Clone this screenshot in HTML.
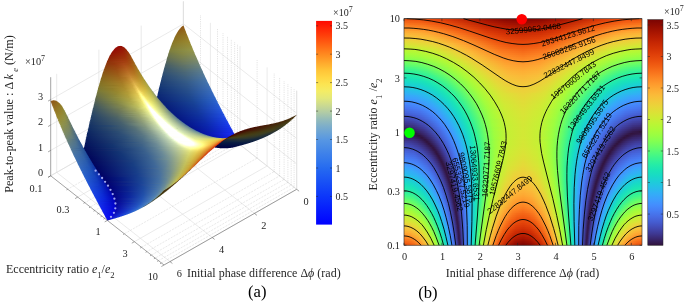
<!DOCTYPE html>
<html><head><meta charset="utf-8"><title>figure</title>
<style>html,body{margin:0;padding:0;background:#fff}svg{display:block}text{font-family:"Liberation Serif",serif}.ss text{font-family:"Liberation Sans",sans-serif}</style>
</head><body>
<svg width="685" height="303" viewBox="0 0 685 303">
<rect width="685" height="303" fill="#fff"/>
<path d="M183.4,100.1L296.7,189.3M183.4,100.1L183.4,1.5M141.2,124.2L254.5,213.4M141.2,124.2L141.2,25.6M98.9,148.3L212.2,237.5M98.9,148.3L98.9,49.7M56.7,172.4L170.0,261.6M56.7,172.4L56.7,73.8M183.4,100.1L50.7,175.8M183.4,100.1L183.4,1.5M210.4,121.4L77.7,197.1M210.4,121.4L210.4,22.8M240.0,144.7L107.3,220.4M240.0,144.7L240.0,46.1M267.1,166.0L134.4,241.7M267.1,166.0L267.1,67.4M296.7,189.3L164.0,265.0M296.7,189.3L296.7,90.7M50.7,175.8L183.4,100.1L296.7,189.3M50.7,150.4L183.4,74.7L296.7,163.9M50.7,125.0L183.4,49.3L296.7,138.5M50.7,99.6L183.4,23.9L296.7,113.1M183.4,100.1L183.4,1.5M296.7,189.3L296.7,90.7" fill="none" stroke="#dcdcdc" stroke-width="0.6"/><path d="M200.5,113.5L67.8,189.2M200.5,113.5L200.5,15.0M217.5,127.0L84.8,202.7M217.5,127.0L217.5,28.4M223.0,131.3L90.3,207.0M223.0,131.3L223.0,32.7M227.5,134.8L94.8,210.5M227.5,134.8L227.5,36.3M231.3,137.8L98.6,213.5M231.3,137.8L231.3,39.2M234.6,140.4L101.9,216.1M234.6,140.4L234.6,41.8M237.5,142.7L104.8,218.4M237.5,142.7L237.5,44.1M257.1,158.1L124.4,233.8M257.1,158.1L257.1,59.6M274.2,171.6L141.5,247.3M274.2,171.6L274.2,73.0M279.6,175.9L146.9,251.6M279.6,175.9L279.6,77.3M284.1,179.4L151.4,255.1M284.1,179.4L284.1,80.9M287.9,182.4L155.2,258.1M287.9,182.4L287.9,83.8M291.2,185.0L158.5,260.7M291.2,185.0L291.2,86.4M294.1,187.3L161.4,263.0M294.1,187.3L294.1,88.7" fill="none" stroke="#bcbcbc" stroke-width="0.55" stroke-dasharray="0.7 1.1"/><defs><linearGradient id="s7"><stop offset=".125" stop-color="#905817" stop-opacity="0"/><stop offset=".375" stop-color="#905817" stop-opacity="0.06"/><stop offset=".625" stop-color="#905817" stop-opacity="0.19"/><stop offset=".875" stop-color="#905817" stop-opacity="0"/></linearGradient><linearGradient id="s8"><stop offset=".1" stop-color="#8f5817" stop-opacity="0"/><stop offset=".3" stop-color="#8f5817" stop-opacity="0.19"/><stop offset=".5" stop-color="#905817" stop-opacity="0.88"/><stop offset=".7" stop-color="#905917" stop-opacity="0.88"/><stop offset=".9" stop-color="#905917" stop-opacity="0"/></linearGradient><linearGradient id="s9"><stop offset=".071" stop-color="#8f5a18" stop-opacity="0"/><stop offset=".214" stop-color="#8f5a18" stop-opacity="0.19"/><stop offset=".357" stop-color="#8f5918" stop-opacity="0.94"/><stop offset=".5" stop-color="#905a18"/><stop offset=".643" stop-color="#905c18"/><stop offset=".786" stop-color="#905c18" stop-opacity="0.25"/><stop offset=".929" stop-color="#905c18" stop-opacity="0"/></linearGradient><linearGradient id="s10"><stop offset=".062" stop-color="#8f5c19" stop-opacity="0"/><stop offset=".188" stop-color="#8f5c19" stop-opacity="0.12"/><stop offset=".312" stop-color="#8f5a18" stop-opacity="0.81"/><stop offset=".438" stop-color="#8f5b18"/><stop offset=".688" stop-color="#905e1a"/><stop offset=".812" stop-color="#915f1a" stop-opacity="0.56"/><stop offset=".938" stop-color="#915f1a" stop-opacity="0"/></linearGradient><linearGradient id="s11"><stop offset=".056" stop-color="#8e5d19" stop-opacity="0"/><stop offset=".167" stop-color="#8e5d19" stop-opacity="0.75"/><stop offset=".278" stop-color="#8f5d19"/><stop offset=".611" stop-color="#91621b"/><stop offset=".722" stop-color="#91631b" stop-opacity="0.94"/><stop offset=".833" stop-color="#92651c" stop-opacity="0.06"/><stop offset=".944" stop-color="#92651c" stop-opacity="0"/></linearGradient><linearGradient id="s12"><stop offset=".05" stop-color="#8e5f1a" stop-opacity="0"/><stop offset=".15" stop-color="#8e5f1a" stop-opacity="0.56"/><stop offset=".25" stop-color="#8e5f1a"/><stop offset=".75" stop-color="#92661c"/><stop offset=".85" stop-color="#92681d" stop-opacity="0.38"/><stop offset=".95" stop-color="#92681d" stop-opacity="0"/></linearGradient><linearGradient id="s13"><stop offset=".045" stop-color="#8d621b" stop-opacity="0"/><stop offset=".136" stop-color="#8d621b" stop-opacity="0.19"/><stop offset=".227" stop-color="#8d611b"/><stop offset=".773" stop-color="#92691e"/><stop offset=".864" stop-color="#926a1e" stop-opacity="0.81"/><stop offset=".955" stop-color="#926a1e" stop-opacity="0"/></linearGradient><linearGradient id="s14"><stop offset=".042" stop-color="#8d641c" stop-opacity="0"/><stop offset=".125" stop-color="#8d641c" stop-opacity="0.81"/><stop offset=".208" stop-color="#8e641c"/><stop offset=".792" stop-color="#936e20"/><stop offset=".875" stop-color="#936f20" stop-opacity="0.12"/><stop offset=".958" stop-color="#936f20" stop-opacity="0"/></linearGradient><linearGradient id="s15"><stop offset=".038" stop-color="#8c671d" stop-opacity="0"/><stop offset=".115" stop-color="#8c671d" stop-opacity="0.38"/><stop offset=".192" stop-color="#8d661d"/><stop offset=".808" stop-color="#937021"/><stop offset=".962" stop-color="#937222" stop-opacity="0"/></linearGradient><linearGradient id="s16"><stop offset=".036" stop-color="#8c6a1e" stop-opacity="0"/><stop offset=".107" stop-color="#8c6a1e" stop-opacity="0.06"/><stop offset=".179" stop-color="#8c691e" stop-opacity="0.88"/><stop offset=".25" stop-color="#8d691e"/><stop offset=".821" stop-color="#937322"/><stop offset=".893" stop-color="#947423" stop-opacity="0.94"/><stop offset=".964" stop-color="#947423" stop-opacity="0"/></linearGradient><linearGradient id="s17"><stop offset=".033" stop-color="#8c6d20" stop-opacity="0"/><stop offset=".167" stop-color="#8c6c1f"/><stop offset=".833" stop-color="#947624"/><stop offset=".9" stop-color="#947725" stop-opacity="0.38"/><stop offset=".967" stop-color="#947725" stop-opacity="0"/></linearGradient><linearGradient id="s18"><stop offset=".031" stop-color="#8b6f21" stop-opacity="0"/><stop offset=".094" stop-color="#8b6f21" stop-opacity="0.06"/><stop offset=".156" stop-color="#8c6e20" stop-opacity="0.94"/><stop offset=".219" stop-color="#8c6e20"/><stop offset=".844" stop-color="#957826"/><stop offset=".906" stop-color="#957a26" stop-opacity="0.75"/><stop offset=".969" stop-color="#957a26" stop-opacity="0"/></linearGradient><linearGradient id="s19"><stop offset=".029" stop-color="#8b7022" stop-opacity="0"/><stop offset=".147" stop-color="#8b6f21"/><stop offset=".853" stop-color="#957c28"/><stop offset=".912" stop-color="#967d28" stop-opacity="0.19"/><stop offset=".971" stop-color="#967d28" stop-opacity="0"/></linearGradient><linearGradient id="s20"><stop offset=".029" stop-color="#8b7123" stop-opacity="0"/><stop offset=".088" stop-color="#8b7123" stop-opacity="0.88"/><stop offset=".147" stop-color="#8b7123"/><stop offset=".853" stop-color="#967e29"/><stop offset=".912" stop-color="#977f2a" stop-opacity="0.56"/><stop offset=".971" stop-color="#977f2a" stop-opacity="0"/></linearGradient><linearGradient id="s21"><stop offset=".028" stop-color="#8a7425" stop-opacity="0"/><stop offset=".083" stop-color="#8a7425" stop-opacity="0.25"/><stop offset=".139" stop-color="#8b7224"/><stop offset=".861" stop-color="#96802b"/><stop offset=".917" stop-color="#97812b" stop-opacity="0.88"/><stop offset=".972" stop-color="#97812b" stop-opacity="0"/></linearGradient><linearGradient id="s22"><stop offset=".026" stop-color="#8a7526" stop-opacity="0"/><stop offset=".079" stop-color="#8a7526" stop-opacity="0.75"/><stop offset=".132" stop-color="#8b7525"/><stop offset=".868" stop-color="#98842d"/><stop offset=".921" stop-color="#98842d" stop-opacity="0.38"/><stop offset=".974" stop-color="#98842d" stop-opacity="0"/></linearGradient><linearGradient id="s23"><stop offset=".025" stop-color="#8a7727" stop-opacity="0"/><stop offset=".075" stop-color="#8a7727" stop-opacity="0.19"/><stop offset=".125" stop-color="#8a7727"/><stop offset=".875" stop-color="#98862e"/><stop offset=".925" stop-color="#98872f" stop-opacity="0.75"/><stop offset=".975" stop-color="#98872f" stop-opacity="0"/></linearGradient><linearGradient id="s24"><stop offset=".024" stop-color="#897a2a" stop-opacity="0"/><stop offset=".071" stop-color="#897a2a" stop-opacity="0.62"/><stop offset=".119" stop-color="#8a7928"/><stop offset=".881" stop-color="#988831"/><stop offset=".929" stop-color="#988932" stop-opacity="0.19"/><stop offset=".976" stop-color="#988932" stop-opacity="0"/></linearGradient><linearGradient id="s25"><stop offset=".023" stop-color="#877b2e" stop-opacity="0"/><stop offset=".068" stop-color="#877b2e" stop-opacity="0.06"/><stop offset=".114" stop-color="#897a2b"/><stop offset=".886" stop-color="#978a34"/><stop offset=".977" stop-color="#978a35" stop-opacity="0"/></linearGradient><linearGradient id="s26"><stop offset=".023" stop-color="#877b2e" stop-opacity="0"/><stop offset=".068" stop-color="#877b2e" stop-opacity="0.38"/><stop offset=".114" stop-color="#887b2e"/><stop offset=".886" stop-color="#968b36"/><stop offset=".932" stop-color="#978c37" stop-opacity="0.94"/><stop offset=".977" stop-color="#978c37" stop-opacity="0"/></linearGradient><linearGradient id="s27"><stop offset=".007" stop-color="#950b02" stop-opacity="0"/><stop offset=".02" stop-color="#950b02" stop-opacity="0.06"/><stop offset=".034" stop-color="#950b02" stop-opacity="0"/><stop offset=".696" stop-color="#867c31" stop-opacity="0"/><stop offset=".709" stop-color="#867c31" stop-opacity="0.75"/><stop offset=".723" stop-color="#867c30"/><stop offset=".966" stop-color="#968d3a"/><stop offset=".98" stop-color="#968e3a" stop-opacity="0.38"/><stop offset=".993" stop-color="#968e3a" stop-opacity="0"/></linearGradient><linearGradient id="s28"><stop offset=".006" stop-color="#960903" stop-opacity="0"/><stop offset=".019" stop-color="#960903" stop-opacity="0.5"/><stop offset=".032" stop-color="#960903" stop-opacity="0.88"/><stop offset=".045" stop-color="#950a02"/><stop offset=".071" stop-color="#950e02"/><stop offset=".097" stop-color="#961704" stop-opacity="0.12"/><stop offset=".11" stop-color="#961704" stop-opacity="0"/><stop offset=".695" stop-color="#847d33" stop-opacity="0"/><stop offset=".708" stop-color="#847d33" stop-opacity="0.19"/><stop offset=".721" stop-color="#857d32"/><stop offset=".968" stop-color="#968e3c"/><stop offset=".981" stop-color="#96903d" stop-opacity="0.88"/><stop offset=".994" stop-color="#96903d" stop-opacity="0"/></linearGradient><linearGradient id="s29"><stop offset=".006" stop-color="#960b04" stop-opacity="0"/><stop offset=".019" stop-color="#960b04" stop-opacity="0.25"/><stop offset=".031" stop-color="#960a04" stop-opacity="0.81"/><stop offset=".044" stop-color="#960a04"/><stop offset=".106" stop-color="#961303"/><stop offset=".119" stop-color="#961704" stop-opacity="0.94"/><stop offset=".131" stop-color="#961c05" stop-opacity="0.44"/><stop offset=".144" stop-color="#961c05" stop-opacity="0"/><stop offset=".256" stop-color="#961c05" stop-opacity="0"/><stop offset=".694" stop-color="#827e36" stop-opacity="0"/><stop offset=".719" stop-color="#847e34"/><stop offset=".969" stop-color="#959140"/><stop offset=".981" stop-color="#959140" stop-opacity="0.25"/><stop offset=".994" stop-color="#959140" stop-opacity="0"/></linearGradient><linearGradient id="s30"><stop offset=".006" stop-color="#950c04" stop-opacity="0"/><stop offset=".019" stop-color="#950c04" stop-opacity="0.25"/><stop offset=".031" stop-color="#960b04" stop-opacity="0.94"/><stop offset=".043" stop-color="#970c05"/><stop offset=".142" stop-color="#961d05"/><stop offset=".154" stop-color="#962306" stop-opacity="0.44"/><stop offset=".167" stop-color="#962306" stop-opacity="0"/><stop offset=".29" stop-color="#962306" stop-opacity="0"/><stop offset=".698" stop-color="#827e37" stop-opacity="0"/><stop offset=".71" stop-color="#827e37" stop-opacity="0.81"/><stop offset=".722" stop-color="#827f38"/><stop offset=".969" stop-color="#959242"/><stop offset=".981" stop-color="#959343" stop-opacity="0.69"/><stop offset=".994" stop-color="#959343" stop-opacity="0"/></linearGradient><linearGradient id="s31"><stop offset=".006" stop-color="#940e05" stop-opacity="0"/><stop offset=".018" stop-color="#940e05" stop-opacity="0.12"/><stop offset=".03" stop-color="#950d04" stop-opacity="0.94"/><stop offset=".042" stop-color="#960e05"/><stop offset=".114" stop-color="#981504"/><stop offset=".163" stop-color="#972406"/><stop offset=".175" stop-color="#962907" stop-opacity="0.44"/><stop offset=".187" stop-color="#962907" stop-opacity="0"/><stop offset=".199" stop-color="#962907" stop-opacity="0"/><stop offset=".681" stop-color="#80803b" stop-opacity="0"/><stop offset=".693" stop-color="#80803b" stop-opacity="0.25"/><stop offset=".705" stop-color="#80803a"/><stop offset=".958" stop-color="#949445"/><stop offset=".97" stop-color="#959446" stop-opacity="0.94"/><stop offset=".982" stop-color="#939448" stop-opacity="0.06"/><stop offset=".994" stop-color="#939448" stop-opacity="0"/></linearGradient><linearGradient id="s32"><stop offset=".006" stop-color="#931005" stop-opacity="0"/><stop offset=".018" stop-color="#931005" stop-opacity="0.06"/><stop offset=".03" stop-color="#940f05" stop-opacity="0.81"/><stop offset=".042" stop-color="#950f05"/><stop offset=".149" stop-color="#981c05"/><stop offset=".185" stop-color="#972b08"/><stop offset=".196" stop-color="#973209" stop-opacity="0.19"/><stop offset=".208" stop-color="#973209" stop-opacity="0"/><stop offset=".351" stop-color="#973209" stop-opacity="0"/><stop offset=".685" stop-color="#7c7e3e" stop-opacity="0"/><stop offset=".696" stop-color="#7c7e3e" stop-opacity="0.62"/><stop offset=".708" stop-color="#7f7f3c"/><stop offset=".97" stop-color="#939448"/><stop offset=".994" stop-color="#92934a" stop-opacity="0"/></linearGradient><linearGradient id="s33"><stop offset=".006" stop-color="#931105" stop-opacity="0"/><stop offset=".018" stop-color="#931105" stop-opacity="0.69"/><stop offset=".03" stop-color="#941105"/><stop offset=".137" stop-color="#991c06"/><stop offset=".185" stop-color="#982b08"/><stop offset=".196" stop-color="#98330a" stop-opacity="0.94"/><stop offset=".208" stop-color="#973a0c" stop-opacity="0.12"/><stop offset=".22" stop-color="#973a0c" stop-opacity="0"/><stop offset=".494" stop-color="#797c40" stop-opacity="0"/><stop offset=".685" stop-color="#797c40" stop-opacity="0"/><stop offset=".696" stop-color="#797c40" stop-opacity="0.88"/><stop offset=".708" stop-color="#7c7e3f"/><stop offset=".97" stop-color="#90934b"/><stop offset=".982" stop-color="#90924c" stop-opacity="0.88"/><stop offset=".994" stop-color="#90924c" stop-opacity="0"/></linearGradient><linearGradient id="s34"><stop offset=".006" stop-color="#921405" stop-opacity="0"/><stop offset=".017" stop-color="#921405" stop-opacity="0.38"/><stop offset=".029" stop-color="#921305"/><stop offset=".145" stop-color="#9a1e06"/><stop offset=".203" stop-color="#99330a"/><stop offset=".215" stop-color="#973d0c" stop-opacity="0.81"/><stop offset=".227" stop-color="#973d0c" stop-opacity="0"/><stop offset=".343" stop-color="#973d0c" stop-opacity="0"/><stop offset=".669" stop-color="#737845" stop-opacity="0"/><stop offset=".68" stop-color="#737845" stop-opacity="0.19"/><stop offset=".692" stop-color="#777b42"/><stop offset=".831" stop-color="#878842"/><stop offset=".971" stop-color="#8e914f"/><stop offset=".983" stop-color="#8d9150" stop-opacity="0.38"/><stop offset=".994" stop-color="#8d9150" stop-opacity="0"/></linearGradient><linearGradient id="s35"><stop offset=".006" stop-color="#911805" stop-opacity="0"/><stop offset=".017" stop-color="#911805" stop-opacity="0.06"/><stop offset=".029" stop-color="#911605" stop-opacity="0.94"/><stop offset=".04" stop-color="#931605"/><stop offset=".178" stop-color="#9b2507"/><stop offset=".224" stop-color="#993b0c"/><stop offset=".236" stop-color="#98450f" stop-opacity="0.44"/><stop offset=".247" stop-color="#98450f" stop-opacity="0"/><stop offset=".351" stop-color="#98450f" stop-opacity="0"/><stop offset=".672" stop-color="#737845" stop-opacity="0"/><stop offset=".684" stop-color="#737845" stop-opacity="0.62"/><stop offset=".695" stop-color="#737846"/><stop offset=".833" stop-color="#848645"/><stop offset=".971" stop-color="#8c9052"/><stop offset=".983" stop-color="#8b9053" stop-opacity="0.69"/><stop offset=".994" stop-color="#8b9053" stop-opacity="0"/></linearGradient><linearGradient id="s36"><stop offset=".006" stop-color="#911a05" stop-opacity="0"/><stop offset=".028" stop-color="#921905"/><stop offset=".165" stop-color="#9c2608"/><stop offset=".222" stop-color="#9a3a0c"/><stop offset=".233" stop-color="#99450f" stop-opacity="0.94"/><stop offset=".244" stop-color="#984e11" stop-opacity="0.06"/><stop offset=".256" stop-color="#984e11" stop-opacity="0"/><stop offset=".46" stop-color="#984e11" stop-opacity="0"/><stop offset=".665" stop-color="#6f7649" stop-opacity="0"/><stop offset=".676" stop-color="#6f7649" stop-opacity="0.88"/><stop offset=".688" stop-color="#707748"/><stop offset=".847" stop-color="#848748"/><stop offset=".972" stop-color="#899056"/><stop offset=".983" stop-color="#889057" stop-opacity="0.12"/><stop offset=".994" stop-color="#889057" stop-opacity="0"/></linearGradient><linearGradient id="s37"><stop offset=".006" stop-color="#901e06" stop-opacity="0"/><stop offset=".017" stop-color="#901e06" stop-opacity="0.25"/><stop offset=".028" stop-color="#901b06"/><stop offset=".185" stop-color="#9d2a09"/><stop offset=".242" stop-color="#9a430e"/><stop offset=".253" stop-color="#985012" stop-opacity="0.75"/><stop offset=".264" stop-color="#985012" stop-opacity="0"/><stop offset=".331" stop-color="#985012" stop-opacity="0"/><stop offset=".657" stop-color="#6c744b" stop-opacity="0"/><stop offset=".669" stop-color="#6c744b" stop-opacity="0.12"/><stop offset=".68" stop-color="#6b744c"/><stop offset=".837" stop-color="#7f844b"/><stop offset=".972" stop-color="#878e59"/><stop offset=".983" stop-color="#868e5a" stop-opacity="0.62"/><stop offset=".994" stop-color="#868e5a" stop-opacity="0"/></linearGradient><linearGradient id="s38"><stop offset=".006" stop-color="#901f06" stop-opacity="0"/><stop offset=".017" stop-color="#901f06" stop-opacity="0.75"/><stop offset=".028" stop-color="#911e06"/><stop offset=".194" stop-color="#9e2f0a"/><stop offset=".25" stop-color="#9a4c11"/><stop offset=".261" stop-color="#985815" stop-opacity="0.25"/><stop offset=".272" stop-color="#985815" stop-opacity="0"/><stop offset=".283" stop-color="#985815" stop-opacity="0"/><stop offset=".65" stop-color="#66714f" stop-opacity="0"/><stop offset=".661" stop-color="#66714f" stop-opacity="0.44"/><stop offset=".672" stop-color="#6a734d"/><stop offset=".839" stop-color="#7d834e"/><stop offset=".972" stop-color="#848d5d"/><stop offset=".983" stop-color="#838d5e" stop-opacity="0.12"/><stop offset=".994" stop-color="#838d5e" stop-opacity="0"/></linearGradient><linearGradient id="s39"><stop offset=".005" stop-color="#8f2307" stop-opacity="0"/><stop offset=".016" stop-color="#8f2307" stop-opacity="0.12"/><stop offset=".027" stop-color="#8f2106"/><stop offset=".203" stop-color="#9f320a"/><stop offset=".258" stop-color="#9c4a10"/><stop offset=".269" stop-color="#9a5614" stop-opacity="0.75"/><stop offset=".28" stop-color="#9a5614" stop-opacity="0"/><stop offset=".346" stop-color="#9a5614" stop-opacity="0"/><stop offset=".654" stop-color="#657050" stop-opacity="0"/><stop offset=".665" stop-color="#657050" stop-opacity="0.88"/><stop offset=".676" stop-color="#677150"/><stop offset=".819" stop-color="#79804f"/><stop offset=".973" stop-color="#828c60"/><stop offset=".995" stop-color="#818c61" stop-opacity="0"/></linearGradient><linearGradient id="s40"><stop offset=".005" stop-color="#8e2507" stop-opacity="0"/><stop offset=".016" stop-color="#8e2507" stop-opacity="0.62"/><stop offset=".027" stop-color="#8f2407"/><stop offset=".203" stop-color="#a0350c"/><stop offset=".236" stop-color="#9f3e0d"/><stop offset=".269" stop-color="#9c5413"/><stop offset=".28" stop-color="#996119" stop-opacity="0.31"/><stop offset=".291" stop-color="#996119" stop-opacity="0"/><stop offset=".346" stop-color="#996119" stop-opacity="0"/><stop offset=".643" stop-color="#5e6b56" stop-opacity="0"/><stop offset=".654" stop-color="#5e6b56" stop-opacity="0.12"/><stop offset=".665" stop-color="#626e53"/><stop offset=".819" stop-color="#757e52"/><stop offset=".973" stop-color="#808b62"/><stop offset=".984" stop-color="#7f8b64" stop-opacity="0.94"/><stop offset=".995" stop-color="#7f8b64" stop-opacity="0"/></linearGradient><linearGradient id="s41"><stop offset=".005" stop-color="#8e2b08" stop-opacity="0"/><stop offset=".016" stop-color="#8e2b08" stop-opacity="0.06"/><stop offset=".027" stop-color="#8e2807"/><stop offset=".167" stop-color="#a2340f"/><stop offset=".22" stop-color="#a13a0d"/><stop offset=".274" stop-color="#9d5212"/><stop offset=".285" stop-color="#9b5e18" stop-opacity="0.88"/><stop offset=".296" stop-color="#9b5e18" stop-opacity="0"/><stop offset=".64" stop-color="#5e6b56" stop-opacity="0"/><stop offset=".651" stop-color="#5e6b56" stop-opacity="0.38"/><stop offset=".661" stop-color="#5e6b57"/><stop offset=".812" stop-color="#737c55"/><stop offset=".973" stop-color="#7d8a66"/><stop offset=".984" stop-color="#7c8a68" stop-opacity="0.38"/><stop offset=".995" stop-color="#7c8a68" stop-opacity="0"/></linearGradient><linearGradient id="s42"><stop offset=".005" stop-color="#8e2c08" stop-opacity="0"/><stop offset=".016" stop-color="#8e2c08" stop-opacity="0.56"/><stop offset=".027" stop-color="#8f2c08"/><stop offset=".22" stop-color="#a33d0e"/><stop offset=".253" stop-color="#a1460f"/><stop offset=".285" stop-color="#9d5b16"/><stop offset=".296" stop-color="#9b671b" stop-opacity="0.38"/><stop offset=".306" stop-color="#9b671b" stop-opacity="0"/><stop offset=".64" stop-color="#596859" stop-opacity="0"/><stop offset=".651" stop-color="#596859" stop-opacity="0.62"/><stop offset=".661" stop-color="#5c6a58"/><stop offset=".833" stop-color="#727d59"/><stop offset=".973" stop-color="#7a896a"/><stop offset=".984" stop-color="#7a896b" stop-opacity="0.81"/><stop offset=".995" stop-color="#7a896b" stop-opacity="0"/></linearGradient><linearGradient id="s43"><stop offset=".005" stop-color="#8d310a" stop-opacity="0"/><stop offset=".016" stop-color="#8d310a" stop-opacity="0.06"/><stop offset=".026" stop-color="#8d2f09"/><stop offset=".184" stop-color="#a53c12"/><stop offset=".237" stop-color="#a4420f"/><stop offset=".289" stop-color="#a05915"/><stop offset=".3" stop-color="#9d651a" stop-opacity="0.88"/><stop offset=".311" stop-color="#9d651a" stop-opacity="0"/><stop offset=".342" stop-color="#9d651a" stop-opacity="0"/><stop offset=".637" stop-color="#54665c" stop-opacity="0"/><stop offset=".647" stop-color="#54665c" stop-opacity="0.88"/><stop offset=".658" stop-color="#58685a"/><stop offset=".837" stop-color="#707c5b"/><stop offset=".974" stop-color="#77886e"/><stop offset=".984" stop-color="#77886e" stop-opacity="0.25"/><stop offset=".995" stop-color="#77886e" stop-opacity="0"/></linearGradient><linearGradient id="s44"><stop offset=".005" stop-color="#8d340b" stop-opacity="0"/><stop offset=".016" stop-color="#8d340b" stop-opacity="0.38"/><stop offset=".026" stop-color="#8d320a"/><stop offset=".226" stop-color="#a64311"/><stop offset=".268" stop-color="#a34d11"/><stop offset=".3" stop-color="#9f6118"/><stop offset=".311" stop-color="#875e19" stop-opacity="0.5"/><stop offset=".321" stop-color="#875e19" stop-opacity="0"/><stop offset=".342" stop-color="#875e19" stop-opacity="0"/><stop offset=".626" stop-color="#4c6161" stop-opacity="0"/><stop offset=".637" stop-color="#4c6161" stop-opacity="0.12"/><stop offset=".647" stop-color="#52645d"/><stop offset=".816" stop-color="#6a785d"/><stop offset=".974" stop-color="#758670"/><stop offset=".984" stop-color="#748672" stop-opacity="0.69"/><stop offset=".995" stop-color="#748672" stop-opacity="0"/></linearGradient><linearGradient id="s45"><stop offset=".005" stop-color="#8d360b" stop-opacity="0"/><stop offset=".016" stop-color="#8d360b" stop-opacity="0.81"/><stop offset=".026" stop-color="#8d360b"/><stop offset=".099" stop-color="#97360c"/><stop offset=".193" stop-color="#a84515"/><stop offset=".255" stop-color="#a64c12"/><stop offset=".297" stop-color="#a26017"/><stop offset=".307" stop-color="#9e6b1c" stop-opacity="0.94"/><stop offset=".318" stop-color="#9b7a24" stop-opacity="0.06"/><stop offset=".328" stop-color="#9b7a24" stop-opacity="0"/><stop offset=".401" stop-color="#9b7a24" stop-opacity="0"/><stop offset=".62" stop-color="#4c6161" stop-opacity="0"/><stop offset=".641" stop-color="#4e6260"/><stop offset=".839" stop-color="#6b7a62"/><stop offset=".974" stop-color="#718575"/><stop offset=".984" stop-color="#6f8477" stop-opacity="0.12"/><stop offset=".995" stop-color="#6f8477" stop-opacity="0"/></linearGradient><linearGradient id="s46"><stop offset=".005" stop-color="#8c3c0d" stop-opacity="0"/><stop offset=".015" stop-color="#8c3c0d" stop-opacity="0.12"/><stop offset=".026" stop-color="#8c390c"/><stop offset=".108" stop-color="#97390d"/><stop offset=".201" stop-color="#a94816"/><stop offset=".253" stop-color="#a84d13"/><stop offset=".314" stop-color="#a1681b"/><stop offset=".335" stop-color="#9e721f" stop-opacity="0"/><stop offset=".624" stop-color="#495f63" stop-opacity="0"/><stop offset=".634" stop-color="#495f63" stop-opacity="0.81"/><stop offset=".644" stop-color="#4a6063"/><stop offset=".809" stop-color="#647462"/><stop offset=".974" stop-color="#6e8478"/><stop offset=".985" stop-color="#6e8378" stop-opacity="0.62"/><stop offset=".995" stop-color="#6e8378" stop-opacity="0"/></linearGradient><linearGradient id="s47"><stop offset=".005" stop-color="#8b3e0e" stop-opacity="0"/><stop offset=".015" stop-color="#8b3e0e" stop-opacity="0.56"/><stop offset=".026" stop-color="#8c3c0d"/><stop offset=".128" stop-color="#9a3f0f"/><stop offset=".209" stop-color="#ab4e18"/><stop offset=".27" stop-color="#a85514"/><stop offset=".321" stop-color="#9b6d1e"/><stop offset=".332" stop-color="#72591a" stop-opacity="0.12"/><stop offset=".342" stop-color="#72591a" stop-opacity="0"/><stop offset=".607" stop-color="#445c66" stop-opacity="0"/><stop offset=".617" stop-color="#445c66" stop-opacity="0.06"/><stop offset=".628" stop-color="#445c66"/><stop offset=".781" stop-color="#5d6f64"/><stop offset=".964" stop-color="#6b837b"/><stop offset=".974" stop-color="#6a827c" stop-opacity="0.94"/><stop offset=".985" stop-color="#6a827c" stop-opacity="0.06"/><stop offset=".995" stop-color="#6a827c" stop-opacity="0"/></linearGradient><linearGradient id="s48"><stop offset=".005" stop-color="#8b410e" stop-opacity="0"/><stop offset=".015" stop-color="#8b410e" stop-opacity="0.88"/><stop offset=".026" stop-color="#8c400e"/><stop offset=".128" stop-color="#9a4210"/><stop offset=".219" stop-color="#ae531a"/><stop offset=".281" stop-color="#a95a15"/><stop offset=".321" stop-color="#a46e1d"/><stop offset=".332" stop-color="#987321" stop-opacity="0.69"/><stop offset=".342" stop-color="#987321" stop-opacity="0"/><stop offset=".607" stop-color="#415a67" stop-opacity="0"/><stop offset=".617" stop-color="#415a67" stop-opacity="0.31"/><stop offset=".628" stop-color="#435b67"/><stop offset=".811" stop-color="#5d7168"/><stop offset=".974" stop-color="#68817e"/><stop offset=".985" stop-color="#668180" stop-opacity="0.44"/><stop offset=".995" stop-color="#668180" stop-opacity="0"/></linearGradient><linearGradient id="s49"><stop offset=".005" stop-color="#8b4510" stop-opacity="0"/><stop offset=".015" stop-color="#8b4510" stop-opacity="0.31"/><stop offset=".025" stop-color="#8b440f"/><stop offset=".146" stop-color="#9c4611"/><stop offset=".237" stop-color="#b0581b"/><stop offset=".298" stop-color="#aa6017"/><stop offset=".338" stop-color="#a27721"/><stop offset=".348" stop-color="#735c1c" stop-opacity="0.25"/><stop offset=".359" stop-color="#735c1c" stop-opacity="0"/><stop offset=".369" stop-color="#735c1c" stop-opacity="0"/><stop offset=".611" stop-color="#3d5869" stop-opacity="0"/><stop offset=".621" stop-color="#3d5869" stop-opacity="0.62"/><stop offset=".631" stop-color="#415a68"/><stop offset=".854" stop-color="#5f746d"/><stop offset=".975" stop-color="#658081"/><stop offset=".985" stop-color="#648084" stop-opacity="0.88"/><stop offset=".995" stop-color="#648084" stop-opacity="0"/></linearGradient><linearGradient id="s50"><stop offset=".005" stop-color="#8b4910" stop-opacity="0"/><stop offset=".015" stop-color="#8b4910" stop-opacity="0.62"/><stop offset=".025" stop-color="#8b4710"/><stop offset=".135" stop-color="#9a4811"/><stop offset=".235" stop-color="#b25d1d"/><stop offset=".295" stop-color="#ac6218"/><stop offset=".335" stop-color="#a67520"/><stop offset=".345" stop-color="#a27e25" stop-opacity="0.75"/><stop offset=".355" stop-color="#a27e25" stop-opacity="0"/><stop offset=".475" stop-color="#a27e25" stop-opacity="0"/><stop offset=".605" stop-color="#3d5869" stop-opacity="0"/><stop offset=".615" stop-color="#3d5869" stop-opacity="0.94"/><stop offset=".625" stop-color="#3c586a"/><stop offset=".825" stop-color="#59706e"/><stop offset=".975" stop-color="#617e86"/><stop offset=".985" stop-color="#607e87" stop-opacity="0.38"/><stop offset=".995" stop-color="#607e87" stop-opacity="0"/></linearGradient><linearGradient id="s51"><stop offset=".005" stop-color="#8a4e13" stop-opacity="0"/><stop offset=".015" stop-color="#8a4e13" stop-opacity="0.06"/><stop offset=".025" stop-color="#8a4c11"/><stop offset=".134" stop-color="#984a12"/><stop offset=".243" stop-color="#b3611f"/><stop offset=".312" stop-color="#ad681a"/><stop offset=".351" stop-color="#a57d23"/><stop offset=".361" stop-color="#927724" stop-opacity="0.38"/><stop offset=".371" stop-color="#927724" stop-opacity="0"/><stop offset=".599" stop-color="#37546d" stop-opacity="0"/><stop offset=".609" stop-color="#37546d" stop-opacity="0.19"/><stop offset=".619" stop-color="#39556c"/><stop offset=".817" stop-color="#546d70"/><stop offset=".975" stop-color="#5f7d89"/><stop offset=".985" stop-color="#5e7d8a" stop-opacity="0.88"/><stop offset=".995" stop-color="#5e7d8a" stop-opacity="0"/></linearGradient><linearGradient id="s52"><stop offset=".005" stop-color="#8a4f13" stop-opacity="0"/><stop offset=".015" stop-color="#8a4f13" stop-opacity="0.44"/><stop offset=".025" stop-color="#8a4e12"/><stop offset=".152" stop-color="#9c5014"/><stop offset=".25" stop-color="#b66621"/><stop offset=".309" stop-color="#af6a1c"/><stop offset=".348" stop-color="#a87c22"/><stop offset=".358" stop-color="#9e7e26" stop-opacity="0.94"/><stop offset=".368" stop-color="#a1892c" stop-opacity="0.06"/><stop offset=".377" stop-color="#a1892c" stop-opacity="0"/><stop offset=".456" stop-color="#a1892c" stop-opacity="0"/><stop offset=".593" stop-color="#37546d" stop-opacity="0"/><stop offset=".603" stop-color="#37546d" stop-opacity="0.44"/><stop offset=".613" stop-color="#36536e"/><stop offset=".809" stop-color="#506b72"/><stop offset=".975" stop-color="#5c7c8c"/><stop offset=".985" stop-color="#5b7c8d" stop-opacity="0.38"/><stop offset=".995" stop-color="#5b7c8d" stop-opacity="0"/></linearGradient><linearGradient id="s53"><stop offset=".005" stop-color="#895214" stop-opacity="0"/><stop offset=".015" stop-color="#895214" stop-opacity="0.75"/><stop offset=".025" stop-color="#8a5114"/><stop offset=".152" stop-color="#9c5314"/><stop offset=".25" stop-color="#b76b23"/><stop offset=".319" stop-color="#b0701e"/><stop offset=".358" stop-color="#a88226"/><stop offset=".368" stop-color="#998028" stop-opacity="0.56"/><stop offset=".377" stop-color="#998028" stop-opacity="0"/><stop offset=".456" stop-color="#998028" stop-opacity="0"/><stop offset=".593" stop-color="#335170" stop-opacity="0"/><stop offset=".603" stop-color="#335170" stop-opacity="0.69"/><stop offset=".613" stop-color="#36536e"/><stop offset=".799" stop-color="#4d6873"/><stop offset=".975" stop-color="#5a7c8e"/><stop offset=".985" stop-color="#5a7b8f" stop-opacity="0.88"/><stop offset=".995" stop-color="#5a7b8f" stop-opacity="0"/></linearGradient><linearGradient id="s54"><stop offset=".005" stop-color="#885816" stop-opacity="0"/><stop offset=".014" stop-color="#885816" stop-opacity="0.12"/><stop offset=".024" stop-color="#895516"/><stop offset=".159" stop-color="#9c5615"/><stop offset=".264" stop-color="#ba7026"/><stop offset=".322" stop-color="#b2721f"/><stop offset=".37" stop-color="#a6882a"/><stop offset=".38" stop-color="#837326" stop-opacity="0.19"/><stop offset=".389" stop-color="#837326" stop-opacity="0"/><stop offset=".409" stop-color="#837326" stop-opacity="0"/><stop offset=".591" stop-color="#304f71" stop-opacity="0"/><stop offset=".601" stop-color="#304f71" stop-opacity="0.94"/><stop offset=".611" stop-color="#335170"/><stop offset=".803" stop-color="#4a6676"/><stop offset=".976" stop-color="#587a91"/><stop offset=".986" stop-color="#577a92" stop-opacity="0.12"/><stop offset=".995" stop-color="#577a92" stop-opacity="0"/></linearGradient><linearGradient id="s55"><stop offset=".005" stop-color="#885a17" stop-opacity="0"/><stop offset=".014" stop-color="#885a17" stop-opacity="0.44"/><stop offset=".024" stop-color="#895817"/><stop offset=".159" stop-color="#9c5917"/><stop offset=".264" stop-color="#bc7528"/><stop offset=".322" stop-color="#b47621"/><stop offset=".37" stop-color="#aa8828"/><stop offset=".38" stop-color="#a68d2d" stop-opacity="0.75"/><stop offset=".389" stop-color="#a68d2d" stop-opacity="0"/><stop offset=".409" stop-color="#a68d2d" stop-opacity="0"/><stop offset=".582" stop-color="#2e4d72" stop-opacity="0"/><stop offset=".591" stop-color="#2e4d72" stop-opacity="0.25"/><stop offset=".601" stop-color="#2f4f72"/><stop offset=".803" stop-color="#486677"/><stop offset=".976" stop-color="#567a94"/><stop offset=".986" stop-color="#567a94" stop-opacity="0.62"/><stop offset=".995" stop-color="#567a94" stop-opacity="0"/></linearGradient><linearGradient id="s56"><stop offset=".005" stop-color="#885c18" stop-opacity="0"/><stop offset=".014" stop-color="#885c18" stop-opacity="0.75"/><stop offset=".024" stop-color="#895b18"/><stop offset=".157" stop-color="#9c5c18"/><stop offset=".271" stop-color="#bf7a2b"/><stop offset=".319" stop-color="#b77923"/><stop offset=".376" stop-color="#a98c2c"/><stop offset=".386" stop-color="#94832d" stop-opacity="0.38"/><stop offset=".395" stop-color="#94832d" stop-opacity="0"/><stop offset=".462" stop-color="#94832d" stop-opacity="0"/><stop offset=".576" stop-color="#2b4b73" stop-opacity="0"/><stop offset=".595" stop-color="#2d4d73"/><stop offset=".805" stop-color="#47657a"/><stop offset=".976" stop-color="#537997"/><stop offset=".986" stop-color="#527899" stop-opacity="0.12"/><stop offset=".995" stop-color="#527899" stop-opacity="0"/></linearGradient><linearGradient id="s57"><stop offset=".005" stop-color="#88621b" stop-opacity="0"/><stop offset=".014" stop-color="#88621b" stop-opacity="0.06"/><stop offset=".024" stop-color="#885f1a"/><stop offset=".175" stop-color="#9e601a"/><stop offset=".278" stop-color="#c17f2e"/><stop offset=".335" stop-color="#b87f25"/><stop offset=".382" stop-color="#ad8c2b"/><stop offset=".392" stop-color="#a18c2e" stop-opacity="0.94"/><stop offset=".401" stop-color="#a09438" stop-opacity="0.06"/><stop offset=".41" stop-color="#a09438" stop-opacity="0"/><stop offset=".458" stop-color="#a09438" stop-opacity="0"/><stop offset=".58" stop-color="#2b4b73" stop-opacity="0"/><stop offset=".59" stop-color="#2b4b73" stop-opacity="0.75"/><stop offset=".599" stop-color="#2a4b73"/><stop offset=".816" stop-color="#45657c"/><stop offset=".976" stop-color="#51789a"/><stop offset=".986" stop-color="#50789b" stop-opacity="0.62"/><stop offset=".995" stop-color="#50789b" stop-opacity="0"/></linearGradient><linearGradient id="s58"><stop offset=".005" stop-color="#88641c" stop-opacity="0"/><stop offset=".014" stop-color="#88641c" stop-opacity="0.31"/><stop offset=".023" stop-color="#88621b"/><stop offset=".173" stop-color="#9e631b"/><stop offset=".285" stop-color="#c58531"/><stop offset=".341" stop-color="#b98426"/><stop offset=".388" stop-color="#ac912e"/><stop offset=".397" stop-color="#9b8b31" stop-opacity="0.56"/><stop offset=".407" stop-color="#9b8b31" stop-opacity="0"/><stop offset=".453" stop-color="#9b8b31" stop-opacity="0"/><stop offset=".575" stop-color="#274873" stop-opacity="0"/><stop offset=".584" stop-color="#274873"/><stop offset=".799" stop-color="#41627e"/><stop offset=".967" stop-color="#50779c"/><stop offset=".977" stop-color="#4f779d" stop-opacity="0.94"/><stop offset=".986" stop-color="#4d769f" stop-opacity="0.06"/><stop offset=".995" stop-color="#4d769f" stop-opacity="0"/></linearGradient><linearGradient id="s59"><stop offset=".005" stop-color="#87661d" stop-opacity="0"/><stop offset=".014" stop-color="#87661d" stop-opacity="0.69"/><stop offset=".023" stop-color="#88651c"/><stop offset=".182" stop-color="#a0681d"/><stop offset=".238" stop-color="#b17424"/><stop offset=".285" stop-color="#c78933"/><stop offset=".35" stop-color="#ba8928"/><stop offset=".397" stop-color="#aa9532"/><stop offset=".407" stop-color="#a2973a" stop-opacity="0.25"/><stop offset=".416" stop-color="#a2973a" stop-opacity="0"/><stop offset=".463" stop-color="#a2973a" stop-opacity="0"/><stop offset=".565" stop-color="#264773" stop-opacity="0"/><stop offset=".575" stop-color="#264773" stop-opacity="0.31"/><stop offset=".584" stop-color="#264774"/><stop offset=".799" stop-color="#3f607f"/><stop offset=".977" stop-color="#4d769f"/><stop offset=".995" stop-color="#4c76a0" stop-opacity="0"/></linearGradient><linearGradient id="s60"><stop offset=".005" stop-color="#87691e" stop-opacity="0"/><stop offset=".014" stop-color="#87691e" stop-opacity="0.12"/><stop offset=".023" stop-color="#87681e"/><stop offset=".188" stop-color="#a06a1e"/><stop offset=".243" stop-color="#b17725"/><stop offset=".298" stop-color="#cb9137"/><stop offset=".344" stop-color="#bf8c2b"/><stop offset=".399" stop-color="#af9630"/><stop offset=".408" stop-color="#a79837" stop-opacity="0.81"/><stop offset=".417" stop-color="#a79837" stop-opacity="0"/><stop offset=".564" stop-color="#234474" stop-opacity="0"/><stop offset=".573" stop-color="#234474" stop-opacity="0.56"/><stop offset=".583" stop-color="#254674"/><stop offset=".812" stop-color="#3f6182"/><stop offset=".968" stop-color="#4b76a2"/><stop offset=".977" stop-color="#4a75a3" stop-opacity="0.94"/><stop offset=".986" stop-color="#4975a4" stop-opacity="0.06"/><stop offset=".995" stop-color="#4975a4" stop-opacity="0"/></linearGradient><linearGradient id="s61"><stop offset=".005" stop-color="#866c20" stop-opacity="0"/><stop offset=".014" stop-color="#866c20" stop-opacity="0.38"/><stop offset=".023" stop-color="#876a1f"/><stop offset=".188" stop-color="#a06e1f"/><stop offset=".252" stop-color="#b47d28"/><stop offset=".298" stop-color="#cd9539"/><stop offset=".362" stop-color="#be922c"/><stop offset=".408" stop-color="#ae9a35"/><stop offset=".427" stop-color="#a49a3d" stop-opacity="0"/><stop offset=".564" stop-color="#224374" stop-opacity="0"/><stop offset=".573" stop-color="#224374" stop-opacity="0.75"/><stop offset=".583" stop-color="#234474"/><stop offset=".812" stop-color="#3b6084"/><stop offset=".977" stop-color="#4874a6"/><stop offset=".995" stop-color="#4774a7" stop-opacity="0"/></linearGradient><linearGradient id="s62"><stop offset=".005" stop-color="#866d21" stop-opacity="0"/><stop offset=".014" stop-color="#866d21" stop-opacity="0.62"/><stop offset=".023" stop-color="#866c20"/><stop offset=".195" stop-color="#a27221"/><stop offset=".259" stop-color="#b8822b"/><stop offset=".305" stop-color="#d19c3d"/><stop offset=".359" stop-color="#c2962e"/><stop offset=".405" stop-color="#b39b33"/><stop offset=".414" stop-color="#a39638"/><stop offset=".423" stop-color="#9f9b43" stop-opacity="0.19"/><stop offset=".432" stop-color="#9f9b43" stop-opacity="0"/><stop offset=".559" stop-color="#214374" stop-opacity="0"/><stop offset=".568" stop-color="#214374"/><stop offset=".814" stop-color="#3a5f87"/><stop offset=".968" stop-color="#4774a7"/><stop offset=".977" stop-color="#4674a9" stop-opacity="0.94"/><stop offset=".986" stop-color="#4573aa" stop-opacity="0.06"/><stop offset=".995" stop-color="#4573aa" stop-opacity="0"/></linearGradient><linearGradient id="s63"><stop offset=".005" stop-color="#856e22" stop-opacity="0"/><stop offset=".014" stop-color="#856e22" stop-opacity="0.94"/><stop offset=".023" stop-color="#866e22"/><stop offset=".214" stop-color="#a77824"/><stop offset=".277" stop-color="#c08d30"/><stop offset=".314" stop-color="#d5a340"/><stop offset=".359" stop-color="#c59a31"/><stop offset=".414" stop-color="#b19e37"/><stop offset=".423" stop-color="#9e963e" stop-opacity="0.81"/><stop offset=".432" stop-color="#9e963e" stop-opacity="0"/><stop offset=".441" stop-color="#9e963e" stop-opacity="0"/><stop offset=".55" stop-color="#1e3f74" stop-opacity="0"/><stop offset=".559" stop-color="#1e3f74" stop-opacity="0.25"/><stop offset=".568" stop-color="#1f4074"/><stop offset=".795" stop-color="#355b86"/><stop offset=".977" stop-color="#4573aa"/><stop offset=".986" stop-color="#4472ab" stop-opacity="0.38"/><stop offset=".995" stop-color="#4472ab" stop-opacity="0"/></linearGradient><linearGradient id="s64"><stop offset=".005" stop-color="#857124" stop-opacity="0"/><stop offset=".014" stop-color="#857124" stop-opacity="0.19"/><stop offset=".023" stop-color="#857124"/><stop offset=".212" stop-color="#a47924"/><stop offset=".293" stop-color="#c39334"/><stop offset=".32" stop-color="#d9a945"/><stop offset=".383" stop-color="#c39e32"/><stop offset=".428" stop-color="#ada03d"/><stop offset=".437" stop-color="#969240" stop-opacity="0.5"/><stop offset=".446" stop-color="#969240" stop-opacity="0"/><stop offset=".554" stop-color="#1e3f74" stop-opacity="0"/><stop offset=".563" stop-color="#1e3f74" stop-opacity="0.56"/><stop offset=".572" stop-color="#1d3f74"/><stop offset=".797" stop-color="#335a86"/><stop offset=".977" stop-color="#4372ac"/><stop offset=".986" stop-color="#4372ac" stop-opacity="0.88"/><stop offset=".995" stop-color="#4372ac" stop-opacity="0"/></linearGradient><linearGradient id="s65"><stop offset=".004" stop-color="#847426" stop-opacity="0"/><stop offset=".022" stop-color="#857225"/><stop offset=".219" stop-color="#a67e26"/><stop offset=".281" stop-color="#c09232"/><stop offset=".326" stop-color="#ddb149"/><stop offset=".371" stop-color="#caa335"/><stop offset=".424" stop-color="#b3a23b"/><stop offset=".433" stop-color="#a9a142" stop-opacity="0.94"/><stop offset=".442" stop-color="#5e5f2e" stop-opacity="0.19"/><stop offset=".451" stop-color="#5e5f2e" stop-opacity="0"/><stop offset=".549" stop-color="#1b3d74" stop-opacity="0"/><stop offset=".558" stop-color="#1b3d74" stop-opacity="0.81"/><stop offset=".567" stop-color="#1d3e75"/><stop offset=".781" stop-color="#315686"/><stop offset=".978" stop-color="#4272ad"/><stop offset=".987" stop-color="#4171ae" stop-opacity="0.38"/><stop offset=".996" stop-color="#4171ae" stop-opacity="0"/></linearGradient><linearGradient id="s66"><stop offset=".004" stop-color="#847427" stop-opacity="0"/><stop offset=".013" stop-color="#847427" stop-opacity="0.75"/><stop offset=".022" stop-color="#847427"/><stop offset=".219" stop-color="#a68027"/><stop offset=".299" stop-color="#c89d38"/><stop offset=".326" stop-color="#e0b54d"/><stop offset=".379" stop-color="#cba637"/><stop offset=".433" stop-color="#b0a440"/><stop offset=".442" stop-color="#a3a049" stop-opacity="0.81"/><stop offset=".451" stop-color="#8e9454" stop-opacity="0.06"/><stop offset=".46" stop-color="#8e9454" stop-opacity="0"/><stop offset=".549" stop-color="#193b74" stop-opacity="0"/><stop offset=".558" stop-color="#193b74"/><stop offset=".799" stop-color="#315788"/><stop offset=".978" stop-color="#4171af"/><stop offset=".987" stop-color="#4070b0" stop-opacity="0.88"/><stop offset=".996" stop-color="#4070b0" stop-opacity="0"/></linearGradient><linearGradient id="s67"><stop offset=".004" stop-color="#837529" stop-opacity="0"/><stop offset=".013" stop-color="#837529"/><stop offset=".137" stop-color="#937825"/><stop offset=".226" stop-color="#a88429"/><stop offset=".305" stop-color="#cca33c"/><stop offset=".332" stop-color="#e6bd52"/><stop offset=".35" stop-color="#d8b042"/><stop offset=".385" stop-color="#ccaa39"/><stop offset=".42" stop-color="#bda83a"/><stop offset=".438" stop-color="#aca545"/><stop offset=".447" stop-color="#9fa04d" stop-opacity="0.5"/><stop offset=".456" stop-color="#9fa04d" stop-opacity="0"/><stop offset=".535" stop-color="#183a74" stop-opacity="0"/><stop offset=".544" stop-color="#183a74" stop-opacity="0.25"/><stop offset=".553" stop-color="#193b75"/><stop offset=".783" stop-color="#2f5588"/><stop offset=".978" stop-color="#3f70b1"/><stop offset=".987" stop-color="#3e6fb2" stop-opacity="0.31"/><stop offset=".996" stop-color="#3e6fb2" stop-opacity="0"/></linearGradient><linearGradient id="s68"><stop offset=".004" stop-color="#80762d" stop-opacity="0"/><stop offset=".013" stop-color="#80762d" stop-opacity="0.38"/><stop offset=".022" stop-color="#81762b"/><stop offset=".224" stop-color="#a58429"/><stop offset=".311" stop-color="#cca43d"/><stop offset=".338" stop-color="#e8c155"/><stop offset=".346" stop-color="#e9c255"/><stop offset=".364" stop-color="#d9b343"/><stop offset=".408" stop-color="#c9ac3a"/><stop offset=".434" stop-color="#bbaa3e"/><stop offset=".452" stop-color="#a6a44b"/><stop offset=".461" stop-color="#969a53" stop-opacity="0.19"/><stop offset=".469" stop-color="#969a53" stop-opacity="0"/><stop offset=".539" stop-color="#153775" stop-opacity="0"/><stop offset=".557" stop-color="#173975"/><stop offset=".803" stop-color="#2e558a"/><stop offset=".978" stop-color="#3f6fb2"/><stop offset=".987" stop-color="#3e6eb3" stop-opacity="0.88"/><stop offset=".996" stop-color="#3e6eb3" stop-opacity="0"/></linearGradient><linearGradient id="s69"><stop offset=".004" stop-color="#7f772f" stop-opacity="0"/><stop offset=".013" stop-color="#7f772f" stop-opacity="0.69"/><stop offset=".022" stop-color="#80772e"/><stop offset=".23" stop-color="#a8882b"/><stop offset=".309" stop-color="#cca63e"/><stop offset=".343" stop-color="#efca5b"/><stop offset=".37" stop-color="#dab744"/><stop offset=".396" stop-color="#d1b33e"/><stop offset=".422" stop-color="#c6af3d"/><stop offset=".448" stop-color="#b0a948"/><stop offset=".457" stop-color="#a0a250" stop-opacity="0.88"/><stop offset=".465" stop-color="#8b935a" stop-opacity="0.06"/><stop offset=".474" stop-color="#8b935a" stop-opacity="0"/><stop offset=".535" stop-color="#153775" stop-opacity="0"/><stop offset=".543" stop-color="#153775" stop-opacity="0.81"/><stop offset=".552" stop-color="#143775"/><stop offset=".778" stop-color="#2b5288"/><stop offset=".978" stop-color="#3d6eb5"/><stop offset=".987" stop-color="#3c6eb5" stop-opacity="0.38"/><stop offset=".996" stop-color="#3c6eb5" stop-opacity="0"/></linearGradient><linearGradient id="s70"><stop offset=".004" stop-color="#7e7731" stop-opacity="0"/><stop offset=".013" stop-color="#7e7731"/><stop offset=".135" stop-color="#917d29"/><stop offset=".248" stop-color="#ae8e2e"/><stop offset=".317" stop-color="#d0ac41"/><stop offset=".352" stop-color="#f4d160"/><stop offset=".37" stop-color="#dfbd4a"/><stop offset=".396" stop-color="#d5b842"/><stop offset=".422" stop-color="#cab33e"/><stop offset=".457" stop-color="#aba94c"/><stop offset=".465" stop-color="#969c56" stop-opacity="0.69"/><stop offset=".474" stop-color="#969c56" stop-opacity="0"/><stop offset=".526" stop-color="#113275" stop-opacity="0"/><stop offset=".535" stop-color="#113275" stop-opacity="0.06"/><stop offset=".543" stop-color="#133575"/><stop offset=".787" stop-color="#2a518a"/><stop offset=".978" stop-color="#3c6db6"/><stop offset=".987" stop-color="#3b6db6" stop-opacity="0.88"/><stop offset=".996" stop-color="#3b6db6" stop-opacity="0"/></linearGradient><linearGradient id="s71"><stop offset=".004" stop-color="#7c7834" stop-opacity="0"/><stop offset=".013" stop-color="#7c7834" stop-opacity="0.19"/><stop offset=".021" stop-color="#7c7833"/><stop offset=".141" stop-color="#917f2a"/><stop offset=".252" stop-color="#ad9030"/><stop offset=".329" stop-color="#d5b346"/><stop offset=".355" stop-color="#f9d765"/><stop offset=".38" stop-color="#e1c14b"/><stop offset=".415" stop-color="#d2b942"/><stop offset=".449" stop-color="#bcb047"/><stop offset=".466" stop-color="#a4a652"/><stop offset=".474" stop-color="#747a49" stop-opacity="0.38"/><stop offset=".483" stop-color="#747a49" stop-opacity="0"/><stop offset=".526" stop-color="#113275" stop-opacity="0"/><stop offset=".534" stop-color="#113275" stop-opacity="0.25"/><stop offset=".543" stop-color="#113275"/><stop offset=".782" stop-color="#28508a"/><stop offset=".979" stop-color="#3a6cb8"/><stop offset=".987" stop-color="#396cb8" stop-opacity="0.38"/><stop offset=".996" stop-color="#396cb8" stop-opacity="0"/></linearGradient><linearGradient id="s72"><stop offset=".004" stop-color="#7a7a38" stop-opacity="0"/><stop offset=".021" stop-color="#7b7935"/><stop offset=".15" stop-color="#92812c"/><stop offset=".244" stop-color="#aa8f30"/><stop offset=".329" stop-color="#d4b446"/><stop offset=".363" stop-color="#fee06c"/><stop offset=".38" stop-color="#e9ca53"/><stop offset=".397" stop-color="#dfc24a"/><stop offset=".432" stop-color="#cdba45"/><stop offset=".466" stop-color="#afae4f"/><stop offset=".474" stop-color="#9ca057" stop-opacity="0.94"/><stop offset=".483" stop-color="#636a43" stop-opacity="0.12"/><stop offset=".491" stop-color="#636a43" stop-opacity="0"/><stop offset=".5" stop-color="#636a43" stop-opacity="0"/><stop offset=".526" stop-color="#113175" stop-opacity="0"/><stop offset=".543" stop-color="#113275"/><stop offset=".791" stop-color="#284f8b"/><stop offset=".979" stop-color="#3a6cb9"/><stop offset=".987" stop-color="#386bba" stop-opacity="0.75"/><stop offset=".996" stop-color="#386bba" stop-opacity="0"/></linearGradient><linearGradient id="s73"><stop offset=".004" stop-color="#787939" stop-opacity="0"/><stop offset=".013" stop-color="#787939" stop-opacity="0.75"/><stop offset=".021" stop-color="#797938"/><stop offset=".174" stop-color="#96852e"/><stop offset=".267" stop-color="#b39835"/><stop offset=".335" stop-color="#d9bb4a"/><stop offset=".36" stop-color="#ffe46f"/><stop offset=".369" stop-color="#fee56f"/><stop offset=".386" stop-color="#e8cc53"/><stop offset=".411" stop-color="#dcc449"/><stop offset=".453" stop-color="#beb64c"/><stop offset=".47" stop-color="#aaab54"/><stop offset=".479" stop-color="#8e9558" stop-opacity="0.81"/><stop offset=".487" stop-color="#33392a" stop-opacity="0.06"/><stop offset=".496" stop-color="#33392a" stop-opacity="0"/><stop offset=".521" stop-color="#0f2d75" stop-opacity="0"/><stop offset=".53" stop-color="#0f2d75" stop-opacity="0.75"/><stop offset=".538" stop-color="#113175"/><stop offset=".775" stop-color="#254d8a"/><stop offset=".979" stop-color="#376bbb"/><stop offset=".987" stop-color="#366abc" stop-opacity="0.25"/><stop offset=".996" stop-color="#366abc" stop-opacity="0"/></linearGradient><linearGradient id="s74"><stop offset=".004" stop-color="#74763c" stop-opacity="0"/><stop offset=".013" stop-color="#74763c"/><stop offset=".182" stop-color="#97882f"/><stop offset=".267" stop-color="#b19a36"/><stop offset=".335" stop-color="#d8bb4a"/><stop offset=".36" stop-color="#fbe26c"/><stop offset=".369" stop-color="#ffef78"/><stop offset=".403" stop-color="#e5cc50"/><stop offset=".462" stop-color="#bcb74f"/><stop offset=".479" stop-color="#a2a658"/><stop offset=".487" stop-color="#7d8555" stop-opacity="0.62"/><stop offset=".496" stop-color="#7d8555" stop-opacity="0"/><stop offset=".521" stop-color="#0f2d75" stop-opacity="0"/><stop offset=".53" stop-color="#0f2d75"/><stop offset=".784" stop-color="#254d8c"/><stop offset=".979" stop-color="#376abc"/><stop offset=".987" stop-color="#3569bd" stop-opacity="0.81"/><stop offset=".996" stop-color="#3569bd" stop-opacity="0"/></linearGradient><linearGradient id="s75"><stop offset=".004" stop-color="#6f7340" stop-opacity="0"/><stop offset=".013" stop-color="#6f7340" stop-opacity="0.31"/><stop offset=".021" stop-color="#71743e"/><stop offset=".179" stop-color="#948732"/><stop offset=".279" stop-color="#b59e38"/><stop offset=".346" stop-color="#dcc24f"/><stop offset=".354" stop-color="#e5cb56"/><stop offset=".371" stop-color="#fff077"/><stop offset=".379" stop-color="#fff87e"/><stop offset=".396" stop-color="#f3da5f"/><stop offset=".412" stop-color="#e5cf53"/><stop offset=".471" stop-color="#bab852"/><stop offset=".487" stop-color="#9aa15d"/><stop offset=".496" stop-color="#869265" stop-opacity="0.38"/><stop offset=".504" stop-color="#869265" stop-opacity="0"/><stop offset=".512" stop-color="#0e2b75" stop-opacity="0"/><stop offset=".521" stop-color="#0e2b75" stop-opacity="0.25"/><stop offset=".529" stop-color="#0f2d75"/><stop offset=".771" stop-color="#224a8a"/><stop offset=".979" stop-color="#3569bf"/><stop offset=".988" stop-color="#3368bf" stop-opacity="0.31"/><stop offset=".996" stop-color="#3368bf" stop-opacity="0"/></linearGradient><linearGradient id="s76"><stop offset=".004" stop-color="#6e7241" stop-opacity="0"/><stop offset=".021" stop-color="#6e7241"/><stop offset=".171" stop-color="#908634"/><stop offset=".271" stop-color="#af9c38"/><stop offset=".354" stop-color="#e2c954"/><stop offset=".371" stop-color="#fdec73"/><stop offset=".379" stop-color="#fffd84"/><stop offset=".388" stop-color="#fffb81"/><stop offset=".404" stop-color="#f0da5e"/><stop offset=".412" stop-color="#e9d55a"/><stop offset=".471" stop-color="#c0bc54"/><stop offset=".487" stop-color="#a6ab5b"/><stop offset=".496" stop-color="#939c62" stop-opacity="0.94"/><stop offset=".504" stop-color="#7e8d6b" stop-opacity="0.19"/><stop offset=".512" stop-color="#7e8d6b" stop-opacity="0"/><stop offset=".529" stop-color="#0d2975"/><stop offset=".787" stop-color="#224a8d"/><stop offset=".979" stop-color="#3468c0"/><stop offset=".988" stop-color="#3267c1" stop-opacity="0.75"/><stop offset=".996" stop-color="#3267c1" stop-opacity="0"/></linearGradient><linearGradient id="s77"><stop offset=".004" stop-color="#696f44" stop-opacity="0"/><stop offset=".012" stop-color="#696f44" stop-opacity="0.75"/><stop offset=".021" stop-color="#6b7143"/><stop offset=".153" stop-color="#8a8538"/><stop offset=".269" stop-color="#ae9c3a"/><stop offset=".351" stop-color="#e0c954"/><stop offset=".36" stop-color="#e8d15b"/><stop offset=".376" stop-color="#fff881"/><stop offset=".384" stop-color="#ffff8e"/><stop offset=".401" stop-color="#fae86d"/><stop offset=".409" stop-color="#efdc60"/><stop offset=".426" stop-color="#e4d359"/><stop offset=".475" stop-color="#bebd57"/><stop offset=".492" stop-color="#a0a65f"/><stop offset=".5" stop-color="#8c9866" stop-opacity="0.81"/><stop offset=".508" stop-color="#798a6d" stop-opacity="0.06"/><stop offset=".517" stop-color="#0d2975" stop-opacity="0.62"/><stop offset=".525" stop-color="#0c2875"/><stop offset=".773" stop-color="#20488c"/><stop offset=".979" stop-color="#3267c2"/><stop offset=".988" stop-color="#3066c2" stop-opacity="0.25"/><stop offset=".996" stop-color="#3066c2" stop-opacity="0"/></linearGradient><linearGradient id="s78"><stop offset=".004" stop-color="#646c47" stop-opacity="0"/><stop offset=".012" stop-color="#646c47" stop-opacity="0.06"/><stop offset=".02" stop-color="#666d46"/><stop offset=".176" stop-color="#8d8739"/><stop offset=".283" stop-color="#b09f3d"/><stop offset=".365" stop-color="#e4cf5b"/><stop offset=".381" stop-color="#fef27a"/><stop offset=".389" stop-color="#ffff91"/><stop offset=".398" stop-color="#ffff95"/><stop offset=".406" stop-color="#fff981"/><stop offset=".422" stop-color="#eedd62"/><stop offset=".447" stop-color="#ded15a"/><stop offset=".488" stop-color="#b9bb5a"/><stop offset=".504" stop-color="#9ba363"/><stop offset=".512" stop-color="#7e8b64" stop-opacity="0.69"/><stop offset=".52" stop-color="#0b2674" stop-opacity="0.88"/><stop offset=".529" stop-color="#0c2875"/><stop offset=".783" stop-color="#1f478e"/><stop offset=".98" stop-color="#3166c3"/><stop offset=".988" stop-color="#3066c4" stop-opacity="0.75"/><stop offset=".996" stop-color="#3066c4" stop-opacity="0"/></linearGradient><linearGradient id="s79"><stop offset=".004" stop-color="#61694a" stop-opacity="0"/><stop offset=".012" stop-color="#61694a" stop-opacity="0.38"/><stop offset=".02" stop-color="#636b48"/><stop offset=".134" stop-color="#82823d"/><stop offset=".28" stop-color="#ae9f3f"/><stop offset=".362" stop-color="#e0ce5b"/><stop offset=".378" stop-color="#f8e771"/><stop offset=".386" stop-color="#fffc8a"/><stop offset=".394" stop-color="#ffff9e"/><stop offset=".402" stop-color="#ffff9a"/><stop offset=".411" stop-color="#fff981"/><stop offset=".419" stop-color="#f7e86e"/><stop offset=".435" stop-color="#e9db62"/><stop offset=".476" stop-color="#c8c65b"/><stop offset=".5" stop-color="#a6ad61"/><stop offset=".508" stop-color="#949e67"/><stop offset=".516" stop-color="#445871"/><stop offset=".524" stop-color="#0b2575"/><stop offset=".785" stop-color="#1e478f"/><stop offset=".98" stop-color="#2f65c5"/><stop offset=".988" stop-color="#2e64c6" stop-opacity="0.38"/><stop offset=".996" stop-color="#2e64c6" stop-opacity="0"/></linearGradient><linearGradient id="s80"><stop offset=".004" stop-color="#5e684b" stop-opacity="0"/><stop offset=".012" stop-color="#5e684b" stop-opacity="0.69"/><stop offset=".02" stop-color="#60694b"/><stop offset=".191" stop-color="#8e8b3d"/><stop offset=".297" stop-color="#b3a644"/><stop offset=".37" stop-color="#e5d461"/><stop offset=".386" stop-color="#fef47e"/><stop offset=".394" stop-color="#ffff9b"/><stop offset=".402" stop-color="#ffa"/><stop offset=".411" stop-color="#ffff9b"/><stop offset=".427" stop-color="#f5e76e"/><stop offset=".435" stop-color="#eee169"/><stop offset=".484" stop-color="#c6c65e"/><stop offset=".508" stop-color="#a1a965"/><stop offset=".516" stop-color="#8c996b"/><stop offset=".524" stop-color="#283e70"/><stop offset=".533" stop-color="#0b2575"/><stop offset=".785" stop-color="#1c4690"/><stop offset=".98" stop-color="#2e65c7"/><stop offset=".988" stop-color="#2d64c7" stop-opacity="0.81"/><stop offset=".996" stop-color="#2d64c7" stop-opacity="0"/></linearGradient><linearGradient id="s81"><stop offset=".004" stop-color="#5a664e" stop-opacity="0"/><stop offset=".012" stop-color="#5a664e" stop-opacity="0.88"/><stop offset=".02" stop-color="#5d674d"/><stop offset=".181" stop-color="#8a893f"/><stop offset=".294" stop-color="#b0a645"/><stop offset=".375" stop-color="#e9db68"/><stop offset=".391" stop-color="#fffd8f"/><stop offset=".399" stop-color="#ffffad"/><stop offset=".407" stop-color="#ffffae"/><stop offset=".415" stop-color="#fffe9b"/><stop offset=".431" stop-color="#f3e86f"/><stop offset=".48" stop-color="#cbcc61"/><stop offset=".512" stop-color="#9ba568"/><stop offset=".52" stop-color="#7e8e6f"/><stop offset=".528" stop-color="#193071"/><stop offset=".536" stop-color="#0b2576"/><stop offset=".786" stop-color="#1b4591"/><stop offset=".98" stop-color="#2b63c9"/><stop offset=".988" stop-color="#2a62c9" stop-opacity="0.25"/><stop offset=".996" stop-color="#2a62c9" stop-opacity="0"/></linearGradient><linearGradient id="s82"><stop offset=".003" stop-color="#905816" stop-opacity="0"/><stop offset=".021" stop-color="#905a17" stop-opacity="0.75"/><stop offset=".027" stop-color="#905d18" stop-opacity="0.62"/><stop offset=".033" stop-color="#91611a" stop-opacity="0.44"/><stop offset=".039" stop-color="#91641b" stop-opacity="0.12"/><stop offset=".045" stop-color="#91641b" stop-opacity="0"/><stop offset=".259" stop-color="#526153" stop-opacity="0"/><stop offset=".265" stop-color="#526153" stop-opacity="0.06"/><stop offset=".271" stop-color="#576450"/><stop offset=".414" stop-color="#8f8f41"/><stop offset=".473" stop-color="#aba346"/><stop offset=".539" stop-color="#e5d967"/><stop offset=".551" stop-color="#fdf784"/><stop offset=".562" stop-color="#ffffba"/><stop offset=".568" stop-color="#ffffb3"/><stop offset=".574" stop-color="#ff9"/><stop offset=".58" stop-color="#fcf47d"/><stop offset=".592" stop-color="#ede56e"/><stop offset=".622" stop-color="#c8c964"/><stop offset=".646" stop-color="#96a26c"/><stop offset=".652" stop-color="#718372"/><stop offset=".658" stop-color="#0f2876"/><stop offset=".664" stop-color="#0a2477"/><stop offset=".836" stop-color="#194390"/><stop offset=".985" stop-color="#2b62ca"/><stop offset=".991" stop-color="#2962cb" stop-opacity="0.81"/><stop offset=".997" stop-color="#2962cb" stop-opacity="0"/></linearGradient><linearGradient id="s83"><stop offset=".003" stop-color="#905816" stop-opacity="0"/><stop offset=".009" stop-color="#905816" stop-opacity="0.25"/><stop offset=".015" stop-color="#905816"/><stop offset=".038" stop-color="#91611a"/><stop offset=".044" stop-color="#91651b" stop-opacity="0.94"/><stop offset=".05" stop-color="#916a1d" stop-opacity="0.44"/><stop offset=".056" stop-color="#916a1d" stop-opacity="0"/><stop offset=".062" stop-color="#916a1d" stop-opacity="0"/><stop offset=".262" stop-color="#526153" stop-opacity="0"/><stop offset=".268" stop-color="#526153" stop-opacity="0.38"/><stop offset=".274" stop-color="#536153"/><stop offset=".385" stop-color="#7e8245"/><stop offset=".474" stop-color="#a9a348"/><stop offset=".509" stop-color="#c3ba54"/><stop offset=".544" stop-color="#eadf6e"/><stop offset=".55" stop-color="#f7ec7a"/><stop offset=".556" stop-color="#fffd94"/><stop offset=".562" stop-color="#ffffb7"/><stop offset=".568" stop-color="#ffffc6"/><stop offset=".574" stop-color="#ffffb6"/><stop offset=".579" stop-color="#fffe94"/><stop offset=".591" stop-color="#f2ec75"/><stop offset=".603" stop-color="#e6e26e"/><stop offset=".632" stop-color="#b9bf67"/><stop offset=".65" stop-color="#909e6f"/><stop offset=".656" stop-color="#647976"/><stop offset=".662" stop-color="#0b2272"/><stop offset=".838" stop-color="#184291"/><stop offset=".985" stop-color="#2961cc"/><stop offset=".991" stop-color="#2860cc" stop-opacity="0.38"/><stop offset=".997" stop-color="#2860cc" stop-opacity="0"/></linearGradient><linearGradient id="s84"><stop offset=".003" stop-color="#905b18" stop-opacity="0"/><stop offset=".009" stop-color="#905b18" stop-opacity="0.88"/><stop offset=".015" stop-color="#905c18"/><stop offset=".044" stop-color="#916a1d"/><stop offset=".05" stop-color="#917020" stop-opacity="0.69"/><stop offset=".056" stop-color="#927423" stop-opacity="0.06"/><stop offset=".062" stop-color="#927423" stop-opacity="0"/><stop offset=".092" stop-color="#927423" stop-opacity="0"/><stop offset=".257" stop-color="#4d5d56" stop-opacity="0"/><stop offset=".263" stop-color="#4d5d56" stop-opacity="0.56"/><stop offset=".269" stop-color="#505f55"/><stop offset=".417" stop-color="#8b8d46"/><stop offset=".494" stop-color="#b7b050"/><stop offset=".53" stop-color="#d7cf63"/><stop offset=".547" stop-color="#efe776"/><stop offset=".553" stop-color="#fdf886"/><stop offset=".565" stop-color="#ffffc8"/><stop offset=".571" stop-color="#ffffcd"/><stop offset=".577" stop-color="#ffffb7"/><stop offset=".583" stop-color="#fffe93"/><stop offset=".595" stop-color="#f2ed78"/><stop offset=".612" stop-color="#dddd6e"/><stop offset=".636" stop-color="#b6bc6a"/><stop offset=".654" stop-color="#8c9b72"/><stop offset=".66" stop-color="#4d6477"/><stop offset=".666" stop-color="#092077"/><stop offset=".855" stop-color="#194496"/><stop offset=".985" stop-color="#2960ce"/><stop offset=".991" stop-color="#275fce" stop-opacity="0.75"/><stop offset=".997" stop-color="#275fce" stop-opacity="0"/></linearGradient><linearGradient id="s85"><stop offset=".003" stop-color="#915e19" stop-opacity="0"/><stop offset=".015" stop-color="#915e19"/><stop offset=".05" stop-color="#927020"/><stop offset=".056" stop-color="#927423" stop-opacity="0.81"/><stop offset=".062" stop-color="#927725" stop-opacity="0.06"/><stop offset=".068" stop-color="#927725" stop-opacity="0"/><stop offset=".074" stop-color="#927725" stop-opacity="0"/><stop offset=".256" stop-color="#4a5c57" stop-opacity="0"/><stop offset=".262" stop-color="#4a5c57" stop-opacity="0.81"/><stop offset=".268" stop-color="#4d5d56"/><stop offset=".391" stop-color="#7d8248"/><stop offset=".479" stop-color="#aca94e"/><stop offset=".521" stop-color="#cec860"/><stop offset=".544" stop-color="#eae374"/><stop offset=".556" stop-color="#ffff97"/><stop offset=".568" stop-color="#ffffd8"/><stop offset=".574" stop-color="#ffffd7"/><stop offset=".579" stop-color="#ffffb3"/><stop offset=".585" stop-color="#fffe91"/><stop offset=".597" stop-color="#f1f07b"/><stop offset=".626" stop-color="#c6cb6e"/><stop offset=".65" stop-color="#98a571"/><stop offset=".656" stop-color="#869775"/><stop offset=".668" stop-color="#082078"/><stop offset=".844" stop-color="#174195"/><stop offset=".985" stop-color="#275ecf"/><stop offset=".991" stop-color="#265dcf" stop-opacity="0.25"/><stop offset=".997" stop-color="#265dcf" stop-opacity="0"/></linearGradient><linearGradient id="s86"><stop offset=".003" stop-color="#91601a" stop-opacity="0"/><stop offset=".009" stop-color="#91601a" stop-opacity="0.12"/><stop offset=".015" stop-color="#91621b"/><stop offset=".056" stop-color="#927523"/><stop offset=".062" stop-color="#927926" stop-opacity="0.69"/><stop offset=".068" stop-color="#927926" stop-opacity="0"/><stop offset=".074" stop-color="#927926" stop-opacity="0"/><stop offset=".25" stop-color="#45595a" stop-opacity="0"/><stop offset=".256" stop-color="#45595a" stop-opacity="0.12"/><stop offset=".262" stop-color="#465a5a"/><stop offset=".397" stop-color="#7c814b"/><stop offset=".485" stop-color="#adac51"/><stop offset=".521" stop-color="#cbc760"/><stop offset=".55" stop-color="#eee97a"/><stop offset=".556" stop-color="#fbf98a"/><stop offset=".568" stop-color="#ffffd0"/><stop offset=".574" stop-color="#ffffe8"/><stop offset=".579" stop-color="#ffffda"/><stop offset=".585" stop-color="#ffffaf"/><stop offset=".591" stop-color="#fefe90"/><stop offset=".597" stop-color="#f8f883"/><stop offset=".632" stop-color="#c3c970"/><stop offset=".656" stop-color="#94a274"/><stop offset=".662" stop-color="#819478"/><stop offset=".668" stop-color="#2e467a"/><stop offset=".674" stop-color="#082078"/><stop offset=".844" stop-color="#163f94"/><stop offset=".985" stop-color="#275dd0"/><stop offset=".991" stop-color="#265cd0" stop-opacity="0.88"/><stop offset=".997" stop-color="#265cd0" stop-opacity="0"/></linearGradient><linearGradient id="s87"><stop offset=".003" stop-color="#92651c" stop-opacity="0"/><stop offset=".009" stop-color="#92651c" stop-opacity="0.81"/><stop offset=".015" stop-color="#92671c"/><stop offset=".056" stop-color="#927a26"/><stop offset=".062" stop-color="#927e29" stop-opacity="0.56"/><stop offset=".068" stop-color="#927e29" stop-opacity="0"/><stop offset=".074" stop-color="#927e29" stop-opacity="0"/><stop offset=".244" stop-color="#40565c" stop-opacity="0"/><stop offset=".25" stop-color="#40565c" stop-opacity="0.31"/><stop offset=".256" stop-color="#44585b"/><stop offset=".415" stop-color="#84884c"/><stop offset=".503" stop-color="#bdbc5b"/><stop offset=".532" stop-color="#dbd86d"/><stop offset=".55" stop-color="#f4f283"/><stop offset=".556" stop-color="#fefd98"/><stop offset=".568" stop-color="#ffffe8"/><stop offset=".574" stop-color="#fffff3"/><stop offset=".579" stop-color="#ffffd7"/><stop offset=".585" stop-color="#ffffab"/><stop offset=".591" stop-color="#fefe92"/><stop offset=".603" stop-color="#edef81"/><stop offset=".632" stop-color="#bfc773"/><stop offset=".656" stop-color="#8f9f77"/><stop offset=".662" stop-color="#7c917b"/><stop offset=".668" stop-color="#2b447b"/><stop offset=".674" stop-color="#081f79"/><stop offset=".844" stop-color="#163e96"/><stop offset=".985" stop-color="#265bd2"/><stop offset=".991" stop-color="#255ad2" stop-opacity="0.38"/><stop offset=".997" stop-color="#255ad2" stop-opacity="0"/></linearGradient><linearGradient id="s88"><stop offset=".003" stop-color="#92681d" stop-opacity="0"/><stop offset=".009" stop-color="#92681d" stop-opacity="0.38"/><stop offset=".015" stop-color="#92691e"/><stop offset=".062" stop-color="#937f2a"/><stop offset=".068" stop-color="#908430" stop-opacity="0.25"/><stop offset=".074" stop-color="#908430" stop-opacity="0"/><stop offset=".244" stop-color="#3e555d" stop-opacity="0"/><stop offset=".256" stop-color="#3f555d"/><stop offset=".426" stop-color="#868b4f"/><stop offset=".509" stop-color="#bebe5f"/><stop offset=".538" stop-color="#dddc73"/><stop offset=".556" stop-color="#fafa8d"/><stop offset=".562" stop-color="#ffffa8"/><stop offset=".574" stop-color="#fffffa"/><stop offset=".579" stop-color="#fffff8"/><stop offset=".591" stop-color="#ffffaf"/><stop offset=".597" stop-color="#fdfe93"/><stop offset=".609" stop-color="#eaee84"/><stop offset=".632" stop-color="#c5cc77"/><stop offset=".662" stop-color="#8c9d79"/><stop offset=".668" stop-color="#768e7e"/><stop offset=".674" stop-color="#263d78"/><stop offset=".679" stop-color="#081e79"/><stop offset=".856" stop-color="#163f99"/><stop offset=".985" stop-color="#265ad3"/><stop offset=".991" stop-color="#2559d3" stop-opacity="0.88"/><stop offset=".997" stop-color="#2559d3" stop-opacity="0"/></linearGradient><linearGradient id="s89"><stop offset=".003" stop-color="#936b1f" stop-opacity="0"/><stop offset=".009" stop-color="#936b1f" stop-opacity="0.06"/><stop offset=".015" stop-color="#936d1f" stop-opacity="0.94"/><stop offset=".02" stop-color="#936f20"/><stop offset=".061" stop-color="#93802a"/><stop offset=".067" stop-color="#91832f" stop-opacity="0.88"/><stop offset=".073" stop-color="#91832f" stop-opacity="0"/><stop offset=".079" stop-color="#91832f" stop-opacity="0"/><stop offset=".243" stop-color="#3b525f" stop-opacity="0"/><stop offset=".249" stop-color="#3b525f" stop-opacity="0.81"/><stop offset=".254" stop-color="#3e545e"/><stop offset=".43" stop-color="#858b51"/><stop offset=".512" stop-color="#bfc063"/><stop offset=".553" stop-color="#f2f388"/><stop offset=".558" stop-color="#fefe98"/><stop offset=".564" stop-color="#ffffba"/><stop offset=".57" stop-color="#ffffe9"/><stop offset=".576" stop-color="#fff"/><stop offset=".582" stop-color="#fffff9"/><stop offset=".594" stop-color="#ffffa7"/><stop offset=".605" stop-color="#f0f38b"/><stop offset=".623" stop-color="#d6dc7f"/><stop offset=".664" stop-color="#889b7c"/><stop offset=".67" stop-color="#6d8580"/><stop offset=".675" stop-color="#18307c"/><stop offset=".681" stop-color="#071e7a"/><stop offset=".839" stop-color="#143b96"/><stop offset=".985" stop-color="#2558d5"/><stop offset=".991" stop-color="#2356d5" stop-opacity="0.38"/><stop offset=".997" stop-color="#2356d5" stop-opacity="0"/></linearGradient><linearGradient id="s90"><stop offset=".003" stop-color="#937020" stop-opacity="0"/><stop offset=".009" stop-color="#937020" stop-opacity="0.56"/><stop offset=".015" stop-color="#947121"/><stop offset=".062" stop-color="#92832f"/><stop offset=".068" stop-color="#8f8634" stop-opacity="0.38"/><stop offset=".074" stop-color="#8f8634" stop-opacity="0"/><stop offset=".232" stop-color="#364f61" stop-opacity="0"/><stop offset=".238" stop-color="#364f61" stop-opacity="0.12"/><stop offset=".244" stop-color="#395160"/><stop offset=".409" stop-color="#798153"/><stop offset=".491" stop-color="#abae5d"/><stop offset=".55" stop-color="#e8ea84"/><stop offset=".562" stop-color="#ffffa8"/><stop offset=".574" stop-color="#fffff9"/><stop offset=".579" stop-color="#fff"/><stop offset=".585" stop-color="#fffff6"/><stop offset=".591" stop-color="#ffffcf"/><stop offset=".597" stop-color="#ffffab"/><stop offset=".603" stop-color="#f8fb96"/><stop offset=".609" stop-color="#eef28e"/><stop offset=".638" stop-color="#bfc97c"/><stop offset=".668" stop-color="#84997e"/><stop offset=".674" stop-color="#698382"/><stop offset=".679" stop-color="#182f7c"/><stop offset=".685" stop-color="#071d7b"/><stop offset=".844" stop-color="#143a98"/><stop offset=".985" stop-color="#2558d6"/><stop offset=".991" stop-color="#2356d6" stop-opacity="0.88"/><stop offset=".997" stop-color="#2356d6" stop-opacity="0"/></linearGradient><linearGradient id="s91"><stop offset=".003" stop-color="#947222" stop-opacity="0"/><stop offset=".009" stop-color="#947222" stop-opacity="0.25"/><stop offset=".015" stop-color="#947422"/><stop offset=".056" stop-color="#94822b"/><stop offset=".061" stop-color="#93842f"/><stop offset=".067" stop-color="#8f8636" stop-opacity="0.94"/><stop offset=".073" stop-color="#8c883a" stop-opacity="0.06"/><stop offset=".079" stop-color="#8c883a" stop-opacity="0"/><stop offset=".096" stop-color="#8c883a" stop-opacity="0"/><stop offset=".231" stop-color="#364f61" stop-opacity="0"/><stop offset=".237" stop-color="#364f61" stop-opacity="0.38"/><stop offset=".243" stop-color="#364f61"/><stop offset=".389" stop-color="#6e7856"/><stop offset=".488" stop-color="#a6aa5e"/><stop offset=".529" stop-color="#cdd074"/><stop offset=".553" stop-color="#eaed8a"/><stop offset=".558" stop-color="#f8fa99"/><stop offset=".57" stop-color="#ffffe4"/><stop offset=".576" stop-color="#fff"/><stop offset=".588" stop-color="#fffff7"/><stop offset=".594" stop-color="#ffffcf"/><stop offset=".599" stop-color="#feffa7"/><stop offset=".611" stop-color="#ebf090"/><stop offset=".646" stop-color="#b3bf7d"/><stop offset=".67" stop-color="#819780"/><stop offset=".675" stop-color="#668184"/><stop offset=".681" stop-color="#172f7e"/><stop offset=".687" stop-color="#071d7c"/><stop offset=".851" stop-color="#143b9b"/><stop offset=".985" stop-color="#2355d8"/><stop offset=".997" stop-color="#2253d8" stop-opacity="0"/></linearGradient><linearGradient id="s92"><stop offset=".003" stop-color="#957524" stop-opacity="0"/><stop offset=".009" stop-color="#957524" stop-opacity="0.88"/><stop offset=".015" stop-color="#957724"/><stop offset=".062" stop-color="#908735"/><stop offset=".068" stop-color="#8b893e" stop-opacity="0.62"/><stop offset=".074" stop-color="#8b893e" stop-opacity="0"/><stop offset=".226" stop-color="#324b63" stop-opacity="0"/><stop offset=".232" stop-color="#324b63" stop-opacity="0.56"/><stop offset=".238" stop-color="#344e62"/><stop offset=".391" stop-color="#6d7857"/><stop offset=".479" stop-color="#9ea25e"/><stop offset=".521" stop-color="#c1c470"/><stop offset=".556" stop-color="#eef292"/><stop offset=".562" stop-color="#fcfda4"/><stop offset=".574" stop-color="#fffff6"/><stop offset=".579" stop-color="#fff"/><stop offset=".591" stop-color="#fffff4"/><stop offset=".597" stop-color="#ffffcd"/><stop offset=".603" stop-color="#fdffab"/><stop offset=".615" stop-color="#e8ef92"/><stop offset=".65" stop-color="#b0bd7f"/><stop offset=".674" stop-color="#7f9682"/><stop offset=".679" stop-color="#638085"/><stop offset=".685" stop-color="#172e7e"/><stop offset=".691" stop-color="#061c7c"/><stop offset=".844" stop-color="#133799"/><stop offset=".985" stop-color="#2454d9"/><stop offset=".991" stop-color="#2253d9" stop-opacity="0.88"/><stop offset=".997" stop-color="#2253d9" stop-opacity="0"/></linearGradient><linearGradient id="s93"><stop offset=".003" stop-color="#957825" stop-opacity="0"/><stop offset=".009" stop-color="#957825" stop-opacity="0.44"/><stop offset=".015" stop-color="#957926"/><stop offset=".05" stop-color="#95842c"/><stop offset=".067" stop-color="#8c8a3d"/><stop offset=".073" stop-color="#868844" stop-opacity="0.12"/><stop offset=".079" stop-color="#868844" stop-opacity="0"/><stop offset=".096" stop-color="#868844" stop-opacity="0"/><stop offset=".225" stop-color="#304a63" stop-opacity="0"/><stop offset=".231" stop-color="#304a63" stop-opacity="0.81"/><stop offset=".237" stop-color="#314c63"/><stop offset=".401" stop-color="#6f7a59"/><stop offset=".482" stop-color="#9da361"/><stop offset=".523" stop-color="#c2c774"/><stop offset=".553" stop-color="#e6eb8f"/><stop offset=".564" stop-color="#fefeb2"/><stop offset=".57" stop-color="#ffffe0"/><stop offset=".576" stop-color="#fffffe"/><stop offset=".588" stop-color="#fff"/><stop offset=".594" stop-color="#fffff6"/><stop offset=".599" stop-color="#ffffce"/><stop offset=".605" stop-color="#fcffac"/><stop offset=".617" stop-color="#e6ee95"/><stop offset=".646" stop-color="#b7c483"/><stop offset=".675" stop-color="#7c9484"/><stop offset=".681" stop-color="#617e87"/><stop offset=".687" stop-color="#1f3981"/><stop offset=".693" stop-color="#061c7d"/><stop offset=".839" stop-color="#123699"/><stop offset=".985" stop-color="#2252da"/><stop offset=".991" stop-color="#2151da" stop-opacity="0.38"/><stop offset=".997" stop-color="#2151da" stop-opacity="0"/></linearGradient><linearGradient id="s94"><stop offset=".003" stop-color="#957926" stop-opacity="0"/><stop offset=".009" stop-color="#957926" stop-opacity="0.06"/><stop offset=".015" stop-color="#967b27" stop-opacity="0.94"/><stop offset=".02" stop-color="#967c28"/><stop offset=".067" stop-color="#8f8a3b"/><stop offset=".073" stop-color="#878944" stop-opacity="0.62"/><stop offset=".078" stop-color="#878944" stop-opacity="0"/><stop offset=".218" stop-color="#2d4865" stop-opacity="0"/><stop offset=".224" stop-color="#2d4865" stop-opacity="0.06"/><stop offset=".23" stop-color="#2d4865"/><stop offset=".392" stop-color="#69765b"/><stop offset=".497" stop-color="#a6ad69"/><stop offset=".532" stop-color="#c9cf7d"/><stop offset=".555" stop-color="#e8ed95"/><stop offset=".567" stop-color="#ffffc2"/><stop offset=".573" stop-color="#fffff2"/><stop offset=".578" stop-color="#fff"/><stop offset=".59" stop-color="#fff"/><stop offset=".596" stop-color="#fffff5"/><stop offset=".602" stop-color="#ffffc8"/><stop offset=".608" stop-color="#fafeac"/><stop offset=".613" stop-color="#eef69f"/><stop offset=".642" stop-color="#bfcb88"/><stop offset=".677" stop-color="#7a9385"/><stop offset=".683" stop-color="#617e88"/><stop offset=".689" stop-color="#1a3381"/><stop offset=".695" stop-color="#061b7e"/><stop offset=".84" stop-color="#12359b"/><stop offset=".98" stop-color="#2251db"/><stop offset=".985" stop-color="#214fdb" stop-opacity="0.94"/><stop offset=".991" stop-color="#204edb" stop-opacity="0.06"/><stop offset=".997" stop-color="#204edb" stop-opacity="0"/></linearGradient><linearGradient id="s95"><stop offset=".003" stop-color="#967e29" stop-opacity="0"/><stop offset=".009" stop-color="#967e29" stop-opacity="0.62"/><stop offset=".015" stop-color="#967f29"/><stop offset=".044" stop-color="#96862f"/><stop offset=".067" stop-color="#888a44"/><stop offset=".073" stop-color="#7f844b" stop-opacity="0.12"/><stop offset=".079" stop-color="#7f844b" stop-opacity="0"/><stop offset=".096" stop-color="#7f844b" stop-opacity="0"/><stop offset=".213" stop-color="#294666" stop-opacity="0"/><stop offset=".219" stop-color="#294666" stop-opacity="0.25"/><stop offset=".225" stop-color="#2c4765"/><stop offset=".371" stop-color="#5e6d5e"/><stop offset=".453" stop-color="#858f5f"/><stop offset=".494" stop-color="#a1aa69"/><stop offset=".553" stop-color="#e1e793"/><stop offset=".564" stop-color="#fafdb0"/><stop offset=".576" stop-color="#fffff9"/><stop offset=".594" stop-color="#fff"/><stop offset=".599" stop-color="#fffff4"/><stop offset=".605" stop-color="#ffffc9"/><stop offset=".611" stop-color="#f9feae"/><stop offset=".617" stop-color="#edf6a2"/><stop offset=".652" stop-color="#b4c387"/><stop offset=".681" stop-color="#799387"/><stop offset=".687" stop-color="#65848b"/><stop offset=".693" stop-color="#243e84"/><stop offset=".699" stop-color="#061b7e"/><stop offset=".857" stop-color="#1237a0"/><stop offset=".985" stop-color="#204edd"/><stop offset=".997" stop-color="#1f4ddc" stop-opacity="0"/></linearGradient><linearGradient id="s96"><stop offset=".002" stop-color="#97802a" stop-opacity="0"/><stop offset=".006" stop-color="#97802a" stop-opacity="0.12"/><stop offset=".01" stop-color="#97812a"/><stop offset=".031" stop-color="#968831"/><stop offset=".047" stop-color="#8b8c43"/><stop offset=".051" stop-color="#80854b" stop-opacity="0.62"/><stop offset=".055" stop-color="#80854b" stop-opacity="0"/><stop offset=".15" stop-color="#284566" stop-opacity="0"/><stop offset=".158" stop-color="#294566"/><stop offset=".26" stop-color="#5a6b60"/><stop offset=".346" stop-color="#9ca56b"/><stop offset=".371" stop-color="#bdc57c"/><stop offset=".391" stop-color="#e2ea98"/><stop offset=".395" stop-color="#edf5a2"/><stop offset=".4" stop-color="#fcfebd"/><stop offset=".404" stop-color="#ffffe9"/><stop offset=".408" stop-color="#fffffe"/><stop offset=".42" stop-color="#fff"/><stop offset=".424" stop-color="#fffff5"/><stop offset=".432" stop-color="#f7fdb0"/><stop offset=".436" stop-color="#e9f3a3"/><stop offset=".461" stop-color="#b1c189"/><stop offset=".482" stop-color="#789288"/><stop offset=".486" stop-color="#64848c"/><stop offset=".49" stop-color="#243e84"/><stop offset=".494" stop-color="#061a7f"/><stop offset=".592" stop-color="#10339c"/><stop offset=".695" stop-color="#1f4cde"/><stop offset=".699" stop-color="#1e4bde" stop-opacity="0.12"/><stop offset=".703" stop-color="#1e4bde" stop-opacity="0"/><stop offset=".99" stop-color="#452a0a" stop-opacity="0"/><stop offset=".994" stop-color="#452a0a" stop-opacity="0.06"/><stop offset=".998" stop-color="#452a0a" stop-opacity="0"/></linearGradient><linearGradient id="s97"><stop offset=".002" stop-color="#97832c" stop-opacity="0"/><stop offset=".006" stop-color="#97832c" stop-opacity="0.81"/><stop offset=".01" stop-color="#98852d"/><stop offset=".039" stop-color="#908d3d"/><stop offset=".047" stop-color="#81864b"/><stop offset=".051" stop-color="#767e54" stop-opacity="0.12"/><stop offset=".056" stop-color="#767e54" stop-opacity="0"/><stop offset=".146" stop-color="#264266" stop-opacity="0"/><stop offset=".15" stop-color="#264266" stop-opacity="0.75"/><stop offset=".154" stop-color="#274467"/><stop offset=".257" stop-color="#566961"/><stop offset=".319" stop-color="#818d64"/><stop offset=".348" stop-color="#9da66e"/><stop offset=".389" stop-color="#dae395"/><stop offset=".397" stop-color="#f2faac"/><stop offset=".405" stop-color="#fffff2"/><stop offset=".409" stop-color="#fff"/><stop offset=".422" stop-color="#fff"/><stop offset=".426" stop-color="#fffff0"/><stop offset=".434" stop-color="#f5fcb2"/><stop offset=".438" stop-color="#e7f2a5"/><stop offset=".463" stop-color="#b1c18c"/><stop offset=".484" stop-color="#78938a"/><stop offset=".488" stop-color="#66858d"/><stop offset=".492" stop-color="#2b4582"/><stop offset=".496" stop-color="#061980"/><stop offset=".591" stop-color="#0f319c"/><stop offset=".693" stop-color="#1f4bdf"/><stop offset=".702" stop-color="#1d4adf" stop-opacity="0"/><stop offset=".981" stop-color="#452a0a" stop-opacity="0"/><stop offset=".986" stop-color="#452a0a" stop-opacity="0.12"/><stop offset=".99" stop-color="#452b0a" stop-opacity="0.56"/><stop offset=".994" stop-color="#452a0a" stop-opacity="0.19"/><stop offset=".998" stop-color="#452a0a" stop-opacity="0"/></linearGradient><linearGradient id="s98"><stop offset=".002" stop-color="#98862e" stop-opacity="0"/><stop offset=".01" stop-color="#98862e"/><stop offset=".039" stop-color="#918e3d"/><stop offset=".048" stop-color="#868949"/><stop offset=".052" stop-color="#788053" stop-opacity="0.62"/><stop offset=".056" stop-color="#788053" stop-opacity="0"/><stop offset=".147" stop-color="#244166" stop-opacity="0"/><stop offset=".151" stop-color="#244166"/><stop offset=".258" stop-color="#526663"/><stop offset=".349" stop-color="#98a36f"/><stop offset=".395" stop-color="#dbe49a"/><stop offset=".403" stop-color="#f6fdb6"/><stop offset=".411" stop-color="#fffffc"/><stop offset=".428" stop-color="#fff"/><stop offset=".432" stop-color="#fffff4"/><stop offset=".44" stop-color="#f5fcb5"/><stop offset=".444" stop-color="#e7f3a9"/><stop offset=".473" stop-color="#a6b88b"/><stop offset=".494" stop-color="#66868e"/><stop offset=".502" stop-color="#061981"/><stop offset=".601" stop-color="#0f31a0"/><stop offset=".696" stop-color="#1f4ae0"/><stop offset=".7" stop-color="#1d48e0" stop-opacity="0.94"/><stop offset=".705" stop-color="#1c47e0" stop-opacity="0.06"/><stop offset=".709" stop-color="#1c47e0" stop-opacity="0"/><stop offset=".977" stop-color="#45290a" stop-opacity="0"/><stop offset=".981" stop-color="#45290a" stop-opacity="0.12"/><stop offset=".986" stop-color="#452a0a" stop-opacity="0.62"/><stop offset=".99" stop-color="#452c0b" stop-opacity="0.94"/><stop offset=".994" stop-color="#452e0c" stop-opacity="0.25"/><stop offset=".998" stop-color="#452e0c" stop-opacity="0"/></linearGradient><linearGradient id="s99"><stop offset=".002" stop-color="#98872f" stop-opacity="0"/><stop offset=".006" stop-color="#98872f" stop-opacity="0.06"/><stop offset=".01" stop-color="#988830"/><stop offset=".044" stop-color="#8f8f43"/><stop offset=".052" stop-color="#7a8253"/><stop offset=".056" stop-color="#4e5944" stop-opacity="0.12"/><stop offset=".06" stop-color="#4e5944" stop-opacity="0"/><stop offset=".068" stop-color="#4e5944" stop-opacity="0"/><stop offset=".143" stop-color="#223f66" stop-opacity="0"/><stop offset=".147" stop-color="#223f66" stop-opacity="0.19"/><stop offset=".151" stop-color="#223f66"/><stop offset=".255" stop-color="#4c6265"/><stop offset=".309" stop-color="#6f7f65"/><stop offset=".355" stop-color="#98a472"/><stop offset=".376" stop-color="#b3be80"/><stop offset=".4" stop-color="#dce69f"/><stop offset=".409" stop-color="#faffc2"/><stop offset=".413" stop-color="#ffffea"/><stop offset=".417" stop-color="#fff"/><stop offset=".434" stop-color="#fff"/><stop offset=".438" stop-color="#fffff6"/><stop offset=".446" stop-color="#f4fcb7"/><stop offset=".454" stop-color="#dce9a4"/><stop offset=".475" stop-color="#aec08f"/><stop offset=".5" stop-color="#68888f"/><stop offset=".504" stop-color="#42628d"/><stop offset=".508" stop-color="#091d83"/><stop offset=".512" stop-color="#051982"/><stop offset=".604" stop-color="#0f2fa0"/><stop offset=".703" stop-color="#1e48e2"/><stop offset=".707" stop-color="#1c46e1" stop-opacity="0.62"/><stop offset=".712" stop-color="#1c46e1" stop-opacity="0"/><stop offset=".973" stop-color="#45290a" stop-opacity="0"/><stop offset=".977" stop-color="#45290a" stop-opacity="0.12"/><stop offset=".981" stop-color="#452a0a" stop-opacity="0.62"/><stop offset=".985" stop-color="#452c0b"/><stop offset=".99" stop-color="#452f0d" stop-opacity="0.94"/><stop offset=".994" stop-color="#45300d" stop-opacity="0.19"/><stop offset=".998" stop-color="#45300d" stop-opacity="0"/></linearGradient><linearGradient id="s100"><stop offset=".002" stop-color="#978933" stop-opacity="0"/><stop offset=".006" stop-color="#978933" stop-opacity="0.62"/><stop offset=".01" stop-color="#978a34"/><stop offset=".036" stop-color="#929040"/><stop offset=".048" stop-color="#7f8650"/><stop offset=".056" stop-color="#747e59" stop-opacity="0"/><stop offset=".115" stop-color="#203c65" stop-opacity="0"/><stop offset=".14" stop-color="#203c65" stop-opacity="0"/><stop offset=".144" stop-color="#203c65" stop-opacity="0.38"/><stop offset=".149" stop-color="#223e66"/><stop offset=".253" stop-color="#496067"/><stop offset=".316" stop-color="#728268"/><stop offset=".358" stop-color="#98a475"/><stop offset=".383" stop-color="#b9c488"/><stop offset=".404" stop-color="#dee9a4"/><stop offset=".408" stop-color="#edf6b2"/><stop offset=".412" stop-color="#fcffce"/><stop offset=".416" stop-color="#fffff2"/><stop offset=".421" stop-color="#fff"/><stop offset=".441" stop-color="#fffff9"/><stop offset=".446" stop-color="#fdffd1"/><stop offset=".454" stop-color="#e4f1ad"/><stop offset=".483" stop-color="#a4b88f"/><stop offset=".504" stop-color="#698990"/><stop offset=".508" stop-color="#4a6a8f"/><stop offset=".513" stop-color="#0f2480"/><stop offset=".517" stop-color="#051983"/><stop offset=".613" stop-color="#0f30a4"/><stop offset=".709" stop-color="#1b45e2"/><stop offset=".713" stop-color="#1a44e2" stop-opacity="0.06"/><stop offset=".718" stop-color="#1a44e2" stop-opacity="0"/><stop offset=".969" stop-color="#45280a" stop-opacity="0"/><stop offset=".973" stop-color="#45280a" stop-opacity="0.25"/><stop offset=".981" stop-color="#452c0b"/><stop offset=".985" stop-color="#452f0d"/><stop offset=".99" stop-color="#45340e" stop-opacity="0.94"/><stop offset=".994" stop-color="#45350f" stop-opacity="0.25"/><stop offset=".998" stop-color="#45350f" stop-opacity="0"/></linearGradient><linearGradient id="s101"><stop offset=".002" stop-color="#978a35" stop-opacity="0"/><stop offset=".006" stop-color="#978a35" stop-opacity="0.12"/><stop offset=".011" stop-color="#978b36"/><stop offset=".04" stop-color="#8e9045"/><stop offset=".048" stop-color="#818750"/><stop offset=".053" stop-color="#747f5a" stop-opacity="0.94"/><stop offset=".057" stop-color="#687862" stop-opacity="0.06"/><stop offset=".061" stop-color="#687862" stop-opacity="0"/><stop offset=".065" stop-color="#687862" stop-opacity="0"/><stop offset=".141" stop-color="#1f3c65" stop-opacity="0"/><stop offset=".145" stop-color="#1f3c65" stop-opacity="0.62"/><stop offset=".149" stop-color="#203d66"/><stop offset=".258" stop-color="#486068"/><stop offset=".313" stop-color="#6a7c69"/><stop offset=".355" stop-color="#8f9d74"/><stop offset=".384" stop-color="#b4bf87"/><stop offset=".405" stop-color="#d6e2a1"/><stop offset=".414" stop-color="#f1f9ba"/><stop offset=".422" stop-color="#fffffa"/><stop offset=".447" stop-color="#fffffa"/><stop offset=".456" stop-color="#f1fbbb"/><stop offset=".46" stop-color="#e4f2af"/><stop offset=".485" stop-color="#aec094"/><stop offset=".511" stop-color="#6b8b90"/><stop offset=".515" stop-color="#557891"/><stop offset=".519" stop-color="#193083"/><stop offset=".523" stop-color="#051884"/><stop offset=".611" stop-color="#0d2ca1"/><stop offset=".712" stop-color="#1c44e4"/><stop offset=".716" stop-color="#1a42e3" stop-opacity="0.62"/><stop offset=".721" stop-color="#1a42e3" stop-opacity="0"/><stop offset=".96" stop-color="#452709" stop-opacity="0"/><stop offset=".964" stop-color="#452709" stop-opacity="0.06"/><stop offset=".973" stop-color="#45290a" stop-opacity="0.81"/><stop offset=".977" stop-color="#452c0b"/><stop offset=".985" stop-color="#45330e"/><stop offset=".989" stop-color="#453610" stop-opacity="0.81"/><stop offset=".994" stop-color="#453811" stop-opacity="0.19"/><stop offset=".998" stop-color="#453811" stop-opacity="0"/></linearGradient><linearGradient id="s102"><stop offset=".002" stop-color="#968d39" stop-opacity="0"/><stop offset=".006" stop-color="#968d39" stop-opacity="0.88"/><stop offset=".011" stop-color="#968e3a"/><stop offset=".032" stop-color="#919244"/><stop offset=".049" stop-color="#788257"/><stop offset=".053" stop-color="#6b7a60" stop-opacity="0.5"/><stop offset=".057" stop-color="#6b7a60" stop-opacity="0"/><stop offset=".138" stop-color="#1d3a65" stop-opacity="0"/><stop offset=".142" stop-color="#1d3a65" stop-opacity="0.94"/><stop offset=".146" stop-color="#1e3c66"/><stop offset=".261" stop-color="#476069"/><stop offset=".324" stop-color="#70816c"/><stop offset=".367" stop-color="#98a67a"/><stop offset=".409" stop-color="#d7e4a5"/><stop offset=".417" stop-color="#f6fcc2"/><stop offset=".422" stop-color="#ffffe8"/><stop offset=".426" stop-color="#fffffd"/><stop offset=".451" stop-color="#fffff8"/><stop offset=".46" stop-color="#f3fcc0"/><stop offset=".468" stop-color="#dae9ac"/><stop offset=".498" stop-color="#9bb191"/><stop offset=".519" stop-color="#5e8193"/><stop offset=".523" stop-color="#2b478c"/><stop offset=".528" stop-color="#051885"/><stop offset=".617" stop-color="#0d2ca3"/><stop offset=".718" stop-color="#1a42e5"/><stop offset=".722" stop-color="#1940e5" stop-opacity="0.19"/><stop offset=".727" stop-color="#1940e5" stop-opacity="0"/><stop offset=".951" stop-color="#452609" stop-opacity="0"/><stop offset=".956" stop-color="#452609" stop-opacity="0.06"/><stop offset=".96" stop-color="#452609" stop-opacity="0.31"/><stop offset=".964" stop-color="#452709" stop-opacity="0.75"/><stop offset=".968" stop-color="#45290a"/><stop offset=".985" stop-color="#453610"/><stop offset=".989" stop-color="#453912" stop-opacity="0.81"/><stop offset=".994" stop-color="#453a13" stop-opacity="0.19"/><stop offset=".998" stop-color="#453a13" stop-opacity="0"/></linearGradient><linearGradient id="s103"><stop offset=".002" stop-color="#968e3b" stop-opacity="0"/><stop offset=".006" stop-color="#968e3b" stop-opacity="0.38"/><stop offset=".011" stop-color="#968f3d"/><stop offset=".04" stop-color="#898d4c"/><stop offset=".049" stop-color="#7b8457"/><stop offset=".053" stop-color="#6c7b61" stop-opacity="0.94"/><stop offset=".057" stop-color="#596f6c" stop-opacity="0.06"/><stop offset=".062" stop-color="#596f6c" stop-opacity="0"/><stop offset=".126" stop-color="#1c3865" stop-opacity="0"/><stop offset=".134" stop-color="#1c3865" stop-opacity="0"/><stop offset=".138" stop-color="#1c3865" stop-opacity="0.25"/><stop offset=".143" stop-color="#1c3965"/><stop offset=".27" stop-color="#49616b"/><stop offset=".317" stop-color="#66796d"/><stop offset=".36" stop-color="#8c9a77"/><stop offset=".389" stop-color="#aebc8a"/><stop offset=".415" stop-color="#d8e5a9"/><stop offset=".423" stop-color="#f9fdcc"/><stop offset=".428" stop-color="#fffff1"/><stop offset=".432" stop-color="#fffffe"/><stop offset=".457" stop-color="#fffff9"/><stop offset=".466" stop-color="#f0fcc0"/><stop offset=".474" stop-color="#daeaae"/><stop offset=".504" stop-color="#9cb292"/><stop offset=".526" stop-color="#628494"/><stop offset=".53" stop-color="#3a5a90"/><stop offset=".534" stop-color="#0a1c87"/><stop offset=".538" stop-color="#061887"/><stop offset=".632" stop-color="#0e2da9"/><stop offset=".721" stop-color="#1a41e6"/><stop offset=".726" stop-color="#183fe6" stop-opacity="0.75"/><stop offset=".73" stop-color="#183fe6" stop-opacity="0"/><stop offset=".943" stop-color="#452408" stop-opacity="0"/><stop offset=".947" stop-color="#452408" stop-opacity="0.06"/><stop offset=".951" stop-color="#452508" stop-opacity="0.44"/><stop offset=".96" stop-color="#45280a" stop-opacity="0.94"/><stop offset=".964" stop-color="#452a0a"/><stop offset=".985" stop-color="#453912"/><stop offset=".989" stop-color="#453c14" stop-opacity="0.81"/><stop offset=".994" stop-color="#453d15" stop-opacity="0.06"/><stop offset=".998" stop-color="#453d15" stop-opacity="0"/></linearGradient><linearGradient id="s104"><stop offset=".002" stop-color="#96903e" stop-opacity="0"/><stop offset=".006" stop-color="#96903e" stop-opacity="0.06"/><stop offset=".011" stop-color="#96903f" stop-opacity="0.94"/><stop offset=".015" stop-color="#959240"/><stop offset=".036" stop-color="#8c8f4a"/><stop offset=".054" stop-color="#727f5e"/><stop offset=".058" stop-color="#627568" stop-opacity="0.5"/><stop offset=".062" stop-color="#627568" stop-opacity="0"/><stop offset=".079" stop-color="#627568" stop-opacity="0"/><stop offset=".135" stop-color="#1a3765" stop-opacity="0"/><stop offset=".139" stop-color="#1a3765" stop-opacity="0.44"/><stop offset=".144" stop-color="#1a3765"/><stop offset=".273" stop-color="#455f6c"/><stop offset=".333" stop-color="#6c7f70"/><stop offset=".371" stop-color="#8f9f7b"/><stop offset=".414" stop-color="#c8d6a0"/><stop offset=".423" stop-color="#d9e7ae"/><stop offset=".431" stop-color="#fdfed6"/><stop offset=".436" stop-color="#fffff6"/><stop offset=".44" stop-color="#fff"/><stop offset=".466" stop-color="#fffffc"/><stop offset=".474" stop-color="#f3fcc6"/><stop offset=".483" stop-color="#daeab0"/><stop offset=".513" stop-color="#9eb394"/><stop offset=".534" stop-color="#658794"/><stop offset=".539" stop-color="#4c6f94"/><stop offset=".543" stop-color="#172e8b"/><stop offset=".547" stop-color="#061788"/><stop offset=".637" stop-color="#0d2ba9"/><stop offset=".732" stop-color="#193ee7"/><stop offset=".736" stop-color="#173ce7" stop-opacity="0.25"/><stop offset=".74" stop-color="#173ce7" stop-opacity="0"/><stop offset=".933" stop-color="#452107" stop-opacity="0"/><stop offset=".938" stop-color="#452107" stop-opacity="0.06"/><stop offset=".951" stop-color="#452408" stop-opacity="0.81"/><stop offset=".955" stop-color="#452609"/><stop offset=".989" stop-color="#443c15"/><stop offset=".994" stop-color="#443e17" stop-opacity="0.62"/><stop offset=".998" stop-color="#443e17" stop-opacity="0"/></linearGradient><linearGradient id="s105"><stop offset=".002" stop-color="#959241" stop-opacity="0"/><stop offset=".006" stop-color="#959241" stop-opacity="0.56"/><stop offset=".011" stop-color="#959343"/><stop offset=".041" stop-color="#838a53"/><stop offset=".05" stop-color="#75815d"/><stop offset=".054" stop-color="#657767" stop-opacity="0.94"/><stop offset=".058" stop-color="#243035" stop-opacity="0.06"/><stop offset=".063" stop-color="#243035" stop-opacity="0"/><stop offset=".132" stop-color="#183564" stop-opacity="0"/><stop offset=".136" stop-color="#183564" stop-opacity="0.62"/><stop offset=".141" stop-color="#193665"/><stop offset=".275" stop-color="#455f6d"/><stop offset=".366" stop-color="#86977a"/><stop offset=".4" stop-color="#afbe91"/><stop offset=".422" stop-color="#d2e1aa"/><stop offset=".431" stop-color="#edf7c2"/><stop offset=".435" stop-color="#ffffe1"/><stop offset=".439" stop-color="#fffffd"/><stop offset=".47" stop-color="#fffffc"/><stop offset=".478" stop-color="#f3fdc9"/><stop offset=".487" stop-color="#dbebb2"/><stop offset=".509" stop-color="#b2c59b"/><stop offset=".53" stop-color="#829e92"/><stop offset=".543" stop-color="#5c8096"/><stop offset=".548" stop-color="#2a4690"/><stop offset=".552" stop-color="#051689"/><stop offset=".634" stop-color="#0b28a7"/><stop offset=".734" stop-color="#193de8"/><stop offset=".738" stop-color="#173be8" stop-opacity="0.75"/><stop offset=".742" stop-color="#173be8" stop-opacity="0"/><stop offset=".92" stop-color="#451d06" stop-opacity="0"/><stop offset=".924" stop-color="#451d06" stop-opacity="0.25"/><stop offset=".929" stop-color="#451e06" stop-opacity="0.38"/><stop offset=".933" stop-color="#452007" stop-opacity="0.62"/><stop offset=".942" stop-color="#452308"/><stop offset=".989" stop-color="#433e18"/><stop offset=".994" stop-color="#423f1a" stop-opacity="0.44"/><stop offset=".998" stop-color="#423f1a" stop-opacity="0"/></linearGradient><linearGradient id="s106"><stop offset=".002" stop-color="#959343" stop-opacity="0"/><stop offset=".007" stop-color="#959343" stop-opacity="0.12"/><stop offset=".011" stop-color="#959545"/><stop offset=".037" stop-color="#878d51"/><stop offset=".054" stop-color="#6b7b65"/><stop offset=".059" stop-color="#5a716e" stop-opacity="0.44"/><stop offset=".063" stop-color="#5a716e" stop-opacity="0"/><stop offset=".08" stop-color="#5a716e" stop-opacity="0"/><stop offset=".133" stop-color="#173464" stop-opacity="0"/><stop offset=".137" stop-color="#173464" stop-opacity="0.88"/><stop offset=".141" stop-color="#183564"/><stop offset=".285" stop-color="#46616e"/><stop offset=".376" stop-color="#8a9c7e"/><stop offset=".424" stop-color="#cadaa7"/><stop offset=".433" stop-color="#deeeb8"/><stop offset=".437" stop-color="#effac8"/><stop offset=".441" stop-color="#ffffe8"/><stop offset=".446" stop-color="#fff"/><stop offset=".476" stop-color="#fffffe"/><stop offset=".48" stop-color="#feffec"/><stop offset=".485" stop-color="#f6fecd"/><stop offset=".493" stop-color="#dbecb5"/><stop offset=".52" stop-color="#abbf9a"/><stop offset=".541" stop-color="#7b9894"/><stop offset=".55" stop-color="#628596"/><stop offset=".554" stop-color="#446695"/><stop offset=".559" stop-color="#0d218c"/><stop offset=".563" stop-color="#05178c"/><stop offset=".65" stop-color="#0c29ad"/><stop offset=".741" stop-color="#183ae9"/><stop offset=".746" stop-color="#1638e8" stop-opacity="0.25"/><stop offset=".75" stop-color="#1638e8" stop-opacity="0"/><stop offset=".902" stop-color="#451905" stop-opacity="0"/><stop offset=".907" stop-color="#451905" stop-opacity="0.25"/><stop offset=".915" stop-color="#451b05" stop-opacity="0.5"/><stop offset=".924" stop-color="#451e06"/><stop offset=".985" stop-color="#433e18"/><stop offset=".989" stop-color="#41401c" stop-opacity="0.94"/><stop offset=".993" stop-color="#40401e" stop-opacity="0.19"/><stop offset=".998" stop-color="#40401e" stop-opacity="0"/></linearGradient><linearGradient id="s107"><stop offset=".002" stop-color="#939448" stop-opacity="0"/><stop offset=".007" stop-color="#939448" stop-opacity="0.62"/><stop offset=".011" stop-color="#929449"/><stop offset=".042" stop-color="#7d875a"/><stop offset=".05" stop-color="#6e7e64"/><stop offset=".055" stop-color="#5d736d" stop-opacity="0.94"/><stop offset=".059" stop-color="#4b6877" stop-opacity="0.06"/><stop offset=".064" stop-color="#4b6877" stop-opacity="0"/><stop offset=".077" stop-color="#4b6877" stop-opacity="0"/><stop offset=".125" stop-color="#143164" stop-opacity="0"/><stop offset=".129" stop-color="#143164" stop-opacity="0.06"/><stop offset=".134" stop-color="#153264"/><stop offset=".221" stop-color="#2a496e"/><stop offset=".292" stop-color="#486370"/><stop offset=".375" stop-color="#86987f"/><stop offset=".428" stop-color="#cadaaa"/><stop offset=".436" stop-color="#e0f0bc"/><stop offset=".445" stop-color="#ffe"/><stop offset=".45" stop-color="#fff"/><stop offset=".48" stop-color="#fffffe"/><stop offset=".485" stop-color="#ffffef"/><stop offset=".493" stop-color="#e9f8c2"/><stop offset=".498" stop-color="#dcecb6"/><stop offset=".524" stop-color="#adc29c"/><stop offset=".546" stop-color="#809c94"/><stop offset=".559" stop-color="#557997"/><stop offset=".564" stop-color="#26408d"/><stop offset=".568" stop-color="#05168c"/><stop offset=".651" stop-color="#0b28ad"/><stop offset=".743" stop-color="#183aea"/><stop offset=".748" stop-color="#1637e9" stop-opacity="0.88"/><stop offset=".752" stop-color="#1637e9" stop-opacity="0"/><stop offset=".879" stop-color="#451303" stop-opacity="0"/><stop offset=".884" stop-color="#451303" stop-opacity="0.19"/><stop offset=".888" stop-color="#451404" stop-opacity="0.31"/><stop offset=".901" stop-color="#451805" stop-opacity="0.88"/><stop offset=".906" stop-color="#451a05"/><stop offset=".985" stop-color="#41401c"/><stop offset=".989" stop-color="#3e3f20" stop-opacity="0.81"/><stop offset=".993" stop-color="#3c3e22" stop-opacity="0.19"/><stop offset=".998" stop-color="#3c3e22" stop-opacity="0"/></linearGradient><linearGradient id="s108"><stop offset=".002" stop-color="#91934a" stop-opacity="0"/><stop offset=".007" stop-color="#91934a" stop-opacity="0.38"/><stop offset=".011" stop-color="#90934c"/><stop offset=".042" stop-color="#7d875b"/><stop offset=".055" stop-color="#63776b"/><stop offset=".06" stop-color="#546d74" stop-opacity="0.38"/><stop offset=".064" stop-color="#546d74" stop-opacity="0"/><stop offset=".113" stop-color="#143064" stop-opacity="0"/><stop offset=".126" stop-color="#143064" stop-opacity="0"/><stop offset=".131" stop-color="#143064" stop-opacity="0.25"/><stop offset=".135" stop-color="#143164"/><stop offset=".232" stop-color="#2b4b6f"/><stop offset=".29" stop-color="#445f70"/><stop offset=".325" stop-color="#566f74"/><stop offset=".383" stop-color="#869981"/><stop offset=".436" stop-color="#ccdcad"/><stop offset=".445" stop-color="#e1f1c0"/><stop offset=".449" stop-color="#f7fdd6"/><stop offset=".454" stop-color="#fffff2"/><stop offset=".458" stop-color="#fff"/><stop offset=".489" stop-color="#fffffe"/><stop offset=".493" stop-color="#fefff3"/><stop offset=".498" stop-color="#f9fedc"/><stop offset=".502" stop-color="#ebf9c5"/><stop offset=".511" stop-color="#d7e8b4"/><stop offset=".538" stop-color="#a7bd9a"/><stop offset=".555" stop-color="#85a195"/><stop offset=".569" stop-color="#628697"/><stop offset=".573" stop-color="#466896"/><stop offset=".577" stop-color="#0f228a"/><stop offset=".582" stop-color="#05168e"/><stop offset=".653" stop-color="#0b24aa"/><stop offset=".754" stop-color="#1736ea"/><stop offset=".759" stop-color="#1635ea" stop-opacity="0.31"/><stop offset=".763" stop-color="#1635ea" stop-opacity="0"/><stop offset=".865" stop-color="#450f02" stop-opacity="0"/><stop offset=".869" stop-color="#450f02" stop-opacity="0.19"/><stop offset=".874" stop-color="#451003" stop-opacity="0.31"/><stop offset=".878" stop-color="#451103" stop-opacity="0.56"/><stop offset=".887" stop-color="#451403" stop-opacity="0.94"/><stop offset=".892" stop-color="#451604"/><stop offset=".967" stop-color="#453a12"/><stop offset=".989" stop-color="#3d3e21"/><stop offset=".998" stop-color="#3a3d24" stop-opacity="0"/></linearGradient><linearGradient id="s109"><stop offset=".002" stop-color="#8e924e" stop-opacity="0"/><stop offset=".007" stop-color="#8e924e" stop-opacity="0.88"/><stop offset=".011" stop-color="#8d914f"/><stop offset=".038" stop-color="#7c875d"/><stop offset=".051" stop-color="#667a6b"/><stop offset=".056" stop-color="#567073" stop-opacity="0.88"/><stop offset=".06" stop-color="#567073" stop-opacity="0"/><stop offset=".069" stop-color="#567073" stop-opacity="0"/><stop offset=".123" stop-color="#122e63" stop-opacity="0"/><stop offset=".132" stop-color="#133064"/><stop offset=".283" stop-color="#3f5c71"/><stop offset=".333" stop-color="#597276"/><stop offset=".382" stop-color="#809581"/><stop offset=".44" stop-color="#ccddaf"/><stop offset=".449" stop-color="#e5f5c4"/><stop offset=".453" stop-color="#f9fedc"/><stop offset=".458" stop-color="#fffff7"/><stop offset=".462" stop-color="#fff"/><stop offset=".493" stop-color="#fff"/><stop offset=".502" stop-color="#fcffe3"/><stop offset=".507" stop-color="#effbca"/><stop offset=".52" stop-color="#cfe1af"/><stop offset=".547" stop-color="#a5ba9a"/><stop offset=".569" stop-color="#789696"/><stop offset=".578" stop-color="#5b8199"/><stop offset=".587" stop-color="#06168a"/><stop offset=".667" stop-color="#0b26b0"/><stop offset=".757" stop-color="#1836eb"/><stop offset=".761" stop-color="#1634ea" stop-opacity="0.88"/><stop offset=".766" stop-color="#1634ea" stop-opacity="0"/><stop offset=".85" stop-color="#450c02" stop-opacity="0"/><stop offset=".868" stop-color="#450f02"/><stop offset=".958" stop-color="#453912"/><stop offset=".984" stop-color="#3c3e22"/><stop offset=".989" stop-color="#373b27" stop-opacity="0.88"/><stop offset=".993" stop-color="#34392a" stop-opacity="0.25"/><stop offset=".998" stop-color="#34392a" stop-opacity="0"/></linearGradient><linearGradient id="s110"><stop offset=".002" stop-color="#8c9151" stop-opacity="0"/><stop offset=".007" stop-color="#8c9151" stop-opacity="0.44"/><stop offset=".011" stop-color="#8b9053"/><stop offset=".043" stop-color="#778562"/><stop offset=".056" stop-color="#5b7373"/><stop offset=".061" stop-color="#4d6a79" stop-opacity="0.38"/><stop offset=".065" stop-color="#4d6a79" stop-opacity="0"/><stop offset=".123" stop-color="#112e63" stop-opacity="0"/><stop offset=".128" stop-color="#112e63" stop-opacity="0.75"/><stop offset=".132" stop-color="#112e63"/><stop offset=".289" stop-color="#3f5c72"/><stop offset=".339" stop-color="#587278"/><stop offset=".392" stop-color="#869a86"/><stop offset=".446" stop-color="#cedfb3"/><stop offset=".455" stop-color="#e5f6c7"/><stop offset=".46" stop-color="#fbfee2"/><stop offset=".464" stop-color="#fffff9"/><stop offset=".5" stop-color="#fff"/><stop offset=".504" stop-color="#fffffb"/><stop offset=".509" stop-color="#fcffe8"/><stop offset=".518" stop-color="#e4f4c0"/><stop offset=".527" stop-color="#c7d8ac"/><stop offset=".531" stop-color="#cddead"/><stop offset=".554" stop-color="#a9be9b"/><stop offset=".576" stop-color="#7e9b96"/><stop offset=".585" stop-color="#678a98"/><stop offset=".59" stop-color="#517494"/><stop offset=".594" stop-color="#213a90"/><stop offset=".599" stop-color="#051592"/><stop offset=".661" stop-color="#0a22ab"/><stop offset=".765" stop-color="#1732eb"/><stop offset=".769" stop-color="#1530eb" stop-opacity="0.44"/><stop offset=".774" stop-color="#1530eb" stop-opacity="0"/><stop offset=".836" stop-color="#450901" stop-opacity="0"/><stop offset=".854" stop-color="#450d02"/><stop offset=".957" stop-color="#453c15"/><stop offset=".984" stop-color="#353a28"/><stop offset=".989" stop-color="#30372c" stop-opacity="0.69"/><stop offset=".993" stop-color="#2f362d" stop-opacity="0.06"/><stop offset=".998" stop-color="#2f362d" stop-opacity="0"/></linearGradient><linearGradient id="s111"><stop offset=".002" stop-color="#8b9053" stop-opacity="0"/><stop offset=".007" stop-color="#8b9053" stop-opacity="0.06"/><stop offset=".011" stop-color="#8a9054" stop-opacity="0.94"/><stop offset=".016" stop-color="#888f56"/><stop offset=".043" stop-color="#778564"/><stop offset=".057" stop-color="#607771"/><stop offset=".061" stop-color="#506d79" stop-opacity="0.88"/><stop offset=".066" stop-color="#506d79" stop-opacity="0"/><stop offset=".075" stop-color="#506d79" stop-opacity="0"/><stop offset=".124" stop-color="#0f2c63" stop-opacity="0"/><stop offset=".129" stop-color="#0f2c63" stop-opacity="0.94"/><stop offset=".133" stop-color="#102d63"/><stop offset=".278" stop-color="#365572"/><stop offset=".342" stop-color="#557079"/><stop offset=".391" stop-color="#7d9384"/><stop offset=".45" stop-color="#c6d8af"/><stop offset=".464" stop-color="#e8f8cc"/><stop offset=".468" stop-color="#fbfee3"/><stop offset=".473" stop-color="#fffffa"/><stop offset=".509" stop-color="#fff"/><stop offset=".514" stop-color="#fffffe"/><stop offset=".518" stop-color="#fefff0"/><stop offset=".527" stop-color="#eaf9c6"/><stop offset=".536" stop-color="#d5e6b4"/><stop offset=".563" stop-color="#adc29c"/><stop offset=".59" stop-color="#7c9a96"/><stop offset=".6" stop-color="#648899"/><stop offset=".604" stop-color="#486b94"/><stop offset=".609" stop-color="#172d96"/><stop offset=".613" stop-color="#061595"/><stop offset=".672" stop-color="#0a21ad"/><stop offset=".771" stop-color="#1732ec"/><stop offset=".776" stop-color="#152fec" stop-opacity="0.94"/><stop offset=".781" stop-color="#142dec" stop-opacity="0.06"/><stop offset=".785" stop-color="#142dec" stop-opacity="0"/><stop offset=".83" stop-color="#450701" stop-opacity="0"/><stop offset=".835" stop-color="#450701" stop-opacity="0.38"/><stop offset=".839" stop-color="#450801" stop-opacity="0.62"/><stop offset=".844" stop-color="#450a02" stop-opacity="0.88"/><stop offset=".848" stop-color="#450d02"/><stop offset=".939" stop-color="#453811"/><stop offset=".971" stop-color="#41401d"/><stop offset=".984" stop-color="#353a28"/><stop offset=".989" stop-color="#2e362d" stop-opacity="0.88"/><stop offset=".993" stop-color="#2b3430" stop-opacity="0.31"/><stop offset=".998" stop-color="#2b3430" stop-opacity="0"/></linearGradient><linearGradient id="s112"><stop offset=".002" stop-color="#878f58" stop-opacity="0"/><stop offset=".007" stop-color="#878f58" stop-opacity="0.62"/><stop offset=".011" stop-color="#868e59"/><stop offset=".039" stop-color="#768566"/><stop offset=".057" stop-color="#546f78"/><stop offset=".062" stop-color="#415f74" stop-opacity="0.44"/><stop offset=".067" stop-color="#415f74" stop-opacity="0"/><stop offset=".085" stop-color="#415f74" stop-opacity="0"/><stop offset=".117" stop-color="#0e2962" stop-opacity="0"/><stop offset=".122" stop-color="#0e2962" stop-opacity="0.12"/><stop offset=".126" stop-color="#0f2a63"/><stop offset=".282" stop-color="#365573"/><stop offset=".346" stop-color="#54707a"/><stop offset=".406" stop-color="#859b8a"/><stop offset=".456" stop-color="#c6d8b1"/><stop offset=".466" stop-color="#d8e9bf"/><stop offset=".475" stop-color="#fcfee5"/><stop offset=".479" stop-color="#fffffe"/><stop offset=".521" stop-color="#fff"/><stop offset=".525" stop-color="#fffffb"/><stop offset=".53" stop-color="#fdffe3"/><stop offset=".539" stop-color="#e1f2bc"/><stop offset=".553" stop-color="#ccddac"/><stop offset=".58" stop-color="#a4ba98"/><stop offset=".603" stop-color="#7c9a96"/><stop offset=".612" stop-color="#638899"/><stop offset=".617" stop-color="#3f5f94"/><stop offset=".622" stop-color="#112291"/><stop offset=".626" stop-color="#061598"/><stop offset=".686" stop-color="#0a21b1"/><stop offset=".782" stop-color="#162fed"/><stop offset=".787" stop-color="#142cec" stop-opacity="0.62"/><stop offset=".791" stop-color="#142cec" stop-opacity="0"/><stop offset=".823" stop-color="#450601" stop-opacity="0"/><stop offset=".828" stop-color="#450601" stop-opacity="0.25"/><stop offset=".833" stop-color="#450701" stop-opacity="0.69"/><stop offset=".837" stop-color="#450901" stop-opacity="0.88"/><stop offset=".842" stop-color="#450c02"/><stop offset=".943" stop-color="#453b14"/><stop offset=".97" stop-color="#3f3f1f"/><stop offset=".989" stop-color="#2d362f"/><stop offset=".998" stop-color="#2a3331" stop-opacity="0"/></linearGradient><linearGradient id="s113"><stop offset=".002" stop-color="#868e5a" stop-opacity="0"/><stop offset=".007" stop-color="#868e5a" stop-opacity="0.25"/><stop offset=".012" stop-color="#848e5c"/><stop offset=".039" stop-color="#758567"/><stop offset=".058" stop-color="#587278"/><stop offset=".062" stop-color="#486679" stop-opacity="0.94"/><stop offset=".067" stop-color="#192a3c" stop-opacity="0.06"/><stop offset=".071" stop-color="#192a3c" stop-opacity="0"/><stop offset=".118" stop-color="#0e2962" stop-opacity="0"/><stop offset=".122" stop-color="#0e2962" stop-opacity="0.38"/><stop offset=".127" stop-color="#0e2862"/><stop offset=".26" stop-color="#2b4c72"/><stop offset=".362" stop-color="#5a757e"/><stop offset=".408" stop-color="#81988a"/><stop offset=".454" stop-color="#b8cba9"/><stop offset=".472" stop-color="#daecc3"/><stop offset=".482" stop-color="#ffffe9"/><stop offset=".486" stop-color="#fffffd"/><stop offset=".532" stop-color="#fffffd"/><stop offset=".541" stop-color="#f3fdce"/><stop offset=".551" stop-color="#ddedb8"/><stop offset=".588" stop-color="#acc09a"/><stop offset=".615" stop-color="#7d9b95"/><stop offset=".624" stop-color="#648899"/><stop offset=".629" stop-color="#44659b"/><stop offset=".634" stop-color="#182e9a"/><stop offset=".638" stop-color="#06159b"/><stop offset=".694" stop-color="#0a20b3"/><stop offset=".786" stop-color="#172eee"/><stop offset=".79" stop-color="#152bed" stop-opacity="0.94"/><stop offset=".795" stop-color="#1329ed" stop-opacity="0.06"/><stop offset=".8" stop-color="#1329ed" stop-opacity="0"/><stop offset=".813" stop-color="#450400" stop-opacity="0"/><stop offset=".818" stop-color="#450400" stop-opacity="0.06"/><stop offset=".827" stop-color="#450701" stop-opacity="0.94"/><stop offset=".832" stop-color="#450b02"/><stop offset=".869" stop-color="#452408"/><stop offset=".929" stop-color="#453b13"/><stop offset=".961" stop-color="#3f401f"/><stop offset=".984" stop-color="#2d352e"/><stop offset=".988" stop-color="#273233" stop-opacity="0.75"/><stop offset=".993" stop-color="#243035" stop-opacity="0.12"/><stop offset=".998" stop-color="#243035" stop-opacity="0"/></linearGradient><linearGradient id="s114"><stop offset=".002" stop-color="#828d5f" stop-opacity="0"/><stop offset=".007" stop-color="#828d5f" stop-opacity="0.75"/><stop offset=".012" stop-color="#818c60"/><stop offset=".04" stop-color="#6f816d"/><stop offset=".058" stop-color="#4e6c7e"/><stop offset=".063" stop-color="#3d5c78" stop-opacity="0.44"/><stop offset=".068" stop-color="#3d5c78" stop-opacity="0"/><stop offset=".114" stop-color="#0c2561" stop-opacity="0"/><stop offset=".119" stop-color="#0c2561" stop-opacity="0.69"/><stop offset=".124" stop-color="#0d2762"/><stop offset=".269" stop-color="#2d4e74"/><stop offset=".362" stop-color="#57737e"/><stop offset=".418" stop-color="#869c8f"/><stop offset=".465" stop-color="#bfd2af"/><stop offset=".479" stop-color="#daedc4"/><stop offset=".488" stop-color="#fdffec"/><stop offset=".493" stop-color="#fffffd"/><stop offset=".498" stop-color="#fff"/><stop offset=".54" stop-color="#fff"/><stop offset=".544" stop-color="#fffff2"/><stop offset=".549" stop-color="#f8ffd5"/><stop offset=".554" stop-color="#ecfac4"/><stop offset=".563" stop-color="#daeab3"/><stop offset=".6" stop-color="#adc098"/><stop offset=".629" stop-color="#819d94"/><stop offset=".638" stop-color="#6a8c99"/><stop offset=".643" stop-color="#48689b"/><stop offset=".647" stop-color="#1a2f9c"/><stop offset=".652" stop-color="#06159e"/><stop offset=".797" stop-color="#152bee"/><stop offset=".801" stop-color="#1329ed" stop-opacity="0.62"/><stop offset=".806" stop-color="#1329ed" stop-opacity="0"/><stop offset=".811" stop-color="#450400" stop-opacity="0"/><stop offset=".815" stop-color="#450400" stop-opacity="0.25"/><stop offset=".82" stop-color="#450500" stop-opacity="0.69"/><stop offset=".825" stop-color="#450801"/><stop offset=".862" stop-color="#452709"/><stop offset=".904" stop-color="#453710"/><stop offset=".951" stop-color="#40401e"/><stop offset=".984" stop-color="#2a3431"/><stop offset=".988" stop-color="#243035" stop-opacity="0.81"/><stop offset=".993" stop-color="#212f37" stop-opacity="0.25"/><stop offset=".998" stop-color="#212f37" stop-opacity="0"/></linearGradient><linearGradient id="s115"><stop offset=".002" stop-color="#808c61" stop-opacity="0"/><stop offset=".007" stop-color="#808c61" stop-opacity="0.25"/><stop offset=".012" stop-color="#7f8b63"/><stop offset=".035" stop-color="#73846c"/><stop offset=".059" stop-color="#52707d"/><stop offset=".064" stop-color="#466782" stop-opacity="0.88"/><stop offset=".068" stop-color="#385e88" stop-opacity="0.06"/><stop offset=".073" stop-color="#385e88" stop-opacity="0"/><stop offset=".097" stop-color="#0c2461" stop-opacity="0"/><stop offset=".116" stop-color="#0c2461" stop-opacity="0"/><stop offset=".12" stop-color="#0c2461"/><stop offset=".267" stop-color="#2a4a73"/><stop offset=".375" stop-color="#5a7681"/><stop offset=".417" stop-color="#7c948c"/><stop offset=".469" stop-color="#b8ccac"/><stop offset=".488" stop-color="#dbeec6"/><stop offset=".502" stop-color="#fffffb"/><stop offset=".55" stop-color="#fff"/><stop offset=".554" stop-color="#fffff9"/><stop offset=".559" stop-color="#fdffe5"/><stop offset=".568" stop-color="#eaf8c0"/><stop offset=".578" stop-color="#d9e8b0"/><stop offset=".616" stop-color="#b0c296"/><stop offset=".644" stop-color="#87a293"/><stop offset=".653" stop-color="#719197"/><stop offset=".658" stop-color="#58799a"/><stop offset=".663" stop-color="#283f9e"/><stop offset=".667" stop-color="#0b1ca1"/><stop offset=".672" stop-color="#0616a3"/><stop offset=".79" stop-color="#162cea"/><stop offset=".809" stop-color="#1427ee"/><stop offset=".814" stop-color="#340f4f" stop-opacity="0.38"/><stop offset=".818" stop-color="#450601" stop-opacity="0.75"/><stop offset=".823" stop-color="#450a02"/><stop offset=".851" stop-color="#452609"/><stop offset=".894" stop-color="#453811"/><stop offset=".946" stop-color="#3f401f"/><stop offset=".983" stop-color="#263233"/><stop offset=".988" stop-color="#222f36" stop-opacity="0.88"/><stop offset=".993" stop-color="#1f2d38" stop-opacity="0.38"/><stop offset=".998" stop-color="#1f2d38" stop-opacity="0"/></linearGradient><linearGradient id="s116"><stop offset=".002" stop-color="#7d8a65" stop-opacity="0"/><stop offset=".007" stop-color="#7d8a65" stop-opacity="0.88"/><stop offset=".012" stop-color="#7c8a67"/><stop offset=".036" stop-color="#6d8170"/><stop offset=".06" stop-color="#496a82"/><stop offset=".065" stop-color="#385a7e" stop-opacity="0.5"/><stop offset=".069" stop-color="#385a7e" stop-opacity="0"/><stop offset=".108" stop-color="#0b2260" stop-opacity="0"/><stop offset=".112" stop-color="#0b2260" stop-opacity="0.19"/><stop offset=".117" stop-color="#0b2260"/><stop offset=".285" stop-color="#2e4f76"/><stop offset=".376" stop-color="#577481"/><stop offset=".433" stop-color="#869e92"/><stop offset=".486" stop-color="#c6d9b6"/><stop offset=".495" stop-color="#daecc5"/><stop offset=".505" stop-color="#fbffee"/><stop offset=".51" stop-color="#fffffe"/><stop offset=".562" stop-color="#fffffe"/><stop offset=".567" stop-color="#fffff2"/><stop offset=".572" stop-color="#fcffd7"/><stop offset=".581" stop-color="#e5f4b8"/><stop offset=".596" stop-color="#d4e2a8"/><stop offset=".629" stop-color="#b3c494"/><stop offset=".658" stop-color="#90a890"/><stop offset=".667" stop-color="#7d9a94"/><stop offset=".672" stop-color="#6a8997"/><stop offset=".682" stop-color="#2237a2"/><stop offset=".687" stop-color="#0716a6"/><stop offset=".806" stop-color="#172aee"/><stop offset=".811" stop-color="#2220b3"/><stop offset=".816" stop-color="#390f3c"/><stop offset=".821" stop-color="#450c02"/><stop offset=".849" stop-color="#452c0b"/><stop offset=".892" stop-color="#453c14"/><stop offset=".94" stop-color="#3d3f21"/><stop offset=".983" stop-color="#233035"/><stop offset=".988" stop-color="#1f2d38" stop-opacity="0.94"/><stop offset=".993" stop-color="#1c2b3a" stop-opacity="0.5"/><stop offset=".998" stop-color="#1c2b3a" stop-opacity="0"/></linearGradient><linearGradient id="s117"><stop offset=".002" stop-color="#7b8a68" stop-opacity="0"/><stop offset=".007" stop-color="#7b8a68" stop-opacity="0.38"/><stop offset=".012" stop-color="#7a896a"/><stop offset=".041" stop-color="#677e75"/><stop offset=".06" stop-color="#4d6d82"/><stop offset=".065" stop-color="#416587" stop-opacity="0.94"/><stop offset=".07" stop-color="#375e8b" stop-opacity="0.06"/><stop offset=".075" stop-color="#375e8b" stop-opacity="0"/><stop offset=".094" stop-color="#0a205f" stop-opacity="0"/><stop offset=".109" stop-color="#0a205f" stop-opacity="0"/><stop offset=".114" stop-color="#0a205f" stop-opacity="0.38"/><stop offset=".118" stop-color="#0b2260"/><stop offset=".297" stop-color="#2f5178"/><stop offset=".394" stop-color="#5d7a85"/><stop offset=".447" stop-color="#8ba396"/><stop offset=".49" stop-color="#c0d4b2"/><stop offset=".505" stop-color="#dbeec6"/><stop offset=".514" stop-color="#fdffeb"/><stop offset=".519" stop-color="#fffffe"/><stop offset=".572" stop-color="#fff"/><stop offset=".577" stop-color="#fffff8"/><stop offset=".582" stop-color="#feffe4"/><stop offset=".592" stop-color="#effbbe"/><stop offset=".606" stop-color="#dae7a8"/><stop offset=".64" stop-color="#bdcc93"/><stop offset=".679" stop-color="#96ab8d"/><stop offset=".693" stop-color="#708d95"/><stop offset=".698" stop-color="#435b9e"/><stop offset=".708" stop-color="#0816ac"/><stop offset=".804" stop-color="#1426e7"/><stop offset=".809" stop-color="#1c23cd"/><stop offset=".814" stop-color="#390f3c"/><stop offset=".819" stop-color="#450c02"/><stop offset=".843" stop-color="#45300d"/><stop offset=".882" stop-color="#443d16"/><stop offset=".94" stop-color="#393c25"/><stop offset=".983" stop-color="#202e38"/><stop offset=".988" stop-color="#1c2b3a" stop-opacity="0.94"/><stop offset=".993" stop-color="#20364f" stop-opacity="0.44"/><stop offset=".998" stop-color="#20364f" stop-opacity="0"/></linearGradient><linearGradient id="s118"><stop offset=".002" stop-color="#79896c" stop-opacity="0"/><stop offset=".007" stop-color="#79896c" stop-opacity="0.06"/><stop offset=".012" stop-color="#78886d" stop-opacity="0.94"/><stop offset=".017" stop-color="#76876e"/><stop offset=".046" stop-color="#627b7a"/><stop offset=".066" stop-color="#456886"/><stop offset=".071" stop-color="#385e8b" stop-opacity="0.5"/><stop offset=".076" stop-color="#385e8b" stop-opacity="0"/><stop offset=".11" stop-color="#0a205f" stop-opacity="0"/><stop offset=".115" stop-color="#0a205f" stop-opacity="0.62"/><stop offset=".12" stop-color="#0a2060"/><stop offset=".3" stop-color="#2d4f78"/><stop offset=".393" stop-color="#577584"/><stop offset=".441" stop-color="#7d9792"/><stop offset=".495" stop-color="#b9ceaf"/><stop offset=".515" stop-color="#dcefc7"/><stop offset=".524" stop-color="#fbffe7"/><stop offset=".529" stop-color="#fffff9"/><stop offset=".588" stop-color="#fffffe"/><stop offset=".598" stop-color="#fdffd6"/><stop offset=".607" stop-color="#eef9b8"/><stop offset=".622" stop-color="#dbe7a4"/><stop offset=".671" stop-color="#bac789"/><stop offset=".705" stop-color="#9aad88"/><stop offset=".715" stop-color="#7f978f"/><stop offset=".729" stop-color="#1c2ead"/><stop offset=".734" stop-color="#0918b6"/><stop offset=".802" stop-color="#1122df"/><stop offset=".807" stop-color="#181fc6"/><stop offset=".812" stop-color="#321156"/><stop offset=".817" stop-color="#450d02"/><stop offset=".832" stop-color="#45300d"/><stop offset=".866" stop-color="#443e18"/><stop offset=".939" stop-color="#343929"/><stop offset=".983" stop-color="#1d2c3a"/><stop offset=".988" stop-color="#18293c" stop-opacity="0.88"/><stop offset=".993" stop-color="#18283d" stop-opacity="0.38"/><stop offset=".998" stop-color="#18283d" stop-opacity="0"/></linearGradient><linearGradient id="s119"><stop offset=".002" stop-color="#76876f" stop-opacity="0"/><stop offset=".007" stop-color="#76876f" stop-opacity="0.56"/><stop offset=".012" stop-color="#748671"/><stop offset=".037" stop-color="#657e79"/><stop offset=".062" stop-color="#476a87"/><stop offset=".067" stop-color="#3c628a" stop-opacity="0.94"/><stop offset=".072" stop-color="#325a8c" stop-opacity="0.06"/><stop offset=".077" stop-color="#325a8c" stop-opacity="0"/><stop offset=".082" stop-color="#325a8c" stop-opacity="0"/><stop offset=".106" stop-color="#081e5f" stop-opacity="0"/><stop offset=".111" stop-color="#081e5f" stop-opacity="0.81"/><stop offset=".116" stop-color="#091f60"/><stop offset=".309" stop-color="#2e517a"/><stop offset=".394" stop-color="#547484"/><stop offset=".453" stop-color="#829c95"/><stop offset=".507" stop-color="#c0d4b3"/><stop offset=".522" stop-color="#daecc5"/><stop offset=".527" stop-color="#e9fad1"/><stop offset=".537" stop-color="#fffff8"/><stop offset=".597" stop-color="#fff"/><stop offset=".601" stop-color="#fffffa"/><stop offset=".616" stop-color="#f8febe"/><stop offset=".636" stop-color="#dee99f"/><stop offset=".691" stop-color="#c2cc82"/><stop offset=".735" stop-color="#a4b380"/><stop offset=".74" stop-color="#9aac83"/><stop offset=".755" stop-color="#4150a6"/><stop offset=".77" stop-color="#0c1bc6"/><stop offset=".8" stop-color="#101fd8"/><stop offset=".804" stop-color="#1d29d1"/><stop offset=".809" stop-color="#24168b"/><stop offset=".814" stop-color="#421212"/><stop offset=".819" stop-color="#44280c"/><stop offset=".829" stop-color="#443b16"/><stop offset=".854" stop-color="#403f1d"/><stop offset=".933" stop-color="#2f362d"/><stop offset=".983" stop-color="#18293c"/><stop offset=".988" stop-color="#16273d" stop-opacity="0.75"/><stop offset=".993" stop-color="#14263e" stop-opacity="0.31"/><stop offset=".998" stop-color="#14263e" stop-opacity="0"/></linearGradient><linearGradient id="s120"><stop offset=".003" stop-color="#748671" stop-opacity="0"/><stop offset=".007" stop-color="#748671" stop-opacity="0.12"/><stop offset=".013" stop-color="#718574"/><stop offset=".043" stop-color="#5f7b7e"/><stop offset=".068" stop-color="#40668b"/><stop offset=".077" stop-color="#355d8e" stop-opacity="0"/><stop offset=".107" stop-color="#081d5f" stop-opacity="0"/><stop offset=".113" stop-color="#081d5f"/><stop offset=".287" stop-color="#264875"/><stop offset=".393" stop-color="#4f6f84"/><stop offset=".463" stop-color="#829d97"/><stop offset=".517" stop-color="#c0d4b2"/><stop offset=".532" stop-color="#daecc4"/><stop offset=".542" stop-color="#f7fee0"/><stop offset=".552" stop-color="#fffffe"/><stop offset=".613" stop-color="#fff"/><stop offset=".618" stop-color="#fffff4"/><stop offset=".632" stop-color="#fafebb"/><stop offset=".652" stop-color="#e3eb9a"/><stop offset=".718" stop-color="#ced277"/><stop offset=".782" stop-color="#ccc65d"/><stop offset=".792" stop-color="#a8996b"/><stop offset=".797" stop-color="#ab9365"/><stop offset=".802" stop-color="#c59d4f"/><stop offset=".807" stop-color="#c3822a"/><stop offset=".812" stop-color="#5d2d14"/><stop offset=".818" stop-color="#432d1d"/><stop offset=".823" stop-color="#373b26"/><stop offset=".917" stop-color="#2c3530"/><stop offset=".978" stop-color="#17283d"/><stop offset=".983" stop-color="#15263e" stop-opacity="0.94"/><stop offset=".988" stop-color="#14253e" stop-opacity="0.62"/><stop offset=".993" stop-color="#12243f" stop-opacity="0.19"/><stop offset=".998" stop-color="#12243f" stop-opacity="0"/></linearGradient><linearGradient id="s121"><stop offset=".003" stop-color="#6f8477" stop-opacity="0"/><stop offset=".008" stop-color="#6f8477" stop-opacity="0.62"/><stop offset=".013" stop-color="#6d8478"/><stop offset=".063" stop-color="#43688b"/><stop offset=".069" stop-color="#38608e" stop-opacity="0.94"/><stop offset=".074" stop-color="#325b8f" stop-opacity="0.06"/><stop offset=".079" stop-color="#325b8f" stop-opacity="0"/><stop offset=".099" stop-color="#071a5e" stop-opacity="0"/><stop offset=".104" stop-color="#071a5e" stop-opacity="0.25"/><stop offset=".109" stop-color="#071b5e"/><stop offset=".307" stop-color="#2a4c78"/><stop offset=".393" stop-color="#4c6d84"/><stop offset=".449" stop-color="#708d92"/><stop offset=".52" stop-color="#b9cdaf"/><stop offset=".541" stop-color="#d5e7c0"/><stop offset=".556" stop-color="#ffe"/><stop offset=".561" stop-color="#fffffd"/><stop offset=".566" stop-color="#fff"/><stop offset=".627" stop-color="#fffffc"/><stop offset=".647" stop-color="#fcfeb5"/><stop offset=".662" stop-color="#ecf299"/><stop offset=".693" stop-color="#e2e581"/><stop offset=".774" stop-color="#e2cb50"/><stop offset=".794" stop-color="#e4b03a"/><stop offset=".805" stop-color="#e38427"/><stop offset=".81" stop-color="#913e13"/><stop offset=".815" stop-color="#2c1e24"/><stop offset=".82" stop-color="#212e37"/><stop offset=".891" stop-color="#263134"/><stop offset=".977" stop-color="#13253e"/><stop offset=".982" stop-color="#11233f" stop-opacity="0.88"/><stop offset=".987" stop-color="#11233f" stop-opacity="0.44"/><stop offset=".992" stop-color="#0e2040" stop-opacity="0.06"/><stop offset=".997" stop-color="#0e2040" stop-opacity="0"/></linearGradient><linearGradient id="s122"><stop offset=".003" stop-color="#6c8379" stop-opacity="0"/><stop offset=".008" stop-color="#6c8379" stop-opacity="0.25"/><stop offset=".013" stop-color="#6b827b"/><stop offset=".049" stop-color="#557586"/><stop offset=".07" stop-color="#3b638f"/><stop offset=".075" stop-color="#325b8f" stop-opacity="0.62"/><stop offset=".08" stop-color="#325b8f" stop-opacity="0"/><stop offset=".085" stop-color="#325b8f" stop-opacity="0"/><stop offset=".101" stop-color="#07195e" stop-opacity="0"/><stop offset=".111" stop-color="#071a5e"/><stop offset=".276" stop-color="#204173"/><stop offset=".399" stop-color="#4a6b85"/><stop offset=".482" stop-color="#839e99"/><stop offset=".544" stop-color="#c6d8b4"/><stop offset=".559" stop-color="#e3f4c9"/><stop offset=".564" stop-color="#f2fed6"/><stop offset=".575" stop-color="#fffff7"/><stop offset=".58" stop-color="#fff"/><stop offset=".642" stop-color="#fff"/><stop offset=".647" stop-color="#fffff6"/><stop offset=".662" stop-color="#ffffbd"/><stop offset=".678" stop-color="#f8fb9b"/><stop offset=".719" stop-color="#eae674"/><stop offset=".765" stop-color="#e9d153"/><stop offset=".786" stop-color="#e8bd42"/><stop offset=".796" stop-color="#e6a937"/><stop offset=".807" stop-color="#e48226"/><stop offset=".812" stop-color="#cf5918"/><stop offset=".817" stop-color="#5c2019"/><stop offset=".822" stop-color="#18243a"/><stop offset=".899" stop-color="#1d2c3a"/><stop offset=".977" stop-color="#11233f"/><stop offset=".982" stop-color="#0f213f" stop-opacity="0.94"/><stop offset=".987" stop-color="#0e2040" stop-opacity="0.62"/><stop offset=".992" stop-color="#132f64" stop-opacity="0.25"/><stop offset=".997" stop-color="#132f64" stop-opacity="0"/></linearGradient><linearGradient id="s123"><stop offset=".003" stop-color="#68817e" stop-opacity="0"/><stop offset=".008" stop-color="#68817e" stop-opacity="0.75"/><stop offset=".013" stop-color="#67817f"/><stop offset=".055" stop-color="#4c708b"/><stop offset=".071" stop-color="#345d91"/><stop offset=".076" stop-color="#2c5690" stop-opacity="0.12"/><stop offset=".082" stop-color="#2c5690" stop-opacity="0"/><stop offset=".097" stop-color="#06175d" stop-opacity="0"/><stop offset=".103" stop-color="#06175d" stop-opacity="0.62"/><stop offset=".108" stop-color="#07185e"/><stop offset=".266" stop-color="#1c3d71"/><stop offset=".403" stop-color="#486985"/><stop offset=".476" stop-color="#769396"/><stop offset=".55" stop-color="#bfd2af"/><stop offset=".571" stop-color="#dff0c3"/><stop offset=".582" stop-color="#faffde"/><stop offset=".592" stop-color="#fffffa"/><stop offset=".661" stop-color="#fffffc"/><stop offset=".682" stop-color="#ffffb6"/><stop offset=".697" stop-color="#fefe95"/><stop offset=".766" stop-color="#eed253"/><stop offset=".787" stop-color="#eabc42"/><stop offset=".803" stop-color="#e79830"/><stop offset=".813" stop-color="#e36a1e"/><stop offset=".818" stop-color="#ac3311"/><stop offset=".824" stop-color="#28182d"/><stop offset=".829" stop-color="#0e2140"/><stop offset=".924" stop-color="#15273e"/><stop offset=".982" stop-color="#0d1f40"/><stop offset=".997" stop-color="#0b1d41" stop-opacity="0"/></linearGradient><linearGradient id="s124"><stop offset=".003" stop-color="#668080" stop-opacity="0"/><stop offset=".008" stop-color="#668080" stop-opacity="0.38"/><stop offset=".013" stop-color="#648082"/><stop offset=".051" stop-color="#50738c"/><stop offset=".072" stop-color="#376192"/><stop offset=".077" stop-color="#2f5891" stop-opacity="0.75"/><stop offset=".082" stop-color="#2f5891" stop-opacity="0"/><stop offset=".098" stop-color="#06165d" stop-opacity="0"/><stop offset=".104" stop-color="#06165d" stop-opacity="0.81"/><stop offset=".109" stop-color="#06175d"/><stop offset=".285" stop-color="#1f4073"/><stop offset=".364" stop-color="#335781"/><stop offset=".434" stop-color="#53738a"/><stop offset=".497" stop-color="#809b9a"/><stop offset=".572" stop-color="#ccddb4"/><stop offset=".588" stop-color="#e9f7c7"/><stop offset=".598" stop-color="#ffffe2"/><stop offset=".604" stop-color="#fffff2"/><stop offset=".614" stop-color="#fff"/><stop offset=".673" stop-color="#fff"/><stop offset=".678" stop-color="#fffff6"/><stop offset=".699" stop-color="#ffffb0"/><stop offset=".721" stop-color="#fffb86"/><stop offset=".763" stop-color="#f3d657"/><stop offset=".79" stop-color="#ecb540"/><stop offset=".806" stop-color="#e78c2b"/><stop offset=".816" stop-color="#e05317"/><stop offset=".822" stop-color="#9a231c"/><stop offset=".827" stop-color="#161a3e"/><stop offset=".832" stop-color="#091b41"/><stop offset=".971" stop-color="#0b1e41"/><stop offset=".976" stop-color="#0b1e4a"/><stop offset=".981" stop-color="#091b41" stop-opacity="0.69"/><stop offset=".987" stop-color="#091b41" stop-opacity="0.31"/><stop offset=".992" stop-color="#081842" stop-opacity="0.06"/><stop offset=".997" stop-color="#081842" stop-opacity="0"/></linearGradient><linearGradient id="s125"><stop offset=".003" stop-color="#627f84" stop-opacity="0"/><stop offset=".008" stop-color="#627f84" stop-opacity="0.88"/><stop offset=".014" stop-color="#607e86"/><stop offset=".052" stop-color="#4b708f"/><stop offset=".074" stop-color="#325c93"/><stop offset=".079" stop-color="#23477d" stop-opacity="0.25"/><stop offset=".085" stop-color="#23477d" stop-opacity="0"/><stop offset=".09" stop-color="#05145c" stop-opacity="0"/><stop offset=".096" stop-color="#05145c" stop-opacity="0.06"/><stop offset=".101" stop-color="#05145c"/><stop offset=".254" stop-color="#17376f"/><stop offset=".418" stop-color="#466887"/><stop offset=".484" stop-color="#6b8994"/><stop offset=".577" stop-color="#bed1ac"/><stop offset=".598" stop-color="#d9e8b8"/><stop offset=".609" stop-color="#f2fcca"/><stop offset=".62" stop-color="#ffffe3"/><stop offset=".637" stop-color="#fff"/><stop offset=".691" stop-color="#fff"/><stop offset=".719" stop-color="#ffffb3"/><stop offset=".74" stop-color="#fffd86"/><stop offset=".784" stop-color="#f4cb50"/><stop offset=".801" stop-color="#edaf3e"/><stop offset=".817" stop-color="#e58027"/><stop offset=".822" stop-color="#e2671d"/><stop offset=".828" stop-color="#dd4011"/><stop offset=".833" stop-color="#621829"/><stop offset=".839" stop-color="#061542"/><stop offset=".975" stop-color="#081942"/><stop offset=".981" stop-color="#081842" stop-opacity="0.88"/><stop offset=".986" stop-color="#071742" stop-opacity="0.62"/><stop offset=".997" stop-color="#071742" stop-opacity="0"/></linearGradient><linearGradient id="s126"><stop offset=".003" stop-color="#607e87" stop-opacity="0"/><stop offset=".008" stop-color="#607e87" stop-opacity="0.38"/><stop offset=".014" stop-color="#5e7d88"/><stop offset=".047" stop-color="#4f748f"/><stop offset=".075" stop-color="#355f95"/><stop offset=".081" stop-color="#2c5693" stop-opacity="0.81"/><stop offset=".086" stop-color="#2c5693" stop-opacity="0"/><stop offset=".092" stop-color="#04125b" stop-opacity="0"/><stop offset=".097" stop-color="#04125b" stop-opacity="0.25"/><stop offset=".103" stop-color="#04145c"/><stop offset=".253" stop-color="#15356f"/><stop offset=".414" stop-color="#3e6286"/><stop offset=".497" stop-color="#6b8a95"/><stop offset=".603" stop-color="#cadaae"/><stop offset=".631" stop-color="#f6fdc9"/><stop offset=".647" stop-color="#ffffea"/><stop offset=".658" stop-color="#fffffc"/><stop offset=".703" stop-color="#fffffe"/><stop offset=".758" stop-color="#fffc7f"/><stop offset=".797" stop-color="#f5c24b"/><stop offset=".814" stop-color="#ea9b35"/><stop offset=".825" stop-color="#e37623"/><stop offset=".831" stop-color="#df5a19"/><stop offset=".836" stop-color="#cd3010"/><stop offset=".842" stop-color="#461231"/><stop offset=".847" stop-color="#041043"/><stop offset=".975" stop-color="#061443"/><stop offset=".981" stop-color="#051343" stop-opacity="0.75"/><stop offset=".986" stop-color="#051343" stop-opacity="0.44"/><stop offset=".992" stop-color="#041143" stop-opacity="0.19"/><stop offset=".997" stop-color="#041143" stop-opacity="0"/></linearGradient><linearGradient id="s127"><stop offset=".003" stop-color="#5d7c8b" stop-opacity="0"/><stop offset=".009" stop-color="#5d7c8b" stop-opacity="0.94"/><stop offset=".014" stop-color="#5b7c8c"/><stop offset=".048" stop-color="#4b7193"/><stop offset=".077" stop-color="#305a95"/><stop offset=".082" stop-color="#224986" stop-opacity="0.38"/><stop offset=".088" stop-color="#224986" stop-opacity="0"/><stop offset=".099" stop-color="#04125b"/><stop offset=".253" stop-color="#13346f"/><stop offset=".423" stop-color="#3f6387"/><stop offset=".509" stop-color="#6d8c96"/><stop offset=".622" stop-color="#cddcab"/><stop offset=".645" stop-color="#f2fbbe"/><stop offset=".656" stop-color="#feffcc"/><stop offset=".673" stop-color="#ffffe9"/><stop offset=".69" stop-color="#fffff6"/><stop offset=".713" stop-color="#ffffec"/><stop offset=".764" stop-color="#ffff87"/><stop offset=".787" stop-color="#ffdd62"/><stop offset=".815" stop-color="#eca43a"/><stop offset=".827" stop-color="#e48329"/><stop offset=".838" stop-color="#dd4f15"/><stop offset=".844" stop-color="#b02215"/><stop offset=".849" stop-color="#0f0b40"/><stop offset=".855" stop-color="#020b44"/><stop offset=".969" stop-color="#040f43"/><stop offset=".974" stop-color="#040f43" stop-opacity="0.81"/><stop offset=".991" stop-color="#030c44" stop-opacity="0.06"/><stop offset=".997" stop-color="#030c44" stop-opacity="0"/></linearGradient><linearGradient id="s128"><stop offset=".003" stop-color="#5a7c8e" stop-opacity="0"/><stop offset=".015" stop-color="#597b8f"/><stop offset=".055" stop-color="#466f96"/><stop offset=".078" stop-color="#325d97"/><stop offset=".084" stop-color="#2a5595" stop-opacity="0.81"/><stop offset=".09" stop-color="#2a5595" stop-opacity="0"/><stop offset=".096" stop-color="#030f5a" stop-opacity="0.69"/><stop offset=".102" stop-color="#04115b"/><stop offset=".27" stop-color="#143570"/><stop offset=".433" stop-color="#3d6188"/><stop offset=".532" stop-color="#729098"/><stop offset=".648" stop-color="#d3e0a8"/><stop offset=".677" stop-color="#fbffbc"/><stop offset=".712" stop-color="#ffffd5"/><stop offset=".741" stop-color="#ffffc3"/><stop offset=".776" stop-color="#ffff86"/><stop offset=".794" stop-color="#ffe56a"/><stop offset=".828" stop-color="#ea9e37"/><stop offset=".84" stop-color="#e27c25"/><stop offset=".852" stop-color="#da4512"/><stop offset=".858" stop-color="#871920"/><stop offset=".863" stop-color="#0e0640"/><stop offset=".869" stop-color="#010644"/><stop offset=".968" stop-color="#020a44"/><stop offset=".974" stop-color="#020944" stop-opacity="0.88"/><stop offset=".98" stop-color="#020944" stop-opacity="0.62"/><stop offset=".985" stop-color="#020944" stop-opacity="0.31"/><stop offset=".991" stop-color="#020744" stop-opacity="0.12"/><stop offset=".997" stop-color="#020744" stop-opacity="0"/></linearGradient><linearGradient id="s129"><stop offset=".003" stop-color="#597b90" stop-opacity="0"/><stop offset=".009" stop-color="#597b90" stop-opacity="0.06"/><stop offset=".015" stop-color="#587b91" stop-opacity="0.94"/><stop offset=".021" stop-color="#567a92"/><stop offset=".062" stop-color="#416c99"/><stop offset=".086" stop-color="#2d5897"/><stop offset=".092" stop-color="#255096" stop-opacity="0.38"/><stop offset=".098" stop-color="#030f5a" stop-opacity="0.94"/><stop offset=".104" stop-color="#030f5a"/><stop offset=".265" stop-color="#11316e"/><stop offset=".432" stop-color="#365c88"/><stop offset=".503" stop-color="#567890"/><stop offset=".545" stop-color="#6e8d98"/><stop offset=".67" stop-color="#d0dda2"/><stop offset=".705" stop-color="#fbfdae"/><stop offset=".735" stop-color="#ffffb6"/><stop offset=".759" stop-color="#ffffa8"/><stop offset=".783" stop-color="#fffd88"/><stop offset=".807" stop-color="#ffdf66"/><stop offset=".842" stop-color="#e69934"/><stop offset=".86" stop-color="#dc5f1a"/><stop offset=".866" stop-color="#d83e10"/><stop offset=".872" stop-color="#be1e0f" stop-opacity="0.56"/><stop offset=".878" stop-color="#000145" stop-opacity="0.69"/><stop offset=".884" stop-color="#000245" stop-opacity="0.75"/><stop offset=".89" stop-color="#000245" stop-opacity="0.94"/><stop offset=".896" stop-color="#000245"/><stop offset=".961" stop-color="#010544"/><stop offset=".967" stop-color="#010444" stop-opacity="0.94"/><stop offset=".973" stop-color="#010444" stop-opacity="0.75"/><stop offset=".979" stop-color="#010345" stop-opacity="0.69"/><stop offset=".985" stop-color="#010444" stop-opacity="0.38"/><stop offset=".991" stop-color="#000245" stop-opacity="0.12"/><stop offset=".997" stop-color="#000245" stop-opacity="0"/></linearGradient><linearGradient id="s130"><stop offset=".003" stop-color="#567a93" stop-opacity="0"/><stop offset=".016" stop-color="#557994"/><stop offset=".084" stop-color="#305b99"/><stop offset=".09" stop-color="#254e93"/><stop offset=".096" stop-color="#05115d"/><stop offset=".102" stop-color="#030f5a"/><stop offset=".363" stop-color="#21447a"/><stop offset=".457" stop-color="#395f8a"/><stop offset=".531" stop-color="#5a7c92"/><stop offset=".63" stop-color="#9eb49e"/><stop offset=".699" stop-color="#cfda9b"/><stop offset=".748" stop-color="#fdfea0"/><stop offset=".773" stop-color="#ff9"/><stop offset=".804" stop-color="#fff67d"/><stop offset=".829" stop-color="#fbd85f"/><stop offset=".86" stop-color="#e6a238"/><stop offset=".873" stop-color="#e08428"/><stop offset=".885" stop-color="#d95a18"/><stop offset=".891" stop-color="#d6390e" stop-opacity="0.94"/><stop offset=".898" stop-color="#d42108" stop-opacity="0.31"/><stop offset=".904" stop-color="#d42108" stop-opacity="0"/><stop offset=".929" stop-color="#000045" stop-opacity="0"/><stop offset=".941" stop-color="#000045" stop-opacity="0.25"/><stop offset=".984" stop-color="#000145" stop-opacity="0.25"/><stop offset=".997" stop-color="#000045" stop-opacity="0"/></linearGradient><linearGradient id="s131"><stop offset=".003" stop-color="#547a95" stop-opacity="0"/><stop offset=".01" stop-color="#547a95" stop-opacity="0.12"/><stop offset=".017" stop-color="#537996"/><stop offset=".066" stop-color="#416d9e"/><stop offset=".1" stop-color="#2a5699"/><stop offset=".107" stop-color="#163580"/><stop offset=".114" stop-color="#030d59"/><stop offset=".293" stop-color="#0f2d6e"/><stop offset=".417" stop-color="#23467c"/><stop offset=".521" stop-color="#3c618b"/><stop offset=".624" stop-color="#698997"/><stop offset=".728" stop-color="#adbf9c"/><stop offset=".838" stop-color="#f7f78e"/><stop offset=".886" stop-color="#fdea72"/><stop offset=".921" stop-color="#f0c852"/><stop offset=".955" stop-color="#e0902e"/><stop offset=".976" stop-color="#d85616"/><stop offset=".983" stop-color="#d5340c" stop-opacity="0.94"/><stop offset=".99" stop-color="#d32208" stop-opacity="0.19"/><stop offset=".997" stop-color="#d32208" stop-opacity="0"/></linearGradient><linearGradient id="s132"><stop offset=".003" stop-color="#527898" stop-opacity="0"/><stop offset=".01" stop-color="#527898" stop-opacity="0.62"/><stop offset=".017" stop-color="#50779a"/><stop offset=".094" stop-color="#2d5a9b"/><stop offset=".101" stop-color="#244e94"/><stop offset=".108" stop-color="#05115c"/><stop offset=".115" stop-color="#030d5a"/><stop offset=".402" stop-color="#1f427a"/><stop offset=".521" stop-color="#3a608c"/><stop offset=".612" stop-color="#608195"/><stop offset=".738" stop-color="#aebf99"/><stop offset=".843" stop-color="#eceb81"/><stop offset=".892" stop-color="#f3dc63"/><stop offset=".927" stop-color="#e8bb47"/><stop offset=".955" stop-color="#dd8d2c"/><stop offset=".969" stop-color="#d86b1d"/><stop offset=".976" stop-color="#d65114"/><stop offset=".983" stop-color="#d4340c" stop-opacity="0.81"/><stop offset=".99" stop-color="#d32408" stop-opacity="0.12"/><stop offset=".997" stop-color="#d32408" stop-opacity="0"/></linearGradient><linearGradient id="s133"><stop offset=".004" stop-color="#50779b" stop-opacity="0"/><stop offset=".011" stop-color="#50779b" stop-opacity="0.25"/><stop offset=".018" stop-color="#4e779c"/><stop offset=".067" stop-color="#3d6ba2"/><stop offset=".102" stop-color="#28559b"/><stop offset=".109" stop-color="#183c89"/><stop offset=".116" stop-color="#030c5a"/><stop offset=".123" stop-color="#030d5a"/><stop offset=".335" stop-color="#123373"/><stop offset=".518" stop-color="#365c8b"/><stop offset=".644" stop-color="#6b8b98"/><stop offset=".708" stop-color="#94ab99"/><stop offset=".764" stop-color="#b7c593"/><stop offset=".842" stop-color="#e3e27b"/><stop offset=".891" stop-color="#ebd55e"/><stop offset=".926" stop-color="#e3b744"/><stop offset=".954" stop-color="#db8c2b"/><stop offset=".975" stop-color="#d55115"/><stop offset=".982" stop-color="#d3310b" stop-opacity="0.81"/><stop offset=".989" stop-color="#d22408" stop-opacity="0.06"/><stop offset=".996" stop-color="#d22408" stop-opacity="0"/></linearGradient><linearGradient id="s134"><stop offset=".004" stop-color="#4d769e" stop-opacity="0"/><stop offset=".011" stop-color="#4d769e" stop-opacity="0.75"/><stop offset=".018" stop-color="#4b76a0"/><stop offset=".068" stop-color="#3a68a2"/><stop offset=".104" stop-color="#224f9b"/><stop offset=".111" stop-color="#081a69"/><stop offset=".118" stop-color="#030c5a"/><stop offset=".125" stop-color="#030d5b"/><stop offset=".339" stop-color="#123373"/><stop offset=".539" stop-color="#3b628e"/><stop offset=".646" stop-color="#698998"/><stop offset=".718" stop-color="#95ac97"/><stop offset=".789" stop-color="#c0ca8b"/><stop offset=".846" stop-color="#dddc74"/><stop offset=".896" stop-color="#e6cd55"/><stop offset=".932" stop-color="#deae3c"/><stop offset=".961" stop-color="#d77b23"/><stop offset=".975" stop-color="#d34d13"/><stop offset=".982" stop-color="#d2320c" stop-opacity="0.62"/><stop offset=".989" stop-color="#d12609" stop-opacity="0.06"/><stop offset=".996" stop-color="#d12609" stop-opacity="0"/></linearGradient><linearGradient id="s135"><stop offset=".004" stop-color="#4b75a0" stop-opacity="0"/><stop offset=".011" stop-color="#4b75a0" stop-opacity="0.25"/><stop offset=".018" stop-color="#4a75a2"/><stop offset=".069" stop-color="#3a69a4"/><stop offset=".105" stop-color="#26539d"/><stop offset=".112" stop-color="#183e8e"/><stop offset=".12" stop-color="#020b5a"/><stop offset=".359" stop-color="#133575"/><stop offset=".554" stop-color="#3c638f"/><stop offset=".656" stop-color="#678797"/><stop offset=".728" stop-color="#92a996"/><stop offset=".793" stop-color="#b9c58a"/><stop offset=".851" stop-color="#d8d873"/><stop offset=".902" stop-color="#e1ca53"/><stop offset=".938" stop-color="#dcac3b"/><stop offset=".967" stop-color="#d67b23"/><stop offset=".982" stop-color="#d24d13"/><stop offset=".989" stop-color="#d1310b" stop-opacity="0.62"/><stop offset=".996" stop-color="#d1310b" stop-opacity="0"/></linearGradient><linearGradient id="s136"><stop offset=".004" stop-color="#4875a5" stop-opacity="0"/><stop offset=".011" stop-color="#4875a5" stop-opacity="0.81"/><stop offset=".018" stop-color="#4774a6"/><stop offset=".077" stop-color="#3463a4"/><stop offset=".107" stop-color="#204e9d"/><stop offset=".114" stop-color="#0a2072"/><stop offset=".121" stop-color="#020b5a"/><stop offset=".371" stop-color="#143777"/><stop offset=".548" stop-color="#385f8e"/><stop offset=".665" stop-color="#688897"/><stop offset=".732" stop-color="#90a695"/><stop offset=".79" stop-color="#b2bf8a"/><stop offset=".857" stop-color="#d6d56e"/><stop offset=".901" stop-color="#ddc852"/><stop offset=".938" stop-color="#d9ac3b"/><stop offset=".967" stop-color="#d47b22"/><stop offset=".982" stop-color="#d14c12"/><stop offset=".989" stop-color="#d0320b" stop-opacity="0.62"/><stop offset=".996" stop-color="#d0320b" stop-opacity="0"/></linearGradient><linearGradient id="s137"><stop offset=".004" stop-color="#4674a7" stop-opacity="0"/><stop offset=".011" stop-color="#4674a7" stop-opacity="0.38"/><stop offset=".019" stop-color="#4573a8"/><stop offset=".07" stop-color="#3767a7"/><stop offset=".107" stop-color="#2352a0"/><stop offset=".115" stop-color="#1a4499"/><stop offset=".122" stop-color="#030d5e"/><stop offset=".13" stop-color="#030b5c"/><stop offset=".374" stop-color="#133677"/><stop offset=".567" stop-color="#3b6291"/><stop offset=".685" stop-color="#6d8d98"/><stop offset=".73" stop-color="#88a095"/><stop offset=".789" stop-color="#acba8a"/><stop offset=".863" stop-color="#d3d16a"/><stop offset=".907" stop-color="#dbc34d"/><stop offset=".944" stop-color="#d6a335"/><stop offset=".967" stop-color="#d37c23"/><stop offset=".981" stop-color="#d04d13"/><stop offset=".989" stop-color="#cf330b" stop-opacity="0.56"/><stop offset=".996" stop-color="#cf330b" stop-opacity="0"/></linearGradient><linearGradient id="s138"><stop offset=".004" stop-color="#4473a9" stop-opacity="0"/><stop offset=".011" stop-color="#4473a9" stop-opacity="0.88"/><stop offset=".019" stop-color="#4372aa"/><stop offset=".079" stop-color="#3161a7"/><stop offset=".109" stop-color="#1e4d9f"/><stop offset=".117" stop-color="#0f2d84"/><stop offset=".124" stop-color="#02095b"/><stop offset=".38" stop-color="#143678"/><stop offset=".568" stop-color="#3a6191"/><stop offset=".673" stop-color="#648597"/><stop offset=".733" stop-color="#869e94"/><stop offset=".801" stop-color="#aebb85"/><stop offset=".861" stop-color="#cfcf6a"/><stop offset=".906" stop-color="#d9c24d"/><stop offset=".944" stop-color="#d5a336"/><stop offset=".966" stop-color="#d27c23"/><stop offset=".981" stop-color="#cf4d12"/><stop offset=".989" stop-color="#cf360c" stop-opacity="0.38"/><stop offset=".996" stop-color="#cf360c" stop-opacity="0"/></linearGradient><linearGradient id="s139"><stop offset=".004" stop-color="#4372ab" stop-opacity="0"/><stop offset=".011" stop-color="#4372ab" stop-opacity="0.31"/><stop offset=".019" stop-color="#4272ac"/><stop offset=".08" stop-color="#3262a8"/><stop offset=".117" stop-color="#1a479f"/><stop offset=".125" stop-color="#040f63"/><stop offset=".133" stop-color="#02095c"/><stop offset=".39" stop-color="#143779"/><stop offset=".557" stop-color="#355c8e"/><stop offset=".655" stop-color="#587c96"/><stop offset=".731" stop-color="#7f9994"/><stop offset=".807" stop-color="#acb883"/><stop offset=".867" stop-color="#cdcc66"/><stop offset=".905" stop-color="#d6c14e"/><stop offset=".943" stop-color="#d3a536"/><stop offset=".966" stop-color="#d07e23"/><stop offset=".981" stop-color="#cf4c12"/><stop offset=".989" stop-color="#ce360c" stop-opacity="0.38"/><stop offset=".996" stop-color="#ce360c" stop-opacity="0"/></linearGradient><linearGradient id="s140"><stop offset=".004" stop-color="#4171ad" stop-opacity="0"/><stop offset=".012" stop-color="#4171ad" stop-opacity="0.88"/><stop offset=".019" stop-color="#4070ae"/><stop offset=".081" stop-color="#2e5faa"/><stop offset=".112" stop-color="#1c4ba2"/><stop offset=".119" stop-color="#123692"/><stop offset=".127" stop-color="#02085c"/><stop offset=".135" stop-color="#02095c"/><stop offset=".388" stop-color="#133679"/><stop offset=".573" stop-color="#385f90"/><stop offset=".727" stop-color="#789595"/><stop offset=".812" stop-color="#abb781"/><stop offset=".865" stop-color="#caca67"/><stop offset=".912" stop-color="#d4bd49"/><stop offset=".942" stop-color="#d2a536"/><stop offset=".965" stop-color="#d07f24"/><stop offset=".981" stop-color="#ce4d12"/><stop offset=".988" stop-color="#ce380c" stop-opacity="0.38"/><stop offset=".996" stop-color="#ce380c" stop-opacity="0"/></linearGradient><linearGradient id="s141"><stop offset=".004" stop-color="#4070ae" stop-opacity="0"/><stop offset=".012" stop-color="#4070ae" stop-opacity="0.38"/><stop offset=".019" stop-color="#3f70af"/><stop offset=".081" stop-color="#2f60ab"/><stop offset=".12" stop-color="#1845a1"/><stop offset=".128" stop-color="#081a74"/><stop offset=".136" stop-color="#02085c"/><stop offset=".415" stop-color="#15397c"/><stop offset=".593" stop-color="#3b6393"/><stop offset=".748" stop-color="#809a92"/><stop offset=".81" stop-color="#a5b282"/><stop offset=".872" stop-color="#c9c864"/><stop offset=".911" stop-color="#d2bc4a"/><stop offset=".942" stop-color="#d1a637"/><stop offset=".973" stop-color="#ce6d1c"/><stop offset=".981" stop-color="#ce5013" stop-opacity="0.94"/><stop offset=".988" stop-color="#ce3b0d" stop-opacity="0.31"/><stop offset=".996" stop-color="#ce3b0d" stop-opacity="0"/></linearGradient><linearGradient id="s142"><stop offset=".004" stop-color="#3f6fb0" stop-opacity="0"/><stop offset=".012" stop-color="#3f6fb0" stop-opacity="0.88"/><stop offset=".02" stop-color="#3e6eb0"/><stop offset=".083" stop-color="#2b5dac"/><stop offset=".114" stop-color="#1b4aa4"/><stop offset=".122" stop-color="#133998"/><stop offset=".13" stop-color="#030a60"/><stop offset=".138" stop-color="#02095d"/><stop offset=".469" stop-color="#1e4382"/><stop offset=".61" stop-color="#3e6695"/><stop offset=".72" stop-color="#6b8b96"/><stop offset=".807" stop-color="#9fae83"/><stop offset=".878" stop-color="#c8c561"/><stop offset=".917" stop-color="#d1b946"/><stop offset=".941" stop-color="#d0a638"/><stop offset=".957" stop-color="#cf912c"/><stop offset=".972" stop-color="#ce6e1d"/><stop offset=".98" stop-color="#cd5213" stop-opacity="0.94"/><stop offset=".988" stop-color="#cd400e" stop-opacity="0.19"/><stop offset=".996" stop-color="#cd400e" stop-opacity="0"/></linearGradient><linearGradient id="s143"><stop offset=".004" stop-color="#3e6fb2" stop-opacity="0"/><stop offset=".012" stop-color="#3e6fb2" stop-opacity="0.38"/><stop offset=".02" stop-color="#3d6eb2"/><stop offset=".083" stop-color="#2b5dae"/><stop offset=".123" stop-color="#1744a3"/><stop offset=".139" stop-color="#02075d"/><stop offset=".472" stop-color="#1d4282"/><stop offset=".623" stop-color="#3f6896"/><stop offset=".726" stop-color="#6a8a96"/><stop offset=".813" stop-color="#9fad82"/><stop offset=".885" stop-color="#c7c35e"/><stop offset=".917" stop-color="#cfb947"/><stop offset=".94" stop-color="#cea738"/><stop offset=".956" stop-color="#ce932d"/><stop offset=".972" stop-color="#cd701d"/><stop offset=".98" stop-color="#cd5313" stop-opacity="0.94"/><stop offset=".988" stop-color="#cd400e" stop-opacity="0.19"/><stop offset=".996" stop-color="#cd400e" stop-opacity="0"/></linearGradient><linearGradient id="s144"><stop offset=".004" stop-color="#3d6eb3" stop-opacity="0"/><stop offset=".012" stop-color="#3d6eb3" stop-opacity="0.88"/><stop offset=".02" stop-color="#3b6db4"/><stop offset=".085" stop-color="#285baf"/><stop offset=".125" stop-color="#143da2"/><stop offset=".133" stop-color="#030c65"/><stop offset=".141" stop-color="#02075d"/><stop offset=".464" stop-color="#1a4082"/><stop offset=".625" stop-color="#3e6796"/><stop offset=".73" stop-color="#698896"/><stop offset=".819" stop-color="#9dab80"/><stop offset=".883" stop-color="#c4c25f"/><stop offset=".94" stop-color="#cea93a"/><stop offset=".956" stop-color="#cd962e"/><stop offset=".972" stop-color="#cd731e"/><stop offset=".98" stop-color="#cd5514" stop-opacity="0.94"/><stop offset=".988" stop-color="#cd430f" stop-opacity="0.19"/><stop offset=".996" stop-color="#cd430f" stop-opacity="0"/></linearGradient><linearGradient id="s145"><stop offset=".004" stop-color="#3b6db5" stop-opacity="0"/><stop offset=".012" stop-color="#3b6db5" stop-opacity="0.44"/><stop offset=".02" stop-color="#3a6cb5"/><stop offset=".085" stop-color="#285bb1"/><stop offset=".126" stop-color="#1642a6"/><stop offset=".134" stop-color="#0e2e94"/><stop offset=".142" stop-color="#02075e"/><stop offset=".459" stop-color="#183d81"/><stop offset=".638" stop-color="#406897"/><stop offset=".728" stop-color="#648596"/><stop offset=".809" stop-color="#94a584"/><stop offset=".89" stop-color="#c3c05c"/><stop offset=".923" stop-color="#ccb645"/><stop offset=".947" stop-color="#cda335"/><stop offset=".972" stop-color="#cc751f"/><stop offset=".98" stop-color="#cc5614" stop-opacity="0.94"/><stop offset=".988" stop-color="#cd440f" stop-opacity="0.19"/><stop offset=".996" stop-color="#cd440f" stop-opacity="0"/></linearGradient><linearGradient id="s146"><stop offset=".004" stop-color="#3b6db5" stop-opacity="0"/><stop offset=".012" stop-color="#3b6db5" stop-opacity="0.06"/><stop offset=".02" stop-color="#3a6cb7" stop-opacity="0.94"/><stop offset=".029" stop-color="#386bb7"/><stop offset=".094" stop-color="#2559b2"/><stop offset=".135" stop-color="#133ca4"/><stop offset=".143" stop-color="#07187b"/><stop offset=".152" stop-color="#02075f"/><stop offset=".471" stop-color="#183e83"/><stop offset=".643" stop-color="#3f6897"/><stop offset=".734" stop-color="#638496"/><stop offset=".816" stop-color="#92a484"/><stop offset=".889" stop-color="#c1c05e"/><stop offset=".922" stop-color="#cab746"/><stop offset=".947" stop-color="#cca436"/><stop offset=".971" stop-color="#cc7720"/><stop offset=".98" stop-color="#cc5915" stop-opacity="0.94"/><stop offset=".988" stop-color="#cd470f" stop-opacity="0.19"/><stop offset=".996" stop-color="#cd470f" stop-opacity="0"/></linearGradient><linearGradient id="s147"><stop offset=".004" stop-color="#386bb8" stop-opacity="0"/><stop offset=".021" stop-color="#376ab9"/><stop offset=".087" stop-color="#2659b4"/><stop offset=".129" stop-color="#1541a8"/><stop offset=".138" stop-color="#0f329f"/><stop offset=".146" stop-color="#020762"/><stop offset=".154" stop-color="#020760"/><stop offset=".471" stop-color="#183e83"/><stop offset=".654" stop-color="#406999"/><stop offset=".738" stop-color="#628396"/><stop offset=".829" stop-color="#98a77f"/><stop offset=".896" stop-color="#c1be5b"/><stop offset=".946" stop-color="#cba637"/><stop offset=".971" stop-color="#cb7b22"/><stop offset=".979" stop-color="#cc5c16" stop-opacity="0.94"/><stop offset=".988" stop-color="#cd4910" stop-opacity="0.19"/><stop offset=".996" stop-color="#cd4910" stop-opacity="0"/></linearGradient><linearGradient id="s148"><stop offset=".004" stop-color="#376bb9" stop-opacity="0"/><stop offset=".013" stop-color="#376bb9" stop-opacity="0.06"/><stop offset=".021" stop-color="#366aba" stop-opacity="0.88"/><stop offset=".029" stop-color="#3569bb"/><stop offset=".097" stop-color="#2256b5"/><stop offset=".139" stop-color="#133ca7"/><stop offset=".147" stop-color="#09218a"/><stop offset=".155" stop-color="#01055f"/><stop offset=".483" stop-color="#183e84"/><stop offset=".66" stop-color="#3f6899"/><stop offset=".744" stop-color="#618296"/><stop offset=".828" stop-color="#92a381"/><stop offset=".895" stop-color="#bebe5d"/><stop offset=".937" stop-color="#caaf3e"/><stop offset=".954" stop-color="#cba032"/><stop offset=".971" stop-color="#cb7f23"/><stop offset=".979" stop-color="#cc5f17" stop-opacity="0.88"/><stop offset=".987" stop-color="#cd4b11" stop-opacity="0.19"/><stop offset=".996" stop-color="#cd4b11" stop-opacity="0"/></linearGradient><linearGradient id="s149"><stop offset=".004" stop-color="#3569bc" stop-opacity="0"/><stop offset=".021" stop-color="#3469bc"/><stop offset=".098" stop-color="#1f53b5"/><stop offset=".141" stop-color="#1035a6"/><stop offset=".15" stop-color="#041074"/><stop offset=".158" stop-color="#010660"/><stop offset=".483" stop-color="#173d85"/><stop offset=".671" stop-color="#416a9a"/><stop offset=".739" stop-color="#5d7f97"/><stop offset=".825" stop-color="#8da083"/><stop offset=".902" stop-color="#bebc5a"/><stop offset=".944" stop-color="#caaa3a"/><stop offset=".962" stop-color="#ca962d"/><stop offset=".97" stop-color="#cb8224"/><stop offset=".979" stop-color="#cc6218" stop-opacity="0.81"/><stop offset=".987" stop-color="#cd4f12" stop-opacity="0.06"/><stop offset=".996" stop-color="#cd4f12" stop-opacity="0"/></linearGradient><linearGradient id="s150"><stop offset=".004" stop-color="#3469bd" stop-opacity="0"/><stop offset=".013" stop-color="#3469bd" stop-opacity="0.06"/><stop offset=".022" stop-color="#3368be" stop-opacity="0.94"/><stop offset=".03" stop-color="#3267be"/><stop offset=".099" stop-color="#1f54b7"/><stop offset=".142" stop-color="#1239a9"/><stop offset=".151" stop-color="#0b289c"/><stop offset=".159" stop-color="#010560"/><stop offset=".496" stop-color="#183e86"/><stop offset=".72" stop-color="#517699"/><stop offset=".823" stop-color="#879c85"/><stop offset=".901" stop-color="#bbbc5d"/><stop offset=".944" stop-color="#c9ac3b"/><stop offset=".961" stop-color="#ca992e"/><stop offset=".97" stop-color="#cb8525"/><stop offset=".978" stop-color="#cc6318" stop-opacity="0.81"/><stop offset=".987" stop-color="#cd5212" stop-opacity="0.06"/><stop offset=".996" stop-color="#cd5212" stop-opacity="0"/></linearGradient><linearGradient id="s151"><stop offset=".004" stop-color="#3267bf" stop-opacity="0"/><stop offset=".022" stop-color="#3167bf"/><stop offset=".092" stop-color="#1f55b9"/><stop offset=".145" stop-color="#1034a8"/><stop offset=".162" stop-color="#010562"/><stop offset=".496" stop-color="#183d87"/><stop offset=".654" stop-color="#396298"/><stop offset=".732" stop-color="#537898"/><stop offset=".829" stop-color="#879b85"/><stop offset=".908" stop-color="#bdbb59"/><stop offset=".943" stop-color="#c9ae3d"/><stop offset=".961" stop-color="#ca9b30"/><stop offset=".969" stop-color="#cb8726"/><stop offset=".978" stop-color="#ad5715" stop-opacity="0.81"/><stop offset=".987" stop-color="#ce5513" stop-opacity="0.06"/><stop offset=".996" stop-color="#ce5513" stop-opacity="0"/></linearGradient><linearGradient id="s152"><stop offset=".004" stop-color="#3167c0" stop-opacity="0"/><stop offset=".013" stop-color="#3167c0" stop-opacity="0.06"/><stop offset=".022" stop-color="#3066c0" stop-opacity="0.94"/><stop offset=".031" stop-color="#2f65c1"/><stop offset=".111" stop-color="#1b4eb7"/><stop offset=".155" stop-color="#0c2ea7"/><stop offset=".164" stop-color="#030c72"/><stop offset=".173" stop-color="#010563"/><stop offset=".509" stop-color="#183f88"/><stop offset=".695" stop-color="#426b9b"/><stop offset=".792" stop-color="#6b8a92"/><stop offset=".854" stop-color="#94a37c"/><stop offset=".907" stop-color="#baba5c"/><stop offset=".942" stop-color="#c9b03f"/><stop offset=".96" stop-color="#ca9e31"/><stop offset=".969" stop-color="#cb8a27"/><stop offset=".978" stop-color="#834611" stop-opacity="0.81"/><stop offset=".987" stop-color="#451d06" stop-opacity="0.06"/><stop offset=".996" stop-color="#451d06" stop-opacity="0"/></linearGradient><linearGradient id="s153"><stop offset=".005" stop-color="#3066c2" stop-opacity="0"/><stop offset=".014" stop-color="#3066c2" stop-opacity="0.44"/><stop offset=".023" stop-color="#2e65c3"/><stop offset=".104" stop-color="#1b4fba"/><stop offset=".149" stop-color="#0e32aa"/><stop offset=".158" stop-color="#082099"/><stop offset=".167" stop-color="#010462"/><stop offset=".509" stop-color="#183e89"/><stop offset=".707" stop-color="#446d9c"/><stop offset=".806" stop-color="#708c90"/><stop offset=".851" stop-color="#8fa07f"/><stop offset=".914" stop-color="#bcba58"/><stop offset=".95" stop-color="#c9aa3a"/><stop offset=".968" stop-color="#cb8c28"/><stop offset=".977" stop-color="#8f5014" stop-opacity="0.69"/><stop offset=".986" stop-color="#451e06" stop-opacity="0.06"/><stop offset=".995" stop-color="#451e06" stop-opacity="0"/></linearGradient><linearGradient id="s154"><stop offset=".005" stop-color="#2e65c4" stop-opacity="0"/><stop offset=".014" stop-color="#2e65c4" stop-opacity="0.06"/><stop offset=".023" stop-color="#2d64c4" stop-opacity="0.94"/><stop offset=".032" stop-color="#2c63c4"/><stop offset=".106" stop-color="#1c4fbc"/><stop offset=".161" stop-color="#0c2daa"/><stop offset=".17" stop-color="#041080"/><stop offset=".179" stop-color="#010464"/><stop offset=".509" stop-color="#163c88"/><stop offset=".729" stop-color="#47709c"/><stop offset=".83" stop-color="#76918c"/><stop offset=".922" stop-color="#b9ba5c"/><stop offset=".959" stop-color="#c9ad3c"/><stop offset=".968" stop-color="#c9a234"/><stop offset=".977" stop-color="#c28a28"/><stop offset=".986" stop-color="#7b4512" stop-opacity="0.62"/><stop offset=".995" stop-color="#7b4512" stop-opacity="0"/></linearGradient><linearGradient id="s155"><stop offset=".005" stop-color="#2c64c6" stop-opacity="0"/><stop offset=".023" stop-color="#2b62c6"/><stop offset=".098" stop-color="#1c4fbe"/><stop offset=".154" stop-color="#0e31ad"/><stop offset=".164" stop-color="#0925a4"/><stop offset=".173" stop-color="#020870"/><stop offset=".182" stop-color="#010465"/><stop offset=".537" stop-color="#19418c"/><stop offset=".743" stop-color="#4a729c"/><stop offset=".836" stop-color="#77918b"/><stop offset=".93" stop-color="#bcba57"/><stop offset=".958" stop-color="#c8af3d"/><stop offset=".967" stop-color="#c9a536"/><stop offset=".977" stop-color="#c38c29"/><stop offset=".986" stop-color="#6e3e10" stop-opacity="0.62"/><stop offset=".995" stop-color="#6e3e10" stop-opacity="0"/></linearGradient><linearGradient id="s156"><stop offset=".005" stop-color="#2c63c6" stop-opacity="0"/><stop offset=".014" stop-color="#2c63c6" stop-opacity="0.06"/><stop offset=".024" stop-color="#2b62c7" stop-opacity="0.94"/><stop offset=".033" stop-color="#2961c8"/><stop offset=".108" stop-color="#1a4cbe"/><stop offset=".165" stop-color="#0b2cac"/><stop offset=".175" stop-color="#061d9f"/><stop offset=".184" stop-color="#010365"/><stop offset=".533" stop-color="#183e8b"/><stop offset=".75" stop-color="#4a729d"/><stop offset=".844" stop-color="#78928b"/><stop offset=".929" stop-color="#baba5a"/><stop offset=".958" stop-color="#c8b13f"/><stop offset=".967" stop-color="#c9a737"/><stop offset=".976" stop-color="#c38f2a"/><stop offset=".986" stop-color="#6e4010" stop-opacity="0.62"/><stop offset=".995" stop-color="#6e4010" stop-opacity="0"/></linearGradient><linearGradient id="s157"><stop offset=".005" stop-color="#2961c9" stop-opacity="0"/><stop offset=".014" stop-color="#2961c9" stop-opacity="0.44"/><stop offset=".024" stop-color="#2860c9"/><stop offset=".12" stop-color="#1645bc"/><stop offset=".168" stop-color="#0826ab"/><stop offset=".188" stop-color="#010366"/><stop offset=".524" stop-color="#163b8b"/><stop offset=".745" stop-color="#466f9e"/><stop offset=".841" stop-color="#738e8e"/><stop offset=".889" stop-color="#96a478"/><stop offset=".938" stop-color="#bdba55"/><stop offset=".966" stop-color="#caaa39"/><stop offset=".976" stop-color="#b28628"/><stop offset=".986" stop-color="#5c340d" stop-opacity="0.38"/><stop offset=".995" stop-color="#5c340d" stop-opacity="0"/></linearGradient><linearGradient id="s158"><stop offset=".005" stop-color="#2861ca" stop-opacity="0"/><stop offset=".015" stop-color="#2861ca" stop-opacity="0.06"/><stop offset=".024" stop-color="#2760cb" stop-opacity="0.94"/><stop offset=".034" stop-color="#265ecb"/><stop offset=".121" stop-color="#1746bf"/><stop offset=".17" stop-color="#0a2aaf"/><stop offset=".18" stop-color="#071ea5"/><stop offset=".189" stop-color="#01056e"/><stop offset=".199" stop-color="#010368"/><stop offset=".529" stop-color="#163b8c"/><stop offset=".752" stop-color="#466f9f"/><stop offset=".85" stop-color="#74908d"/><stop offset=".937" stop-color="#bbba58"/><stop offset=".966" stop-color="#caad3b"/><stop offset=".976" stop-color="#b2882a"/><stop offset=".985" stop-color="#5c350d" stop-opacity="0.38"/><stop offset=".995" stop-color="#5c350d" stop-opacity="0"/></linearGradient><linearGradient id="s159"><stop offset=".005" stop-color="#275fcc" stop-opacity="0"/><stop offset=".025" stop-color="#265ecc"/><stop offset=".114" stop-color="#1746c1"/><stop offset=".173" stop-color="#0825ad"/><stop offset=".183" stop-color="#041397"/><stop offset=".193" stop-color="#010268"/><stop offset=".381" stop-color="#081e7d"/><stop offset=".569" stop-color="#1a4390"/><stop offset=".757" stop-color="#46709f"/><stop offset=".856" stop-color="#76918c"/><stop offset=".936" stop-color="#b8b95c"/><stop offset=".965" stop-color="#caaf3c"/><stop offset=".975" stop-color="#aa8328"/><stop offset=".985" stop-color="#5c390f" stop-opacity="0.38"/><stop offset=".995" stop-color="#5c390f" stop-opacity="0"/></linearGradient><linearGradient id="s160"><stop offset=".005" stop-color="#265ecd" stop-opacity="0"/><stop offset=".015" stop-color="#265ecd" stop-opacity="0.06"/><stop offset=".025" stop-color="#265dce" stop-opacity="0.88"/><stop offset=".035" stop-color="#245bce"/><stop offset=".135" stop-color="#133ebe"/><stop offset=".185" stop-color="#0720ac"/><stop offset=".195" stop-color="#020a84"/><stop offset=".205" stop-color="#010369"/><stop offset=".385" stop-color="#071d7e"/><stop offset=".585" stop-color="#1c4592"/><stop offset=".755" stop-color="#426da0"/><stop offset=".835" stop-color="#648695"/><stop offset=".895" stop-color="#91a17c"/><stop offset=".935" stop-color="#b5b75f"/><stop offset=".965" stop-color="#cab13e"/><stop offset=".975" stop-color="#84621e" stop-opacity="0.94"/><stop offset=".985" stop-color="#452508" stop-opacity="0.19"/><stop offset=".995" stop-color="#452508" stop-opacity="0"/></linearGradient><linearGradient id="s161"><stop offset=".005" stop-color="#255ccf" stop-opacity="0"/><stop offset=".015" stop-color="#255ccf" stop-opacity="0.38"/><stop offset=".026" stop-color="#245bcf"/><stop offset=".128" stop-color="#133fc0"/><stop offset=".189" stop-color="#061bab"/><stop offset=".199" stop-color="#010579"/><stop offset=".209" stop-color="#01036b"/><stop offset=".393" stop-color="#081e80"/><stop offset=".587" stop-color="#1b4593"/><stop offset=".76" stop-color="#426da1"/><stop offset=".842" stop-color="#668695"/><stop offset=".903" stop-color="#95a47a"/><stop offset=".944" stop-color="#bcbb58"/><stop offset=".964" stop-color="#c9b240"/><stop offset=".974" stop-color="#7b5c1c" stop-opacity="0.94"/><stop offset=".985" stop-color="#452a0a" stop-opacity="0.19"/><stop offset=".995" stop-color="#452a0a" stop-opacity="0"/></linearGradient><linearGradient id="s162"><stop offset=".005" stop-color="#245ad1" stop-opacity="0"/><stop offset=".016" stop-color="#245ad1" stop-opacity="0.94"/><stop offset=".026" stop-color="#2358d0"/><stop offset=".12" stop-color="#143fc3"/><stop offset=".182" stop-color="#0720af"/><stop offset=".193" stop-color="#0413a1"/><stop offset=".203" stop-color="#01026f"/><stop offset=".214" stop-color="#01036c"/><stop offset=".391" stop-color="#071d80"/><stop offset=".589" stop-color="#1b4594"/><stop offset=".766" stop-color="#436ea1"/><stop offset=".849" stop-color="#678895"/><stop offset=".901" stop-color="#91a27d"/><stop offset=".943" stop-color="#baba5c"/><stop offset=".953" stop-color="#c2ba50"/><stop offset=".964" stop-color="#c1ac3f"/><stop offset=".974" stop-color="#644615" stop-opacity="0.81"/><stop offset=".984" stop-color="#452709" stop-opacity="0.06"/><stop offset=".995" stop-color="#452709" stop-opacity="0"/></linearGradient><linearGradient id="s163"><stop offset=".005" stop-color="#2459d2" stop-opacity="0"/><stop offset=".016" stop-color="#2459d2" stop-opacity="0.44"/><stop offset=".026" stop-color="#2358d2"/><stop offset=".142" stop-color="#1038c0"/><stop offset=".195" stop-color="#061aae"/><stop offset=".216" stop-color="#01026c"/><stop offset=".584" stop-color="#1a4294"/><stop offset=".784" stop-color="#4671a2"/><stop offset=".868" stop-color="#718e90"/><stop offset=".942" stop-color="#b6b95f"/><stop offset=".953" stop-color="#c0bb53"/><stop offset=".963" stop-color="#b09c3b"/><stop offset=".974" stop-color="#5a3f12" stop-opacity="0.81"/><stop offset=".984" stop-color="#452e0c" stop-opacity="0.06"/><stop offset=".995" stop-color="#452e0c" stop-opacity="0"/></linearGradient><linearGradient id="s164"><stop offset=".005" stop-color="#2357d4" stop-opacity="0"/><stop offset=".016" stop-color="#2357d4" stop-opacity="0.88"/><stop offset=".027" stop-color="#2155d3"/><stop offset=".134" stop-color="#1038c3"/><stop offset=".199" stop-color="#0515ac"/><stop offset=".21" stop-color="#01037c"/><stop offset=".22" stop-color="#01026e"/><stop offset=".597" stop-color="#1b4496"/><stop offset=".79" stop-color="#4772a3"/><stop offset=".855" stop-color="#658797"/><stop offset=".887" stop-color="#7d9689"/><stop offset=".952" stop-color="#c0bc56"/><stop offset=".962" stop-color="#8e792e"/><stop offset=".973" stop-color="#52350e" stop-opacity="0.69"/><stop offset=".984" stop-color="#d19e2e" stop-opacity="0.06"/><stop offset=".995" stop-color="#d19e2e" stop-opacity="0"/></linearGradient><linearGradient id="s165"><stop offset=".005" stop-color="#2255d5" stop-opacity="0"/><stop offset=".016" stop-color="#2255d5" stop-opacity="0.38"/><stop offset=".027" stop-color="#2155d5"/><stop offset=".126" stop-color="#123cc8"/><stop offset=".203" stop-color="#0619b0"/><stop offset=".214" stop-color="#030ea3"/><stop offset=".225" stop-color="#010272"/><stop offset=".445" stop-color="#0a2287"/><stop offset=".621" stop-color="#1c4798"/><stop offset=".83" stop-color="#527aa0"/><stop offset=".874" stop-color="#688996"/><stop offset=".907" stop-color="#839a87"/><stop offset=".951" stop-color="#b0b666"/><stop offset=".962" stop-color="#b6b354"/><stop offset=".973" stop-color="#6d5720"/><stop offset=".984" stop-color="#533910" stop-opacity="0.62"/><stop offset=".995" stop-color="#533910" stop-opacity="0"/></linearGradient><linearGradient id="s166"><stop offset=".006" stop-color="#2153d6" stop-opacity="0"/><stop offset=".017" stop-color="#2153d6" stop-opacity="0.88"/><stop offset=".028" stop-color="#2052d6"/><stop offset=".129" stop-color="#1139c8"/><stop offset=".208" stop-color="#0515af"/><stop offset=".23" stop-color="#010271"/><stop offset=".567" stop-color="#163a94"/><stop offset=".758" stop-color="#3966a3"/><stop offset=".815" stop-color="#4975a4"/><stop offset=".882" stop-color="#6b8c95"/><stop offset=".949" stop-color="#aeb568"/><stop offset=".961" stop-color="#a6a14d"/><stop offset=".972" stop-color="#553d14"/><stop offset=".983" stop-color="#45300d" stop-opacity="0.38"/><stop offset=".994" stop-color="#45300d" stop-opacity="0"/></linearGradient><linearGradient id="s167"><stop offset=".006" stop-color="#2152d7" stop-opacity="0"/><stop offset=".017" stop-color="#2152d7" stop-opacity="0.38"/><stop offset=".028" stop-color="#2051d7"/><stop offset=".119" stop-color="#133dcd"/><stop offset=".21" stop-color="#0518b3"/><stop offset=".222" stop-color="#0310ad"/><stop offset=".233" stop-color="#010383"/><stop offset=".244" stop-color="#010272"/><stop offset=".597" stop-color="#183f97"/><stop offset=".812" stop-color="#4673a6"/><stop offset=".881" stop-color="#678998"/><stop offset=".949" stop-color="#abb36c"/><stop offset=".96" stop-color="#857b3b"/><stop offset=".972" stop-color="#452d0c" stop-opacity="0.94"/><stop offset=".983" stop-color="#614a16" stop-opacity="0.31"/><stop offset=".994" stop-color="#614a16" stop-opacity="0"/></linearGradient><linearGradient id="s168"><stop offset=".006" stop-color="#2050d8" stop-opacity="0"/><stop offset=".017" stop-color="#2050d8" stop-opacity="0.81"/><stop offset=".029" stop-color="#1e4ed8"/><stop offset=".145" stop-color="#0d32c7"/><stop offset=".215" stop-color="#0413b0"/><stop offset=".227" stop-color="#0209a8"/><stop offset=".238" stop-color="#010176"/><stop offset=".448" stop-color="#09218a"/><stop offset=".634" stop-color="#1c479c"/><stop offset=".831" stop-color="#4d78a5"/><stop offset=".89" stop-color="#6c8c97"/><stop offset=".936" stop-color="#9aa97a"/><stop offset=".948" stop-color="#9ba063"/><stop offset=".959" stop-color="#675727"/><stop offset=".971" stop-color="#45300d" stop-opacity="0.88"/><stop offset=".983" stop-color="#45340f" stop-opacity="0.19"/><stop offset=".994" stop-color="#45340f" stop-opacity="0"/></linearGradient><linearGradient id="s169"><stop offset=".006" stop-color="#1f4fda" stop-opacity="0"/><stop offset=".018" stop-color="#1f4fda" stop-opacity="0.25"/><stop offset=".029" stop-color="#1e4eda"/><stop offset=".147" stop-color="#0d33ca"/><stop offset=".229" stop-color="#030eb0"/><stop offset=".241" stop-color="#01049d"/><stop offset=".253" stop-color="#010275"/><stop offset=".453" stop-color="#09208c"/><stop offset=".653" stop-color="#1e4a9e"/><stop offset=".794" stop-color="#3e6ca7"/><stop offset=".853" stop-color="#547da3"/><stop offset=".9" stop-color="#719095"/><stop offset=".935" stop-color="#98a87d"/><stop offset=".947" stop-color="#807d4d"/><stop offset=".959" stop-color="#4b3512"/><stop offset=".971" stop-color="#45330f" stop-opacity="0.81"/><stop offset=".982" stop-color="#453710" stop-opacity="0.06"/><stop offset=".994" stop-color="#453710" stop-opacity="0"/></linearGradient><linearGradient id="s170"><stop offset=".006" stop-color="#1f4ddb" stop-opacity="0"/><stop offset=".018" stop-color="#1f4ddb" stop-opacity="0.81"/><stop offset=".03" stop-color="#1d4bdb"/><stop offset=".151" stop-color="#0c2fca"/><stop offset=".235" stop-color="#0209ae"/><stop offset=".247" stop-color="#010180"/><stop offset=".259" stop-color="#010377"/><stop offset=".452" stop-color="#09208c"/><stop offset=".657" stop-color="#1e4aa0"/><stop offset=".849" stop-color="#517ba5"/><stop offset=".91" stop-color="#789592"/><stop offset=".922" stop-color="#869d8a"/><stop offset=".934" stop-color="#8a9672"/><stop offset=".946" stop-color="#5b4b26"/><stop offset=".958" stop-color="#45300d"/><stop offset=".97" stop-color="#453610" stop-opacity="0.62"/><stop offset=".982" stop-color="#453b13" stop-opacity="0.06"/><stop offset=".994" stop-color="#453b13" stop-opacity="0"/></linearGradient><linearGradient id="s171"><stop offset=".006" stop-color="#1e4cdc" stop-opacity="0"/><stop offset=".019" stop-color="#1e4cdc" stop-opacity="0.31"/><stop offset=".031" stop-color="#1d4adc"/><stop offset=".13" stop-color="#0f36d2"/><stop offset=".241" stop-color="#030fb3"/><stop offset=".253" stop-color="#0106a4"/><stop offset=".265" stop-color="#01027b"/><stop offset=".463" stop-color="#09208e"/><stop offset=".673" stop-color="#1f4ba1"/><stop offset=".821" stop-color="#416eaa"/><stop offset=".87" stop-color="#547ea5"/><stop offset=".907" stop-color="#6a8d9b"/><stop offset=".932" stop-color="#839c8d"/><stop offset=".944" stop-color="#696648"/><stop offset=".957" stop-color="#4a3513"/><stop offset=".969" stop-color="#45330f"/><stop offset=".994" stop-color="#453912" stop-opacity="0"/></linearGradient><linearGradient id="s172"><stop offset=".006" stop-color="#1d4add" stop-opacity="0"/><stop offset=".019" stop-color="#1d4add" stop-opacity="0.75"/><stop offset=".032" stop-color="#1b48dd"/><stop offset=".158" stop-color="#0b2ccb"/><stop offset=".247" stop-color="#0209b1"/><stop offset=".272" stop-color="#02037a"/><stop offset=".475" stop-color="#0a2290"/><stop offset=".677" stop-color="#1f4ca3"/><stop offset=".867" stop-color="#517da8"/><stop offset=".918" stop-color="#719299"/><stop offset=".93" stop-color="#738478"/><stop offset=".943" stop-color="#4d3a1b"/><stop offset=".956" stop-color="#45300d"/><stop offset=".968" stop-color="#453710" stop-opacity="0.94"/><stop offset=".981" stop-color="#453a13" stop-opacity="0.31"/><stop offset=".994" stop-color="#453a13" stop-opacity="0"/></linearGradient><linearGradient id="s173"><stop offset=".006" stop-color="#1c49de" stop-opacity="0"/><stop offset=".019" stop-color="#1c49de" stop-opacity="0.19"/><stop offset=".032" stop-color="#1b47df"/><stop offset=".135" stop-color="#0e33d3"/><stop offset=".25" stop-color="#030cb5"/><stop offset=".263" stop-color="#0105ad"/><stop offset=".276" stop-color="#01027e"/><stop offset=".673" stop-color="#1e49a4"/><stop offset=".865" stop-color="#4e7baa"/><stop offset=".917" stop-color="#6e909b"/><stop offset=".929" stop-color="#70847b"/><stop offset=".942" stop-color="#493615"/><stop offset=".955" stop-color="#45340f"/><stop offset=".968" stop-color="#453a12" stop-opacity="0.81"/><stop offset=".981" stop-color="#443c16" stop-opacity="0.19"/><stop offset=".994" stop-color="#443c16" stop-opacity="0"/></linearGradient><linearGradient id="s174"><stop offset=".007" stop-color="#1b46e0" stop-opacity="0"/><stop offset=".02" stop-color="#1b46e0" stop-opacity="0.75"/><stop offset=".033" stop-color="#1a44e0"/><stop offset=".138" stop-color="#0c30d3"/><stop offset=".257" stop-color="#0208b4"/><stop offset=".283" stop-color="#02037d"/><stop offset=".493" stop-color="#0b2494"/><stop offset=".691" stop-color="#204ea6"/><stop offset=".875" stop-color="#527eaa"/><stop offset=".914" stop-color="#6c8f9e"/><stop offset=".928" stop-color="#728a86"/><stop offset=".941" stop-color="#493916"/><stop offset=".954" stop-color="#453711"/><stop offset=".967" stop-color="#443c14" stop-opacity="0.62"/><stop offset=".98" stop-color="#433e18" stop-opacity="0.06"/><stop offset=".993" stop-color="#433e18" stop-opacity="0"/></linearGradient><linearGradient id="s175"><stop offset=".007" stop-color="#1b45e0" stop-opacity="0"/><stop offset=".02" stop-color="#1b45e0" stop-opacity="0.19"/><stop offset=".034" stop-color="#1a43e1"/><stop offset=".128" stop-color="#0e32d8"/><stop offset=".264" stop-color="#020bb7"/><stop offset=".277" stop-color="#0105b0"/><stop offset=".291" stop-color="#020285"/><stop offset=".507" stop-color="#0b2496"/><stop offset=".709" stop-color="#214ea8"/><stop offset=".885" stop-color="#507dad"/><stop offset=".926" stop-color="#6a8ea0"/><stop offset=".939" stop-color="#6c8480"/><stop offset=".953" stop-color="#493c18"/><stop offset=".966" stop-color="#453a13"/><stop offset=".98" stop-color="#443d17" stop-opacity="0.44"/><stop offset=".993" stop-color="#443d17" stop-opacity="0"/></linearGradient><linearGradient id="s176"><stop offset=".007" stop-color="#1943e2" stop-opacity="0"/><stop offset=".021" stop-color="#1943e2" stop-opacity="0.62"/><stop offset=".035" stop-color="#1841e2"/><stop offset=".146" stop-color="#0c2cd5"/><stop offset=".271" stop-color="#0107b6"/><stop offset=".299" stop-color="#020381"/><stop offset=".507" stop-color="#0b2597"/><stop offset=".715" stop-color="#2150aa"/><stop offset=".882" stop-color="#4c7caf"/><stop offset=".924" stop-color="#688ea3"/><stop offset=".938" stop-color="#6b8483"/><stop offset=".951" stop-color="#483f1a"/><stop offset=".965" stop-color="#443d16" stop-opacity="0.94"/><stop offset=".979" stop-color="#433f19" stop-opacity="0.19"/><stop offset=".993" stop-color="#433f19" stop-opacity="0"/></linearGradient><linearGradient id="s177"><stop offset=".007" stop-color="#1942e3" stop-opacity="0"/><stop offset=".021" stop-color="#1942e3" stop-opacity="0.12"/><stop offset=".035" stop-color="#1840e3"/><stop offset=".134" stop-color="#0d2fda"/><stop offset=".289" stop-color="#0104b6"/><stop offset=".303" stop-color="#020286"/><stop offset=".528" stop-color="#0c279b"/><stop offset=".725" stop-color="#2251ac"/><stop offset=".88" stop-color="#4b7bb2"/><stop offset=".923" stop-color="#668da5"/><stop offset=".937" stop-color="#637874"/><stop offset=".951" stop-color="#48421d"/><stop offset=".965" stop-color="#433f19" stop-opacity="0.75"/><stop offset=".979" stop-color="#42401c" stop-opacity="0.06"/><stop offset=".993" stop-color="#42401c" stop-opacity="0"/></linearGradient><linearGradient id="s178"><stop offset=".007" stop-color="#183fe4" stop-opacity="0"/><stop offset=".022" stop-color="#183fe4" stop-opacity="0.62"/><stop offset=".037" stop-color="#163de4"/><stop offset=".154" stop-color="#0b29d7"/><stop offset=".287" stop-color="#0106b9"/><stop offset=".301" stop-color="#01029a"/><stop offset=".316" stop-color="#030485"/><stop offset=".537" stop-color="#0d279d"/><stop offset=".728" stop-color="#2150ad"/><stop offset=".904" stop-color="#517fb1"/><stop offset=".934" stop-color="#658da7"/><stop offset=".949" stop-color="#5f736e"/><stop offset=".963" stop-color="#433e18"/><stop offset=".993" stop-color="#413f1c" stop-opacity="0"/></linearGradient><linearGradient id="s179"><stop offset=".007" stop-color="#173ee5" stop-opacity="0"/><stop offset=".022" stop-color="#173ee5" stop-opacity="0.12"/><stop offset=".037" stop-color="#173de5" stop-opacity="0.94"/><stop offset=".052" stop-color="#143ae4"/><stop offset=".157" stop-color="#0b28d9"/><stop offset=".291" stop-color="#0207bc"/><stop offset=".306" stop-color="#0102af"/><stop offset=".321" stop-color="#030387"/><stop offset=".545" stop-color="#0d279f"/><stop offset=".739" stop-color="#2251b0"/><stop offset=".903" stop-color="#4f7fb4"/><stop offset=".933" stop-color="#658eaa"/><stop offset=".948" stop-color="#59695f"/><stop offset=".963" stop-color="#413f1c" stop-opacity="0.88"/><stop offset=".978" stop-color="#3f401f" stop-opacity="0.19"/><stop offset=".993" stop-color="#3f401f" stop-opacity="0"/></linearGradient><linearGradient id="s180"><stop offset=".008" stop-color="#163be6" stop-opacity="0"/><stop offset=".038" stop-color="#1539e6"/><stop offset=".162" stop-color="#0b25d9"/><stop offset=".3" stop-color="#0104bb"/><stop offset=".315" stop-color="#020392"/><stop offset=".331" stop-color="#03058a"/><stop offset=".731" stop-color="#2150b1"/><stop offset=".9" stop-color="#4e7fb6"/><stop offset=".931" stop-color="#658eab"/><stop offset=".946" stop-color="#515f51"/><stop offset=".962" stop-color="#3f3f20" stop-opacity="0.62"/><stop offset=".977" stop-color="#3b3d23" stop-opacity="0.06"/><stop offset=".992" stop-color="#3b3d23" stop-opacity="0"/></linearGradient><linearGradient id="s181"><stop offset=".008" stop-color="#163ae6" stop-opacity="0"/><stop offset=".024" stop-color="#163ae6" stop-opacity="0.06"/><stop offset=".04" stop-color="#1639e6" stop-opacity="0.88"/><stop offset=".056" stop-color="#1436e6"/><stop offset=".135" stop-color="#0d2ae0"/><stop offset=".31" stop-color="#0105be"/><stop offset=".325" stop-color="#0202a6"/><stop offset=".341" stop-color="#03058c"/><stop offset=".754" stop-color="#2252b3"/><stop offset=".897" stop-color="#4678b9"/><stop offset=".929" stop-color="#5786b4"/><stop offset=".944" stop-color="#5c7f93"/><stop offset=".96" stop-color="#47503c" stop-opacity="0.94"/><stop offset=".976" stop-color="#3c3e22" stop-opacity="0.31"/><stop offset=".992" stop-color="#3c3e22" stop-opacity="0"/></linearGradient><linearGradient id="s182"><stop offset=".008" stop-color="#1537e7" stop-opacity="0"/><stop offset=".041" stop-color="#1435e7"/><stop offset=".221" stop-color="#0618d2"/><stop offset=".303" stop-color="#0206c1"/><stop offset=".32" stop-color="#0102b5"/><stop offset=".336" stop-color="#04058e"/><stop offset=".549" stop-color="#0e27a5"/><stop offset=".762" stop-color="#2455b6"/><stop offset=".91" stop-color="#4c7fba"/><stop offset=".926" stop-color="#5887b6"/><stop offset=".943" stop-color="#54707b"/><stop offset=".959" stop-color="#3d4430" stop-opacity="0.75"/><stop offset=".975" stop-color="#363a27" stop-opacity="0.12"/><stop offset=".992" stop-color="#363a27" stop-opacity="0"/></linearGradient><linearGradient id="s183"><stop offset=".008" stop-color="#1536e8" stop-opacity="0"/><stop offset=".025" stop-color="#1536e8" stop-opacity="0.06"/><stop offset=".042" stop-color="#1535e8" stop-opacity="0.88"/><stop offset=".059" stop-color="#1332e7"/><stop offset=".331" stop-color="#0102c0"/><stop offset=".347" stop-color="#040590"/><stop offset=".585" stop-color="#0f2ba9"/><stop offset=".788" stop-color="#2557b9"/><stop offset=".907" stop-color="#4579bd"/><stop offset=".941" stop-color="#5a89b6"/><stop offset=".958" stop-color="#506870" stop-opacity="0.94"/><stop offset=".975" stop-color="#363a28" stop-opacity="0.44"/><stop offset=".992" stop-color="#363a28" stop-opacity="0"/></linearGradient><linearGradient id="s184"><stop offset=".009" stop-color="#1533e9" stop-opacity="0"/><stop offset=".026" stop-color="#1533e9" stop-opacity="0.38"/><stop offset=".044" stop-color="#1431e8"/><stop offset=".149" stop-color="#0b23e1"/><stop offset=".325" stop-color="#0103c3"/><stop offset=".342" stop-color="#03049e"/><stop offset=".36" stop-color="#050794"/><stop offset=".781" stop-color="#2456bb"/><stop offset=".921" stop-color="#4e81bd"/><stop offset=".939" stop-color="#5680a6"/><stop offset=".956" stop-color="#4b5f60" stop-opacity="0.75"/><stop offset=".974" stop-color="#33382a" stop-opacity="0.12"/><stop offset=".991" stop-color="#33382a" stop-opacity="0"/></linearGradient><linearGradient id="s185"><stop offset=".009" stop-color="#1431ea" stop-opacity="0"/><stop offset=".028" stop-color="#1431ea" stop-opacity="0.88"/><stop offset=".046" stop-color="#122ee9"/><stop offset=".324" stop-color="#0104c6"/><stop offset=".343" stop-color="#0303a9"/><stop offset=".361" stop-color="#050797"/><stop offset=".62" stop-color="#1331b1"/><stop offset=".806" stop-color="#265abe"/><stop offset=".935" stop-color="#5184be"/><stop offset=".954" stop-color="#466378" stop-opacity="0.94"/><stop offset=".972" stop-color="#2e362e" stop-opacity="0.38"/><stop offset=".991" stop-color="#2e362e" stop-opacity="0"/></linearGradient><linearGradient id="s186"><stop offset=".009" stop-color="#142fea" stop-opacity="0"/><stop offset=".028" stop-color="#142fea" stop-opacity="0.38"/><stop offset=".047" stop-color="#132eea"/><stop offset=".33" stop-color="#0104c8"/><stop offset=".349" stop-color="#0303af"/><stop offset=".368" stop-color="#060799"/><stop offset=".745" stop-color="#1f4bbc"/><stop offset=".821" stop-color="#295ec1"/><stop offset=".896" stop-color="#3f74c2"/><stop offset=".915" stop-color="#487dc2"/><stop offset=".934" stop-color="#4a76a4"/><stop offset=".953" stop-color="#384e5a" stop-opacity="0.62"/><stop offset=".972" stop-color="#2c352f" stop-opacity="0.06"/><stop offset=".991" stop-color="#2c352f" stop-opacity="0"/></linearGradient><linearGradient id="s187"><stop offset=".01" stop-color="#132deb" stop-opacity="0"/><stop offset=".03" stop-color="#132deb" stop-opacity="0.81"/><stop offset=".05" stop-color="#122aea"/><stop offset=".33" stop-color="#0204cb"/><stop offset=".35" stop-color="#0303b7"/><stop offset=".37" stop-color="#06089d"/><stop offset=".79" stop-color="#2354c1"/><stop offset=".91" stop-color="#4177c4"/><stop offset=".93" stop-color="#477aba"/><stop offset=".95" stop-color="#406284" stop-opacity="0.88"/><stop offset=".97" stop-color="#253135" stop-opacity="0.25"/><stop offset=".99" stop-color="#253135" stop-opacity="0"/></linearGradient><linearGradient id="s188"><stop offset=".01" stop-color="#132beb" stop-opacity="0"/><stop offset=".031" stop-color="#132beb" stop-opacity="0.25"/><stop offset=".052" stop-color="#122aeb"/><stop offset=".26" stop-color="#0610da"/><stop offset=".344" stop-color="#0204ce"/><stop offset=".365" stop-color="#0203c0"/><stop offset=".385" stop-color="#0709a0"/><stop offset=".781" stop-color="#214ec2"/><stop offset=".844" stop-color="#285fc6"/><stop offset=".927" stop-color="#447ac6"/><stop offset=".948" stop-color="#426c9e" stop-opacity="0.94"/><stop offset=".969" stop-color="#31495d" stop-opacity="0.44"/><stop offset=".99" stop-color="#31495d" stop-opacity="0"/></linearGradient><linearGradient id="s189"><stop offset=".011" stop-color="#1329ec" stop-opacity="0"/><stop offset=".033" stop-color="#1329ec" stop-opacity="0.69"/><stop offset=".054" stop-color="#1126eb"/><stop offset=".337" stop-color="#0204d0"/><stop offset=".359" stop-color="#0303c0"/><stop offset=".38" stop-color="#0709a3"/><stop offset=".815" stop-color="#2659c7"/><stop offset=".88" stop-color="#356cc9"/><stop offset=".924" stop-color="#4a7fc5"/><stop offset=".946" stop-color="#5689bf" stop-opacity="0.62"/><stop offset=".967" stop-color="#6291b8" stop-opacity="0.06"/><stop offset=".989" stop-color="#6291b8" stop-opacity="0"/></linearGradient><linearGradient id="s190"><stop offset=".011" stop-color="#1227ed" stop-opacity="0"/><stop offset=".034" stop-color="#1227ed" stop-opacity="0.25"/><stop offset=".057" stop-color="#1226ec"/><stop offset=".352" stop-color="#0204d3"/><stop offset=".375" stop-color="#0405ba"/><stop offset=".398" stop-color="#080aa7"/><stop offset=".761" stop-color="#1e49c6"/><stop offset=".852" stop-color="#2a60cb"/><stop offset=".92" stop-color="#4279c8"/><stop offset=".943" stop-color="#4b82c5" stop-opacity="0.62"/><stop offset=".966" stop-color="#5488c1" stop-opacity="0.12"/><stop offset=".989" stop-color="#5488c1" stop-opacity="0"/></linearGradient><linearGradient id="s191"><stop offset=".012" stop-color="#1224ed" stop-opacity="0"/><stop offset=".037" stop-color="#1224ed" stop-opacity="0.62"/><stop offset=".061" stop-color="#1122ed"/><stop offset=".354" stop-color="#0204d5"/><stop offset=".378" stop-color="#0606bc"/><stop offset=".402" stop-color="#090cab"/><stop offset=".744" stop-color="#1c44c8"/><stop offset=".866" stop-color="#2b63cd"/><stop offset=".915" stop-color="#3b73ca"/><stop offset=".939" stop-color="#437ac8" stop-opacity="0.69"/><stop offset=".963" stop-color="#4b81c6" stop-opacity="0.12"/><stop offset=".988" stop-color="#4b81c6" stop-opacity="0"/></linearGradient><linearGradient id="s192"><stop offset=".013" stop-color="#1223ee" stop-opacity="0"/><stop offset=".038" stop-color="#1223ee" stop-opacity="0.12"/><stop offset=".064" stop-color="#1122ed" stop-opacity="0.94"/><stop offset=".09" stop-color="#0f1fec"/><stop offset=".372" stop-color="#0304d7"/><stop offset=".397" stop-color="#0809b5"/><stop offset=".423" stop-color="#0a0eb0"/><stop offset=".705" stop-color="#173ac8"/><stop offset=".91" stop-color="#366ecc"/><stop offset=".936" stop-color="#3d74ca" stop-opacity="0.62"/><stop offset=".962" stop-color="#427ac8" stop-opacity="0.12"/><stop offset=".987" stop-color="#427ac8" stop-opacity="0"/></linearGradient><linearGradient id="s193"><stop offset=".014" stop-color="#1120ee" stop-opacity="0"/><stop offset=".042" stop-color="#1120ee" stop-opacity="0.62"/><stop offset=".069" stop-color="#101eee"/><stop offset=".264" stop-color="#070ee4"/><stop offset=".375" stop-color="#0404d4"/><stop offset=".403" stop-color="#0a0cb1"/><stop offset=".681" stop-color="#1635c9"/><stop offset=".875" stop-color="#2961d0"/><stop offset=".903" stop-color="#2f68ce" stop-opacity="0.94"/><stop offset=".931" stop-color="#366ecc" stop-opacity="0.56"/><stop offset=".958" stop-color="#3a72cb" stop-opacity="0.12"/><stop offset=".986" stop-color="#3a72cb" stop-opacity="0"/></linearGradient><linearGradient id="s194"><stop offset=".015" stop-color="#111fef" stop-opacity="0"/><stop offset=".045" stop-color="#111fef" stop-opacity="0.12"/><stop offset=".076" stop-color="#101eee" stop-opacity="0.94"/><stop offset=".106" stop-color="#0e1bed"/><stop offset=".379" stop-color="#0405de"/><stop offset=".409" stop-color="#0708c6"/><stop offset=".439" stop-color="#0b0eb7"/><stop offset=".682" stop-color="#1530ca"/><stop offset=".894" stop-color="#275cd1"/><stop offset=".924" stop-color="#2a63d0" stop-opacity="0.81"/><stop offset=".955" stop-color="#2f69ce" stop-opacity="0.38"/><stop offset=".985" stop-color="#2f69ce" stop-opacity="0"/></linearGradient><linearGradient id="s195"><stop offset=".017" stop-color="#101cef" stop-opacity="0"/><stop offset=".083" stop-color="#0f1aee"/><stop offset=".383" stop-color="#0405e0"/><stop offset=".417" stop-color="#0b0cbe"/><stop offset=".45" stop-color="#0c11bb"/><stop offset=".85" stop-color="#2250d4"/><stop offset=".883" stop-color="#2457d3" stop-opacity="0.94"/><stop offset=".917" stop-color="#265dd1" stop-opacity="0.62"/><stop offset=".95" stop-color="#2861d0" stop-opacity="0.19"/><stop offset=".983" stop-color="#2861d0" stop-opacity="0"/></linearGradient><linearGradient id="s196"><stop offset=".019" stop-color="#1019ef" stop-opacity="0"/><stop offset=".058" stop-color="#1019ef" stop-opacity="0.88"/><stop offset=".096" stop-color="#0e17ee"/><stop offset=".365" stop-color="#0607e4"/><stop offset=".442" stop-color="#0d10bf"/><stop offset=".75" stop-color="#193ad5"/><stop offset=".865" stop-color="#1f4cd4"/><stop offset=".942" stop-color="#2357d2" stop-opacity="0.38"/><stop offset=".981" stop-color="#2357d2" stop-opacity="0"/></linearGradient><linearGradient id="s197"><stop offset=".021" stop-color="#0f18f0" stop-opacity="0"/><stop offset=".062" stop-color="#0f18f0" stop-opacity="0.38"/><stop offset=".104" stop-color="#0e16ef"/><stop offset=".354" stop-color="#0708e8"/><stop offset=".396" stop-color="#0708e0"/><stop offset=".438" stop-color="#0e0fc7"/><stop offset=".812" stop-color="#1b41d6"/><stop offset=".854" stop-color="#1c46d5" stop-opacity="0.75"/><stop offset=".896" stop-color="#1e4bd4" stop-opacity="0.38"/><stop offset=".938" stop-color="#204fd4" stop-opacity="0.06"/><stop offset=".979" stop-color="#204fd4" stop-opacity="0"/></linearGradient><linearGradient id="s198"><stop offset=".025" stop-color="#0f15f0" stop-opacity="0"/><stop offset=".075" stop-color="#0f15f0" stop-opacity="0.88"/><stop offset=".125" stop-color="#0d13ef"/><stop offset=".375" stop-color="#0808e8"/><stop offset=".425" stop-color="#0e0fcf"/><stop offset=".475" stop-color="#1115cb"/><stop offset=".775" stop-color="#1737d6"/><stop offset=".825" stop-color="#183cd6" stop-opacity="0.69"/><stop offset=".875" stop-color="#1940d5" stop-opacity="0.44"/><stop offset=".925" stop-color="#1b44d5" stop-opacity="0.06"/><stop offset=".975" stop-color="#1b44d5" stop-opacity="0"/></linearGradient><linearGradient id="s199"><stop offset=".029" stop-color="#0f13f1" stop-opacity="0"/><stop offset=".088" stop-color="#0f13f1" stop-opacity="0.38"/><stop offset=".147" stop-color="#0e12f0"/><stop offset=".382" stop-color="#0a0be7"/><stop offset=".441" stop-color="#1012d4"/><stop offset=".5" stop-color="#1318d0"/><stop offset=".676" stop-color="#1528d6"/><stop offset=".735" stop-color="#152dd6" stop-opacity="0.94"/><stop offset=".794" stop-color="#1531d6" stop-opacity="0.62"/><stop offset=".853" stop-color="#1636d6" stop-opacity="0.38"/><stop offset=".912" stop-color="#1639d6" stop-opacity="0.06"/><stop offset=".971" stop-color="#1639d6" stop-opacity="0"/></linearGradient><linearGradient id="s200"><stop offset=".042" stop-color="#0e11f1" stop-opacity="0"/><stop offset=".125" stop-color="#0e11f1" stop-opacity="0.75"/><stop offset=".208" stop-color="#0c0ff0"/><stop offset=".375" stop-color="#0b0bed"/><stop offset=".458" stop-color="#1113d7"/><stop offset=".625" stop-color="#131ed4"/><stop offset=".708" stop-color="#1322d5" stop-opacity="0.81"/><stop offset=".792" stop-color="#1327d5" stop-opacity="0.56"/><stop offset=".875" stop-color="#142bd5" stop-opacity="0.25"/><stop offset=".958" stop-color="#142bd5" stop-opacity="0"/></linearGradient><linearGradient id="s201"><stop offset=".056" stop-color="#0e10f1" stop-opacity="0"/><stop offset=".167" stop-color="#0e10f1" stop-opacity="0.25"/><stop offset=".278" stop-color="#0d0ef1"/><stop offset=".389" stop-color="#0d0ee5"/><stop offset=".5" stop-color="#1014d4" stop-opacity="0.94"/><stop offset=".611" stop-color="#1118d3" stop-opacity="0.69"/><stop offset=".722" stop-color="#111cd3" stop-opacity="0.38"/><stop offset=".833" stop-color="#1220d4" stop-opacity="0.12"/><stop offset=".944" stop-color="#1220d4" stop-opacity="0"/></linearGradient><linearGradient id="s202"><stop offset=".125" stop-color="#0e0fde" stop-opacity="0"/><stop offset=".375" stop-color="#0e0fde" stop-opacity="0.44"/><stop offset=".625" stop-color="#0f12d1" stop-opacity="0.25"/><stop offset=".875" stop-color="#0f12d1" stop-opacity="0"/></linearGradient></defs><g><rect x="181" y="25" width="4" height="1" fill="url(#s7)"/><rect x="180" y="26" width="5" height="1" fill="url(#s8)"/><rect x="179" y="27" width="7" height="1" fill="url(#s9)"/><rect x="178" y="28" width="8" height="1" fill="url(#s10)"/><rect x="178" y="29" width="9" height="1" fill="url(#s11)"/><rect x="177" y="30" width="10" height="1" fill="url(#s12)"/><rect x="176" y="31" width="11" height="1" fill="url(#s13)"/><rect x="176" y="32" width="12" height="1" fill="url(#s14)"/><rect x="175" y="33" width="13" height="1" fill="url(#s15)"/><rect x="174" y="34" width="14" height="1" fill="url(#s16)"/><rect x="174" y="35" width="15" height="1" fill="url(#s17)"/><rect x="173" y="36" width="16" height="1" fill="url(#s18)"/><rect x="173" y="37" width="17" height="1" fill="url(#s19)"/><rect x="173" y="38" width="17" height="1" fill="url(#s20)"/><rect x="172" y="39" width="18" height="1" fill="url(#s21)"/><rect x="172" y="40" width="19" height="1" fill="url(#s22)"/><rect x="171" y="41" width="20" height="1" fill="url(#s23)"/><rect x="171" y="42" width="21" height="1" fill="url(#s24)"/><rect x="170" y="43" width="22" height="1" fill="url(#s25)"/><rect x="170" y="44" width="22" height="1" fill="url(#s26)"/><rect x="119" y="45" width="74" height="1" fill="url(#s27)"/><rect x="116" y="46" width="77" height="1" fill="url(#s28)"/><rect x="114" y="47" width="80" height="1" fill="url(#s29)"/><rect x="113" y="48" width="81" height="1" fill="url(#s30)"/><rect x="112" y="49" width="83" height="1" fill="url(#s31)"/><rect x="111" y="50" width="84" height="1" fill="url(#s32)"/><rect x="111" y="51" width="84" height="1" fill="url(#s33)"/><rect x="110" y="52" width="86" height="1" fill="url(#s34)"/><rect x="109" y="53" width="87" height="1" fill="url(#s35)"/><rect x="109" y="54" width="88" height="1" fill="url(#s36)"/><rect x="108" y="55" width="89" height="1" fill="url(#s37)"/><rect x="108" y="56" width="90" height="1" fill="url(#s38)"/><rect x="107" y="57" width="91" height="1" fill="url(#s39)"/><rect x="107" y="58" width="91" height="1" fill="url(#s40)"/><rect x="106" y="59" width="93" height="1" fill="url(#s41)"/><rect x="106" y="60" width="93" height="1" fill="url(#s42)"/><rect x="105" y="61" width="95" height="1" fill="url(#s43)"/><rect x="105" y="62" width="95" height="1" fill="url(#s44)"/><rect x="105" y="63" width="96" height="1" fill="url(#s45)"/><rect x="104" y="64" width="97" height="1" fill="url(#s46)"/><rect x="104" y="65" width="98" height="1" fill="url(#s47)"/><rect x="104" y="66" width="98" height="1" fill="url(#s48)"/><rect x="103" y="67" width="99" height="1" fill="url(#s49)"/><rect x="103" y="68" width="100" height="1" fill="url(#s50)"/><rect x="102" y="69" width="101" height="1" fill="url(#s51)"/><rect x="102" y="70" width="102" height="1" fill="url(#s52)"/><rect x="102" y="71" width="102" height="1" fill="url(#s53)"/><rect x="101" y="72" width="104" height="1" fill="url(#s54)"/><rect x="101" y="73" width="104" height="1" fill="url(#s55)"/><rect x="101" y="74" width="105" height="1" fill="url(#s56)"/><rect x="100" y="75" width="106" height="1" fill="url(#s57)"/><rect x="100" y="76" width="107" height="1" fill="url(#s58)"/><rect x="100" y="77" width="107" height="1" fill="url(#s59)"/><rect x="99" y="78" width="109" height="1" fill="url(#s60)"/><rect x="99" y="79" width="109" height="1" fill="url(#s61)"/><rect x="99" y="80" width="110" height="1" fill="url(#s62)"/><rect x="99" y="81" width="110" height="1" fill="url(#s63)"/><rect x="98" y="82" width="111" height="1" fill="url(#s64)"/><rect x="98" y="83" width="112" height="1" fill="url(#s65)"/><rect x="98" y="84" width="112" height="1" fill="url(#s66)"/><rect x="98" y="85" width="113" height="1" fill="url(#s67)"/><rect x="97" y="86" width="114" height="1" fill="url(#s68)"/><rect x="97" y="87" width="115" height="1" fill="url(#s69)"/><rect x="97" y="88" width="115" height="1" fill="url(#s70)"/><rect x="96" y="89" width="117" height="1" fill="url(#s71)"/><rect x="96" y="90" width="117" height="1" fill="url(#s72)"/><rect x="96" y="91" width="118" height="1" fill="url(#s73)"/><rect x="96" y="92" width="118" height="1" fill="url(#s74)"/><rect x="95" y="93" width="120" height="1" fill="url(#s75)"/><rect x="95" y="94" width="120" height="1" fill="url(#s76)"/><rect x="95" y="95" width="121" height="1" fill="url(#s77)"/><rect x="94" y="96" width="122" height="1" fill="url(#s78)"/><rect x="94" y="97" width="123" height="1" fill="url(#s79)"/><rect x="94" y="98" width="123" height="1" fill="url(#s80)"/><rect x="94" y="99" width="124" height="1" fill="url(#s81)"/><rect x="50" y="100" width="168" height="1" fill="url(#s82)"/><rect x="49" y="101" width="170" height="1" fill="url(#s83)"/><rect x="50" y="102" width="169" height="1" fill="url(#s84)"/><rect x="50" y="103" width="170" height="1" fill="url(#s85)"/><rect x="50" y="104" width="170" height="1" fill="url(#s86)"/><rect x="51" y="105" width="170" height="1" fill="url(#s87)"/><rect x="51" y="106" width="170" height="1" fill="url(#s88)"/><rect x="51" y="107" width="171" height="1" fill="url(#s89)"/><rect x="52" y="108" width="170" height="1" fill="url(#s90)"/><rect x="52" y="109" width="171" height="1" fill="url(#s91)"/><rect x="53" y="110" width="170" height="1" fill="url(#s92)"/><rect x="53" y="111" width="171" height="1" fill="url(#s93)"/><rect x="53" y="112" width="172" height="1" fill="url(#s94)"/><rect x="54" y="113" width="171" height="1" fill="url(#s95)"/><rect x="54" y="114" width="244" height="1" fill="url(#s96)"/><rect x="55" y="115" width="243" height="1" fill="url(#s97)"/><rect x="55" y="116" width="242" height="1" fill="url(#s98)"/><rect x="55" y="117" width="241" height="1" fill="url(#s99)"/><rect x="56" y="118" width="239" height="1" fill="url(#s100)"/><rect x="56" y="119" width="238" height="1" fill="url(#s101)"/><rect x="57" y="120" width="236" height="1" fill="url(#s102)"/><rect x="57" y="121" width="235" height="1" fill="url(#s103)"/><rect x="57" y="122" width="233" height="1" fill="url(#s104)"/><rect x="58" y="123" width="231" height="1" fill="url(#s105)"/><rect x="58" y="124" width="230" height="1" fill="url(#s106)"/><rect x="59" y="125" width="228" height="1" fill="url(#s107)"/><rect x="59" y="126" width="226" height="1" fill="url(#s108)"/><rect x="60" y="127" width="224" height="1" fill="url(#s109)"/><rect x="60" y="128" width="223" height="1" fill="url(#s110)"/><rect x="60" y="129" width="221" height="1" fill="url(#s111)"/><rect x="61" y="130" width="218" height="1" fill="url(#s112)"/><rect x="61" y="131" width="217" height="1" fill="url(#s113)"/><rect x="62" y="132" width="214" height="1" fill="url(#s114)"/><rect x="62" y="133" width="212" height="1" fill="url(#s115)"/><rect x="63" y="134" width="209" height="1" fill="url(#s116)"/><rect x="63" y="135" width="207" height="1" fill="url(#s117)"/><rect x="63" y="136" width="205" height="1" fill="url(#s118)"/><rect x="64" y="137" width="202" height="1" fill="url(#s119)"/><rect x="64" y="138" width="200" height="1" fill="url(#s120)"/><rect x="65" y="139" width="197" height="1" fill="url(#s121)"/><rect x="65" y="140" width="194" height="1" fill="url(#s122)"/><rect x="66" y="141" width="190" height="1" fill="url(#s123)"/><rect x="66" y="142" width="188" height="1" fill="url(#s124)"/><rect x="67" y="143" width="183" height="1" fill="url(#s125)"/><rect x="67" y="144" width="180" height="1" fill="url(#s126)"/><rect x="68" y="145" width="176" height="1" fill="url(#s127)"/><rect x="68" y="146" width="172" height="1" fill="url(#s128)"/><rect x="68" y="147" width="168" height="1" fill="url(#s129)"/><rect x="69" y="148" width="161" height="1" fill="url(#s130)"/><rect x="69" y="149" width="145" height="1" fill="url(#s131)"/><rect x="70" y="150" width="143" height="1" fill="url(#s132)"/><rect x="70" y="151" width="142" height="1" fill="url(#s133)"/><rect x="71" y="152" width="140" height="1" fill="url(#s134)"/><rect x="71" y="153" width="138" height="1" fill="url(#s135)"/><rect x="72" y="154" width="136" height="1" fill="url(#s136)"/><rect x="72" y="155" width="135" height="1" fill="url(#s137)"/><rect x="73" y="156" width="133" height="1" fill="url(#s138)"/><rect x="73" y="157" width="132" height="1" fill="url(#s139)"/><rect x="74" y="158" width="130" height="1" fill="url(#s140)"/><rect x="74" y="159" width="129" height="1" fill="url(#s141)"/><rect x="75" y="160" width="127" height="1" fill="url(#s142)"/><rect x="75" y="161" width="126" height="1" fill="url(#s143)"/><rect x="76" y="162" width="124" height="1" fill="url(#s144)"/><rect x="76" y="163" width="123" height="1" fill="url(#s145)"/><rect x="76" y="164" width="122" height="1" fill="url(#s146)"/><rect x="77" y="165" width="120" height="1" fill="url(#s147)"/><rect x="77" y="166" width="119" height="1" fill="url(#s148)"/><rect x="78" y="167" width="117" height="1" fill="url(#s149)"/><rect x="78" y="168" width="116" height="1" fill="url(#s150)"/><rect x="79" y="169" width="114" height="1" fill="url(#s151)"/><rect x="79" y="170" width="113" height="1" fill="url(#s152)"/><rect x="80" y="171" width="111" height="1" fill="url(#s153)"/><rect x="80" y="172" width="109" height="1" fill="url(#s154)"/><rect x="81" y="173" width="107" height="1" fill="url(#s155)"/><rect x="81" y="174" width="106" height="1" fill="url(#s156)"/><rect x="82" y="175" width="104" height="1" fill="url(#s157)"/><rect x="82" y="176" width="103" height="1" fill="url(#s158)"/><rect x="83" y="177" width="101" height="1" fill="url(#s159)"/><rect x="83" y="178" width="100" height="1" fill="url(#s160)"/><rect x="84" y="179" width="98" height="1" fill="url(#s161)"/><rect x="85" y="180" width="96" height="1" fill="url(#s162)"/><rect x="85" y="181" width="95" height="1" fill="url(#s163)"/><rect x="86" y="182" width="93" height="1" fill="url(#s164)"/><rect x="86" y="183" width="91" height="1" fill="url(#s165)"/><rect x="87" y="184" width="89" height="1" fill="url(#s166)"/><rect x="87" y="185" width="88" height="1" fill="url(#s167)"/><rect x="88" y="186" width="86" height="1" fill="url(#s168)"/><rect x="88" y="187" width="85" height="1" fill="url(#s169)"/><rect x="89" y="188" width="83" height="1" fill="url(#s170)"/><rect x="89" y="189" width="81" height="1" fill="url(#s171)"/><rect x="90" y="190" width="79" height="1" fill="url(#s172)"/><rect x="90" y="191" width="78" height="1" fill="url(#s173)"/><rect x="91" y="192" width="76" height="1" fill="url(#s174)"/><rect x="91" y="193" width="74" height="1" fill="url(#s175)"/><rect x="92" y="194" width="72" height="1" fill="url(#s176)"/><rect x="92" y="195" width="71" height="1" fill="url(#s177)"/><rect x="93" y="196" width="68" height="1" fill="url(#s178)"/><rect x="93" y="197" width="67" height="1" fill="url(#s179)"/><rect x="94" y="198" width="65" height="1" fill="url(#s180)"/><rect x="94" y="199" width="63" height="1" fill="url(#s181)"/><rect x="95" y="200" width="61" height="1" fill="url(#s182)"/><rect x="95" y="201" width="59" height="1" fill="url(#s183)"/><rect x="96" y="202" width="57" height="1" fill="url(#s184)"/><rect x="97" y="203" width="54" height="1" fill="url(#s185)"/><rect x="97" y="204" width="53" height="1" fill="url(#s186)"/><rect x="98" y="205" width="50" height="1" fill="url(#s187)"/><rect x="98" y="206" width="48" height="1" fill="url(#s188)"/><rect x="99" y="207" width="46" height="1" fill="url(#s189)"/><rect x="99" y="208" width="44" height="1" fill="url(#s190)"/><rect x="100" y="209" width="41" height="1" fill="url(#s191)"/><rect x="100" y="210" width="39" height="1" fill="url(#s192)"/><rect x="101" y="211" width="36" height="1" fill="url(#s193)"/><rect x="101" y="212" width="33" height="1" fill="url(#s194)"/><rect x="102" y="213" width="30" height="1" fill="url(#s195)"/><rect x="103" y="214" width="26" height="1" fill="url(#s196)"/><rect x="103" y="215" width="24" height="1" fill="url(#s197)"/><rect x="104" y="216" width="20" height="1" fill="url(#s198)"/><rect x="104" y="217" width="17" height="1" fill="url(#s199)"/><rect x="105" y="218" width="12" height="1" fill="url(#s200)"/><rect x="105" y="219" width="9" height="1" fill="url(#s201)"/><rect x="106" y="220" width="4" height="1" fill="url(#s202)"/></g><g fill="#b9c1ff" fill-opacity="0.85"><circle cx="111.0" cy="216.8" r="1.15"/><circle cx="113.9" cy="212.8" r="1.15"/><circle cx="115.3" cy="208.3" r="1.15"/><circle cx="115.4" cy="203.5" r="1.15"/><circle cx="114.4" cy="198.7" r="1.15"/><circle cx="112.7" cy="194.1" r="1.15"/><circle cx="110.5" cy="189.8" r="1.15"/><circle cx="108.0" cy="185.7" r="1.15"/><circle cx="105.1" cy="181.8" r="1.15"/><circle cx="102.1" cy="178.0" r="1.15"/><circle cx="98.9" cy="174.3" r="1.15"/><circle cx="95.6" cy="170.7" r="1.15"/></g><path d="M50.7,77.2L50.7,175.8L164.0,265.0L296.7,189.3M296.7,189.3l2.4,1.9M254.5,213.4l2.4,1.9M212.2,237.5l2.4,1.9M170.0,261.6l2.4,1.9M50.7,175.8l-2.6,1.5M77.7,197.1l-2.6,1.5M107.3,220.4l-2.6,1.5M134.4,241.7l-2.6,1.5M164.0,265.0l-2.6,1.5M67.8,189.2l-1.3,0.7M84.8,202.7l-1.3,0.7M90.3,207.0l-1.3,0.7M94.8,210.5l-1.3,0.7M98.6,213.5l-1.3,0.7M101.9,216.1l-1.3,0.7M104.8,218.4l-1.3,0.7M124.4,233.8l-1.3,0.7M141.5,247.3l-1.3,0.7M146.9,251.6l-1.3,0.7M151.4,255.1l-1.3,0.7M155.2,258.1l-1.3,0.7M158.5,260.7l-1.3,0.7M161.4,263.0l-1.3,0.7M50.7,175.8l-2.6,1.5M50.7,150.4l-2.6,1.5M50.7,125.0l-2.6,1.5M50.7,99.6l-2.6,1.5" fill="none" stroke="#666" stroke-width="0.6"/><g font-size="10.3" fill="#262626"><text x="306.1" y="204.5" text-anchor="middle">0</text><text x="263.9" y="228.6" text-anchor="middle">2</text><text x="221.6" y="252.7" text-anchor="middle">4</text><text x="179.4" y="276.8" text-anchor="middle">6</text><text x="36.0" y="192.0" text-anchor="middle">0.1</text><text x="63.0" y="212.5" text-anchor="middle">0.3</text><text x="98.0" y="234.9" text-anchor="middle">1</text><text x="125.2" y="256.5" text-anchor="middle">3</text><text x="152.8" y="279.5" text-anchor="middle">10</text><text x="43.2" y="176.2" text-anchor="end">0</text><text x="43.2" y="150.8" text-anchor="end">1</text><text x="43.2" y="125.4" text-anchor="end">2</text><text x="43.2" y="100.0" text-anchor="end">3</text></g><text x="25" y="65" font-size="10.3" fill="#262626">×10<tspan font-size="8" dy="-4.5">7</tspan></text><text x="187" y="277" font-size="12" fill="#262626">Initial phase difference Δ<tspan font-style="italic">ϕ</tspan> (rad)</text><text x="6" y="272.6" font-size="12" fill="#262626">Eccentricity ratio <tspan font-style="italic">e</tspan><tspan font-size="8.6" dy="5">1</tspan><tspan dy="-5">/</tspan><tspan font-style="italic">e</tspan><tspan font-size="8.6" dy="5">2</tspan></text><text transform="translate(13.3 114) rotate(-90)" font-size="12.2" text-anchor="middle" fill="#262626">Peak-to-peak value : Δ <tspan font-style="italic">k</tspan><tspan font-size="8.6" dy="4.5" font-style="italic"> e</tspan><tspan dy="-4.5"> (N/m)</tspan></text><text x="257.3" y="297.3" font-size="16.6" text-anchor="middle" fill="#000">(a)</text><defs><linearGradient id="cbj" x1="0" y1="0" x2="0" y2="1"><stop offset="0" stop-color="#ff0800"/><stop offset="0.03448" stop-color="#ff2305"/><stop offset="0.06897" stop-color="#ff3d0a"/><stop offset="0.1034" stop-color="#ff5911"/><stop offset="0.1379" stop-color="#ff7519"/><stop offset="0.1724" stop-color="#ff9022"/><stop offset="0.2069" stop-color="#ffaa2d"/><stop offset="0.2414" stop-color="#ffc437"/><stop offset="0.2759" stop-color="#ffd543"/><stop offset="0.3103" stop-color="#fce451"/><stop offset="0.3448" stop-color="#f4ec65"/><stop offset="0.3793" stop-color="#e3e87a"/><stop offset="0.4138" stop-color="#cbda90"/><stop offset="0.4483" stop-color="#b2cca5"/><stop offset="0.4828" stop-color="#95bcb9"/><stop offset="0.5172" stop-color="#7daeca"/><stop offset="0.5517" stop-color="#69a2d7"/><stop offset="0.5862" stop-color="#5696e3"/><stop offset="0.6207" stop-color="#498be6"/><stop offset="0.6552" stop-color="#3d80ea"/><stop offset="0.6897" stop-color="#3176ed"/><stop offset="0.7241" stop-color="#256af0"/><stop offset="0.7586" stop-color="#1f5df3"/><stop offset="0.7931" stop-color="#1850f5"/><stop offset="0.8276" stop-color="#1243f8"/><stop offset="0.8621" stop-color="#0c36fa"/><stop offset="0.8966" stop-color="#0929fb"/><stop offset="0.931" stop-color="#061bfd"/><stop offset="0.9655" stop-color="#030efe"/><stop offset="1" stop-color="#00f"/></linearGradient></defs><rect x="316.1" y="20.9" width="15.9" height="203.7" fill="url(#cbj)"/><path d="M332.0,196.4h-2M316.1,196.4h2M332.0,168.0h-2M316.1,168.0h2M332.0,139.5h-2M316.1,139.5h2M332.0,111.1h-2M316.1,111.1h2M332.0,82.6h-2M316.1,82.6h2M332.0,54.2h-2M316.1,54.2h2M332.0,25.8h-2M316.1,25.8h2" stroke="#262626" stroke-width="0.5"/><g font-size="10" fill="#262626"><text x="335.5" y="199.9">0.5</text><text x="335.5" y="171.5">1</text><text x="335.5" y="143.0">1.5</text><text x="335.5" y="114.6">2</text><text x="335.5" y="86.1">2.5</text><text x="335.5" y="57.7">3</text><text x="335.5" y="29.3">3.5</text><text x="333" y="16">×10<tspan font-size="8" dy="-4.5">7</tspan></text></g>
<defs><linearGradient id="g0" x2=".5" spreadMethod="reflect"><stop offset="0" stop-color="#ed5510"/><stop offset=".143" stop-color="#ea500e"/><stop offset=".328" stop-color="#dd3c08"/><stop offset=".689" stop-color="#a21201"/><stop offset=".857" stop-color="#890902"/><stop offset="1" stop-color="#820602"/></linearGradient><linearGradient id="g1" x2=".5" spreadMethod="reflect"><stop offset="0" stop-color="#f36315"/><stop offset=".143" stop-color="#f15d13"/><stop offset=".336" stop-color="#e4450a"/><stop offset=".689" stop-color="#ae1801"/><stop offset=".857" stop-color="#970d01"/><stop offset="1" stop-color="#8f0b01"/></linearGradient><linearGradient id="g2" x2=".5" spreadMethod="reflect"><stop offset="0" stop-color="#f8721c"/><stop offset=".151" stop-color="#f66a18"/><stop offset=".345" stop-color="#ea4e0d"/><stop offset=".697" stop-color="#b81e02"/><stop offset=".866" stop-color="#a21201"/><stop offset="1" stop-color="#9c0f01"/></linearGradient><linearGradient id="g3" x2=".5" spreadMethod="reflect"><stop offset="0" stop-color="#fb8122"/><stop offset=".16" stop-color="#f9781e"/><stop offset=".353" stop-color="#ef5911"/><stop offset=".697" stop-color="#c22403"/><stop offset=".866" stop-color="#ad1701"/><stop offset="1" stop-color="#a71401"/></linearGradient><linearGradient id="g4" x2=".5" spreadMethod="reflect"><stop offset="0" stop-color="#fd9029"/><stop offset=".168" stop-color="#fc8524"/><stop offset=".353" stop-color="#f46516"/><stop offset=".689" stop-color="#cc2c04"/><stop offset=".857" stop-color="#b81e02"/><stop offset="1" stop-color="#b21a01"/></linearGradient><linearGradient id="g5" x2=".5" spreadMethod="reflect"><stop offset="0" stop-color="#fe9e2e"/><stop offset=".218" stop-color="#fd8c27"/><stop offset=".429" stop-color="#f36215"/><stop offset=".689" stop-color="#d53306"/><stop offset=".857" stop-color="#c22402"/><stop offset="1" stop-color="#bb2002"/></linearGradient><linearGradient id="g6" x2=".5" spreadMethod="reflect"><stop offset="0" stop-color="#fdaa33"/><stop offset=".118" stop-color="#fea632"/><stop offset=".235" stop-color="#fe972c"/><stop offset=".445" stop-color="#f66a18"/><stop offset=".697" stop-color="#db3a07"/><stop offset=".849" stop-color="#cb2a04"/><stop offset="1" stop-color="#c42503"/></linearGradient><linearGradient id="g7" x2=".5" spreadMethod="reflect"><stop offset="0" stop-color="#fbb637"/><stop offset=".126" stop-color="#fcb136"/><stop offset=".252" stop-color="#fea130"/><stop offset=".454" stop-color="#f9741d"/><stop offset=".706" stop-color="#e04009"/><stop offset=".849" stop-color="#d23105"/><stop offset="1" stop-color="#cc2b04"/></linearGradient><linearGradient id="g8" x2=".5" spreadMethod="reflect"><stop offset="0" stop-color="#f8c03a"/><stop offset=".218" stop-color="#fcb236"/><stop offset=".429" stop-color="#fc8725"/><stop offset=".714" stop-color="#e5470b"/><stop offset=".857" stop-color="#d83706"/><stop offset="1" stop-color="#d33205"/></linearGradient><linearGradient id="g9" x2=".5" spreadMethod="reflect"><stop offset="0" stop-color="#f2c93a"/><stop offset=".235" stop-color="#faba38"/><stop offset=".445" stop-color="#fd8f28"/><stop offset=".731" stop-color="#e94c0d"/><stop offset=".866" stop-color="#de3d08"/><stop offset="1" stop-color="#d93807"/></linearGradient><linearGradient id="g10" x2=".5" spreadMethod="reflect"><stop offset="0" stop-color="#ebd239"/><stop offset=".235" stop-color="#f6c33a"/><stop offset=".462" stop-color="#fe962b"/><stop offset=".748" stop-color="#ec520f"/><stop offset=".866" stop-color="#e3440a"/><stop offset="1" stop-color="#df3f08"/></linearGradient><linearGradient id="g11" x2=".5" spreadMethod="reflect"><stop offset="0" stop-color="#e3db38"/><stop offset=".235" stop-color="#f1cc3a"/><stop offset=".479" stop-color="#fe9d2e"/><stop offset=".765" stop-color="#ef5811"/><stop offset=".882" stop-color="#e74a0c"/><stop offset="1" stop-color="#e4450a"/></linearGradient><linearGradient id="g12" x2=".5" spreadMethod="reflect"><stop offset="0" stop-color="#dae236"/><stop offset=".244" stop-color="#ebd339"/><stop offset=".378" stop-color="#f9bd39"/><stop offset=".496" stop-color="#fea331"/><stop offset=".773" stop-color="#f25f14"/><stop offset=".882" stop-color="#eb510e"/><stop offset="1" stop-color="#e94c0d"/></linearGradient><linearGradient id="g13" x2=".5" spreadMethod="reflect"><stop offset="0" stop-color="#d1e935"/><stop offset=".244" stop-color="#e3db38"/><stop offset=".395" stop-color="#f6c23a"/><stop offset=".513" stop-color="#fea933"/><stop offset=".782" stop-color="#f56717"/><stop offset=".891" stop-color="#ef5811"/><stop offset="1" stop-color="#ed540f"/></linearGradient><linearGradient id="g14" x2=".5" spreadMethod="reflect"><stop offset="0" stop-color="#c7ef34"/><stop offset=".118" stop-color="#cced34"/><stop offset=".252" stop-color="#dce136"/><stop offset=".412" stop-color="#f4c73a"/><stop offset=".521" stop-color="#fdaf35"/><stop offset=".79" stop-color="#f76e1a"/><stop offset=".891" stop-color="#f26114"/><stop offset="1" stop-color="#f05c12"/></linearGradient><linearGradient id="g15" x2=".5" spreadMethod="reflect"><stop offset="0" stop-color="#bcf534"/><stop offset=".126" stop-color="#c3f234"/><stop offset=".261" stop-color="#d5e735"/><stop offset=".538" stop-color="#fcb437"/><stop offset=".807" stop-color="#f9741d"/><stop offset="1" stop-color="#f36315"/></linearGradient><linearGradient id="g16" x2=".5" spreadMethod="reflect"><stop offset="0" stop-color="#b2f936"/><stop offset=".126" stop-color="#b8f635"/><stop offset=".277" stop-color="#cfeb34"/><stop offset=".445" stop-color="#eecf3a"/><stop offset=".555" stop-color="#fbb838"/><stop offset=".815" stop-color="#fa7b20"/><stop offset="1" stop-color="#f66b19"/></linearGradient><linearGradient id="g17" x2=".5" spreadMethod="reflect"><stop offset="0" stop-color="#a7fc3a"/><stop offset=".134" stop-color="#affa37"/><stop offset=".286" stop-color="#c7ef34"/><stop offset=".462" stop-color="#ebd239"/><stop offset=".571" stop-color="#fabb39"/><stop offset=".824" stop-color="#fc8223"/><stop offset="1" stop-color="#f8731c"/></linearGradient><linearGradient id="g18" x2=".5" spreadMethod="reflect"><stop offset="0" stop-color="#9cfe40"/><stop offset=".143" stop-color="#a6fc3b"/><stop offset=".303" stop-color="#c2f234"/><stop offset=".479" stop-color="#e9d539"/><stop offset=".588" stop-color="#f8be39"/><stop offset=".832" stop-color="#fd8926"/><stop offset="1" stop-color="#fa7b20"/></linearGradient><linearGradient id="g19" x2=".5" spreadMethod="reflect"><stop offset="0" stop-color="#90ff48"/><stop offset=".134" stop-color="#9afe42"/><stop offset=".319" stop-color="#bcf534"/><stop offset=".496" stop-color="#e6d838"/><stop offset=".605" stop-color="#f7c13a"/><stop offset=".84" stop-color="#fd9028"/><stop offset="1" stop-color="#fc8323"/></linearGradient><linearGradient id="g20" x2=".5" spreadMethod="reflect"><stop offset="0" stop-color="#82ff52"/><stop offset=".134" stop-color="#8dff4a"/><stop offset=".328" stop-color="#b5f735"/><stop offset=".454" stop-color="#d6e635"/><stop offset=".613" stop-color="#f5c53a"/><stop offset=".84" stop-color="#fe972c"/><stop offset="1" stop-color="#fd8a26"/></linearGradient><linearGradient id="g21" x2=".5" spreadMethod="reflect"><stop offset="0" stop-color="#74fe5d"/><stop offset=".134" stop-color="#80ff54"/><stop offset=".345" stop-color="#b1f936"/><stop offset=".521" stop-color="#dfdf37"/><stop offset=".63" stop-color="#f4c73a"/><stop offset=".849" stop-color="#fe9d2e"/><stop offset="1" stop-color="#fe9129"/></linearGradient><linearGradient id="g22" x2=".5" spreadMethod="reflect"><stop offset="0" stop-color="#65fd69"/><stop offset=".143" stop-color="#73fe5e"/><stop offset=".361" stop-color="#acfa38"/><stop offset=".479" stop-color="#ceeb34"/><stop offset=".639" stop-color="#f1cb3a"/><stop offset=".857" stop-color="#fea230"/><stop offset="1" stop-color="#fe982c"/></linearGradient><linearGradient id="g23" x2=".5" spreadMethod="reflect"><stop offset="0" stop-color="#56fb75"/><stop offset=".151" stop-color="#67fd68"/><stop offset=".378" stop-color="#a8fb39"/><stop offset=".479" stop-color="#c6f034"/><stop offset=".647" stop-color="#eecf3a"/><stop offset=".857" stop-color="#fea833"/><stop offset="1" stop-color="#fe9e2f"/></linearGradient><linearGradient id="g24" x2=".5" spreadMethod="reflect"><stop offset="0" stop-color="#48f882"/><stop offset=".084" stop-color="#4df97d"/><stop offset=".168" stop-color="#5cfc70"/><stop offset=".42" stop-color="#adfa38"/><stop offset=".504" stop-color="#c6f034"/><stop offset=".655" stop-color="#ecd239"/><stop offset=".857" stop-color="#fdae35"/><stop offset="1" stop-color="#fea431"/></linearGradient><linearGradient id="g25" x2=".5" spreadMethod="reflect"><stop offset="0" stop-color="#3cf58e"/><stop offset=".092" stop-color="#41f689"/><stop offset=".185" stop-color="#53fa78"/><stop offset=".378" stop-color="#97fe44"/><stop offset=".462" stop-color="#b2f936"/><stop offset=".605" stop-color="#dce136"/><stop offset=".714" stop-color="#f1cb3a"/><stop offset=".874" stop-color="#fcb136"/><stop offset="1" stop-color="#feaa33"/></linearGradient><linearGradient id="g26" x2=".5" spreadMethod="reflect"><stop offset="0" stop-color="#30f19a"/><stop offset=".101" stop-color="#36f393"/><stop offset=".193" stop-color="#48f882"/><stop offset=".395" stop-color="#93fe46"/><stop offset=".479" stop-color="#b0f937"/><stop offset=".613" stop-color="#d9e436"/><stop offset=".723" stop-color="#efce3a"/><stop offset=".874" stop-color="#fbb637"/><stop offset="1" stop-color="#fdaf35"/></linearGradient><linearGradient id="g27" x2=".5" spreadMethod="reflect"><stop offset="0" stop-color="#27eda5"/><stop offset=".109" stop-color="#2df09d"/><stop offset=".21" stop-color="#40f689"/><stop offset=".412" stop-color="#90ff48"/><stop offset=".496" stop-color="#aefa37"/><stop offset=".622" stop-color="#d6e635"/><stop offset=".731" stop-color="#edd03a"/><stop offset=".874" stop-color="#faba39"/><stop offset="1" stop-color="#fcb336"/></linearGradient><linearGradient id="g28" x2=".5" spreadMethod="reflect"><stop offset="0" stop-color="#1fe9ae"/><stop offset=".118" stop-color="#25eca7"/><stop offset=".227" stop-color="#3af490"/><stop offset=".303" stop-color="#54fa77"/><stop offset=".429" stop-color="#8dff4a"/><stop offset=".513" stop-color="#adfa38"/><stop offset=".639" stop-color="#d5e735"/><stop offset=".739" stop-color="#ebd339"/><stop offset=".874" stop-color="#f8bf39"/><stop offset="1" stop-color="#fbb838"/></linearGradient><linearGradient id="g29" x2=".5" spreadMethod="reflect"><stop offset="0" stop-color="#1ae4b7"/><stop offset=".126" stop-color="#1fe9af"/><stop offset=".235" stop-color="#32f298"/><stop offset=".319" stop-color="#4ff97c"/><stop offset=".445" stop-color="#8bff4c"/><stop offset=".529" stop-color="#acfb38"/><stop offset=".655" stop-color="#d4e735"/><stop offset=".756" stop-color="#ead439"/><stop offset=".882" stop-color="#f7c23a"/><stop offset="1" stop-color="#f9bb39"/></linearGradient><linearGradient id="g30" x2=".5" spreadMethod="reflect"><stop offset="0" stop-color="#18dfbf"/><stop offset=".143" stop-color="#1be5b5"/><stop offset=".252" stop-color="#2df09d"/><stop offset=".336" stop-color="#4bf97f"/><stop offset=".462" stop-color="#89ff4d"/><stop offset=".546" stop-color="#abfb38"/><stop offset=".664" stop-color="#d1e935"/><stop offset=".765" stop-color="#e8d639"/><stop offset=".891" stop-color="#f5c43a"/><stop offset="1" stop-color="#f8bf3a"/></linearGradient><linearGradient id="g31" x2=".5" spreadMethod="reflect"><stop offset="0" stop-color="#18d9c8"/><stop offset=".168" stop-color="#19e3b9"/><stop offset=".269" stop-color="#29eea2"/><stop offset=".353" stop-color="#48f882"/><stop offset=".479" stop-color="#88ff4e"/><stop offset=".563" stop-color="#abfb38"/><stop offset=".672" stop-color="#cfeb34"/><stop offset=".773" stop-color="#e6d838"/><stop offset=".891" stop-color="#f3c83a"/><stop offset="1" stop-color="#f6c33a"/></linearGradient><linearGradient id="g32" x2=".5" spreadMethod="reflect"><stop offset="0" stop-color="#1ad3d1"/><stop offset=".126" stop-color="#18d9c7"/><stop offset=".21" stop-color="#19e3b8"/><stop offset=".277" stop-color="#24eca8"/><stop offset=".353" stop-color="#3ef58c"/><stop offset=".445" stop-color="#6dfd63"/><stop offset=".521" stop-color="#94fe46"/><stop offset=".58" stop-color="#abfb38"/><stop offset=".689" stop-color="#cfeb34"/><stop offset=".782" stop-color="#e4da38"/><stop offset=".899" stop-color="#f1cb3a"/><stop offset="1" stop-color="#f4c63a"/></linearGradient><linearGradient id="g33" x2=".5" spreadMethod="reflect"><stop offset="0" stop-color="#1dccd9"/><stop offset=".134" stop-color="#19d4cf"/><stop offset=".227" stop-color="#18e1bc"/><stop offset=".294" stop-color="#22eaab"/><stop offset=".37" stop-color="#3bf58e"/><stop offset=".462" stop-color="#6cfd63"/><stop offset=".529" stop-color="#90ff48"/><stop offset=".588" stop-color="#a9fb39"/><stop offset=".697" stop-color="#cdec34"/><stop offset=".79" stop-color="#e2dc38"/><stop offset=".891" stop-color="#eece3a"/><stop offset="1" stop-color="#f2c93a"/></linearGradient><linearGradient id="g34" x2=".5" spreadMethod="reflect"><stop offset="0" stop-color="#22c5e2"/><stop offset=".143" stop-color="#1ccfd6"/><stop offset=".244" stop-color="#18dec0"/><stop offset=".311" stop-color="#20e9ae"/><stop offset=".378" stop-color="#36f393"/><stop offset=".471" stop-color="#67fd67"/><stop offset=".546" stop-color="#91ff48"/><stop offset=".605" stop-color="#a9fb39"/><stop offset=".706" stop-color="#cbed34"/><stop offset=".798" stop-color="#e0de37"/><stop offset="1" stop-color="#f0cc3a"/></linearGradient><linearGradient id="g35" x2=".5" spreadMethod="reflect"><stop offset="0" stop-color="#27bdea"/><stop offset=".151" stop-color="#1fc9dd"/><stop offset=".252" stop-color="#18dbc5"/><stop offset=".319" stop-color="#1de7b2"/><stop offset=".403" stop-color="#39f490"/><stop offset=".529" stop-color="#80ff54"/><stop offset=".613" stop-color="#a7fc3a"/><stop offset=".681" stop-color="#bff434"/><stop offset=".798" stop-color="#dde037"/><stop offset=".891" stop-color="#ead439"/><stop offset="1" stop-color="#eecf3a"/></linearGradient><linearGradient id="g36" x2=".5" spreadMethod="reflect"><stop offset="0" stop-color="#2db5f1"/><stop offset=".16" stop-color="#23c4e3"/><stop offset=".269" stop-color="#18d9c8"/><stop offset=".336" stop-color="#1ce6b4"/><stop offset=".42" stop-color="#39f491"/><stop offset=".546" stop-color="#81ff53"/><stop offset=".622" stop-color="#a5fc3b"/><stop offset=".689" stop-color="#bdf434"/><stop offset=".807" stop-color="#dbe236"/><stop offset=".899" stop-color="#e8d639"/><stop offset="1" stop-color="#ecd13a"/></linearGradient><linearGradient id="g37" x2=".5" spreadMethod="reflect"><stop offset="0" stop-color="#33aef7"/><stop offset=".168" stop-color="#27bee9"/><stop offset=".286" stop-color="#18d7ca"/><stop offset=".353" stop-color="#1be6b4"/><stop offset=".429" stop-color="#35f395"/><stop offset=".555" stop-color="#7eff55"/><stop offset=".639" stop-color="#a7fc3a"/><stop offset=".706" stop-color="#bef434"/><stop offset=".815" stop-color="#dae336"/><stop offset="1" stop-color="#ead439"/></linearGradient><linearGradient id="g38" x2=".5" spreadMethod="reflect"><stop offset="0" stop-color="#38a6fb"/><stop offset=".092" stop-color="#35abf8"/><stop offset=".185" stop-color="#2abaed"/><stop offset=".303" stop-color="#19d6cc"/><stop offset=".37" stop-color="#1be5b5"/><stop offset=".445" stop-color="#36f394"/><stop offset=".571" stop-color="#81ff53"/><stop offset=".647" stop-color="#a5fc3b"/><stop offset=".714" stop-color="#bdf434"/><stop offset=".824" stop-color="#d9e436"/><stop offset="1" stop-color="#e8d639"/></linearGradient><linearGradient id="g39" x2=".5" spreadMethod="reflect"><stop offset="0" stop-color="#3d9efe"/><stop offset=".101" stop-color="#39a4fc"/><stop offset=".202" stop-color="#2cb7f0"/><stop offset=".319" stop-color="#19d5cd"/><stop offset=".387" stop-color="#1be5b5"/><stop offset=".462" stop-color="#37f493"/><stop offset=".58" stop-color="#7fff55"/><stop offset=".655" stop-color="#a4fc3c"/><stop offset=".723" stop-color="#bcf534"/><stop offset=".824" stop-color="#d6e635"/><stop offset="1" stop-color="#e6d838"/></linearGradient><linearGradient id="g40" x2=".5" spreadMethod="reflect"><stop offset="0" stop-color="#4196ff"/><stop offset=".101" stop-color="#3e9cfe"/><stop offset=".21" stop-color="#30b1f4"/><stop offset=".328" stop-color="#1ad2d1"/><stop offset=".395" stop-color="#1ae4b8"/><stop offset=".471" stop-color="#34f395"/><stop offset=".588" stop-color="#7dff56"/><stop offset=".664" stop-color="#a3fd3c"/><stop offset=".731" stop-color="#bbf534"/><stop offset=".832" stop-color="#d5e735"/><stop offset="1" stop-color="#e4da38"/></linearGradient><linearGradient id="g41" x2=".5" spreadMethod="reflect"><stop offset="0" stop-color="#448efe"/><stop offset=".109" stop-color="#4196ff"/><stop offset=".218" stop-color="#33acf7"/><stop offset=".345" stop-color="#1ad2d2"/><stop offset=".412" stop-color="#1ae4b7"/><stop offset=".479" stop-color="#32f298"/><stop offset=".597" stop-color="#7bfe57"/><stop offset=".672" stop-color="#a2fd3d"/><stop offset=".739" stop-color="#baf634"/><stop offset=".832" stop-color="#d2e835"/><stop offset="1" stop-color="#e2dc38"/></linearGradient><linearGradient id="g42" x2=".5" spreadMethod="reflect"><stop offset="0" stop-color="#4686fa"/><stop offset=".118" stop-color="#448ffe"/><stop offset=".235" stop-color="#35aaf9"/><stop offset=".353" stop-color="#1bcfd5"/><stop offset=".42" stop-color="#19e3b9"/><stop offset=".487" stop-color="#30f19a"/><stop offset=".605" stop-color="#7afe58"/><stop offset=".681" stop-color="#a2fd3d"/><stop offset=".748" stop-color="#baf635"/><stop offset=".84" stop-color="#d1e935"/><stop offset="1" stop-color="#e0dd37"/></linearGradient><linearGradient id="g43" x2=".5" spreadMethod="reflect"><stop offset="0" stop-color="#467ef5"/><stop offset=".118" stop-color="#4588fb"/><stop offset=".244" stop-color="#38a6fb"/><stop offset=".303" stop-color="#2ab9ee"/><stop offset=".37" stop-color="#1bd0d4"/><stop offset=".437" stop-color="#1ae4b7"/><stop offset=".504" stop-color="#33f297"/><stop offset=".613" stop-color="#79fe59"/><stop offset=".689" stop-color="#a1fd3d"/><stop offset=".748" stop-color="#b7f735"/><stop offset=".84" stop-color="#cfeb34"/><stop offset="1" stop-color="#dfdf37"/></linearGradient><linearGradient id="g44" x2=".5" spreadMethod="reflect"><stop offset="0" stop-color="#4776ef"/><stop offset=".126" stop-color="#4682f8"/><stop offset=".252" stop-color="#3ba1fd"/><stop offset=".328" stop-color="#28bceb"/><stop offset=".395" stop-color="#1ad4cf"/><stop offset=".445" stop-color="#19e3b9"/><stop offset=".513" stop-color="#32f298"/><stop offset=".622" stop-color="#79fe59"/><stop offset=".697" stop-color="#a1fd3d"/><stop offset=".756" stop-color="#b6f735"/><stop offset=".849" stop-color="#cfeb34"/><stop offset="1" stop-color="#dde037"/></linearGradient><linearGradient id="g45" x2=".5" spreadMethod="reflect"><stop offset="0" stop-color="#476ee7"/><stop offset=".126" stop-color="#477af2"/><stop offset=".21" stop-color="#448dfe"/><stop offset=".269" stop-color="#3ca0fd"/><stop offset=".345" stop-color="#28bceb"/><stop offset=".403" stop-color="#1ad2d2"/><stop offset=".454" stop-color="#19e2ba"/><stop offset=".521" stop-color="#31f299"/><stop offset=".63" stop-color="#79fe59"/><stop offset=".706" stop-color="#a1fd3d"/><stop offset=".849" stop-color="#cdec34"/><stop offset="1" stop-color="#dce236"/></linearGradient><linearGradient id="g46" x2=".5" spreadMethod="reflect"><stop offset="0" stop-color="#4667dd"/><stop offset=".134" stop-color="#4774ec"/><stop offset=".227" stop-color="#458bfd"/><stop offset=".277" stop-color="#3e9cfe"/><stop offset=".353" stop-color="#2abaed"/><stop offset=".42" stop-color="#1ad4cf"/><stop offset=".471" stop-color="#1ae4b8"/><stop offset=".529" stop-color="#30f19a"/><stop offset=".639" stop-color="#79fe59"/><stop offset=".706" stop-color="#9efd3f"/><stop offset=".765" stop-color="#b4f836"/><stop offset=".849" stop-color="#cbed34"/><stop offset="1" stop-color="#dae336"/></linearGradient><linearGradient id="g47" x2=".5" spreadMethod="reflect"><stop offset="0" stop-color="#455fd3"/><stop offset=".134" stop-color="#466de5"/><stop offset=".235" stop-color="#4687fb"/><stop offset=".286" stop-color="#4099ff"/><stop offset=".361" stop-color="#2bb8ef"/><stop offset=".429" stop-color="#1ad3d1"/><stop offset=".479" stop-color="#19e3b9"/><stop offset=".538" stop-color="#30f19a"/><stop offset=".639" stop-color="#74fe5d"/><stop offset=".714" stop-color="#9ffd3f"/><stop offset=".773" stop-color="#b4f836"/><stop offset=".857" stop-color="#cbed34"/><stop offset="1" stop-color="#d9e436"/></linearGradient><linearGradient id="g48" x2=".5" spreadMethod="reflect"><stop offset="0" stop-color="#4456c7"/><stop offset=".067" stop-color="#455acd"/><stop offset=".143" stop-color="#4667de"/><stop offset=".252" stop-color="#4686fa"/><stop offset=".303" stop-color="#3f99ff"/><stop offset=".378" stop-color="#2ab9ed"/><stop offset=".437" stop-color="#1ad2d2"/><stop offset=".487" stop-color="#19e3b9"/><stop offset=".546" stop-color="#30f19a"/><stop offset=".647" stop-color="#75fe5c"/><stop offset=".723" stop-color="#a0fd3e"/><stop offset=".782" stop-color="#b5f835"/><stop offset=".866" stop-color="#cbed34"/><stop offset="1" stop-color="#d8e536"/></linearGradient><linearGradient id="g49" x2=".5" spreadMethod="reflect"><stop offset="0" stop-color="#434eba"/><stop offset=".067" stop-color="#4452c0"/><stop offset=".143" stop-color="#465fd4"/><stop offset=".252" stop-color="#4680f6"/><stop offset=".311" stop-color="#4196ff"/><stop offset=".387" stop-color="#2bb8ef"/><stop offset=".445" stop-color="#1bd1d3"/><stop offset=".496" stop-color="#19e3b9"/><stop offset=".555" stop-color="#30f19a"/><stop offset=".655" stop-color="#76fe5b"/><stop offset=".723" stop-color="#9dfe40"/><stop offset=".782" stop-color="#b3f836"/><stop offset=".857" stop-color="#c8ef34"/><stop offset="1" stop-color="#d7e535"/></linearGradient><linearGradient id="g50" x2=".5" spreadMethod="reflect"><stop offset="0" stop-color="#4146ac"/><stop offset=".076" stop-color="#424bb5"/><stop offset=".16" stop-color="#455ccf"/><stop offset=".277" stop-color="#4683f8"/><stop offset=".345" stop-color="#3c9ffd"/><stop offset=".395" stop-color="#2cb6f0"/><stop offset=".454" stop-color="#1bd0d4"/><stop offset=".513" stop-color="#1be5b5"/><stop offset=".555" stop-color="#2cf09e"/><stop offset=".622" stop-color="#59fb73"/><stop offset=".681" stop-color="#83ff52"/><stop offset=".731" stop-color="#9efd3f"/><stop offset=".866" stop-color="#c8ef34"/><stop offset="1" stop-color="#d6e635"/></linearGradient><linearGradient id="g51" x2=".5" spreadMethod="reflect"><stop offset="0" stop-color="#3f3e9c"/><stop offset=".076" stop-color="#4143a6"/><stop offset=".16" stop-color="#4454c4"/><stop offset=".286" stop-color="#4680f6"/><stop offset=".353" stop-color="#3d9dfe"/><stop offset=".403" stop-color="#2db5f1"/><stop offset=".462" stop-color="#1bd0d4"/><stop offset=".521" stop-color="#1be5b5"/><stop offset=".571" stop-color="#32f298"/><stop offset=".664" stop-color="#74fe5d"/><stop offset=".739" stop-color="#a0fd3e"/><stop offset=".866" stop-color="#c7ef34"/><stop offset="1" stop-color="#d5e735"/></linearGradient><linearGradient id="g52" x2=".5" spreadMethod="reflect"><stop offset="0" stop-color="#3d358c"/><stop offset=".076" stop-color="#3f3b96"/><stop offset=".16" stop-color="#434cb7"/><stop offset=".286" stop-color="#4779f1"/><stop offset=".328" stop-color="#458cfd"/><stop offset=".361" stop-color="#3e9bfe"/><stop offset=".412" stop-color="#2eb4f2"/><stop offset=".471" stop-color="#1bd0d4"/><stop offset=".529" stop-color="#1be6b5"/><stop offset=".571" stop-color="#2ef09c"/><stop offset=".639" stop-color="#5dfc6f"/><stop offset=".689" stop-color="#81ff53"/><stop offset=".739" stop-color="#9efe3f"/><stop offset=".866" stop-color="#c6f034"/><stop offset="1" stop-color="#d4e735"/></linearGradient><linearGradient id="g53" x2=".5" spreadMethod="reflect"><stop offset="0" stop-color="#3a2d7a"/><stop offset=".076" stop-color="#3c3285"/><stop offset=".168" stop-color="#4247ae"/><stop offset=".294" stop-color="#4777ef"/><stop offset=".336" stop-color="#458afc"/><stop offset=".37" stop-color="#3f9afe"/><stop offset=".42" stop-color="#2eb4f2"/><stop offset=".479" stop-color="#1bd0d4"/><stop offset=".529" stop-color="#1ae3b8"/><stop offset=".571" stop-color="#2aefa0"/><stop offset=".639" stop-color="#59fb73"/><stop offset=".689" stop-color="#7eff55"/><stop offset=".739" stop-color="#9cfe41"/><stop offset=".79" stop-color="#b0f937"/><stop offset=".866" stop-color="#c5f034"/><stop offset="1" stop-color="#d4e735"/></linearGradient><linearGradient id="g54" x2=".5" spreadMethod="reflect"><stop offset="0" stop-color="#372466"/><stop offset=".076" stop-color="#392a73"/><stop offset=".168" stop-color="#403fa0"/><stop offset=".303" stop-color="#4774ed"/><stop offset=".345" stop-color="#4588fc"/><stop offset=".378" stop-color="#4099ff"/><stop offset=".429" stop-color="#2eb4f2"/><stop offset=".487" stop-color="#1bd1d3"/><stop offset=".538" stop-color="#1ae4b7"/><stop offset=".58" stop-color="#2cf09f"/><stop offset=".639" stop-color="#55fa76"/><stop offset=".697" stop-color="#81ff53"/><stop offset=".748" stop-color="#9efd3f"/><stop offset=".874" stop-color="#c6f034"/><stop offset="1" stop-color="#d3e835"/></linearGradient><linearGradient id="g55" x2=".5" spreadMethod="reflect"><stop offset="0" stop-color="#341b52"/><stop offset=".076" stop-color="#362160"/><stop offset=".168" stop-color="#3e3790"/><stop offset=".303" stop-color="#476ee6"/><stop offset=".353" stop-color="#4687fb"/><stop offset=".387" stop-color="#4098ff"/><stop offset=".437" stop-color="#2eb4f2"/><stop offset=".496" stop-color="#1bd1d3"/><stop offset=".546" stop-color="#1be5b6"/><stop offset=".588" stop-color="#2ef09d"/><stop offset=".647" stop-color="#58fb74"/><stop offset=".697" stop-color="#7fff55"/><stop offset=".748" stop-color="#9cfe40"/><stop offset=".798" stop-color="#b0f937"/><stop offset=".874" stop-color="#c6f034"/><stop offset="1" stop-color="#d3e835"/></linearGradient><linearGradient id="g56" x2=".5" spreadMethod="reflect"><stop offset="0" stop-color="#31133c"/><stop offset=".076" stop-color="#33194b"/><stop offset=".168" stop-color="#3b3080"/><stop offset=".311" stop-color="#466ce4"/><stop offset=".361" stop-color="#4686fa"/><stop offset=".395" stop-color="#4098ff"/><stop offset=".437" stop-color="#31aff5"/><stop offset=".496" stop-color="#1cced7"/><stop offset=".555" stop-color="#1be6b5"/><stop offset=".605" stop-color="#35f394"/><stop offset=".689" stop-color="#76fe5b"/><stop offset=".756" stop-color="#9ffd3f"/><stop offset=".874" stop-color="#c5f034"/><stop offset="1" stop-color="#d3e835"/></linearGradient><linearGradient id="g57" x2=".5" spreadMethod="reflect"><stop offset="0" stop-color="#33194c"/><stop offset=".092" stop-color="#31133d"/><stop offset=".193" stop-color="#3c3182"/><stop offset=".311" stop-color="#4666dd"/><stop offset=".361" stop-color="#4680f7"/><stop offset=".403" stop-color="#4098ff"/><stop offset=".445" stop-color="#31b0f5"/><stop offset=".504" stop-color="#1ccfd5"/><stop offset=".555" stop-color="#1ae4b7"/><stop offset=".597" stop-color="#2df09e"/><stop offset=".655" stop-color="#59fb73"/><stop offset=".706" stop-color="#80ff54"/><stop offset=".756" stop-color="#9efe3f"/><stop offset=".874" stop-color="#c5f034"/><stop offset="1" stop-color="#d3e835"/></linearGradient><linearGradient id="g58" x2=".5" spreadMethod="reflect"><stop offset="0" stop-color="#372261"/><stop offset=".059" stop-color="#351e58"/><stop offset=".126" stop-color="#30123b"/><stop offset=".218" stop-color="#3c3388"/><stop offset=".319" stop-color="#4665db"/><stop offset=".37" stop-color="#4680f6"/><stop offset=".412" stop-color="#4098ff"/><stop offset=".454" stop-color="#31b0f5"/><stop offset=".513" stop-color="#1bd0d4"/><stop offset=".563" stop-color="#1be5b6"/><stop offset=".605" stop-color="#2ff19b"/><stop offset=".655" stop-color="#56fb76"/><stop offset=".706" stop-color="#7eff55"/><stop offset=".756" stop-color="#9dfe40"/><stop offset=".874" stop-color="#c5f034"/><stop offset="1" stop-color="#d3e835"/></linearGradient><linearGradient id="g59" x2=".5" spreadMethod="reflect"><stop offset="0" stop-color="#3a2b75"/><stop offset=".076" stop-color="#372467"/><stop offset=".151" stop-color="#30123b"/><stop offset=".227" stop-color="#3b3080"/><stop offset=".328" stop-color="#4663d9"/><stop offset=".378" stop-color="#467ff6"/><stop offset=".42" stop-color="#4098ff"/><stop offset=".462" stop-color="#30b1f4"/><stop offset=".513" stop-color="#1ccdd8"/><stop offset=".563" stop-color="#1ae3b8"/><stop offset=".605" stop-color="#2df09d"/><stop offset=".655" stop-color="#53fa78"/><stop offset=".706" stop-color="#7cff57"/><stop offset=".756" stop-color="#9cfe40"/><stop offset=".807" stop-color="#b1f936"/><stop offset=".874" stop-color="#c5f034"/><stop offset="1" stop-color="#d4e835"/></linearGradient><linearGradient id="g60" x2=".5" spreadMethod="reflect"><stop offset="0" stop-color="#3c3387"/><stop offset=".084" stop-color="#3a2b76"/><stop offset=".126" stop-color="#362160"/><stop offset=".176" stop-color="#30123b"/><stop offset=".286" stop-color="#4146ac"/><stop offset=".336" stop-color="#4662d8"/><stop offset=".387" stop-color="#467ff6"/><stop offset=".429" stop-color="#4099ff"/><stop offset=".471" stop-color="#2fb2f3"/><stop offset=".521" stop-color="#1ccfd5"/><stop offset=".571" stop-color="#1be5b6"/><stop offset=".613" stop-color="#30f19a"/><stop offset=".697" stop-color="#74fe5d"/><stop offset=".765" stop-color="#9ffd3e"/><stop offset=".882" stop-color="#c7ef34"/><stop offset="1" stop-color="#d4e735"/></linearGradient><linearGradient id="g61" x2=".5" spreadMethod="reflect"><stop offset="0" stop-color="#3f3c98"/><stop offset=".05" stop-color="#3e3993"/><stop offset=".101" stop-color="#3b3081"/><stop offset=".143" stop-color="#382568"/><stop offset=".193" stop-color="#30123b"/><stop offset=".294" stop-color="#4144a8"/><stop offset=".345" stop-color="#4661d7"/><stop offset=".395" stop-color="#4680f6"/><stop offset=".437" stop-color="#3f99fe"/><stop offset=".479" stop-color="#2eb4f2"/><stop offset=".529" stop-color="#1bd1d3"/><stop offset=".58" stop-color="#1ce6b3"/><stop offset=".613" stop-color="#2ef09d"/><stop offset=".664" stop-color="#56fb76"/><stop offset=".714" stop-color="#7fff54"/><stop offset=".756" stop-color="#9bfe41"/><stop offset=".807" stop-color="#b1f937"/><stop offset=".874" stop-color="#c6f034"/><stop offset="1" stop-color="#d5e735"/></linearGradient><linearGradient id="g62" x2=".5" spreadMethod="reflect"><stop offset="0" stop-color="#4144a8"/><stop offset=".059" stop-color="#4040a1"/><stop offset=".109" stop-color="#3d368e"/><stop offset=".16" stop-color="#38276d"/><stop offset=".21" stop-color="#30123b"/><stop offset=".303" stop-color="#4142a6"/><stop offset=".353" stop-color="#4661d6"/><stop offset=".403" stop-color="#4680f7"/><stop offset=".445" stop-color="#3f9bfe"/><stop offset=".479" stop-color="#31b0f5"/><stop offset=".529" stop-color="#1cced6"/><stop offset=".58" stop-color="#1be5b6"/><stop offset=".613" stop-color="#2bef9f"/><stop offset=".664" stop-color="#54fa78"/><stop offset=".714" stop-color="#7eff55"/><stop offset=".756" stop-color="#9afe42"/><stop offset=".807" stop-color="#b1f936"/><stop offset=".874" stop-color="#c6f034"/><stop offset="1" stop-color="#d5e635"/></linearGradient><linearGradient id="g63" x2=".5" spreadMethod="reflect"><stop offset="0" stop-color="#434cb7"/><stop offset=".059" stop-color="#4248b0"/><stop offset=".118" stop-color="#3f3c9a"/><stop offset=".168" stop-color="#3a2c78"/><stop offset=".227" stop-color="#30123b"/><stop offset=".311" stop-color="#4041a3"/><stop offset=".361" stop-color="#4661d6"/><stop offset=".412" stop-color="#4681f7"/><stop offset=".454" stop-color="#3e9cfe"/><stop offset=".487" stop-color="#2fb2f3"/><stop offset=".538" stop-color="#1bd1d3"/><stop offset=".58" stop-color="#1ae4b8"/><stop offset=".613" stop-color="#2aefa1"/><stop offset=".664" stop-color="#52fa79"/><stop offset=".714" stop-color="#7dff56"/><stop offset=".756" stop-color="#9afe42"/><stop offset=".807" stop-color="#b1f936"/><stop offset=".874" stop-color="#c7ef34"/><stop offset="1" stop-color="#d6e635"/></linearGradient><linearGradient id="g64" x2=".5" spreadMethod="reflect"><stop offset="0" stop-color="#4454c4"/><stop offset=".067" stop-color="#434fbc"/><stop offset=".126" stop-color="#4042a5"/><stop offset=".176" stop-color="#3c3182"/><stop offset=".244" stop-color="#31133c"/><stop offset=".303" stop-color="#3d368c"/><stop offset=".345" stop-color="#4350be"/><stop offset=".387" stop-color="#466ce4"/><stop offset=".429" stop-color="#4687fb"/><stop offset=".454" stop-color="#4098ff"/><stop offset=".487" stop-color="#32aff6"/><stop offset=".538" stop-color="#1cced6"/><stop offset=".58" stop-color="#19e2ba"/><stop offset=".622" stop-color="#2df09d"/><stop offset=".672" stop-color="#58fb74"/><stop offset=".723" stop-color="#83ff51"/><stop offset=".765" stop-color="#9efd3f"/><stop offset=".815" stop-color="#b5f835"/><stop offset=".882" stop-color="#caee34"/><stop offset="1" stop-color="#d7e536"/></linearGradient><linearGradient id="g65" x2=".5" spreadMethod="reflect"><stop offset="0" stop-color="#455dd0"/><stop offset=".076" stop-color="#4456c6"/><stop offset=".143" stop-color="#4145aa"/><stop offset=".202" stop-color="#3b2d7b"/><stop offset=".252" stop-color="#31133d"/><stop offset=".261" stop-color="#321542"/><stop offset=".311" stop-color="#3d358a"/><stop offset=".353" stop-color="#4350be"/><stop offset=".395" stop-color="#476de5"/><stop offset=".429" stop-color="#4683f9"/><stop offset=".454" stop-color="#4294ff"/><stop offset=".487" stop-color="#34acf8"/><stop offset=".546" stop-color="#1bd1d3"/><stop offset=".58" stop-color="#19e1bb"/><stop offset=".622" stop-color="#2cf09f"/><stop offset=".672" stop-color="#56fb75"/><stop offset=".723" stop-color="#83ff52"/><stop offset=".765" stop-color="#9ffd3f"/><stop offset=".815" stop-color="#b5f835"/><stop offset=".882" stop-color="#cbed34"/><stop offset="1" stop-color="#d9e436"/></linearGradient><linearGradient id="g66" x2=".5" spreadMethod="reflect"><stop offset="0" stop-color="#4665db"/><stop offset=".084" stop-color="#455cd0"/><stop offset=".151" stop-color="#424ab3"/><stop offset=".202" stop-color="#3d358b"/><stop offset=".269" stop-color="#31133d"/><stop offset=".319" stop-color="#3d3489"/><stop offset=".361" stop-color="#4351be"/><stop offset=".403" stop-color="#476ee6"/><stop offset=".437" stop-color="#4685fa"/><stop offset=".462" stop-color="#4197ff"/><stop offset=".496" stop-color="#32aef6"/><stop offset=".546" stop-color="#1ccfd6"/><stop offset=".58" stop-color="#18e0bd"/><stop offset=".622" stop-color="#2aefa0"/><stop offset=".706" stop-color="#74fe5d"/><stop offset=".765" stop-color="#9ffd3f"/><stop offset=".815" stop-color="#b6f735"/><stop offset=".882" stop-color="#cced34"/><stop offset="1" stop-color="#dae336"/></linearGradient><linearGradient id="g67" x2=".5" spreadMethod="reflect"><stop offset="0" stop-color="#466de4"/><stop offset=".084" stop-color="#4664db"/><stop offset=".16" stop-color="#434fbb"/><stop offset=".218" stop-color="#3d348a"/><stop offset=".277" stop-color="#30123b"/><stop offset=".336" stop-color="#3e3994"/><stop offset=".37" stop-color="#4451bf"/><stop offset=".412" stop-color="#476fe7"/><stop offset=".445" stop-color="#4687fb"/><stop offset=".471" stop-color="#3f99ff"/><stop offset=".496" stop-color="#34abf8"/><stop offset=".555" stop-color="#1ad2d2"/><stop offset=".588" stop-color="#19e2ba"/><stop offset=".622" stop-color="#29eea2"/><stop offset=".672" stop-color="#54fa77"/><stop offset=".723" stop-color="#82ff52"/><stop offset=".765" stop-color="#9ffd3e"/><stop offset=".815" stop-color="#b7f735"/><stop offset=".882" stop-color="#cdec34"/><stop offset="1" stop-color="#dbe236"/></linearGradient><linearGradient id="g68" x2=".5" spreadMethod="reflect"><stop offset="0" stop-color="#4774ed"/><stop offset=".092" stop-color="#466ae2"/><stop offset=".168" stop-color="#4453c2"/><stop offset=".227" stop-color="#3e3790"/><stop offset=".261" stop-color="#372465"/><stop offset=".286" stop-color="#31133e"/><stop offset=".294" stop-color="#321543"/><stop offset=".336" stop-color="#3c3388"/><stop offset=".378" stop-color="#4452c0"/><stop offset=".412" stop-color="#466be3"/><stop offset=".445" stop-color="#4683f9"/><stop offset=".471" stop-color="#4196ff"/><stop offset=".496" stop-color="#36a8fa"/><stop offset=".555" stop-color="#1bd0d4"/><stop offset=".588" stop-color="#19e1bb"/><stop offset=".622" stop-color="#28eea3"/><stop offset=".672" stop-color="#53fa78"/><stop offset=".723" stop-color="#82ff52"/><stop offset=".765" stop-color="#a0fd3e"/><stop offset=".815" stop-color="#b8f735"/><stop offset=".882" stop-color="#ceeb34"/><stop offset="1" stop-color="#dde136"/></linearGradient><linearGradient id="g69" x2=".5" spreadMethod="reflect"><stop offset="0" stop-color="#467cf4"/><stop offset=".092" stop-color="#4772ea"/><stop offset=".168" stop-color="#455acd"/><stop offset=".227" stop-color="#403f9e"/><stop offset=".261" stop-color="#3a2b75"/><stop offset=".294" stop-color="#311440"/><stop offset=".303" stop-color="#311541"/><stop offset=".345" stop-color="#3d3488"/><stop offset=".387" stop-color="#4453c3"/><stop offset=".42" stop-color="#476de5"/><stop offset=".454" stop-color="#4686fa"/><stop offset=".479" stop-color="#4099ff"/><stop offset=".504" stop-color="#34acf8"/><stop offset=".555" stop-color="#1cced6"/><stop offset=".588" stop-color="#18e0bd"/><stop offset=".63" stop-color="#2df09e"/><stop offset=".706" stop-color="#74fe5d"/><stop offset=".765" stop-color="#a1fd3e"/><stop offset=".815" stop-color="#b9f635"/><stop offset=".882" stop-color="#d0ea34"/><stop offset="1" stop-color="#dedf37"/></linearGradient><linearGradient id="g70" x2=".5" spreadMethod="reflect"><stop offset="0" stop-color="#4684f9"/><stop offset=".101" stop-color="#4778f0"/><stop offset=".176" stop-color="#455fd3"/><stop offset=".235" stop-color="#4041a3"/><stop offset=".269" stop-color="#3a2c79"/><stop offset=".303" stop-color="#321542"/><stop offset=".311" stop-color="#311440"/><stop offset=".361" stop-color="#3f3b97"/><stop offset=".403" stop-color="#455ccf"/><stop offset=".445" stop-color="#467cf3"/><stop offset=".479" stop-color="#4195ff"/><stop offset=".521" stop-color="#2db6f1"/><stop offset=".563" stop-color="#1ad2d2"/><stop offset=".597" stop-color="#1ae3b8"/><stop offset=".63" stop-color="#2cf09f"/><stop offset=".672" stop-color="#52fa79"/><stop offset=".714" stop-color="#7cff57"/><stop offset=".756" stop-color="#9cfe40"/><stop offset=".807" stop-color="#b6f735"/><stop offset=".874" stop-color="#cfea34"/><stop offset="1" stop-color="#e0de37"/></linearGradient><linearGradient id="g71" x2=".5" spreadMethod="reflect"><stop offset="0" stop-color="#458cfd"/><stop offset=".109" stop-color="#467df4"/><stop offset=".185" stop-color="#4662d8"/><stop offset=".244" stop-color="#4143a7"/><stop offset=".277" stop-color="#3b2e7c"/><stop offset=".311" stop-color="#321543"/><stop offset=".319" stop-color="#31143f"/><stop offset=".37" stop-color="#3f3c99"/><stop offset=".412" stop-color="#455ed2"/><stop offset=".454" stop-color="#467ff6"/><stop offset=".487" stop-color="#4099ff"/><stop offset=".521" stop-color="#2fb3f3"/><stop offset=".563" stop-color="#1bd0d4"/><stop offset=".605" stop-color="#1ce6b4"/><stop offset=".639" stop-color="#32f298"/><stop offset=".681" stop-color="#5bfb72"/><stop offset=".723" stop-color="#84ff51"/><stop offset=".756" stop-color="#9dfe3f"/><stop offset=".807" stop-color="#b8f735"/><stop offset=".874" stop-color="#d1e935"/><stop offset="1" stop-color="#e2dc37"/></linearGradient><linearGradient id="g72" x2=".5" spreadMethod="reflect"><stop offset="0" stop-color="#4294ff"/><stop offset=".118" stop-color="#4682f8"/><stop offset=".193" stop-color="#4666dc"/><stop offset=".252" stop-color="#4145ab"/><stop offset=".286" stop-color="#3b2f7e"/><stop offset=".319" stop-color="#321543"/><stop offset=".328" stop-color="#311440"/><stop offset=".37" stop-color="#3d378e"/><stop offset=".412" stop-color="#4559cc"/><stop offset=".454" stop-color="#467bf3"/><stop offset=".487" stop-color="#4196ff"/><stop offset=".521" stop-color="#30b1f4"/><stop offset=".563" stop-color="#1ccfd5"/><stop offset=".605" stop-color="#1be5b5"/><stop offset=".639" stop-color="#31f299"/><stop offset=".681" stop-color="#5bfb72"/><stop offset=".723" stop-color="#85ff50"/><stop offset=".756" stop-color="#9efd3f"/><stop offset=".807" stop-color="#b9f635"/><stop offset=".874" stop-color="#d3e835"/><stop offset="1" stop-color="#e4da38"/></linearGradient><linearGradient id="g73" x2=".5" spreadMethod="reflect"><stop offset="0" stop-color="#3e9cfe"/><stop offset=".118" stop-color="#458afc"/><stop offset=".193" stop-color="#476de5"/><stop offset=".227" stop-color="#455bce"/><stop offset=".261" stop-color="#4247ad"/><stop offset=".294" stop-color="#3b2f7f"/><stop offset=".328" stop-color="#321542"/><stop offset=".336" stop-color="#321542"/><stop offset=".378" stop-color="#3e3892"/><stop offset=".42" stop-color="#455ccf"/><stop offset=".454" stop-color="#4778f0"/><stop offset=".487" stop-color="#4293ff"/><stop offset=".521" stop-color="#32aef6"/><stop offset=".563" stop-color="#1cced7"/><stop offset=".605" stop-color="#1be5b6"/><stop offset=".639" stop-color="#30f199"/><stop offset=".681" stop-color="#5bfb71"/><stop offset=".723" stop-color="#86ff50"/><stop offset=".756" stop-color="#a0fd3e"/><stop offset=".798" stop-color="#b7f735"/><stop offset=".874" stop-color="#d5e735"/><stop offset="1" stop-color="#e6d938"/></linearGradient><linearGradient id="g74" x2=".5" spreadMethod="reflect"><stop offset="0" stop-color="#39a4fc"/><stop offset=".067" stop-color="#3d9efe"/><stop offset=".134" stop-color="#458cfd"/><stop offset=".202" stop-color="#4770e8"/><stop offset=".235" stop-color="#455dd2"/><stop offset=".269" stop-color="#4248b0"/><stop offset=".303" stop-color="#3b3080"/><stop offset=".336" stop-color="#311440"/><stop offset=".345" stop-color="#321644"/><stop offset=".387" stop-color="#3e3a96"/><stop offset=".429" stop-color="#455fd4"/><stop offset=".462" stop-color="#467bf3"/><stop offset=".496" stop-color="#4097ff"/><stop offset=".521" stop-color="#34acf7"/><stop offset=".563" stop-color="#1dccd9"/><stop offset=".605" stop-color="#1ae4b6"/><stop offset=".639" stop-color="#30f19a"/><stop offset=".681" stop-color="#5bfb71"/><stop offset=".723" stop-color="#87ff4f"/><stop offset=".756" stop-color="#a1fd3d"/><stop offset=".798" stop-color="#b9f635"/><stop offset=".874" stop-color="#d7e535"/><stop offset="1" stop-color="#e8d639"/></linearGradient><linearGradient id="g75" x2=".5" spreadMethod="reflect"><stop offset="0" stop-color="#34acf8"/><stop offset=".067" stop-color="#38a6fb"/><stop offset=".143" stop-color="#4391fe"/><stop offset=".21" stop-color="#4773eb"/><stop offset=".244" stop-color="#465fd4"/><stop offset=".277" stop-color="#4249b1"/><stop offset=".311" stop-color="#3b2f7f"/><stop offset=".345" stop-color="#31133d"/><stop offset=".353" stop-color="#331748"/><stop offset=".395" stop-color="#3f3d9b"/><stop offset=".429" stop-color="#455bce"/><stop offset=".462" stop-color="#4778f0"/><stop offset=".496" stop-color="#4295ff"/><stop offset=".529" stop-color="#30b1f4"/><stop offset=".571" stop-color="#1bd1d3"/><stop offset=".605" stop-color="#1ae4b7"/><stop offset=".639" stop-color="#30f19a"/><stop offset=".681" stop-color="#5cfb71"/><stop offset=".723" stop-color="#88ff4e"/><stop offset=".756" stop-color="#a2fd3c"/><stop offset=".798" stop-color="#baf534"/><stop offset=".874" stop-color="#d9e436"/><stop offset="1" stop-color="#ead439"/></linearGradient><linearGradient id="g76" x2=".5" spreadMethod="reflect"><stop offset="0" stop-color="#2eb4f2"/><stop offset=".076" stop-color="#34acf8"/><stop offset=".151" stop-color="#4195ff"/><stop offset=".185" stop-color="#4686fb"/><stop offset=".218" stop-color="#4775ed"/><stop offset=".252" stop-color="#4661d6"/><stop offset=".286" stop-color="#4249b2"/><stop offset=".319" stop-color="#3b2f7e"/><stop offset=".353" stop-color="#30123b"/><stop offset=".395" stop-color="#3e3892"/><stop offset=".437" stop-color="#455ed3"/><stop offset=".471" stop-color="#467cf4"/><stop offset=".504" stop-color="#3f99ff"/><stop offset=".529" stop-color="#32aff6"/><stop offset=".571" stop-color="#1bd0d4"/><stop offset=".605" stop-color="#1ae4b8"/><stop offset=".63" stop-color="#28eea3"/><stop offset=".672" stop-color="#53fa78"/><stop offset=".714" stop-color="#81ff53"/><stop offset=".748" stop-color="#9efd3f"/><stop offset=".79" stop-color="#b8f635"/><stop offset=".866" stop-color="#d9e436"/><stop offset=".933" stop-color="#e7d739"/><stop offset="1" stop-color="#ecd239"/></linearGradient><linearGradient id="g77" x2=".5" spreadMethod="reflect"><stop offset="0" stop-color="#29bbec"/><stop offset=".109" stop-color="#34abf8"/><stop offset=".176" stop-color="#4391fe"/><stop offset=".218" stop-color="#467cf3"/><stop offset=".252" stop-color="#4668df"/><stop offset=".286" stop-color="#4350bd"/><stop offset=".319" stop-color="#3d358c"/><stop offset=".353" stop-color="#331748"/><stop offset=".361" stop-color="#31133e"/><stop offset=".403" stop-color="#3f3b98"/><stop offset=".437" stop-color="#455bce"/><stop offset=".471" stop-color="#4779f1"/><stop offset=".504" stop-color="#4197ff"/><stop offset=".529" stop-color="#33adf7"/><stop offset=".571" stop-color="#1ccfd6"/><stop offset=".605" stop-color="#19e3b8"/><stop offset=".639" stop-color="#2ff19b"/><stop offset=".681" stop-color="#5dfc6f"/><stop offset=".714" stop-color="#83ff52"/><stop offset=".748" stop-color="#a0fd3e"/><stop offset=".79" stop-color="#baf635"/><stop offset=".866" stop-color="#dbe236"/><stop offset=".933" stop-color="#ead439"/><stop offset="1" stop-color="#eecf3a"/></linearGradient><linearGradient id="g78" x2=".5" spreadMethod="reflect"><stop offset="0" stop-color="#23c3e4"/><stop offset=".109" stop-color="#2fb3f3"/><stop offset=".176" stop-color="#4099ff"/><stop offset=".227" stop-color="#467ef5"/><stop offset=".261" stop-color="#4669e0"/><stop offset=".294" stop-color="#4350bd"/><stop offset=".328" stop-color="#3d3489"/><stop offset=".361" stop-color="#321542"/><stop offset=".37" stop-color="#321644"/><stop offset=".412" stop-color="#403f9e"/><stop offset=".445" stop-color="#455fd3"/><stop offset=".479" stop-color="#467ef5"/><stop offset=".504" stop-color="#4294ff"/><stop offset=".529" stop-color="#34abf8"/><stop offset=".571" stop-color="#1cced7"/><stop offset=".597" stop-color="#18dec0"/><stop offset=".613" stop-color="#1de7b2"/><stop offset=".647" stop-color="#38f492"/><stop offset=".697" stop-color="#72fe5e"/><stop offset=".748" stop-color="#a2fd3d"/><stop offset=".79" stop-color="#bcf534"/><stop offset=".866" stop-color="#dde037"/><stop offset=".924" stop-color="#ebd339"/><stop offset="1" stop-color="#f0cd3a"/></linearGradient><linearGradient id="g79" x2=".5" spreadMethod="reflect"><stop offset="0" stop-color="#1ecadc"/><stop offset=".059" stop-color="#21c6e1"/><stop offset=".118" stop-color="#2bb8ee"/><stop offset=".193" stop-color="#4098ff"/><stop offset=".235" stop-color="#4680f6"/><stop offset=".269" stop-color="#4669e1"/><stop offset=".303" stop-color="#4350bc"/><stop offset=".336" stop-color="#3c3386"/><stop offset=".37" stop-color="#31133c"/><stop offset=".412" stop-color="#3e3a96"/><stop offset=".445" stop-color="#455bce"/><stop offset=".479" stop-color="#467bf3"/><stop offset=".504" stop-color="#4392ff"/><stop offset=".538" stop-color="#30b1f4"/><stop offset=".58" stop-color="#1ad3d0"/><stop offset=".613" stop-color="#1ce7b3"/><stop offset=".647" stop-color="#38f492"/><stop offset=".697" stop-color="#74fe5d"/><stop offset=".748" stop-color="#a4fd3c"/><stop offset=".79" stop-color="#bff434"/><stop offset=".866" stop-color="#e0de37"/><stop offset=".924" stop-color="#edd03a"/><stop offset="1" stop-color="#f2ca3a"/></linearGradient><linearGradient id="g80" x2=".5" spreadMethod="reflect"><stop offset="0" stop-color="#1bd1d3"/><stop offset=".059" stop-color="#1dcdd8"/><stop offset=".118" stop-color="#25c0e7"/><stop offset=".193" stop-color="#3c9ffd"/><stop offset=".235" stop-color="#4686fb"/><stop offset=".269" stop-color="#4770e8"/><stop offset=".303" stop-color="#4456c6"/><stop offset=".336" stop-color="#3e3993"/><stop offset=".37" stop-color="#33184a"/><stop offset=".378" stop-color="#31133e"/><stop offset=".412" stop-color="#3d368d"/><stop offset=".445" stop-color="#4558c9"/><stop offset=".479" stop-color="#4778f0"/><stop offset=".513" stop-color="#4098ff"/><stop offset=".538" stop-color="#31aff5"/><stop offset=".58" stop-color="#1ad2d1"/><stop offset=".613" stop-color="#1ce7b3"/><stop offset=".639" stop-color="#30f19a"/><stop offset=".681" stop-color="#61fc6c"/><stop offset=".739" stop-color="#a0fd3e"/><stop offset=".782" stop-color="#bcf534"/><stop offset=".857" stop-color="#e0de37"/><stop offset=".924" stop-color="#efce3a"/><stop offset="1" stop-color="#f4c73a"/></linearGradient><linearGradient id="g81" x2=".5" spreadMethod="reflect"><stop offset="0" stop-color="#18d8ca"/><stop offset=".059" stop-color="#1ad4cf"/><stop offset=".126" stop-color="#22c4e3"/><stop offset=".202" stop-color="#3ba2fc"/><stop offset=".244" stop-color="#4588fb"/><stop offset=".277" stop-color="#4770e8"/><stop offset=".311" stop-color="#4455c5"/><stop offset=".345" stop-color="#3d378f"/><stop offset=".378" stop-color="#321542"/><stop offset=".387" stop-color="#321746"/><stop offset=".42" stop-color="#3e3a95"/><stop offset=".454" stop-color="#455dd0"/><stop offset=".487" stop-color="#467ef5"/><stop offset=".513" stop-color="#4196ff"/><stop offset=".538" stop-color="#32aef6"/><stop offset=".58" stop-color="#1ad2d2"/><stop offset=".613" stop-color="#1ce6b3"/><stop offset=".647" stop-color="#39f490"/><stop offset=".697" stop-color="#78fe5a"/><stop offset=".739" stop-color="#a2fd3d"/><stop offset=".782" stop-color="#bff434"/><stop offset=".857" stop-color="#e2dc38"/><stop offset=".924" stop-color="#f1cb3a"/><stop offset="1" stop-color="#f6c33a"/></linearGradient><linearGradient id="g82" x2=".5" spreadMethod="reflect"><stop offset="0" stop-color="#18dec1"/><stop offset=".067" stop-color="#18d9c8"/><stop offset=".134" stop-color="#20c8de"/><stop offset=".21" stop-color="#39a4fc"/><stop offset=".252" stop-color="#4589fc"/><stop offset=".286" stop-color="#4770e8"/><stop offset=".319" stop-color="#4454c3"/><stop offset=".353" stop-color="#3d348a"/><stop offset=".387" stop-color="#30123b"/><stop offset=".42" stop-color="#3d368d"/><stop offset=".454" stop-color="#4559cb"/><stop offset=".487" stop-color="#467bf3"/><stop offset=".513" stop-color="#4294ff"/><stop offset=".538" stop-color="#33acf7"/><stop offset=".58" stop-color="#1bd1d2"/><stop offset=".613" stop-color="#1ce6b3"/><stop offset=".647" stop-color="#3af490"/><stop offset=".697" stop-color="#7afe58"/><stop offset=".739" stop-color="#a4fc3c"/><stop offset=".798" stop-color="#cbed34"/><stop offset=".857" stop-color="#e5d938"/><stop offset=".933" stop-color="#f4c63a"/><stop offset="1" stop-color="#f7c03a"/></linearGradient><linearGradient id="g83" x2=".5" spreadMethod="reflect"><stop offset="0" stop-color="#19e3b9"/><stop offset=".067" stop-color="#18dfbf"/><stop offset=".134" stop-color="#1ccfd5"/><stop offset=".218" stop-color="#38a6fb"/><stop offset=".261" stop-color="#4589fc"/><stop offset=".294" stop-color="#4770e8"/><stop offset=".319" stop-color="#455acc"/><stop offset=".353" stop-color="#3e3a95"/><stop offset=".387" stop-color="#321746"/><stop offset=".395" stop-color="#321644"/><stop offset=".429" stop-color="#3f3b97"/><stop offset=".462" stop-color="#455fd3"/><stop offset=".496" stop-color="#4681f7"/><stop offset=".521" stop-color="#3f9afe"/><stop offset=".546" stop-color="#2fb3f3"/><stop offset=".58" stop-color="#1bd1d3"/><stop offset=".613" stop-color="#1ce6b3"/><stop offset=".647" stop-color="#3bf58f"/><stop offset=".697" stop-color="#7cff57"/><stop offset=".739" stop-color="#a6fc3a"/><stop offset=".798" stop-color="#ceeb34"/><stop offset=".857" stop-color="#e8d639"/><stop offset=".933" stop-color="#f6c23a"/><stop offset="1" stop-color="#f9bc39"/></linearGradient><linearGradient id="g84" x2=".5" spreadMethod="reflect"><stop offset="0" stop-color="#1ee8b1"/><stop offset=".076" stop-color="#19e3b9"/><stop offset=".143" stop-color="#1ad3d1"/><stop offset=".227" stop-color="#37a8fa"/><stop offset=".269" stop-color="#458afc"/><stop offset=".303" stop-color="#476fe7"/><stop offset=".336" stop-color="#4350bd"/><stop offset=".37" stop-color="#3b2e7d"/><stop offset=".395" stop-color="#30123b"/><stop offset=".429" stop-color="#3d378f"/><stop offset=".462" stop-color="#455ccf"/><stop offset=".496" stop-color="#467ff6"/><stop offset=".521" stop-color="#4099ff"/><stop offset=".546" stop-color="#2fb2f3"/><stop offset=".58" stop-color="#1bd0d4"/><stop offset=".613" stop-color="#1ce7b3"/><stop offset=".639" stop-color="#32f298"/><stop offset=".672" stop-color="#5dfc6f"/><stop offset=".706" stop-color="#89ff4d"/><stop offset=".731" stop-color="#a2fd3d"/><stop offset=".773" stop-color="#c1f234"/><stop offset=".849" stop-color="#e8d639"/><stop offset=".924" stop-color="#f7c03a"/><stop offset="1" stop-color="#fab938"/></linearGradient><linearGradient id="g85" x2=".5" spreadMethod="reflect"><stop offset="0" stop-color="#25eca7"/><stop offset=".076" stop-color="#1de7b1"/><stop offset=".151" stop-color="#19d6cc"/><stop offset=".235" stop-color="#36a9f9"/><stop offset=".277" stop-color="#458afc"/><stop offset=".311" stop-color="#476de6"/><stop offset=".336" stop-color="#4456c7"/><stop offset=".37" stop-color="#3c3388"/><stop offset=".395" stop-color="#331748"/><stop offset=".403" stop-color="#321543"/><stop offset=".437" stop-color="#3f3c9a"/><stop offset=".462" stop-color="#4559ca"/><stop offset=".496" stop-color="#467df4"/><stop offset=".521" stop-color="#4197ff"/><stop offset=".546" stop-color="#30b1f4"/><stop offset=".58" stop-color="#1bd0d4"/><stop offset=".613" stop-color="#1ce7b3"/><stop offset=".639" stop-color="#33f297"/><stop offset=".689" stop-color="#76fe5b"/><stop offset=".731" stop-color="#a5fc3b"/><stop offset=".79" stop-color="#cfeb34"/><stop offset=".849" stop-color="#ead339"/><stop offset=".924" stop-color="#f9bd39"/><stop offset="1" stop-color="#fcb437"/></linearGradient><linearGradient id="g86" x2=".5" spreadMethod="reflect"><stop offset="0" stop-color="#2ef09d"/><stop offset=".076" stop-color="#24eca8"/><stop offset=".16" stop-color="#18d9c8"/><stop offset=".235" stop-color="#31b0f5"/><stop offset=".277" stop-color="#4390fe"/><stop offset=".311" stop-color="#4773ec"/><stop offset=".345" stop-color="#4453c3"/><stop offset=".378" stop-color="#3b3080"/><stop offset=".403" stop-color="#30123b"/><stop offset=".437" stop-color="#3e3892"/><stop offset=".462" stop-color="#4455c6"/><stop offset=".496" stop-color="#477bf2"/><stop offset=".521" stop-color="#4195ff"/><stop offset=".546" stop-color="#31b0f5"/><stop offset=".58" stop-color="#1bd0d5"/><stop offset=".613" stop-color="#1de7b2"/><stop offset=".639" stop-color="#34f396"/><stop offset=".689" stop-color="#79fe59"/><stop offset=".731" stop-color="#a7fc3a"/><stop offset=".79" stop-color="#d2e935"/><stop offset=".849" stop-color="#edd03a"/><stop offset=".924" stop-color="#fab938"/><stop offset="1" stop-color="#fdb035"/></linearGradient><linearGradient id="g87" x2=".5" spreadMethod="reflect"><stop offset="0" stop-color="#39f491"/><stop offset=".076" stop-color="#2df09d"/><stop offset=".168" stop-color="#18dbc4"/><stop offset=".202" stop-color="#1dccd9"/><stop offset=".252" stop-color="#35abf8"/><stop offset=".286" stop-color="#448ffe"/><stop offset=".319" stop-color="#4772ea"/><stop offset=".345" stop-color="#4559cb"/><stop offset=".378" stop-color="#3d358b"/><stop offset=".403" stop-color="#321747"/><stop offset=".412" stop-color="#321645"/><stop offset=".445" stop-color="#403f9e"/><stop offset=".471" stop-color="#455cd0"/><stop offset=".496" stop-color="#4778f0"/><stop offset=".521" stop-color="#4294ff"/><stop offset=".546" stop-color="#32aff6"/><stop offset=".58" stop-color="#1bd0d5"/><stop offset=".613" stop-color="#1de7b2"/><stop offset=".639" stop-color="#35f395"/><stop offset=".689" stop-color="#7cff57"/><stop offset=".723" stop-color="#a3fd3c"/><stop offset=".782" stop-color="#d0ea34"/><stop offset=".84" stop-color="#edd03a"/><stop offset=".924" stop-color="#fcb437"/><stop offset="1" stop-color="#fdab34"/></linearGradient><linearGradient id="g88" x2=".5" spreadMethod="reflect"><stop offset="0" stop-color="#45f785"/><stop offset=".076" stop-color="#37f492"/><stop offset=".176" stop-color="#18dec1"/><stop offset=".21" stop-color="#1cced7"/><stop offset=".261" stop-color="#34abf8"/><stop offset=".294" stop-color="#448efe"/><stop offset=".328" stop-color="#4770e8"/><stop offset=".353" stop-color="#4456c6"/><stop offset=".378" stop-color="#3e3a95"/><stop offset=".412" stop-color="#30123b"/><stop offset=".445" stop-color="#3f3b98"/><stop offset=".471" stop-color="#4559cc"/><stop offset=".496" stop-color="#4776ee"/><stop offset=".521" stop-color="#4392ff"/><stop offset=".546" stop-color="#32aef6"/><stop offset=".58" stop-color="#1bcfd5"/><stop offset=".597" stop-color="#18ddc2"/><stop offset=".613" stop-color="#1de7b1"/><stop offset=".639" stop-color="#36f393"/><stop offset=".689" stop-color="#7fff54"/><stop offset=".723" stop-color="#a5fc3b"/><stop offset=".782" stop-color="#d3e835"/><stop offset=".84" stop-color="#f0cd3a"/><stop offset=".924" stop-color="#fdb035"/><stop offset="1" stop-color="#fea631"/></linearGradient><linearGradient id="g89" x2=".5" spreadMethod="reflect"><stop offset="0" stop-color="#53fa79"/><stop offset=".076" stop-color="#44f786"/><stop offset=".185" stop-color="#18e0be"/><stop offset=".227" stop-color="#1ecadc"/><stop offset=".269" stop-color="#35abf8"/><stop offset=".294" stop-color="#4295ff"/><stop offset=".319" stop-color="#467df5"/><stop offset=".353" stop-color="#455bcf"/><stop offset=".387" stop-color="#3d358c"/><stop offset=".412" stop-color="#321645"/><stop offset=".42" stop-color="#331848"/><stop offset=".454" stop-color="#4042a5"/><stop offset=".479" stop-color="#4661d6"/><stop offset=".504" stop-color="#467ef5"/><stop offset=".529" stop-color="#3f9afe"/><stop offset=".555" stop-color="#2cb6f0"/><stop offset=".58" stop-color="#1ccfd5"/><stop offset=".597" stop-color="#18ddc2"/><stop offset=".613" stop-color="#1de8b1"/><stop offset=".639" stop-color="#38f492"/><stop offset=".681" stop-color="#76fe5b"/><stop offset=".723" stop-color="#a8fc3a"/><stop offset=".782" stop-color="#d7e535"/><stop offset=".84" stop-color="#f2c93a"/><stop offset=".933" stop-color="#fea833"/><stop offset="1" stop-color="#fea02f"/></linearGradient><linearGradient id="g90" x2=".5" spreadMethod="reflect"><stop offset="0" stop-color="#61fc6c"/><stop offset=".042" stop-color="#5cfc70"/><stop offset=".084" stop-color="#4ef97d"/><stop offset=".193" stop-color="#19e1bb"/><stop offset=".235" stop-color="#1ecbdb"/><stop offset=".277" stop-color="#35aaf9"/><stop offset=".303" stop-color="#4293ff"/><stop offset=".328" stop-color="#467bf3"/><stop offset=".361" stop-color="#4558c9"/><stop offset=".387" stop-color="#3e3a96"/><stop offset=".42" stop-color="#31133d"/><stop offset=".454" stop-color="#403f9f"/><stop offset=".479" stop-color="#455ed2"/><stop offset=".504" stop-color="#467cf3"/><stop offset=".529" stop-color="#4099ff"/><stop offset=".555" stop-color="#2db6f1"/><stop offset=".58" stop-color="#1ccfd5"/><stop offset=".605" stop-color="#19e3b9"/><stop offset=".63" stop-color="#2ef19c"/><stop offset=".664" stop-color="#5ffc6e"/><stop offset=".689" stop-color="#85ff50"/><stop offset=".714" stop-color="#a3fd3c"/><stop offset=".739" stop-color="#baf634"/><stop offset=".773" stop-color="#d5e735"/><stop offset=".832" stop-color="#f2c93a"/><stop offset=".924" stop-color="#fea531"/><stop offset="1" stop-color="#fe992d"/></linearGradient><linearGradient id="g91" x2=".5" spreadMethod="reflect"><stop offset="0" stop-color="#70fe60"/><stop offset=".042" stop-color="#6bfd64"/><stop offset=".092" stop-color="#57fb74"/><stop offset=".176" stop-color="#23eca9"/><stop offset=".21" stop-color="#18dfbf"/><stop offset=".244" stop-color="#1eccda"/><stop offset=".277" stop-color="#30b1f4"/><stop offset=".311" stop-color="#4391fe"/><stop offset=".336" stop-color="#4778f0"/><stop offset=".37" stop-color="#4453c3"/><stop offset=".395" stop-color="#3d358b"/><stop offset=".42" stop-color="#311440"/><stop offset=".429" stop-color="#341a4f"/><stop offset=".454" stop-color="#3f3b98"/><stop offset=".479" stop-color="#455ccf"/><stop offset=".504" stop-color="#477af2"/><stop offset=".529" stop-color="#4098ff"/><stop offset=".555" stop-color="#2db5f1"/><stop offset=".58" stop-color="#1ccfd5"/><stop offset=".605" stop-color="#1ae3b8"/><stop offset=".63" stop-color="#30f19a"/><stop offset=".664" stop-color="#62fc6b"/><stop offset=".689" stop-color="#89ff4d"/><stop offset=".714" stop-color="#a6fc3a"/><stop offset=".773" stop-color="#d8e436"/><stop offset=".832" stop-color="#f4c63a"/><stop offset=".924" stop-color="#fe9f2f"/><stop offset="1" stop-color="#fe932a"/></linearGradient><linearGradient id="g92" x2=".5" spreadMethod="reflect"><stop offset="0" stop-color="#7fff55"/><stop offset=".05" stop-color="#77fe5a"/><stop offset=".101" stop-color="#61fc6c"/><stop offset=".185" stop-color="#26eda5"/><stop offset=".218" stop-color="#18e0bd"/><stop offset=".252" stop-color="#1dccda"/><stop offset=".286" stop-color="#31b0f5"/><stop offset=".311" stop-color="#4098ff"/><stop offset=".336" stop-color="#467ef5"/><stop offset=".361" stop-color="#4662d8"/><stop offset=".395" stop-color="#3e3a95"/><stop offset=".42" stop-color="#33184b"/><stop offset=".429" stop-color="#321644"/><stop offset=".454" stop-color="#3e3892"/><stop offset=".479" stop-color="#4559cb"/><stop offset=".504" stop-color="#4778f0"/><stop offset=".529" stop-color="#4197ff"/><stop offset=".555" stop-color="#2eb5f1"/><stop offset=".58" stop-color="#1ccfd5"/><stop offset=".605" stop-color="#1ae4b8"/><stop offset=".63" stop-color="#31f299"/><stop offset=".681" stop-color="#80ff54"/><stop offset=".714" stop-color="#a9fb39"/><stop offset=".773" stop-color="#dbe236"/><stop offset=".824" stop-color="#f4c63a"/><stop offset=".924" stop-color="#fe992c"/><stop offset="1" stop-color="#fd8c27"/></linearGradient><linearGradient id="g93" x2=".5" spreadMethod="reflect"><stop offset="0" stop-color="#8dff4b"/><stop offset=".05" stop-color="#86ff50"/><stop offset=".101" stop-color="#70fe60"/><stop offset=".143" stop-color="#52fa7a"/><stop offset=".193" stop-color="#29eea2"/><stop offset=".227" stop-color="#18e1bc"/><stop offset=".261" stop-color="#1dccda"/><stop offset=".294" stop-color="#32aff6"/><stop offset=".319" stop-color="#4195ff"/><stop offset=".345" stop-color="#477bf2"/><stop offset=".378" stop-color="#4454c3"/><stop offset=".403" stop-color="#3d3488"/><stop offset=".429" stop-color="#30123b"/><stop offset=".454" stop-color="#3d358b"/><stop offset=".479" stop-color="#4457c8"/><stop offset=".504" stop-color="#4777ef"/><stop offset=".529" stop-color="#4196ff"/><stop offset=".555" stop-color="#2eb4f2"/><stop offset=".58" stop-color="#1bcfd5"/><stop offset=".605" stop-color="#1ae4b7"/><stop offset=".63" stop-color="#33f297"/><stop offset=".655" stop-color="#5afb72"/><stop offset=".681" stop-color="#84ff51"/><stop offset=".706" stop-color="#a4fc3c"/><stop offset=".731" stop-color="#bdf434"/><stop offset=".765" stop-color="#d9e336"/><stop offset=".824" stop-color="#f7c23a"/><stop offset=".924" stop-color="#fe9229"/><stop offset="1" stop-color="#fc8524"/></linearGradient><linearGradient id="g94" x2=".5" spreadMethod="reflect"><stop offset="0" stop-color="#99fe42"/><stop offset=".059" stop-color="#91ff48"/><stop offset=".109" stop-color="#79fe59"/><stop offset=".176" stop-color="#41f689"/><stop offset=".21" stop-color="#25eca7"/><stop offset=".235" stop-color="#19e1bb"/><stop offset=".261" stop-color="#1ad2d2"/><stop offset=".294" stop-color="#2db5f1"/><stop offset=".328" stop-color="#4392ff"/><stop offset=".353" stop-color="#4777ef"/><stop offset=".378" stop-color="#4559cb"/><stop offset=".403" stop-color="#3e3892"/><stop offset=".429" stop-color="#321543"/><stop offset=".437" stop-color="#331a4e"/><stop offset=".462" stop-color="#3f3d9c"/><stop offset=".487" stop-color="#465fd4"/><stop offset=".513" stop-color="#4680f6"/><stop offset=".529" stop-color="#4295ff"/><stop offset=".555" stop-color="#2eb4f2"/><stop offset=".58" stop-color="#1bd0d5"/><stop offset=".605" stop-color="#1ae5b6"/><stop offset=".63" stop-color="#34f395"/><stop offset=".664" stop-color="#6cfd63"/><stop offset=".689" stop-color="#94fe46"/><stop offset=".714" stop-color="#b0f937"/><stop offset=".756" stop-color="#d6e635"/><stop offset=".815" stop-color="#f6c23a"/><stop offset=".916" stop-color="#fd8e28"/><stop offset="1" stop-color="#fb7d20"/></linearGradient><linearGradient id="g95" x2=".5" spreadMethod="reflect"><stop offset="0" stop-color="#a5fc3b"/><stop offset=".067" stop-color="#9bfe41"/><stop offset=".118" stop-color="#81ff53"/><stop offset=".185" stop-color="#45f785"/><stop offset=".218" stop-color="#26eda5"/><stop offset=".244" stop-color="#19e2bb"/><stop offset=".277" stop-color="#1ecadb"/><stop offset=".303" stop-color="#2fb3f3"/><stop offset=".328" stop-color="#4098ff"/><stop offset=".353" stop-color="#467cf3"/><stop offset=".378" stop-color="#455ed2"/><stop offset=".403" stop-color="#3f3d9b"/><stop offset=".429" stop-color="#33194d"/><stop offset=".437" stop-color="#321644"/><stop offset=".462" stop-color="#3e3a96"/><stop offset=".487" stop-color="#455dd1"/><stop offset=".513" stop-color="#467ef5"/><stop offset=".529" stop-color="#4294ff"/><stop offset=".555" stop-color="#2eb3f2"/><stop offset=".58" stop-color="#1bd0d4"/><stop offset=".605" stop-color="#1be5b5"/><stop offset=".63" stop-color="#36f393"/><stop offset=".681" stop-color="#8bff4c"/><stop offset=".697" stop-color="#a2fd3d"/><stop offset=".723" stop-color="#bcf534"/><stop offset=".765" stop-color="#e0de37"/><stop offset=".807" stop-color="#f6c33a"/><stop offset=".849" stop-color="#feaa33"/><stop offset=".916" stop-color="#fc8624"/><stop offset="1" stop-color="#f9751d"/></linearGradient><linearGradient id="g96" x2=".5" spreadMethod="reflect"><stop offset="0" stop-color="#affa37"/><stop offset=".067" stop-color="#a5fc3b"/><stop offset=".126" stop-color="#89ff4d"/><stop offset=".193" stop-color="#49f881"/><stop offset=".227" stop-color="#27eea4"/><stop offset=".252" stop-color="#19e2bb"/><stop offset=".277" stop-color="#1bd0d4"/><stop offset=".311" stop-color="#30b1f4"/><stop offset=".336" stop-color="#4295ff"/><stop offset=".361" stop-color="#4778f0"/><stop offset=".387" stop-color="#4558ca"/><stop offset=".412" stop-color="#3d368d"/><stop offset=".437" stop-color="#30123b"/><stop offset=".462" stop-color="#3e3790"/><stop offset=".487" stop-color="#455bce"/><stop offset=".513" stop-color="#467df4"/><stop offset=".529" stop-color="#4293ff"/><stop offset=".555" stop-color="#2fb3f3"/><stop offset=".58" stop-color="#1bd0d4"/><stop offset=".605" stop-color="#1be6b4"/><stop offset=".63" stop-color="#39f491"/><stop offset=".681" stop-color="#8fff49"/><stop offset=".714" stop-color="#b7f735"/><stop offset=".756" stop-color="#dee037"/><stop offset=".798" stop-color="#f5c43a"/><stop offset=".849" stop-color="#fea431"/><stop offset=".916" stop-color="#fb7f21"/><stop offset="1" stop-color="#f76d1a"/></linearGradient><linearGradient id="g97" x2=".5" spreadMethod="reflect"><stop offset="0" stop-color="#baf635"/><stop offset=".067" stop-color="#b0f937"/><stop offset=".134" stop-color="#90ff48"/><stop offset=".168" stop-color="#72fe5e"/><stop offset=".202" stop-color="#4cf97f"/><stop offset=".235" stop-color="#28eea3"/><stop offset=".261" stop-color="#19e1bb"/><stop offset=".286" stop-color="#1ccfd5"/><stop offset=".319" stop-color="#32aef6"/><stop offset=".336" stop-color="#3f9bfe"/><stop offset=".361" stop-color="#467df4"/><stop offset=".387" stop-color="#455dd1"/><stop offset=".412" stop-color="#3e3a96"/><stop offset=".437" stop-color="#321542"/><stop offset=".445" stop-color="#341b50"/><stop offset=".471" stop-color="#4041a2"/><stop offset=".487" stop-color="#4559cb"/><stop offset=".513" stop-color="#467cf3"/><stop offset=".529" stop-color="#4392fe"/><stop offset=".555" stop-color="#2fb3f3"/><stop offset=".58" stop-color="#1bd1d4"/><stop offset=".605" stop-color="#1ce6b3"/><stop offset=".63" stop-color="#3bf58f"/><stop offset=".681" stop-color="#93fe46"/><stop offset=".706" stop-color="#b2f936"/><stop offset=".739" stop-color="#d4e735"/><stop offset=".798" stop-color="#f8c03a"/><stop offset=".84" stop-color="#fea330"/><stop offset=".908" stop-color="#fa7a1f"/><stop offset=".95" stop-color="#f66c19"/><stop offset="1" stop-color="#f46516"/></linearGradient><linearGradient id="g98" x2=".5" spreadMethod="reflect"><stop offset="0" stop-color="#c4f134"/><stop offset=".076" stop-color="#b8f735"/><stop offset=".143" stop-color="#97fe44"/><stop offset=".185" stop-color="#6efe62"/><stop offset=".235" stop-color="#31f199"/><stop offset=".261" stop-color="#1be6b4"/><stop offset=".294" stop-color="#1ccdd8"/><stop offset=".319" stop-color="#2eb4f2"/><stop offset=".345" stop-color="#4196ff"/><stop offset=".361" stop-color="#4682f8"/><stop offset=".387" stop-color="#4662d8"/><stop offset=".412" stop-color="#403f9f"/><stop offset=".437" stop-color="#33194b"/><stop offset=".445" stop-color="#321748"/><stop offset=".471" stop-color="#3f3e9d"/><stop offset=".487" stop-color="#4457c8"/><stop offset=".513" stop-color="#477af2"/><stop offset=".529" stop-color="#4391fe"/><stop offset=".555" stop-color="#2fb3f3"/><stop offset=".58" stop-color="#1bd1d3"/><stop offset=".605" stop-color="#1de7b2"/><stop offset=".63" stop-color="#3df58c"/><stop offset=".664" stop-color="#7bff57"/><stop offset=".681" stop-color="#97fe43"/><stop offset=".706" stop-color="#b6f735"/><stop offset=".748" stop-color="#dfdf37"/><stop offset=".798" stop-color="#fabb39"/><stop offset=".84" stop-color="#fe9c2e"/><stop offset=".908" stop-color="#f8721c"/><stop offset=".95" stop-color="#f36416"/><stop offset="1" stop-color="#f15d13"/></linearGradient><linearGradient id="g99" x2=".5" spreadMethod="reflect"><stop offset="0" stop-color="#ceeb34"/><stop offset=".084" stop-color="#bff334"/><stop offset=".126" stop-color="#acfb38"/><stop offset=".16" stop-color="#95fe45"/><stop offset=".185" stop-color="#7cff57"/><stop offset=".218" stop-color="#51fa7a"/><stop offset=".252" stop-color="#28eea3"/><stop offset=".269" stop-color="#1be5b5"/><stop offset=".286" stop-color="#18dac6"/><stop offset=".303" stop-color="#1ecbda"/><stop offset=".328" stop-color="#31b0f5"/><stop offset=".353" stop-color="#4392fe"/><stop offset=".37" stop-color="#467df4"/><stop offset=".395" stop-color="#455bce"/><stop offset=".412" stop-color="#4143a7"/><stop offset=".445" stop-color="#31143e"/><stop offset=".471" stop-color="#3f3b98"/><stop offset=".496" stop-color="#4661d7"/><stop offset=".521" stop-color="#4685fa"/><stop offset=".538" stop-color="#3e9cfe"/><stop offset=".555" stop-color="#2fb3f3"/><stop offset=".58" stop-color="#1ad1d2"/><stop offset=".605" stop-color="#1de8b1"/><stop offset=".622" stop-color="#32f298"/><stop offset=".647" stop-color="#60fc6d"/><stop offset=".681" stop-color="#9bfe41"/><stop offset=".706" stop-color="#baf635"/><stop offset=".739" stop-color="#dce236"/><stop offset=".79" stop-color="#f9bc39"/><stop offset=".832" stop-color="#fe9c2e"/><stop offset=".899" stop-color="#f76e1a"/><stop offset=".95" stop-color="#f05c12"/><stop offset="1" stop-color="#ee5610"/></linearGradient><linearGradient id="g100" x2=".5" spreadMethod="reflect"><stop offset="0" stop-color="#d8e436"/><stop offset=".084" stop-color="#caee34"/><stop offset=".134" stop-color="#b1f936"/><stop offset=".168" stop-color="#9afe42"/><stop offset=".193" stop-color="#7fff54"/><stop offset=".227" stop-color="#52fa79"/><stop offset=".261" stop-color="#27eea4"/><stop offset=".277" stop-color="#1ae4b6"/><stop offset=".303" stop-color="#1bd1d3"/><stop offset=".336" stop-color="#33adf7"/><stop offset=".353" stop-color="#4097ff"/><stop offset=".378" stop-color="#4777ef"/><stop offset=".403" stop-color="#4454c4"/><stop offset=".429" stop-color="#3b2e7c"/><stop offset=".445" stop-color="#31133d"/><stop offset=".471" stop-color="#3e3993"/><stop offset=".496" stop-color="#465fd4"/><stop offset=".521" stop-color="#4684f9"/><stop offset=".538" stop-color="#3e9bfe"/><stop offset=".555" stop-color="#2fb3f3"/><stop offset=".58" stop-color="#1ad2d2"/><stop offset=".605" stop-color="#1ee8b0"/><stop offset=".622" stop-color="#34f395"/><stop offset=".647" stop-color="#64fd6a"/><stop offset=".681" stop-color="#9ffd3f"/><stop offset=".706" stop-color="#bef434"/><stop offset=".739" stop-color="#e0de37"/><stop offset=".79" stop-color="#fbb738"/><stop offset=".832" stop-color="#fe942a"/><stop offset=".899" stop-color="#f46617"/><stop offset=".95" stop-color="#ed540f"/><stop offset="1" stop-color="#ea4e0d"/></linearGradient><linearGradient id="g101" x2=".5" spreadMethod="reflect"><stop offset="0" stop-color="#e1dd37"/><stop offset=".092" stop-color="#d0ea35"/><stop offset=".143" stop-color="#b6f735"/><stop offset=".176" stop-color="#9efe3f"/><stop offset=".202" stop-color="#82ff52"/><stop offset=".235" stop-color="#53fa79"/><stop offset=".261" stop-color="#30f19a"/><stop offset=".286" stop-color="#1ae3b8"/><stop offset=".311" stop-color="#1ccfd6"/><stop offset=".336" stop-color="#2fb2f3"/><stop offset=".361" stop-color="#4392ff"/><stop offset=".378" stop-color="#467cf3"/><stop offset=".403" stop-color="#4559cb"/><stop offset=".429" stop-color="#3c3285"/><stop offset=".445" stop-color="#321746"/><stop offset=".454" stop-color="#341a4f"/><stop offset=".479" stop-color="#4143a7"/><stop offset=".496" stop-color="#455ed2"/><stop offset=".521" stop-color="#4683f8"/><stop offset=".538" stop-color="#3f9bfe"/><stop offset=".555" stop-color="#2fb3f3"/><stop offset=".571" stop-color="#1fc9dd"/><stop offset=".597" stop-color="#19e3b9"/><stop offset=".622" stop-color="#37f393"/><stop offset=".655" stop-color="#79fe59"/><stop offset=".681" stop-color="#a3fd3c"/><stop offset=".706" stop-color="#c2f234"/><stop offset=".739" stop-color="#e3db38"/><stop offset=".79" stop-color="#fcb236"/><stop offset=".857" stop-color="#fa781e"/><stop offset=".899" stop-color="#f15e13"/><stop offset=".95" stop-color="#e94c0d"/><stop offset="1" stop-color="#e5470b"/></linearGradient><linearGradient id="g102" x2=".5" spreadMethod="reflect"><stop offset="0" stop-color="#e9d439"/><stop offset=".05" stop-color="#e5d938"/><stop offset=".101" stop-color="#d7e535"/><stop offset=".151" stop-color="#bbf534"/><stop offset=".185" stop-color="#a1fd3d"/><stop offset=".218" stop-color="#79fe59"/><stop offset=".261" stop-color="#39f490"/><stop offset=".286" stop-color="#1de7b1"/><stop offset=".311" stop-color="#19d4cf"/><stop offset=".345" stop-color="#32aef6"/><stop offset=".361" stop-color="#4098ff"/><stop offset=".378" stop-color="#4681f7"/><stop offset=".403" stop-color="#455dd1"/><stop offset=".429" stop-color="#3d368d"/><stop offset=".445" stop-color="#341a4f"/><stop offset=".454" stop-color="#321747"/><stop offset=".479" stop-color="#4041a3"/><stop offset=".496" stop-color="#455ccf"/><stop offset=".521" stop-color="#4682f8"/><stop offset=".538" stop-color="#3f9bfe"/><stop offset=".555" stop-color="#2fb3f3"/><stop offset=".571" stop-color="#1fc9dd"/><stop offset=".597" stop-color="#1ae4b8"/><stop offset=".622" stop-color="#39f490"/><stop offset=".655" stop-color="#7dff56"/><stop offset=".672" stop-color="#9bfe41"/><stop offset=".697" stop-color="#bcf534"/><stop offset=".731" stop-color="#e0de37"/><stop offset=".756" stop-color="#f2c93a"/><stop offset=".782" stop-color="#fcb437"/><stop offset=".849" stop-color="#f9761e"/><stop offset=".891" stop-color="#f05a12"/><stop offset=".941" stop-color="#e5470b"/><stop offset="1" stop-color="#e04009"/></linearGradient><linearGradient id="g103" x2=".5" spreadMethod="reflect"><stop offset="0" stop-color="#f1cc3a"/><stop offset=".05" stop-color="#edd03a"/><stop offset=".101" stop-color="#e0de37"/><stop offset=".143" stop-color="#cbed34"/><stop offset=".193" stop-color="#a3fd3c"/><stop offset=".227" stop-color="#7afe58"/><stop offset=".269" stop-color="#38f492"/><stop offset=".294" stop-color="#1ce6b4"/><stop offset=".319" stop-color="#1bd1d3"/><stop offset=".353" stop-color="#36a9f9"/><stop offset=".37" stop-color="#4392fe"/><stop offset=".387" stop-color="#477af2"/><stop offset=".412" stop-color="#4455c5"/><stop offset=".429" stop-color="#3e3a95"/><stop offset=".454" stop-color="#31143f"/><stop offset=".479" stop-color="#403f9f"/><stop offset=".496" stop-color="#455acd"/><stop offset=".521" stop-color="#4681f7"/><stop offset=".538" stop-color="#3f9afe"/><stop offset=".555" stop-color="#2fb3f3"/><stop offset=".571" stop-color="#1fcadc"/><stop offset=".597" stop-color="#1ae4b7"/><stop offset=".622" stop-color="#3cf58d"/><stop offset=".655" stop-color="#82ff53"/><stop offset=".672" stop-color="#9ffd3f"/><stop offset=".697" stop-color="#c0f334"/><stop offset=".731" stop-color="#e4da38"/><stop offset=".756" stop-color="#f5c43a"/><stop offset=".782" stop-color="#fdae35"/><stop offset=".84" stop-color="#f9751d"/><stop offset=".891" stop-color="#ec520f"/><stop offset=".941" stop-color="#e04009"/><stop offset="1" stop-color="#db3a07"/></linearGradient><linearGradient id="g104" x2=".5" spreadMethod="reflect"><stop offset="0" stop-color="#f6c23a"/><stop offset=".05" stop-color="#f3c73a"/><stop offset=".109" stop-color="#e5d938"/><stop offset=".151" stop-color="#cfeb34"/><stop offset=".202" stop-color="#a6fc3b"/><stop offset=".235" stop-color="#7bfe58"/><stop offset=".277" stop-color="#35f394"/><stop offset=".303" stop-color="#1ae4b7"/><stop offset=".328" stop-color="#1cced7"/><stop offset=".353" stop-color="#32aef6"/><stop offset=".37" stop-color="#4197ff"/><stop offset=".387" stop-color="#467ff6"/><stop offset=".412" stop-color="#4559cc"/><stop offset=".437" stop-color="#3b3081"/><stop offset=".454" stop-color="#31133c"/><stop offset=".479" stop-color="#3f3c9a"/><stop offset=".496" stop-color="#4559cb"/><stop offset=".521" stop-color="#4680f7"/><stop offset=".538" stop-color="#3f9afe"/><stop offset=".555" stop-color="#2eb3f2"/><stop offset=".571" stop-color="#1ecbdb"/><stop offset=".597" stop-color="#1be5b5"/><stop offset=".613" stop-color="#30f19a"/><stop offset=".639" stop-color="#63fc6b"/><stop offset=".672" stop-color="#a3fd3c"/><stop offset=".697" stop-color="#c4f134"/><stop offset=".731" stop-color="#e8d639"/><stop offset=".773" stop-color="#fdb035"/><stop offset=".84" stop-color="#f66c19"/><stop offset=".882" stop-color="#ea4f0d"/><stop offset=".941" stop-color="#db3a07"/><stop offset="1" stop-color="#d53306"/></linearGradient><linearGradient id="g105" x2=".5" spreadMethod="reflect"><stop offset="0" stop-color="#fab838"/><stop offset=".059" stop-color="#f8c03a"/><stop offset=".118" stop-color="#ead439"/><stop offset=".16" stop-color="#d3e835"/><stop offset=".21" stop-color="#a7fc3a"/><stop offset=".244" stop-color="#7bfe58"/><stop offset=".286" stop-color="#33f297"/><stop offset=".303" stop-color="#1ee8b0"/><stop offset=".328" stop-color="#1ad3d0"/><stop offset=".353" stop-color="#2eb4f2"/><stop offset=".37" stop-color="#3e9cfe"/><stop offset=".387" stop-color="#4684f9"/><stop offset=".412" stop-color="#455ed2"/><stop offset=".437" stop-color="#3d3489"/><stop offset=".454" stop-color="#321644"/><stop offset=".462" stop-color="#341c54"/><stop offset=".487" stop-color="#4249b1"/><stop offset=".504" stop-color="#4665db"/><stop offset=".521" stop-color="#4680f6"/><stop offset=".538" stop-color="#3f9afe"/><stop offset=".555" stop-color="#2eb4f2"/><stop offset=".571" stop-color="#1ecbda"/><stop offset=".588" stop-color="#18dfc0"/><stop offset=".597" stop-color="#1ce6b4"/><stop offset=".613" stop-color="#32f297"/><stop offset=".647" stop-color="#7afe58"/><stop offset=".664" stop-color="#9afe41"/><stop offset=".689" stop-color="#bef434"/><stop offset=".723" stop-color="#e4da38"/><stop offset=".748" stop-color="#f6c23a"/><stop offset=".773" stop-color="#feaa33"/><stop offset=".832" stop-color="#f66b19"/><stop offset=".874" stop-color="#e84c0c"/><stop offset=".933" stop-color="#d73506"/><stop offset="1" stop-color="#ce2d04"/></linearGradient><linearGradient id="g106" x2=".5" spreadMethod="reflect"><stop offset="0" stop-color="#fdad34"/><stop offset=".059" stop-color="#fbb637"/><stop offset=".126" stop-color="#eed03a"/><stop offset=".168" stop-color="#d6e635"/><stop offset=".218" stop-color="#a8fc3a"/><stop offset=".252" stop-color="#7afe59"/><stop offset=".294" stop-color="#2ff19b"/><stop offset=".311" stop-color="#1ce6b3"/><stop offset=".336" stop-color="#1ccfd6"/><stop offset=".361" stop-color="#32aef6"/><stop offset=".378" stop-color="#4195ff"/><stop offset=".395" stop-color="#467cf4"/><stop offset=".412" stop-color="#4662d8"/><stop offset=".437" stop-color="#3e3891"/><stop offset=".454" stop-color="#33194d"/><stop offset=".462" stop-color="#33194d"/><stop offset=".487" stop-color="#4247ad"/><stop offset=".504" stop-color="#4664da"/><stop offset=".521" stop-color="#467ff6"/><stop offset=".538" stop-color="#3f9afe"/><stop offset=".555" stop-color="#2eb4f2"/><stop offset=".571" stop-color="#1dccd9"/><stop offset=".588" stop-color="#18e0be"/><stop offset=".597" stop-color="#1de7b2"/><stop offset=".613" stop-color="#35f395"/><stop offset=".63" stop-color="#59fb73"/><stop offset=".664" stop-color="#9ffd3f"/><stop offset=".689" stop-color="#c2f234"/><stop offset=".723" stop-color="#e8d639"/><stop offset=".765" stop-color="#fdac34"/><stop offset=".824" stop-color="#f66b19"/><stop offset=".866" stop-color="#e7490c"/><stop offset=".933" stop-color="#d02f05"/><stop offset="1" stop-color="#c62703"/></linearGradient><linearGradient id="g107" x2=".5" spreadMethod="reflect"><stop offset="0" stop-color="#fea130"/><stop offset=".059" stop-color="#fdaa33"/><stop offset=".134" stop-color="#f1cb3a"/><stop offset=".176" stop-color="#d9e336"/><stop offset=".227" stop-color="#a9fb39"/><stop offset=".261" stop-color="#78fe5a"/><stop offset=".294" stop-color="#39f491"/><stop offset=".319" stop-color="#1ae4b7"/><stop offset=".345" stop-color="#1ecadb"/><stop offset=".361" stop-color="#2eb4f2"/><stop offset=".378" stop-color="#3f9bfe"/><stop offset=".395" stop-color="#4681f7"/><stop offset=".412" stop-color="#4667dd"/><stop offset=".437" stop-color="#3f3b98"/><stop offset=".454" stop-color="#351d55"/><stop offset=".462" stop-color="#321645"/><stop offset=".487" stop-color="#4145aa"/><stop offset=".504" stop-color="#4662d8"/><stop offset=".521" stop-color="#467ef5"/><stop offset=".538" stop-color="#3f9afe"/><stop offset=".555" stop-color="#2eb4f2"/><stop offset=".571" stop-color="#1dcdd8"/><stop offset=".588" stop-color="#18e0bd"/><stop offset=".597" stop-color="#1ee8b0"/><stop offset=".613" stop-color="#38f492"/><stop offset=".63" stop-color="#5dfc70"/><stop offset=".647" stop-color="#84ff51"/><stop offset=".664" stop-color="#a3fd3c"/><stop offset=".689" stop-color="#c7f034"/><stop offset=".723" stop-color="#ecd239"/><stop offset=".765" stop-color="#fea632"/><stop offset=".824" stop-color="#f36215"/><stop offset=".866" stop-color="#e24209"/><stop offset=".933" stop-color="#c82903"/><stop offset="1" stop-color="#be2102"/></linearGradient><linearGradient id="g108" x2=".5" spreadMethod="reflect"><stop offset="0" stop-color="#fe932a"/><stop offset=".059" stop-color="#fe9e2e"/><stop offset=".143" stop-color="#f4c73a"/><stop offset=".185" stop-color="#dce236"/><stop offset=".235" stop-color="#a9fb39"/><stop offset=".269" stop-color="#75fe5c"/><stop offset=".303" stop-color="#34f396"/><stop offset=".319" stop-color="#1ee8b1"/><stop offset=".345" stop-color="#1bd0d5"/><stop offset=".37" stop-color="#33adf7"/><stop offset=".387" stop-color="#4293ff"/><stop offset=".403" stop-color="#4779f1"/><stop offset=".42" stop-color="#455dd1"/><stop offset=".437" stop-color="#403f9f"/><stop offset=".462" stop-color="#31133d"/><stop offset=".487" stop-color="#4143a6"/><stop offset=".504" stop-color="#4661d6"/><stop offset=".521" stop-color="#467ef5"/><stop offset=".538" stop-color="#3f99fe"/><stop offset=".555" stop-color="#2db5f1"/><stop offset=".571" stop-color="#1cced7"/><stop offset=".588" stop-color="#19e1bb"/><stop offset=".605" stop-color="#2bef9f"/><stop offset=".639" stop-color="#76fe5c"/><stop offset=".655" stop-color="#99fe42"/><stop offset=".672" stop-color="#b3f836"/><stop offset=".714" stop-color="#e8d639"/><stop offset=".748" stop-color="#fcb336"/><stop offset=".782" stop-color="#fd8926"/><stop offset=".815" stop-color="#f36215"/><stop offset=".857" stop-color="#e04009"/><stop offset=".924" stop-color="#c32503"/><stop offset="1" stop-color="#b41b01"/></linearGradient><linearGradient id="g109" x2=".5" spreadMethod="reflect"><stop offset="0" stop-color="#fc8524"/><stop offset=".067" stop-color="#fe932a"/><stop offset=".151" stop-color="#f6c33a"/><stop offset=".193" stop-color="#dee037"/><stop offset=".244" stop-color="#a9fb39"/><stop offset=".269" stop-color="#82ff52"/><stop offset=".311" stop-color="#2ff19b"/><stop offset=".328" stop-color="#1be5b5"/><stop offset=".353" stop-color="#1ecadb"/><stop offset=".37" stop-color="#2fb2f3"/><stop offset=".387" stop-color="#4098ff"/><stop offset=".403" stop-color="#467df4"/><stop offset=".42" stop-color="#4661d6"/><stop offset=".437" stop-color="#4143a7"/><stop offset=".445" stop-color="#3c3388"/><stop offset=".462" stop-color="#31133c"/><stop offset=".487" stop-color="#4041a3"/><stop offset=".504" stop-color="#4660d5"/><stop offset=".521" stop-color="#467df4"/><stop offset=".538" stop-color="#3f99fe"/><stop offset=".555" stop-color="#2db6f1"/><stop offset=".571" stop-color="#1ccfd6"/><stop offset=".588" stop-color="#19e2ba"/><stop offset=".605" stop-color="#2ef09d"/><stop offset=".639" stop-color="#7bfe58"/><stop offset=".664" stop-color="#abfb38"/><stop offset=".697" stop-color="#dae236"/><stop offset=".723" stop-color="#f3c93a"/><stop offset=".748" stop-color="#fdac34"/><stop offset=".807" stop-color="#f36215"/><stop offset=".857" stop-color="#db3a07"/><stop offset=".941" stop-color="#b41b01"/><stop offset="1" stop-color="#aa1601"/></linearGradient><linearGradient id="g110" x2=".5" spreadMethod="reflect"><stop offset="0" stop-color="#f9761d"/><stop offset=".034" stop-color="#fa791f"/><stop offset=".076" stop-color="#fd8825"/><stop offset=".134" stop-color="#fdae34"/><stop offset=".176" stop-color="#f1cc3a"/><stop offset=".21" stop-color="#d8e536"/><stop offset=".244" stop-color="#b2f936"/><stop offset=".261" stop-color="#9cfe40"/><stop offset=".286" stop-color="#6dfe62"/><stop offset=".319" stop-color="#2aefa1"/><stop offset=".336" stop-color="#19e2ba"/><stop offset=".353" stop-color="#1bcfd5"/><stop offset=".37" stop-color="#2bb8ef"/><stop offset=".387" stop-color="#3d9dfe"/><stop offset=".395" stop-color="#448ffe"/><stop offset=".412" stop-color="#4774ec"/><stop offset=".429" stop-color="#4456c7"/><stop offset=".445" stop-color="#3e378f"/><stop offset=".462" stop-color="#321644"/><stop offset=".471" stop-color="#351e58"/><stop offset=".487" stop-color="#403f9f"/><stop offset=".504" stop-color="#455fd3"/><stop offset=".521" stop-color="#467df4"/><stop offset=".538" stop-color="#3f9afe"/><stop offset=".555" stop-color="#2cb6f0"/><stop offset=".571" stop-color="#1bd0d5"/><stop offset=".588" stop-color="#1ae3b8"/><stop offset=".605" stop-color="#30f19a"/><stop offset=".639" stop-color="#80ff54"/><stop offset=".664" stop-color="#aff937"/><stop offset=".697" stop-color="#dfdf37"/><stop offset=".723" stop-color="#f6c43a"/><stop offset=".739" stop-color="#fdb035"/><stop offset=".773" stop-color="#fc8323"/><stop offset=".807" stop-color="#ef5911"/><stop offset=".849" stop-color="#d93807"/><stop offset=".933" stop-color="#ad1701"/><stop offset="1" stop-color="#9f1101"/></linearGradient><linearGradient id="g111" x2=".5" spreadMethod="reflect"><stop offset="0" stop-color="#f56717"/><stop offset=".042" stop-color="#f66d19"/><stop offset=".076" stop-color="#fa7a1f"/><stop offset=".134" stop-color="#fea130"/><stop offset=".176" stop-color="#f6c33a"/><stop offset=".21" stop-color="#e0dd37"/><stop offset=".252" stop-color="#b1f936"/><stop offset=".269" stop-color="#9afe42"/><stop offset=".286" stop-color="#7afe58"/><stop offset=".319" stop-color="#32f297"/><stop offset=".336" stop-color="#1be6b4"/><stop offset=".353" stop-color="#19d4ce"/><stop offset=".378" stop-color="#31b0f5"/><stop offset=".395" stop-color="#4294ff"/><stop offset=".412" stop-color="#4778f0"/><stop offset=".429" stop-color="#455acd"/><stop offset=".445" stop-color="#3e3a96"/><stop offset=".462" stop-color="#33194b"/><stop offset=".471" stop-color="#341b52"/><stop offset=".487" stop-color="#3f3d9c"/><stop offset=".504" stop-color="#455ed2"/><stop offset=".521" stop-color="#467cf3"/><stop offset=".538" stop-color="#3f9afe"/><stop offset=".555" stop-color="#2cb7f0"/><stop offset=".571" stop-color="#1bd1d3"/><stop offset=".588" stop-color="#1ae5b6"/><stop offset=".605" stop-color="#33f297"/><stop offset=".639" stop-color="#85ff50"/><stop offset=".664" stop-color="#b4f836"/><stop offset=".697" stop-color="#e3db38"/><stop offset=".714" stop-color="#f3c83a"/><stop offset=".739" stop-color="#feaa33"/><stop offset=".765" stop-color="#fc8624"/><stop offset=".798" stop-color="#f05a12"/><stop offset=".849" stop-color="#d23105"/><stop offset=".933" stop-color="#a21201"/><stop offset="1" stop-color="#920c01"/></linearGradient><linearGradient id="g112" x2=".5" spreadMethod="reflect"><stop offset="0" stop-color="#ef5911"/><stop offset=".042" stop-color="#f15e13"/><stop offset=".084" stop-color="#f76f1b"/><stop offset=".143" stop-color="#fe9b2d"/><stop offset=".185" stop-color="#f7c03a"/><stop offset=".218" stop-color="#e1dd37"/><stop offset=".261" stop-color="#b0f937"/><stop offset=".277" stop-color="#97fe44"/><stop offset=".294" stop-color="#74fe5d"/><stop offset=".328" stop-color="#2cf09e"/><stop offset=".345" stop-color="#19e2ba"/><stop offset=".361" stop-color="#1ccfd6"/><stop offset=".378" stop-color="#2db6f1"/><stop offset=".395" stop-color="#3f99ff"/><stop offset=".412" stop-color="#467df4"/><stop offset=".429" stop-color="#455ed3"/><stop offset=".445" stop-color="#3f3e9d"/><stop offset=".462" stop-color="#341c53"/><stop offset=".471" stop-color="#33194b"/><stop offset=".487" stop-color="#3f3b98"/><stop offset=".504" stop-color="#455cd0"/><stop offset=".521" stop-color="#467cf3"/><stop offset=".538" stop-color="#3f9afe"/><stop offset=".555" stop-color="#2bb8ef"/><stop offset=".571" stop-color="#1ad2d2"/><stop offset=".588" stop-color="#1be6b4"/><stop offset=".605" stop-color="#36f393"/><stop offset=".63" stop-color="#76fe5c"/><stop offset=".647" stop-color="#9cfe40"/><stop offset=".664" stop-color="#b9f635"/><stop offset=".697" stop-color="#e7d739"/><stop offset=".731" stop-color="#fdae35"/><stop offset=".756" stop-color="#fd8a26"/><stop offset=".79" stop-color="#f05b12"/><stop offset=".84" stop-color="#d13005"/><stop offset=".882" stop-color="#b31b01"/><stop offset=".933" stop-color="#950d01"/><stop offset="1" stop-color="#850702"/></linearGradient><linearGradient id="g113" x2=".5" spreadMethod="reflect"><stop offset="0" stop-color="#eb500e"/><stop offset=".042" stop-color="#ee5610"/><stop offset=".084" stop-color="#f46617"/><stop offset=".143" stop-color="#fe932a"/><stop offset=".185" stop-color="#faba39"/><stop offset=".218" stop-color="#e6d838"/><stop offset=".261" stop-color="#b6f735"/><stop offset=".277" stop-color="#9dfe40"/><stop offset=".294" stop-color="#7cff56"/><stop offset=".328" stop-color="#31f299"/><stop offset=".345" stop-color="#1ae5b6"/><stop offset=".361" stop-color="#1ad2d2"/><stop offset=".387" stop-color="#34abf8"/><stop offset=".403" stop-color="#448efe"/><stop offset=".412" stop-color="#467ff6"/><stop offset=".429" stop-color="#4661d6"/><stop offset=".445" stop-color="#4040a1"/><stop offset=".462" stop-color="#351e57"/><stop offset=".471" stop-color="#321747"/><stop offset=".487" stop-color="#3e3a96"/><stop offset=".504" stop-color="#455ccf"/><stop offset=".521" stop-color="#467bf3"/><stop offset=".538" stop-color="#3f9afe"/><stop offset=".555" stop-color="#2bb8ef"/><stop offset=".571" stop-color="#1ad3d1"/><stop offset=".588" stop-color="#1ce6b3"/><stop offset=".605" stop-color="#38f491"/><stop offset=".63" stop-color="#79fe59"/><stop offset=".655" stop-color="#aefa37"/><stop offset=".689" stop-color="#e0de37"/><stop offset=".714" stop-color="#f7c03a"/><stop offset=".731" stop-color="#fdaa33"/><stop offset=".756" stop-color="#fc8424"/><stop offset=".79" stop-color="#ee5610"/><stop offset=".84" stop-color="#cc2c04"/><stop offset=".882" stop-color="#ad1701"/><stop offset=".933" stop-color="#8d0a02"/><stop offset="1" stop-color="#7c0503"/></linearGradient></defs><rect x="404.0" y="18.70" width="238.0" height="2.60" fill="url(#g0)"/><rect x="404.0" y="20.70" width="238.0" height="2.60" fill="url(#g1)"/><rect x="404.0" y="22.70" width="238.0" height="2.60" fill="url(#g2)"/><rect x="404.0" y="24.70" width="238.0" height="2.60" fill="url(#g3)"/><rect x="404.0" y="26.70" width="238.0" height="2.60" fill="url(#g4)"/><rect x="404.0" y="28.70" width="238.0" height="2.60" fill="url(#g5)"/><rect x="404.0" y="30.70" width="238.0" height="2.60" fill="url(#g6)"/><rect x="404.0" y="32.70" width="238.0" height="2.60" fill="url(#g7)"/><rect x="404.0" y="34.70" width="238.0" height="2.60" fill="url(#g8)"/><rect x="404.0" y="36.70" width="238.0" height="2.60" fill="url(#g9)"/><rect x="404.0" y="38.70" width="238.0" height="2.60" fill="url(#g10)"/><rect x="404.0" y="40.70" width="238.0" height="2.60" fill="url(#g11)"/><rect x="404.0" y="42.70" width="238.0" height="2.60" fill="url(#g12)"/><rect x="404.0" y="44.70" width="238.0" height="2.60" fill="url(#g13)"/><rect x="404.0" y="46.70" width="238.0" height="2.60" fill="url(#g14)"/><rect x="404.0" y="48.70" width="238.0" height="2.60" fill="url(#g15)"/><rect x="404.0" y="50.70" width="238.0" height="2.60" fill="url(#g16)"/><rect x="404.0" y="52.70" width="238.0" height="2.60" fill="url(#g17)"/><rect x="404.0" y="54.70" width="238.0" height="2.60" fill="url(#g18)"/><rect x="404.0" y="56.70" width="238.0" height="2.60" fill="url(#g19)"/><rect x="404.0" y="58.70" width="238.0" height="2.60" fill="url(#g20)"/><rect x="404.0" y="60.70" width="238.0" height="2.60" fill="url(#g21)"/><rect x="404.0" y="62.70" width="238.0" height="2.60" fill="url(#g22)"/><rect x="404.0" y="64.70" width="238.0" height="2.60" fill="url(#g23)"/><rect x="404.0" y="66.70" width="238.0" height="2.60" fill="url(#g24)"/><rect x="404.0" y="68.70" width="238.0" height="2.60" fill="url(#g25)"/><rect x="404.0" y="70.70" width="238.0" height="2.60" fill="url(#g26)"/><rect x="404.0" y="72.70" width="238.0" height="2.60" fill="url(#g27)"/><rect x="404.0" y="74.70" width="238.0" height="2.60" fill="url(#g28)"/><rect x="404.0" y="76.70" width="238.0" height="2.60" fill="url(#g29)"/><rect x="404.0" y="78.70" width="238.0" height="2.60" fill="url(#g30)"/><rect x="404.0" y="80.70" width="238.0" height="2.60" fill="url(#g31)"/><rect x="404.0" y="82.70" width="238.0" height="2.60" fill="url(#g32)"/><rect x="404.0" y="84.70" width="238.0" height="2.60" fill="url(#g33)"/><rect x="404.0" y="86.70" width="238.0" height="2.60" fill="url(#g34)"/><rect x="404.0" y="88.70" width="238.0" height="2.60" fill="url(#g35)"/><rect x="404.0" y="90.70" width="238.0" height="2.60" fill="url(#g36)"/><rect x="404.0" y="92.70" width="238.0" height="2.60" fill="url(#g37)"/><rect x="404.0" y="94.70" width="238.0" height="2.60" fill="url(#g38)"/><rect x="404.0" y="96.70" width="238.0" height="2.60" fill="url(#g39)"/><rect x="404.0" y="98.70" width="238.0" height="2.60" fill="url(#g40)"/><rect x="404.0" y="100.70" width="238.0" height="2.60" fill="url(#g41)"/><rect x="404.0" y="102.70" width="238.0" height="2.60" fill="url(#g42)"/><rect x="404.0" y="104.70" width="238.0" height="2.60" fill="url(#g43)"/><rect x="404.0" y="106.70" width="238.0" height="2.60" fill="url(#g44)"/><rect x="404.0" y="108.70" width="238.0" height="2.60" fill="url(#g45)"/><rect x="404.0" y="110.70" width="238.0" height="2.60" fill="url(#g46)"/><rect x="404.0" y="112.70" width="238.0" height="2.60" fill="url(#g47)"/><rect x="404.0" y="114.70" width="238.0" height="2.60" fill="url(#g48)"/><rect x="404.0" y="116.70" width="238.0" height="2.60" fill="url(#g49)"/><rect x="404.0" y="118.70" width="238.0" height="2.60" fill="url(#g50)"/><rect x="404.0" y="120.70" width="238.0" height="2.60" fill="url(#g51)"/><rect x="404.0" y="122.70" width="238.0" height="2.60" fill="url(#g52)"/><rect x="404.0" y="124.70" width="238.0" height="2.60" fill="url(#g53)"/><rect x="404.0" y="126.70" width="238.0" height="2.60" fill="url(#g54)"/><rect x="404.0" y="128.70" width="238.0" height="2.60" fill="url(#g55)"/><rect x="404.0" y="130.70" width="238.0" height="2.60" fill="url(#g56)"/><rect x="404.0" y="132.70" width="238.0" height="2.60" fill="url(#g57)"/><rect x="404.0" y="134.70" width="238.0" height="2.60" fill="url(#g58)"/><rect x="404.0" y="136.70" width="238.0" height="2.60" fill="url(#g59)"/><rect x="404.0" y="138.70" width="238.0" height="2.60" fill="url(#g60)"/><rect x="404.0" y="140.70" width="238.0" height="2.60" fill="url(#g61)"/><rect x="404.0" y="142.70" width="238.0" height="2.60" fill="url(#g62)"/><rect x="404.0" y="144.70" width="238.0" height="2.60" fill="url(#g63)"/><rect x="404.0" y="146.70" width="238.0" height="2.60" fill="url(#g64)"/><rect x="404.0" y="148.70" width="238.0" height="2.60" fill="url(#g65)"/><rect x="404.0" y="150.70" width="238.0" height="2.60" fill="url(#g66)"/><rect x="404.0" y="152.70" width="238.0" height="2.60" fill="url(#g67)"/><rect x="404.0" y="154.70" width="238.0" height="2.60" fill="url(#g68)"/><rect x="404.0" y="156.70" width="238.0" height="2.60" fill="url(#g69)"/><rect x="404.0" y="158.70" width="238.0" height="2.60" fill="url(#g70)"/><rect x="404.0" y="160.70" width="238.0" height="2.60" fill="url(#g71)"/><rect x="404.0" y="162.70" width="238.0" height="2.60" fill="url(#g72)"/><rect x="404.0" y="164.70" width="238.0" height="2.60" fill="url(#g73)"/><rect x="404.0" y="166.70" width="238.0" height="2.60" fill="url(#g74)"/><rect x="404.0" y="168.70" width="238.0" height="2.60" fill="url(#g75)"/><rect x="404.0" y="170.70" width="238.0" height="2.60" fill="url(#g76)"/><rect x="404.0" y="172.70" width="238.0" height="2.60" fill="url(#g77)"/><rect x="404.0" y="174.70" width="238.0" height="2.60" fill="url(#g78)"/><rect x="404.0" y="176.70" width="238.0" height="2.60" fill="url(#g79)"/><rect x="404.0" y="178.70" width="238.0" height="2.60" fill="url(#g80)"/><rect x="404.0" y="180.70" width="238.0" height="2.60" fill="url(#g81)"/><rect x="404.0" y="182.70" width="238.0" height="2.60" fill="url(#g82)"/><rect x="404.0" y="184.70" width="238.0" height="2.60" fill="url(#g83)"/><rect x="404.0" y="186.70" width="238.0" height="2.60" fill="url(#g84)"/><rect x="404.0" y="188.70" width="238.0" height="2.60" fill="url(#g85)"/><rect x="404.0" y="190.70" width="238.0" height="2.60" fill="url(#g86)"/><rect x="404.0" y="192.70" width="238.0" height="2.60" fill="url(#g87)"/><rect x="404.0" y="194.70" width="238.0" height="2.60" fill="url(#g88)"/><rect x="404.0" y="196.70" width="238.0" height="2.60" fill="url(#g89)"/><rect x="404.0" y="198.70" width="238.0" height="2.60" fill="url(#g90)"/><rect x="404.0" y="200.70" width="238.0" height="2.60" fill="url(#g91)"/><rect x="404.0" y="202.70" width="238.0" height="2.60" fill="url(#g92)"/><rect x="404.0" y="204.70" width="238.0" height="2.60" fill="url(#g93)"/><rect x="404.0" y="206.70" width="238.0" height="2.60" fill="url(#g94)"/><rect x="404.0" y="208.70" width="238.0" height="2.60" fill="url(#g95)"/><rect x="404.0" y="210.70" width="238.0" height="2.60" fill="url(#g96)"/><rect x="404.0" y="212.70" width="238.0" height="2.60" fill="url(#g97)"/><rect x="404.0" y="214.70" width="238.0" height="2.60" fill="url(#g98)"/><rect x="404.0" y="216.70" width="238.0" height="2.60" fill="url(#g99)"/><rect x="404.0" y="218.70" width="238.0" height="2.60" fill="url(#g100)"/><rect x="404.0" y="220.70" width="238.0" height="2.60" fill="url(#g101)"/><rect x="404.0" y="222.70" width="238.0" height="2.60" fill="url(#g102)"/><rect x="404.0" y="224.70" width="238.0" height="2.60" fill="url(#g103)"/><rect x="404.0" y="226.70" width="238.0" height="2.60" fill="url(#g104)"/><rect x="404.0" y="228.70" width="238.0" height="2.60" fill="url(#g105)"/><rect x="404.0" y="230.70" width="238.0" height="2.60" fill="url(#g106)"/><rect x="404.0" y="232.70" width="238.0" height="2.60" fill="url(#g107)"/><rect x="404.0" y="234.70" width="238.0" height="2.60" fill="url(#g108)"/><rect x="404.0" y="236.70" width="238.0" height="2.60" fill="url(#g109)"/><rect x="404.0" y="238.70" width="238.0" height="2.60" fill="url(#g110)"/><rect x="404.0" y="240.70" width="238.0" height="2.60" fill="url(#g111)"/><rect x="404.0" y="242.70" width="238.0" height="2.60" fill="url(#g112)"/><rect x="404.0" y="244.70" width="238.0" height="0.50" fill="url(#g113)"/><path d="M455.8,245.2 454.3,233.9 452.6,223.0 450.6,212.8 448.5,203.7 446.0,195.2 443.5,187.6 440.7,180.7 437.2,173.5 433.8,167.6 431.8,164.7 429.8,162.1 427.8,159.8 425.8,157.7 423.8,155.8 421.9,154.2 417.9,151.5 415.9,150.5 412.9,149.2 409.0,148.1 407.0,147.8 404.0,147.6M582.5,245.2 583.2,229.2 584.4,214.1 585.8,200.8 587.5,189.5 589.8,178.2 591.2,172.5 592.4,168.0 594.0,163.1 595.4,159.0 597.1,154.6 598.8,150.8 600.7,147.0 602.7,143.3 605.1,139.5 607.3,136.3 610.0,132.9 612.2,130.4 615.2,127.5 617.7,125.3 620.2,123.5 623.2,121.6 626.1,120.0 629.1,118.7 632.1,117.7 635.1,117.0 638.0,116.5 642.0,116.3M642.0,147.6 639.0,147.8 637.0,148.1 633.1,149.2 630.1,150.5 628.1,151.5 624.1,154.2 622.2,155.8 620.2,157.7 618.2,159.8 616.2,162.1 614.2,164.7 612.2,167.6 608.8,173.5 605.3,180.7 602.5,187.6 600.0,195.2 597.5,203.7 595.4,212.8 593.4,223.0 591.7,233.9 590.2,245.2M404.0,116.3 408.0,116.5 410.9,117.0 413.9,117.7 416.9,118.7 419.9,120.0 422.8,121.6 425.8,123.5 428.3,125.3 430.8,127.5 433.8,130.4 436.0,132.9 438.7,136.3 440.9,139.5 443.3,143.3 445.3,147.0 447.2,150.8 448.9,154.6 450.6,159.0 452.0,163.1 453.6,168.0 454.8,172.5 456.2,178.2 458.5,189.5 460.2,200.8 461.6,214.1 462.8,229.2 463.5,245.2M451.9,245.2 450.3,235.8 448.3,226.3 446.2,217.8 444.1,210.3 441.7,203.0 439.0,196.1 436.4,190.5 433.4,184.8 429.8,179.1 426.8,175.2 423.8,172.0 421.9,170.2 419.9,168.5 417.9,167.1 415.9,165.9 413.9,164.9 411.9,164.1 409.9,163.5 408.0,163.1 406.0,162.8 404.0,162.7M578.7,245.2 578.8,225.4 579.4,209.3 580.3,195.2 581.7,182.0 582.7,175.4 583.7,169.7 584.8,164.0 586.0,159.3 587.3,154.6 588.8,149.9 590.5,145.2 592.4,140.4 594.4,136.1 596.6,131.9 598.9,128.2 601.4,124.4 604.3,120.7 607.3,117.3 610.3,114.4 613.2,111.8 616.7,109.3 620.2,107.1 623.2,105.5 627.1,103.9 630.1,102.9 634.1,101.9 638.0,101.4 642.0,101.2M642.0,162.7 640.0,162.8 638.0,163.1 636.0,163.5 634.1,164.1 632.1,164.9 630.1,165.9 628.1,167.1 626.1,168.5 624.2,170.2 622.2,172.0 619.2,175.2 616.2,179.1 612.6,184.8 609.6,190.5 607.0,196.1 604.3,203.0 601.9,210.3 599.8,217.8 597.7,226.3 595.7,235.8 594.1,245.2M404.0,101.2 408.0,101.4 411.9,101.9 415.9,102.9 418.9,103.9 422.8,105.5 425.8,107.1 429.3,109.3 432.8,111.8 435.7,114.4 438.7,117.3 441.7,120.7 444.6,124.4 447.1,128.2 449.4,131.9 451.6,136.1 453.6,140.4 455.5,145.2 457.2,149.9 458.7,154.6 460.0,159.3 461.2,164.0 462.3,169.7 463.3,175.4 464.3,182.0 465.7,195.2 466.6,209.3 467.2,225.4 467.3,245.2M447.9,245.2 445.9,236.7 444.0,229.2 441.7,221.6 439.8,215.9 437.6,210.3 434.7,204.0 432.6,199.9 429.8,195.2 426.8,190.9 423.8,187.4 420.9,184.4 417.9,182.0 414.9,180.1 412.9,179.1 410.9,178.3 408.0,177.5 406.0,177.2 404.0,177.1M574.8,245.2 574.1,221.6 573.9,203.7 574.2,187.6 575.0,174.4 575.7,167.8 576.6,161.2 577.6,155.5 578.8,149.9 580.2,144.2 581.6,139.5 583.2,134.8 585.1,130.1 587.3,125.3 589.8,120.6 592.4,116.3 595.4,112.0 598.4,108.3 601.8,104.6 605.3,101.3 609.3,98.0 613.2,95.3 617.2,93.0 621.2,91.1 625.1,89.6 629.1,88.4 633.1,87.5 637.0,87.0 642.0,86.8M642.0,177.1 640.0,177.2 638.0,177.5 635.1,178.3 633.1,179.1 631.1,180.1 628.1,182.0 625.1,184.4 622.2,187.4 619.2,190.9 616.2,195.2 613.4,199.9 611.3,204.0 608.4,210.3 606.2,215.9 604.3,221.6 602.0,229.2 600.1,236.7 598.1,245.2M404.0,86.8 409.0,87.0 412.9,87.5 416.9,88.4 420.9,89.6 424.8,91.1 428.8,93.0 432.8,95.3 436.7,98.0 440.7,101.3 444.2,104.6 447.6,108.3 450.6,112.0 453.6,116.3 456.2,120.6 458.7,125.3 460.9,130.1 462.8,134.8 464.4,139.5 465.8,144.2 467.2,149.9 468.4,155.5 469.4,161.2 470.3,167.8 471.0,174.4 471.8,187.6 472.1,203.7 471.9,221.6 471.2,245.2M443.6,245.2 441.7,238.4 439.7,232.2 437.7,226.7 435.7,221.8 433.8,217.5 431.8,213.6 429.3,209.3 426.8,205.5 424.7,202.7 421.9,199.5 418.9,196.7 415.9,194.5 412.9,192.8 409.9,191.7 407.0,191.0 404.0,190.7M570.9,245.2 568.5,215.0 567.4,196.1 566.9,180.1 566.9,173.5 567.0,166.9 567.4,160.3 568.0,153.7 568.7,148.0 569.7,142.3 571.0,136.7 572.2,131.9 574.1,126.3 575.9,121.6 578.5,115.9 581.0,111.2 583.9,106.5 587.5,101.5 591.1,97.0 594.8,93.3 598.9,89.5 603.3,86.0 608.1,82.9 612.2,80.5 617.2,78.2 622.2,76.4 627.1,75.0 632.1,74.0 637.0,73.4 642.0,73.2M642.0,190.7 639.0,191.0 636.0,191.7 633.1,192.8 630.1,194.5 627.1,196.7 624.1,199.5 621.3,202.7 619.2,205.5 616.7,209.3 614.2,213.6 612.2,217.5 610.3,221.8 608.3,226.7 606.3,232.2 604.3,238.4 602.4,245.2M404.0,73.2 409.0,73.4 413.9,74.0 418.9,75.0 423.8,76.4 428.8,78.2 433.8,80.5 437.9,82.9 442.7,86.0 447.1,89.5 451.2,93.3 454.9,97.0 458.5,101.5 462.1,106.5 465.0,111.2 467.5,115.9 470.1,121.6 471.9,126.3 473.8,131.9 475.0,136.7 476.3,142.3 477.3,148.0 478.0,153.7 478.6,160.3 479.0,166.9 479.1,173.5 479.1,180.1 478.6,196.1 477.5,215.0 475.1,245.2M439.1,245.2 435.7,236.2 433.8,231.6 431.8,227.5 429.8,223.8 427.8,220.5 425.3,216.9 422.8,213.8 420.9,211.6 418.9,209.7 416.9,208.1 413.9,206.1 411.9,205.1 409.0,204.1 406.0,203.5 404.0,203.4M566.9,245.2 560.5,198.0 558.9,184.8 557.5,170.6 557.1,164.0 556.9,158.4 556.9,151.8 557.1,146.1 557.6,140.4 558.4,134.8 559.5,129.1 560.7,124.4 562.2,119.7 564.0,115.0 566.6,109.3 569.6,103.6 573.3,98.0 576.8,93.3 580.8,88.5 585.5,83.8 590.4,79.5 595.9,75.3 601.3,71.8 607.1,68.7 612.2,66.4 618.2,64.3 624.2,62.6 630.1,61.4 636.0,60.8 642.0,60.5M642.0,203.4 640.0,203.5 637.0,204.1 634.1,205.1 632.1,206.1 629.1,208.1 627.1,209.7 625.1,211.6 623.2,213.8 620.7,216.9 618.2,220.5 616.2,223.8 614.2,227.5 612.2,231.6 610.3,236.2 606.9,245.2M404.0,60.5 409.9,60.8 415.9,61.4 421.9,62.6 427.8,64.3 433.8,66.4 438.9,68.7 444.7,71.8 450.1,75.3 455.6,79.5 460.5,83.8 465.2,88.5 469.2,93.3 472.7,98.0 476.4,103.6 479.4,109.3 482.0,115.0 483.8,119.7 485.3,124.4 486.5,129.1 487.6,134.8 488.4,140.4 488.9,146.1 489.1,151.8 489.1,158.4 488.9,164.0 488.5,170.6 487.1,184.8 485.5,198.0 479.1,245.2M434.1,245.2 430.8,238.2 427.2,232.0 423.8,227.1 421.9,224.7 419.9,222.6 417.9,220.8 415.9,219.3 413.9,218.0 411.9,216.9 409.9,216.1 408.0,215.6 406.0,215.2 404.0,215.1M562.6,245.2 559.7,229.6 556.7,215.5 552.8,198.5 543.6,162.1 541.7,153.7 540.7,147.0 540.1,142.3 539.9,138.6 540.0,133.8 540.3,130.1 541.0,126.3 541.8,122.5 543.0,118.7 544.4,115.0 546.1,111.2 547.5,108.4 551.3,101.8 555.8,95.1 561.1,88.5 566.3,82.9 572.1,77.2 578.9,71.6 585.4,66.8 592.4,62.5 599.4,58.8 606.3,55.7 613.2,53.3 620.2,51.4 627.1,50.0 631.1,49.4 635.1,49.1 642.0,48.8M642.0,215.1 640.0,215.2 638.0,215.6 636.0,216.1 634.1,216.9 632.1,218.0 630.1,219.3 628.1,220.8 626.1,222.6 624.1,224.7 622.2,227.1 618.8,232.0 615.2,238.2 611.9,245.2M404.0,48.8 410.9,49.1 414.9,49.4 418.9,50.0 425.8,51.4 432.8,53.3 439.7,55.7 446.6,58.8 453.6,62.5 460.6,66.8 467.1,71.6 473.9,77.2 479.7,82.9 484.9,88.5 490.2,95.1 494.7,101.8 498.5,108.4 499.9,111.2 501.6,115.0 503.0,118.7 504.2,122.5 505.0,126.3 505.7,130.1 506.0,133.8 506.1,138.6 505.9,142.3 505.3,147.0 504.3,153.7 502.4,162.1 493.2,198.5 489.3,215.5 486.3,229.6 483.4,245.2M428.3,245.2 425.8,241.1 422.8,237.1 419.9,233.7 416.9,231.0 413.9,228.9 410.9,227.4 408.0,226.4 406.0,226.0 404.0,225.9M558.1,245.2 555.7,235.8 553.7,228.7 549.8,216.2 545.8,205.6 543.8,200.9 540.9,194.7 538.9,191.1 535.9,186.4 533.9,183.8 531.9,181.7 529.9,179.9 528.0,178.6 527.0,178.1 525.0,177.4 523.0,177.2 521.0,177.4 519.0,178.1 518.0,178.6 516.1,179.9 514.1,181.7 512.1,183.8 510.1,186.4 507.1,191.1 505.1,194.7 502.2,200.9 500.2,205.6 496.2,216.2 492.3,228.7 490.3,235.8 487.9,245.2M642.0,225.9 640.0,226.0 638.0,226.4 635.1,227.4 632.1,228.9 629.1,231.0 626.1,233.7 623.2,237.1 620.2,241.1 617.7,245.2M404.0,38.0 409.9,38.1 415.1,38.5 420.9,39.2 426.8,40.3 432.8,41.6 438.5,43.2 444.1,45.1 449.6,47.2 455.6,49.8 460.5,52.2 466.5,55.3 471.7,58.3 482.1,64.9 501.2,78.0 505.1,80.5 508.1,82.2 512.1,84.2 516.1,85.7 518.0,86.2 520.0,86.5 523.0,86.7 526.0,86.5 528.0,86.2 529.9,85.7 533.9,84.2 537.9,82.2 540.9,80.5 544.8,78.0 563.9,64.9 574.3,58.3 579.5,55.3 585.5,52.2 590.4,49.8 596.4,47.2 601.9,45.1 607.5,43.2 613.2,41.6 619.2,40.3 625.1,39.2 630.9,38.5 636.0,38.1 642.0,38.0M421.0,245.2 418.9,242.9 416.9,241.1 414.9,239.6 412.9,238.4 410.9,237.4 409.0,236.7 407.0,236.2 404.0,235.9M553.1,245.2 549.8,235.7 547.8,230.7 545.8,226.1 542.8,220.2 540.9,216.7 538.9,213.6 536.9,210.9 534.9,208.5 532.9,206.6 530.9,205.0 529.0,203.7 527.0,202.8 525.0,202.3 523.0,202.1 521.0,202.3 519.0,202.8 517.0,203.7 515.1,205.0 513.1,206.6 511.1,208.5 509.1,210.9 507.1,213.6 505.1,216.7 503.2,220.2 500.2,226.1 498.2,230.7 496.2,235.7 492.9,245.2M642.0,235.9 639.0,236.2 637.0,236.7 635.1,237.4 633.1,238.4 631.1,239.6 629.1,241.1 627.1,242.9 625.0,245.2M404.0,28.0 409.0,28.0 413.9,28.3 418.9,28.8 423.8,29.4 428.8,30.2 433.8,31.2 438.7,32.4 443.7,33.7 452.9,36.6 463.5,40.6 474.0,45.1 494.2,54.3 503.2,57.9 508.1,59.5 513.1,60.7 518.0,61.5 523.0,61.8 528.0,61.5 532.9,60.7 537.9,59.5 542.8,57.9 551.8,54.3 572.0,45.1 582.5,40.6 593.1,36.6 602.3,33.7 607.3,32.4 612.2,31.2 617.2,30.2 622.2,29.4 627.1,28.8 632.1,28.3 637.0,28.0 642.0,28.0M547.4,245.2 544.8,239.9 541.8,234.6 538.9,230.1 535.9,226.5 532.9,223.6 529.9,221.5 527.0,220.2 525.0,219.7 523.0,219.5 521.0,219.7 519.0,220.2 516.1,221.5 513.1,223.6 510.1,226.5 507.1,230.1 504.2,234.6 501.2,239.9 498.6,245.2M406.5,18.7 414.9,19.1 423.8,19.9 431.8,21.1 440.7,22.8 449.6,25.0 459.5,27.8 469.4,31.0 490.3,38.1 500.2,41.0 506.1,42.5 512.1,43.5 518.0,44.2 523.0,44.4 528.0,44.2 533.9,43.5 539.9,42.5 545.8,41.0 555.7,38.1 576.6,31.0 586.5,27.8 596.4,25.0 605.3,22.8 614.2,21.1 622.2,19.9 631.1,19.1 639.5,18.7M540.1,245.2 537.9,242.3 535.9,240.1 533.9,238.2 531.9,236.6 529.9,235.4 528.0,234.4 525.0,233.6 523.0,233.5 521.0,233.6 518.0,234.4 516.1,235.4 514.1,236.6 512.1,238.2 510.1,240.1 508.1,242.3 505.9,245.2M463.5,18.7 487.3,25.1 494.2,26.8 500.2,28.0 506.1,29.1 512.1,29.9 518.0,30.3 523.0,30.4 528.0,30.3 533.9,29.9 539.9,29.1 545.8,28.0 551.8,26.8 558.7,25.1 582.5,18.7" fill="none" stroke="#000" stroke-width="0.9" stroke-linejoin="round"/><g class="ss" font-size="8" fill="#000"><text transform="translate(533.3 28.7) rotate(-6.2)" y="2.9" text-anchor="middle">32599962.0468</text><text transform="translate(568.0 35.5) rotate(-17.0)" y="2.9" text-anchor="middle">29344123.9812</text><text transform="translate(569.0 48.0) rotate(-19.0)" y="2.9" text-anchor="middle">26088285.9156</text><text transform="translate(568.8 63.4) rotate(-26.7)" y="2.9" text-anchor="middle">22832447.8499</text><text transform="translate(573.2 80.2) rotate(-38.6)" y="2.9" text-anchor="middle">19576609.7843</text><text transform="translate(580.2 92.3) rotate(-46.8)" y="2.9" text-anchor="middle">16320771.7187</text><text transform="translate(586.1 107.5) rotate(-51.7)" y="2.9" text-anchor="middle">13064933.6531</text><text transform="translate(592.1 121.6) rotate(-56.0)" y="2.9" text-anchor="middle">9809095.5875</text><text transform="translate(596.7 135.3) rotate(-59.0)" y="2.9" text-anchor="middle">6553257.5219</text><text transform="translate(600.3 149.0) rotate(-59.6)" y="2.9" text-anchor="middle">3297419.4562</text><text transform="translate(598.8 196.4) rotate(-69.6)" y="2.9" text-anchor="middle">3297419.4562</text><text transform="translate(454.5 186.4) rotate(76.0)" y="2.9" text-anchor="middle">3297419.4562</text><text transform="translate(461.1 182.6) rotate(76.0)" y="2.9" text-anchor="middle">6553257.5219</text><text transform="translate(466.6 177.5) rotate(78.0)" y="2.9" text-anchor="middle">9809095.5875</text><text transform="translate(474.9 173.1) rotate(85.5)" y="2.9" text-anchor="middle">13064933.6531</text><text transform="translate(486.0 169.4) rotate(-87.0)" y="2.9" text-anchor="middle">16320771.7187</text><text transform="translate(498.0 168.0) rotate(-77.0)" y="2.9" text-anchor="middle">19576609.7843</text><text transform="translate(509.8 194.6) rotate(-39.0)" y="2.9" text-anchor="middle">22832447.8499</text></g><rect x="404.0" y="18.7" width="238.0" height="226.5" fill="none" stroke="#262626" stroke-width="0.6"/><path d="M404.0,245.2v-2.4M404.0,18.7v2.4M441.9,245.2v-2.4M441.9,18.7v2.4M479.8,245.2v-2.4M479.8,18.7v2.4M517.6,245.2v-2.4M517.6,18.7v2.4M555.5,245.2v-2.4M555.5,18.7v2.4M593.4,245.2v-2.4M593.4,18.7v2.4M631.3,245.2v-2.4M631.3,18.7v2.4M404.0,245.2h2.4M642.0,245.2h-2.4M404.0,191.2h2.4M642.0,191.2h-2.4M404.0,131.9h2.4M642.0,131.9h-2.4M404.0,77.9h2.4M642.0,77.9h-2.4M404.0,18.7h2.4M642.0,18.7h-2.4" stroke="#262626" stroke-width="0.6" fill="none"/><g font-size="10.3" fill="#262626"><text x="404.6" y="259.9" text-anchor="middle">0</text><text x="442.5" y="259.9" text-anchor="middle">1</text><text x="480.4" y="259.9" text-anchor="middle">2</text><text x="518.2" y="259.9" text-anchor="middle">3</text><text x="556.1" y="259.9" text-anchor="middle">4</text><text x="594.0" y="259.9" text-anchor="middle">5</text><text x="631.9" y="259.9" text-anchor="middle">6</text><text x="400.0" y="248.8" text-anchor="end">0.1</text><text x="400.0" y="194.8" text-anchor="end">0.3</text><text x="400.0" y="135.5" text-anchor="end">1</text><text x="400.0" y="81.5" text-anchor="end">3</text><text x="400.0" y="22.3" text-anchor="end">10</text></g><circle cx="409.5" cy="132.8" r="5.3" fill="#0f0"/><circle cx="521.8" cy="19.2" r="5.3" fill="#f00"/><defs><linearGradient id="cbt" x1="0" y1="0" x2="0" y2="1"><stop offset="0" stop-color="#7a0403"/><stop offset="0.02564" stop-color="#900b01"/><stop offset="0.05128" stop-color="#a41301"/><stop offset="0.07692" stop-color="#b61c02"/><stop offset="0.1026" stop-color="#c62703"/><stop offset="0.1282" stop-color="#d33205"/><stop offset="0.1538" stop-color="#df3f09"/><stop offset="0.1795" stop-color="#e94d0d"/><stop offset="0.2051" stop-color="#f15e13"/><stop offset="0.2308" stop-color="#f8711b"/><stop offset="0.2564" stop-color="#fc8524"/><stop offset="0.2821" stop-color="#fe982c"/><stop offset="0.3077" stop-color="#fdaa33"/><stop offset="0.3333" stop-color="#faba39"/><stop offset="0.359" stop-color="#f3c83a"/><stop offset="0.3846" stop-color="#e9d539"/><stop offset="0.4103" stop-color="#dce136"/><stop offset="0.4359" stop-color="#cdec34"/><stop offset="0.4615" stop-color="#bcf534"/><stop offset="0.4872" stop-color="#abfb38"/><stop offset="0.5128" stop-color="#99fe42"/><stop offset="0.5385" stop-color="#83ff51"/><stop offset="0.5641" stop-color="#6afd65"/><stop offset="0.5897" stop-color="#50fa7b"/><stop offset="0.6154" stop-color="#39f491"/><stop offset="0.641" stop-color="#26eda5"/><stop offset="0.6667" stop-color="#1ae4b6"/><stop offset="0.6923" stop-color="#18dac6"/><stop offset="0.7179" stop-color="#1dcdd8"/><stop offset="0.7436" stop-color="#26bfe8"/><stop offset="0.7692" stop-color="#32aff6"/><stop offset="0.7949" stop-color="#3c9ffd"/><stop offset="0.8205" stop-color="#448efe"/><stop offset="0.8462" stop-color="#467ef5"/><stop offset="0.8718" stop-color="#476de5"/><stop offset="0.8974" stop-color="#455cd0"/><stop offset="0.9231" stop-color="#424ab4"/><stop offset="0.9487" stop-color="#3e3892"/><stop offset="0.9744" stop-color="#382569"/><stop offset="1" stop-color="#30123b"/></linearGradient></defs><rect x="647.8" y="19.6" width="15.2" height="225.7" fill="url(#cbt)" stroke="#262626" stroke-width="0.5"/><path d="M663.0,214.1h-2.2M647.8,214.1h2.2M663.0,182.5h-2.2M647.8,182.5h2.2M663.0,151.0h-2.2M647.8,151.0h2.2M663.0,119.5h-2.2M647.8,119.5h2.2M663.0,88.0h-2.2M647.8,88.0h2.2M663.0,56.5h-2.2M647.8,56.5h2.2M663.0,25.0h-2.2M647.8,25.0h2.2" stroke="#262626" stroke-width="0.5"/><g font-size="10" fill="#262626"><text x="666.5" y="217.6">0.5</text><text x="666.5" y="186.0">1</text><text x="666.5" y="154.5">1.5</text><text x="666.5" y="123.0">2</text><text x="666.5" y="91.5">2.5</text><text x="666.5" y="60.0">3</text><text x="666.5" y="28.5">3.5</text><text x="664" y="15">×10<tspan font-size="8" dy="-4.5">7</tspan></text></g><text x="522.5" y="277" font-size="12" text-anchor="middle" fill="#262626">Initial phase difference Δ<tspan font-style="italic">ϕ</tspan> (rad)</text><text transform="translate(377 190.4) rotate(-90)" font-size="12" fill="#262626">Eccentricity ratio <tspan font-style="italic">e</tspan><tspan font-size="8.6" dy="5">1</tspan><tspan dy="-5" dx="3.5">/</tspan><tspan font-style="italic">e</tspan><tspan font-size="8.6" dy="5">2</tspan></text><text x="427.9" y="297.5" font-size="16.6" text-anchor="middle" fill="#000">(b)</text>
</svg>
</body></html>
